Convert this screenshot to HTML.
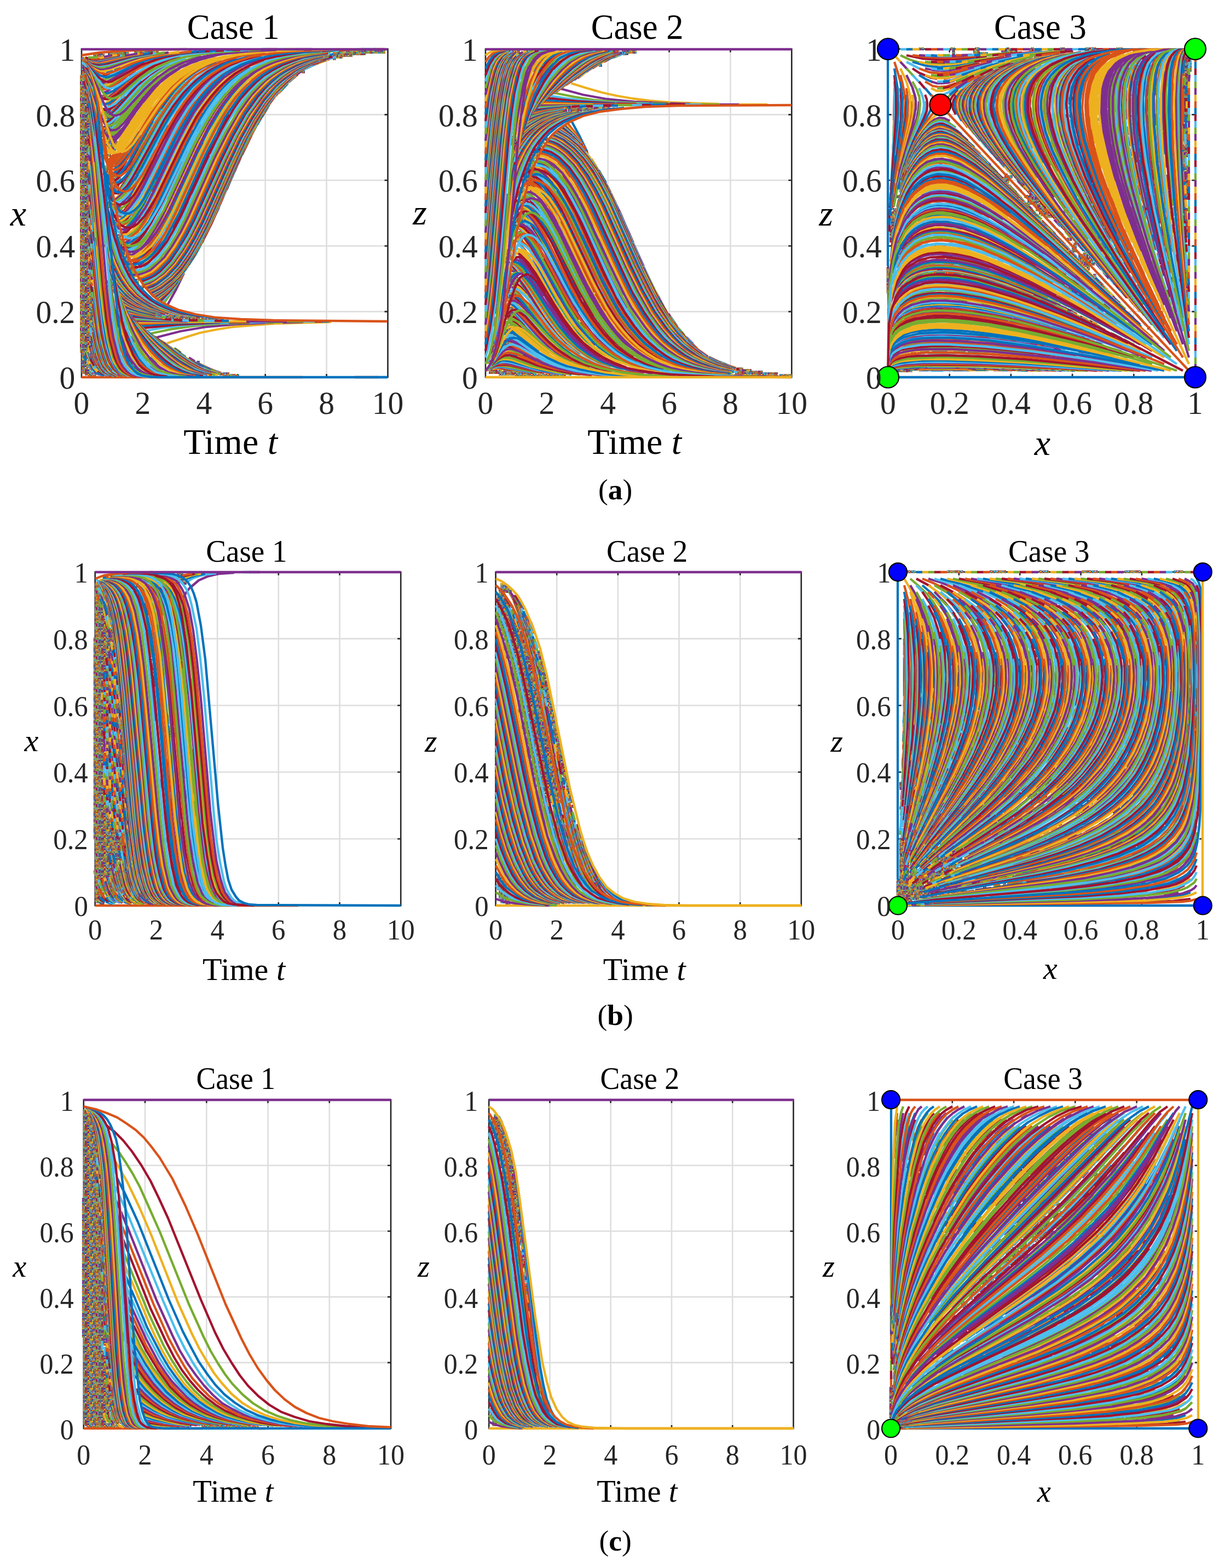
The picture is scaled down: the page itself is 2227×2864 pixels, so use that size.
<!DOCTYPE html><html><head><meta charset="utf-8"><style>html,body{margin:0;padding:0;background:#fff;}svg{display:block;}.a{stroke:#0072BD}.b{stroke:#D95319}.c{stroke:#EDB120}.d{stroke:#7E2F8E}.e{stroke:#77AC30}.f{stroke:#4DBEEE}.g{stroke:#A2142F}</style></head><body><svg width="2227" height="2864" viewBox="0 0 2227 2864" font-family='"Liberation Serif", "Times New Roman", serif' fill="#000"><defs><pattern id="mot" width="30" height="30" patternUnits="userSpaceOnUse" shape-rendering="crispEdges"><path fill="#76479e" d="M0 0h2.5v2.5h-2.5z"/><path fill="#885947" d="M2.5 0h2.5v2.5h-2.5z"/><path fill="#613c7e" d="M5 0h2.5v2.5h-2.5z"/><path fill="#325591" d="M7.5 0h2.5v2.5h-2.5z"/><path fill="#c6ab29" d="M10 0h2.5v2.5h-2.5z"/><path fill="#747974" d="M12.5 0h2.5v2.5h-2.5z"/><path fill="#4d679a" d="M15 0h2.5v2.5h-2.5z"/><path fill="#604e8a" d="M17.5 0h2.5v2.5h-2.5z"/><path fill="#ae773b" d="M20 0h2.5v2.5h-2.5z"/><path fill="#828896" d="M22.5 0h2.5v2.5h-2.5z"/><path fill="#961d4e" d="M25 0h2.5v2.5h-2.5z"/><path fill="#5aa0aa" d="M27.5 0h2.5v2.5h-2.5z"/><path fill="#82348a" d="M0 2.5h2.5v2.5h-2.5z"/><path fill="#66855c" d="M2.5 2.5h2.5v2.5h-2.5z"/><path fill="#993c51" d="M5 2.5h2.5v2.5h-2.5z"/><path fill="#4475ab" d="M7.5 2.5h2.5v2.5h-2.5z"/><path fill="#72ae46" d="M10 2.5h2.5v2.5h-2.5z"/><path fill="#bcb55f" d="M12.5 2.5h2.5v2.5h-2.5z"/><path fill="#c25829" d="M15 2.5h2.5v2.5h-2.5z"/><path fill="#a87c3e" d="M17.5 2.5h2.5v2.5h-2.5z"/><path fill="#bfb139" d="M20 2.5h2.5v2.5h-2.5z"/><path fill="#53ac9b" d="M22.5 2.5h2.5v2.5h-2.5z"/><path fill="#6a6552" d="M25 2.5h2.5v2.5h-2.5z"/><path fill="#716aab" d="M27.5 2.5h2.5v2.5h-2.5z"/><path fill="#439cbd" d="M0 5h2.5v2.5h-2.5z"/><path fill="#8f6e6e" d="M2.5 5h2.5v2.5h-2.5z"/><path fill="#749d4e" d="M5 5h2.5v2.5h-2.5z"/><path fill="#698f52" d="M7.5 5h2.5v2.5h-2.5z"/><path fill="#da7520" d="M10 5h2.5v2.5h-2.5z"/><path fill="#6faf53" d="M12.5 5h2.5v2.5h-2.5z"/><path fill="#b7563d" d="M15 5h2.5v2.5h-2.5z"/><path fill="#5f3b6a" d="M17.5 5h2.5v2.5h-2.5z"/><path fill="#3198b6" d="M20 5h2.5v2.5h-2.5z"/><path fill="#a98768" d="M22.5 5h2.5v2.5h-2.5z"/><path fill="#91a344" d="M25 5h2.5v2.5h-2.5z"/><path fill="#cc973c" d="M27.5 5h2.5v2.5h-2.5z"/><path fill="#91215d" d="M0 7.5h2.5v2.5h-2.5z"/><path fill="#117aa9" d="M2.5 7.5h2.5v2.5h-2.5z"/><path fill="#842549" d="M5 7.5h2.5v2.5h-2.5z"/><path fill="#92968e" d="M7.5 7.5h2.5v2.5h-2.5z"/><path fill="#816551" d="M10 7.5h2.5v2.5h-2.5z"/><path fill="#7a8f41" d="M12.5 7.5h2.5v2.5h-2.5z"/><path fill="#3a8e79" d="M15 7.5h2.5v2.5h-2.5z"/><path fill="#136faf" d="M17.5 7.5h2.5v2.5h-2.5z"/><path fill="#c98020" d="M20 7.5h2.5v2.5h-2.5z"/><path fill="#c28d4b" d="M22.5 7.5h2.5v2.5h-2.5z"/><path fill="#938b89" d="M25 7.5h2.5v2.5h-2.5z"/><path fill="#b85323" d="M27.5 7.5h2.5v2.5h-2.5z"/><path fill="#7c8d3e" d="M0 10h2.5v2.5h-2.5z"/><path fill="#7d5798" d="M2.5 10h2.5v2.5h-2.5z"/><path fill="#aab677" d="M5 10h2.5v2.5h-2.5z"/><path fill="#af582b" d="M7.5 10h2.5v2.5h-2.5z"/><path fill="#846652" d="M10 10h2.5v2.5h-2.5z"/><path fill="#7f9566" d="M12.5 10h2.5v2.5h-2.5z"/><path fill="#7c3e8e" d="M15 10h2.5v2.5h-2.5z"/><path fill="#beb55d" d="M17.5 10h2.5v2.5h-2.5z"/><path fill="#a07d4b" d="M20 10h2.5v2.5h-2.5z"/><path fill="#476599" d="M22.5 10h2.5v2.5h-2.5z"/><path fill="#ac972a" d="M25 10h2.5v2.5h-2.5z"/><path fill="#b7402b" d="M27.5 10h2.5v2.5h-2.5z"/><path fill="#d86b1f" d="M0 12.5h2.5v2.5h-2.5z"/><path fill="#8ab36a" d="M2.5 12.5h2.5v2.5h-2.5z"/><path fill="#89504c" d="M5 12.5h2.5v2.5h-2.5z"/><path fill="#956e6a" d="M7.5 12.5h2.5v2.5h-2.5z"/><path fill="#c47841" d="M10 12.5h2.5v2.5h-2.5z"/><path fill="#ac4928" d="M12.5 12.5h2.5v2.5h-2.5z"/><path fill="#974b2e" d="M15 12.5h2.5v2.5h-2.5z"/><path fill="#67b379" d="M17.5 12.5h2.5v2.5h-2.5z"/><path fill="#c83f20" d="M20 12.5h2.5v2.5h-2.5z"/><path fill="#3b9284" d="M22.5 12.5h2.5v2.5h-2.5z"/><path fill="#af4e2b" d="M25 12.5h2.5v2.5h-2.5z"/><path fill="#81567a" d="M27.5 12.5h2.5v2.5h-2.5z"/><path fill="#6b66b3" d="M0 15h2.5v2.5h-2.5z"/><path fill="#a29851" d="M2.5 15h2.5v2.5h-2.5z"/><path fill="#7e2f8e" d="M5 15h2.5v2.5h-2.5z"/><path fill="#92245c" d="M7.5 15h2.5v2.5h-2.5z"/><path fill="#295a99" d="M10 15h2.5v2.5h-2.5z"/><path fill="#9b9c29" d="M12.5 15h2.5v2.5h-2.5z"/><path fill="#e69b20" d="M15 15h2.5v2.5h-2.5z"/><path fill="#e1ae28" d="M17.5 15h2.5v2.5h-2.5z"/><path fill="#3c6b8f" d="M20 15h2.5v2.5h-2.5z"/><path fill="#b45744" d="M22.5 15h2.5v2.5h-2.5z"/><path fill="#cf9e25" d="M25 15h2.5v2.5h-2.5z"/><path fill="#809894" d="M27.5 15h2.5v2.5h-2.5z"/><path fill="#d56520" d="M0 17.5h2.5v2.5h-2.5z"/><path fill="#5d9a5a" d="M2.5 17.5h2.5v2.5h-2.5z"/><path fill="#8f364e" d="M5 17.5h2.5v2.5h-2.5z"/><path fill="#d44d1b" d="M7.5 17.5h2.5v2.5h-2.5z"/><path fill="#968885" d="M10 17.5h2.5v2.5h-2.5z"/><path fill="#839897" d="M12.5 17.5h2.5v2.5h-2.5z"/><path fill="#89b04f" d="M15 17.5h2.5v2.5h-2.5z"/><path fill="#886b54" d="M17.5 17.5h2.5v2.5h-2.5z"/><path fill="#735563" d="M20 17.5h2.5v2.5h-2.5z"/><path fill="#639664" d="M22.5 17.5h2.5v2.5h-2.5z"/><path fill="#a36a60" d="M25 17.5h2.5v2.5h-2.5z"/><path fill="#949259" d="M27.5 17.5h2.5v2.5h-2.5z"/><path fill="#9d844f" d="M0 20h2.5v2.5h-2.5z"/><path fill="#916c4a" d="M2.5 20h2.5v2.5h-2.5z"/><path fill="#be3424" d="M5 20h2.5v2.5h-2.5z"/><path fill="#6c5876" d="M7.5 20h2.5v2.5h-2.5z"/><path fill="#524275" d="M10 20h2.5v2.5h-2.5z"/><path fill="#8f988e" d="M12.5 20h2.5v2.5h-2.5z"/><path fill="#449f96" d="M15 20h2.5v2.5h-2.5z"/><path fill="#9a496e" d="M17.5 20h2.5v2.5h-2.5z"/><path fill="#6184c7" d="M20 20h2.5v2.5h-2.5z"/><path fill="#424c83" d="M22.5 20h2.5v2.5h-2.5z"/><path fill="#a2683d" d="M25 20h2.5v2.5h-2.5z"/><path fill="#a75228" d="M27.5 20h2.5v2.5h-2.5z"/><path fill="#6497a4" d="M0 22.5h2.5v2.5h-2.5z"/><path fill="#b3742a" d="M2.5 22.5h2.5v2.5h-2.5z"/><path fill="#915d6c" d="M5 22.5h2.5v2.5h-2.5z"/><path fill="#c53c21" d="M7.5 22.5h2.5v2.5h-2.5z"/><path fill="#edb120" d="M10 22.5h2.5v2.5h-2.5z"/><path fill="#633967" d="M12.5 22.5h2.5v2.5h-2.5z"/><path fill="#4dafb7" d="M15 22.5h2.5v2.5h-2.5z"/><path fill="#6d75aa" d="M17.5 22.5h2.5v2.5h-2.5z"/><path fill="#6bbcc8" d="M20 22.5h2.5v2.5h-2.5z"/><path fill="#ce461d" d="M22.5 22.5h2.5v2.5h-2.5z"/><path fill="#d07f34" d="M25 22.5h2.5v2.5h-2.5z"/><path fill="#cbac3e" d="M27.5 22.5h2.5v2.5h-2.5z"/><path fill="#bfa72c" d="M0 25h2.5v2.5h-2.5z"/><path fill="#6da66e" d="M2.5 25h2.5v2.5h-2.5z"/><path fill="#9b8649" d="M5 25h2.5v2.5h-2.5z"/><path fill="#40aacd" d="M7.5 25h2.5v2.5h-2.5z"/><path fill="#ca411f" d="M10 25h2.5v2.5h-2.5z"/><path fill="#a7834a" d="M12.5 25h2.5v2.5h-2.5z"/><path fill="#386a93" d="M15 25h2.5v2.5h-2.5z"/><path fill="#e2801c" d="M17.5 25h2.5v2.5h-2.5z"/><path fill="#867730" d="M20 25h2.5v2.5h-2.5z"/><path fill="#886c7c" d="M22.5 25h2.5v2.5h-2.5z"/><path fill="#71ae49" d="M25 25h2.5v2.5h-2.5z"/><path fill="#736266" d="M27.5 25h2.5v2.5h-2.5z"/><path fill="#5e4e6f" d="M0 27.5h2.5v2.5h-2.5z"/><path fill="#246da2" d="M2.5 27.5h2.5v2.5h-2.5z"/><path fill="#6a94bd" d="M5 27.5h2.5v2.5h-2.5z"/><path fill="#b63f2b" d="M7.5 27.5h2.5v2.5h-2.5z"/><path fill="#792c53" d="M10 27.5h2.5v2.5h-2.5z"/><path fill="#bcb458" d="M12.5 27.5h2.5v2.5h-2.5z"/><path fill="#4bafc0" d="M15 27.5h2.5v2.5h-2.5z"/><path fill="#1c63b3" d="M17.5 27.5h2.5v2.5h-2.5z"/><path fill="#77328b" d="M20 27.5h2.5v2.5h-2.5z"/><path fill="#7f4385" d="M22.5 27.5h2.5v2.5h-2.5z"/><path fill="#984571" d="M25 27.5h2.5v2.5h-2.5z"/><path fill="#67a785" d="M27.5 27.5h2.5v2.5h-2.5z"/></pattern><clipPath id="ca0"><rect x="146" y="86.5" width="565.5" height="605.5"/></clipPath><clipPath id="ca1"><rect x="884" y="86.5" width="565.3" height="605.5"/></clipPath><clipPath id="ca2"><rect x="1619.5" y="86.5" width="567" height="605.5"/></clipPath><clipPath id="cb0"><rect x="170.7" y="1041.8" width="564.5" height="615.2"/></clipPath><clipPath id="cb1"><rect x="902.6" y="1041.8" width="564.2" height="615.2"/></clipPath><clipPath id="cb2"><rect x="1637.5" y="1041.8" width="562.8" height="615.2"/></clipPath><clipPath id="cc0"><rect x="149.8" y="2005.7" width="567.2" height="606.3"/></clipPath><clipPath id="cc1"><rect x="890.2" y="2005.7" width="562.3" height="606.3"/></clipPath><clipPath id="cc2"><rect x="1624.6" y="2005.7" width="567.2" height="606.3"/></clipPath></defs><rect width="2227" height="2864" fill="#fff"/>
<path d="M260.9 89.5V689M372.8 89.5V689M484.7 89.5V689M596.6 89.5V689M149 569.1H708.5M149 449.2H708.5M149 329.3H708.5M149 209.4H708.5" stroke="#dedede" stroke-width="2.6" fill="none"/>
<path d="M149 89.5H708.5V689H149ZM260.9 689v-6M260.9 89.5v6M372.8 689v-6M372.8 89.5v6M484.7 689v-6M484.7 89.5v6M596.6 689v-6M596.6 89.5v6M149 569.1h6M708.5 569.1h-6M149 449.2h6M708.5 449.2h-6M149 329.3h6M708.5 329.3h-6M149 209.4h6M708.5 209.4h-6" stroke="#262626" stroke-width="2.6" fill="none"/>
<g clip-path="url(#ca0)">
<path fill="url(#mot)" d="M632 92h72v3h-72zM245 92h45v6h-45zM608 95h96v3h-96zM197 95h39v6h-39zM608 98h60v3h-60zM170 98h21v6h-21zM608 101h36v3h-36zM608 104h18v3h-18zM608 107h6v3h-6zM149 104h6v9h-6zM149 113h9v6h-9zM551 128h6v6h-6zM149 119h6v18h-6zM185 143h6v3h-6zM182 146h9v6h-9zM182 152h15v6h-15zM185 158h12v3h-12zM146 137h9v27h-9zM185 161h6v3h-6zM146 164h12v6h-12zM185 173h9v9h-9zM188 197h12v3h-12zM188 200h15v3h-15zM146 170h15v36h-15zM185 203h18v9h-18zM191 212h9v6h-9zM146 206h18v27h-18zM188 230h18v3h-18zM185 233h21v9h-21zM185 242h18v9h-18zM188 251h21v6h-21zM194 257h21v6h-21zM194 263h18v6h-18zM197 269h15v3h-15zM200 272h12v3h-12zM197 281h6v6h-6zM191 302h6v6h-6zM188 308h9v6h-9zM188 314h27v6h-27zM206 320h9v3h-9zM206 323h15v6h-15zM203 332h6v6h-6zM203 338h15v3h-15zM200 341h18v6h-18zM212 347h6v3h-6zM200 365h6v3h-6zM197 368h9v3h-9zM197 371h24v6h-24zM197 377h27v3h-27zM215 380h9v9h-9zM218 389h6v9h-6zM209 401h6v9h-6zM209 410h9v6h-9zM215 428h6v6h-6zM212 434h9v6h-9zM218 440h9v9h-9zM188 446h6v6h-6zM215 449h12v6h-12zM218 455h9v3h-9zM218 458h12v3h-12zM218 461h21v3h-21zM221 464h18v6h-18zM224 470h15v3h-15zM224 473h12v3h-12zM227 476h9v9h-9zM230 485h21v6h-21zM146 233h15v261h-15zM233 491h18v3h-18zM233 494h12v3h-12zM146 494h18v6h-18zM194 512h9v3h-9zM245 509h9v9h-9zM194 515h12v3h-12zM146 500h21v24h-21zM197 518h9v6h-9zM257 521h6v6h-6zM197 524h12v12h-12zM302 575h33v3h-33zM302 578h63v3h-63zM305 581h93v3h-93zM362 584h36v3h-36zM146 524h24v81h-24zM146 605h21v27h-21zM146 632h15v9h-15zM146 641h12v3h-12zM149 644h9v6h-9zM149 650h12v6h-12zM149 656h9v9h-9zM359 659h6v6h-6zM149 665h12v9h-12zM149 674h15v3h-15zM149 677h18v3h-18zM149 680h24v3h-24zM407 680h12v3h-12zM155 683h21v3h-21zM407 683h30v6h-30zM161 686h15v3h-15z"/>
<g fill="none" stroke-width="4.3" stroke-linejoin="round">
<path class="b" d="M149 689l404 0"/>
<path class="c" d="M305 627l31-10 29-9 30-6 31-5 35-3 39-3 105-3"/>
<path class="d" d="M306 557l15-27 15-31M287 616l43-11 47-8 55-5 68-3M516 589l38-1"/>
<path class="e" d="M300 553l17-24 17-27M276 609l38-8 42-6 48-4 60-2M484 589l34-1"/>
<path class="f" d="M296 551l16-18 14-20M161 668l7 9 9 6"/>
<path class="b" d="M160 665l9 11"/>
<path class="a" d="M153 650l6 11"/>
<path class="f" d="M268 604l34-6 37-4 43-3 51-2M454 589l32-1"/>
<path class="g" d="M293 550l16-17 15-18"/>
<path class="d" d="M172 679l6 4 7 2"/>
<path class="f" d="M159 660l7 12"/>
<path class="a" d="M159 659l7 12"/>
<path class="c" d="M159 658l7 12"/>
<path class="g" d="M262 599l61-6 79-4M418 589l38-1"/>
<path class="a" d="M291 548l20-19 18-21"/>
<path class="f" d="M177 681l7 3 7 2"/>
<path class="g" d="M164 665l5 7 5 6"/>
<path class="a" d="M165 666l7 10M173 677l7 5 9 3M258 595l49-4 61-2M373 589l47-1"/>
<path class="b" d="M289 547l16-13 15-16M326 512l10-13"/>
<path class="a" d="M171 673l8 8 11 5"/>
<path class="c" d="M170 670l8 9"/>
<path class="d" d="M157 642l7 17"/>
<path class="e" d="M157 641l7 16"/>
<path class="b" d="M254 592l53-3 67-1"/>
<path class="c" d="M289 546l21-19 20-22M160 647l6 14 6 11"/>
<path class="e" d="M160 645l6 15"/>
<path class="f" d="M160 644l6 15"/>
<path class="c" d="M250 589l202-2"/>
<path class="d" d="M287 545l13-10 11-10 22-24"/>
<path class="e" d="M162 645l5 16 7 11"/>
<path class="f" d="M162 644l4 13M167 659l8 14M181 679l5 3 8 3"/>
<path class="g" d="M162 643l4 14 6 11"/>
<path class="a" d="M162 642l4 13"/>
<path class="d" d="M248 586l95 1M450 587l76 0"/>
<path class="e" d="M286 544l13-10 12-10 11-11 11-13M334 500l10-15M345 484l10-16M356 467l14-26"/>
<path class="g" d="M179 677l7 5 9 3"/>
<path class="a" d="M163 642l4 14"/>
<path class="b" d="M163 641l4 13"/>
<path class="c" d="M162 636l4 15"/>
<path class="e" d="M245 583l83 3M341 586l33 0M524 587l33 0"/>
<path class="f" d="M285 542l23-16 21-22M330 504l12-16 12-18M355 469l10-18M374 433l11-23M393 393l7-13M414 347l9-22M424 324l8-19M435 299l6-15M464 238l9-16M481 209l9-14M516 162l9-9"/>
<path class="c" d="M162 632l5 20M175 668l8 10"/>
<path class="d" d="M165 645l6 16"/>
<path class="f" d="M243 580l35 3 41 2M327 585l21 1M373 586l22 0M555 587l22 0"/>
<path class="g" d="M283 542l15-10 15-12 14-14 13-17M343 485l10-15M353 470l7-12M369 443l18-36 21-48M414 346l13-31M428 314l13-30M442 283l17-35M479 213l8-14M509 170l8-9"/>
<path class="d" d="M170 657l7 13 8 9M186 680l7 4 9 2"/>
<path class="e" d="M163 631l7 24 8 16M180 673l4 5 6 4"/>
<path class="f" d="M165 640l7 18"/>
<path class="g" d="M242 578l32 3 39 3M317 584l16 1M345 585l16 0M392 586l15 0M575 587l15 0"/>
<path class="a" d="M282 541l20-13 18-16 18-20 16-25M355 467l19-35M379 421l23-49M407 361l27-62M440 286l8-17M449 267l19-37M469 229l23-38M513 166l13-14M528 150l11-10"/>
<path class="f" d="M166 642l8 21 5 8 5 6M186 679l6 4 7 2"/>
<path class="g" d="M164 632l5 17M169 650l5 12 6 10"/>
<path class="a" d="M240 575l25 4 31 3M405 586l13 0M588 587l13 0"/>
<path class="b" d="M281 540l15-9 13-10 13-13 13-14M336 493l8-11M354 466l19-33M374 431l13-27M388 402l51-116 28-55M471 223l7-11M479 211l11-18 12-16M503 176l10-12M533 145l11-9M588 113l14-5"/>
<path class="a" d="M165 633l7 23M173 657l4 9 4 7 5 5 6 4"/>
<path class="b" d="M166 636l7 21 7 13M236 572l27 5 31 4"/>
<path class="c" d="M280 539l12-7 11-8 11-9 11-10 20-26 20-33M366 445l24-49 55-124M446 271l8-17M454 253l19-34M480 207l10-14M490 192l17-22M508 170l10-12M519 157l16-14M575 118l24-9M167 633l4 17 6 14M179 667l7 10 9 6"/>
<path class="d" d="M166 631l5 18 6 14"/>
<path class="b" d="M377 671l14 6 13 4"/>
<path class="c" d="M236 570l29 6 36 5"/>
<path class="d" d="M279 538l13-7 12-8 11-10 11-12 11-13 11-15 21-36M370 436l20-43 56-124 17-35 18-30M482 204l9-14M492 189l10-14M503 174l11-13 12-11 12-11 13-9M563 123l18-8"/>
<path class="e" d="M168 635l5 17 5 11M180 667l5 7 6 6 7 4 9 3"/>
<path class="f" d="M168 633l5 16M173 650l5 12"/>
<path class="c" d="M365 665l13 6"/>
<path class="d" d="M234 568l29 7 34 5"/>
<path class="e" d="M278 537l20-11 19-16 18-20 17-25 15-26 15-30 52-117 23-47 13-23 12-20 12-18 13-16M508 168l19-20M528 147l13-10M560 125l18-9"/>
<path class="g" d="M167 623l6 25M173 649l6 14M180 665l5 8 5 6 7 4 7 3"/>
<path class="d" d="M345 653l11 7M364 665l19 9 19 7"/>
<path class="e" d="M231 565l32 9 40 6"/>
<path class="f" d="M277 536l19-10 17-14 17-18 17-23 15-25 15-30 61-136 15-31 15-26 17-28 18-23 18-19 19-16M555 127l25-12M581 114l15-5M600 108l14-4"/>
<path class="g" d="M365 332l5-12"/>
<path class="b" d="M167 618l7 30M174 649l5 13 6 9 7 8 8 5"/>
<path class="c" d="M174 647l7 17"/>
<path class="e" d="M319 636l11 8M365 666l14 7M381 674l20 7"/>
<path class="f" d="M231 563l28 8 34 7"/>
<path class="g" d="M276 535l19-10 18-14 17-18 16-23 14-24 16-30 61-136 15-31 15-26 17-28 17-23 19-19 19-17M570 118l25-9"/>
<path class="d" d="M167 613l2 12M169 626l7 26 8 17 5 6 5 5 5 3 7 3"/>
<path class="e" d="M171 633l4 13"/>
<path class="f" d="M366 667l14 7M394 679l13 4"/>
<path class="g" d="M230 561l24 8 30 7"/>
<path class="a" d="M275 534l20-11 20-16 18-21 18-26 14-24 15-31 48-108 19-39 18-35 19-29 17-23 18-19 19-16 21-13M582 113l14-5"/>
<path class="f" d="M165 600l3 14M170 626l5 20 6 15M182 662l5 10 6 6 6 5 8 3"/>
<path class="g" d="M175 644l5 14M318 637l12 8M365 667l14 7"/>
<path class="a" d="M228 558l14 6 15 5 37 8"/>
<path class="b" d="M273 533l20-10 20-16 18-20 18-26 14-25 15-30 49-109 19-41 20-36 19-29 19-24 20-20 21-16 23-13M570 117l25-9"/>
<path class="a" d="M169 616l5 22 6 18 6 12 7 9M196 680l7 4 9 3M317 637l22 15M354 661l17 9 15 7"/>
<path class="b" d="M227 556l14 6 15 5 35 9"/>
<path class="c" d="M273 531l10-4 10-6 19-15 18-20 18-26 14-25 15-30 48-108 19-40 19-36 19-29 19-24 20-20 21-16 23-13"/>
<path class="d" d="M316 427l8-16M324 410l20-42M350 355l20-46M370 308l12-24M383 281l11-24"/>
<path class="c" d="M169 610l5 22 4 16 5 12 5 10M189 671l9 9 11 6"/>
<path class="b" d="M348 658l16 10M383 677l25 7"/>
<path class="c" d="M225 553l14 7 16 6 18 5 21 5"/>
<path class="d" d="M272 530l10-4 10-6 19-15 18-19 18-26 13-24 16-31 48-109 20-41 19-36 20-30 20-25 21-20 23-16 26-13M575 114l14-5M590 109l18-5"/>
<path class="e" d="M299 452l10-15M313 429l8-15M170 611l7 30 8 22 4 8 5 5 5 5 7 3"/>
<path class="c" d="M294 622l12 8M311 634l16 11M328 646l21 14 17 10 16 7 16 5"/>
<path class="d" d="M224 550l15 9 17 6 19 6 21 5"/>
<path class="e" d="M271 529l9-4 11-6 19-15 17-19 18-26 14-25 15-30 49-108 19-41 20-37 20-31 21-24 21-21 24-16 25-12M576 113l14-5"/>
<path class="f" d="M282 474l18-26"/>
<path class="g" d="M170 606l6 27 6 21 7 15 9 10M199 680l5 3 7 3"/>
<path class="d" d="M299 626l15 11M324 644l22 15M347 659l25 14M373 674l15 6 17 4"/>
<path class="e" d="M224 548l13 8 16 7 17 6 19 5"/>
<path class="f" d="M269 528l10-4 10-5 19-15 18-20 18-25 14-25 15-30 48-109 21-42 21-39 21-31 22-26 12-10 12-10 13-9 13-7 14-6 16-6"/>
<path class="g" d="M316 417l18-39 42-92 18-38M395 247l22-39"/>
<path class="b" d="M171 606l6 27 6 21 7 14 8 10M200 680l7 4 9 3"/>
<path class="e" d="M302 629l36 25 24 15M363 670l20 8 20 6"/>
<path class="f" d="M222 545l16 10 18 9 22 6 24 6"/>
<path class="g" d="M268 526l10-3 9-5 19-15 18-19 18-26 14-24 15-30 49-110 20-42 21-37 20-31 22-26 12-11 12-9 12-9 13-7 14-6 15-6M584 109l23-6"/>
<path class="a" d="M263 488l10-10M287 462l13-21 14-25"/>
<path class="d" d="M171 601l8 37 9 24 5 9 5 7 7 4 8 4"/>
<path class="f" d="M297 626l35 25 23 15 21 10 21 7"/>
<path class="g" d="M223 544l13 9 14 7 16 6 18 6"/>
<path class="a" d="M266 525l10-4 10-4 18-14 18-19 18-26 14-24 15-30 49-110 20-42 22-39 20-30 23-26 11-11 13-10 13-8 13-7 15-7 15-5M585 108l15-4"/>
<path class="b" d="M271 478l9-11 10-13M342 351l7-13M351 332l14-32M366 298l7-15M374 281l9-19M396 237l8-14"/>
<path class="f" d="M171 593l8 42 5 15 4 12 5 8 6 8 7 4 8 4"/>
<path class="g" d="M283 615l41 32 25 17 23 12 23 7"/>
<path class="a" d="M220 540l16 11 17 9 20 8 23 6"/>
<path class="b" d="M265 524l9-4 10-5 18-13 18-19 18-26 14-24 15-30 49-110 21-43 23-40 21-31 12-14 12-13 13-11 14-9 14-9 15-7 16-6 17-5"/>
<path class="c" d="M261 484l14-15M290 450l13-21 13-25 62-135 17-33 16-28M412 207l18-26 18-22"/>
<path class="a" d="M170 579l5 32 5 24 6 19 7 14M193 669l9 10M203 680l5 3 7 3M271 607l47 36 29 21 25 13 13 4 12 3"/>
<path class="b" d="M219 537l14 11 16 10 19 7 20 6"/>
<path class="c" d="M264 522l9-4 10-4 9-7 9-7 18-19 17-25 14-24 15-29 49-110 20-42 22-38 20-31 11-13 12-13 12-11 12-9 13-9 14-7 15-6 15-6M581 108l19-5"/>
<path class="d" d="M253 486l10-8M271 471l18-24 19-32"/>
<path class="c" d="M171 579l8 47 5 18 5 14 5 11 6 8 8 5 8 4"/>
<path class="b" d="M262 600l11 9M275 611l42 33 29 20 25 13 12 4 13 3"/>
<path class="c" d="M219 534l16 14 18 10 22 9 25 7"/>
<path class="d" d="M262 520l10-3 9-5 18-13 18-19 17-24 14-24 15-29 50-112 20-42 23-41 23-31 12-15 13-12 13-11 14-10 15-8 16-7 17-6 19-5"/>
<path class="e" d="M261 478l11-11 10-14M302 421l18-36 46-100 22-46 14-24 13-20 13-17 13-16"/>
<path class="f" d="M240 460l14-14M301 362l8-17"/>
<path class="e" d="M166 529l2 14M170 563l4 27M175 598l6 31 6 22 7 17 9 10M204 679l7 4 10 3"/>
<path class="f" d="M163 486l1 13"/>
<path class="c" d="M277 613l36 30 27 19 22 12 22 8M385 682l13 3"/>
<path class="d" d="M218 531l13 13 16 10 18 9 21 7M287 570l15 4"/>
<path class="e" d="M261 518l9-3 9-4 18-13 18-19 17-24 14-24 14-29 50-111 22-44 22-40 23-32 13-15 13-12 14-11 14-10 15-8 16-6 18-6 20-5"/>
<path class="f" d="M249 482l9-6 8-8M273 461l17-24 18-33 66-142M375 261l17-34 18-29M411 198l16-23M429 174l21-23"/>
<path class="g" d="M250 445l11-14 10-16"/>
<path class="a" d="M232 434l11-13"/>
<path class="g" d="M163 479l1 13M166 519l2 14M170 555l9 61 5 20 5 17 5 13 7 9 7 6 10 4"/>
<path class="d" d="M269 607l38 32 30 22 25 14 24 8"/>
<path class="e" d="M217 528l13 13 16 11 17 9 21 8M285 569l14 3"/>
<path class="f" d="M259 516l9-3 9-4 9-5 9-8 17-18 18-24 14-24 14-29 49-110 22-44 22-39 23-32 12-14 13-12 13-12 14-9 15-8 16-7 17-6 19-5"/>
<path class="g" d="M241 483l14-8M258 472l15-16 16-23M336 340l5-12M350 308l8-18M364 278l8-17"/>
<path class="a" d="M232 457l10-8M253 437l11-15"/>
<path class="b" d="M252 402l9-15"/>
<path class="c" d="M233 403l7-11"/>
<path class="b" d="M163 467l1 14M166 508l2 14M171 555l7 45 6 34 8 24 3 8 5 7M201 674l8 7 10 5"/>
<path class="c" d="M163 462l1 14M166 503l2 13"/>
<path class="e" d="M249 589l38 34 39 32 14 9 13 8 13 6 13 4M380 682l13 3"/>
<path class="f" d="M215 525l16 15 17 13 21 10 24 8"/>
<path class="g" d="M258 514l8-3 9-4 9-5 9-7 18-19 16-24 14-23 14-28 50-111 21-43 22-39 23-32 12-14 13-13 13-11 14-9 15-8 16-7 17-6 19-5"/>
<path class="a" d="M247 476l9-7 10-9M273 451l15-22 16-28 16-32 45-100 15-30 15-25 17-26 18-22 18-19 20-15"/>
<path class="b" d="M237 449l10-10 11-14M292 364l7-16M300 347l35-77M335 269l9-17M344 252l8-15M361 221l10-15"/>
<path class="c" d="M251 400l17-33"/>
<path class="d" d="M163 455l1 14M166 497l2 14M171 545l5 37 5 32 5 23 6 18 6 13 7 9 8 6 11 3"/>
<path class="e" d="M163 450l1 13M166 492l2 13"/>
<path class="f" d="M256 596l39 36 19 16 16 12 14 9 13 6 14 5 14 4"/>
<path class="g" d="M215 521l16 18 19 14 22 10 27 9"/>
<path class="a" d="M255 511l9-2 9-4 9-5 9-7 17-18 17-23 13-23 15-29 49-111 21-42 23-40 22-32 13-14 13-12 13-11 14-9 15-9 15-6 17-6 19-5M593 102l16-3"/>
<path class="b" d="M238 476l8-3 8-6M255 466l14-14 14-19 14-24 16-32M314 375l5-12"/>
<path class="c" d="M249 431l9-12 10-16 22-42M290 360l8-16"/>
<path class="d" d="M223 426l10-8"/>
<path class="f" d="M230 370l11-18M163 442l1 14M166 485l2 15M171 535l9 66 4 24 5 18 5 15 6 12 7 8 8 5"/>
<path class="g" d="M163 437l1 13M166 479l2 14M251 591l18 19 21 20 20 17 18 13 15 9 14 8 15 5 15 3"/>
<path class="a" d="M213 517l15 18 18 14 22 12 25 8"/>
<path class="b" d="M254 508l9-2 8-3 9-5 8-7 17-17 17-24 13-23 15-28 50-111 21-43 23-41 12-17 12-16 14-14 13-13 15-11 15-9 16-8 18-6 19-6 22-4"/>
<path class="c" d="M243 470l7-5 8-6 14-17M279 433l12-20 12-24 54-116 26-50 15-24 16-22 16-18 17-16"/>
<path class="d" d="M228 444l6-4 6-5M256 416l13-22 16-30"/>
<path class="e" d="M229 416l9-11 10-14"/>
<path class="g" d="M245 337l9-18"/>
<path class="a" d="M163 428l1 15M166 472l2 15M171 524l8 62 7 44 5 17 4 12 5 10 6 7"/>
<path class="b" d="M163 423l1 14M166 466l2 14"/>
<path class="a" d="M242 581l21 24M264 606l35 33 16 14 15 10 13 8 13 6 13 5 14 3"/>
<path class="b" d="M214 515l8 10 9 10 10 9 10 7 12 7 14 6 30 9"/>
<path class="c" d="M237 504l13 1M252 505l8-1 9-4 8-4 9-7 16-16 17-23 13-23 15-29 49-110 22-45 24-41 12-17 12-15 14-14 14-13 15-11 15-9 17-8 19-7 20-5 22-4"/>
<path class="d" d="M235 468l9-4 10-7M255 456l9-9 9-12 19-31 17-35 51-110 17-31 16-27 19-26 20-21 20-18 23-14"/>
<path class="e" d="M234 434l8-7 9-10 18-29"/>
<path class="f" d="M236 400l10-13M251 378l17-32 44-92 26-45M338 208l9-13M348 193l8-10"/>
<path class="g" d="M224 388l7-9 9-13"/>
<path class="c" d="M163 414l1 15M166 458l2 16M171 512l10 85 6 30 6 21 6 17 8 10 9 7 11 4"/>
<path class="d" d="M163 408l1 14M166 452l2 14"/>
<path class="a" d="M274 653l13 11"/>
<path class="b" d="M241 580l17 20 20 22 22 21 20 16 16 10 16 8 16 6 18 3"/>
<path class="c" d="M212 509l7 11 9 11 11 10 10 8 12 7 13 6 14 5 16 4"/>
<path class="d" d="M234 500l7 2 7 0M250 502l8-2 8-3 9-4 8-7 17-16 16-23 14-23 14-28 48-108 22-43 22-39 23-32 13-14 13-13 13-10 15-10 15-8 16-7 17-5 20-5M582 102l16-3"/>
<path class="e" d="M241 461l10-7 10-11 12-15 11-17M307 365l39-85 21-42 23-38 12-17 11-14"/>
<path class="f" d="M227 433l11-9M253 406l11-17 11-21 48-101 24-45 13-22 14-19 14-17 15-14"/>
<path class="g" d="M224 406l8-7 8-11M274 325l31-64 22-40 22-34 22-27"/>
<path class="a" d="M232 370l10-17 12-20M276 288l7-15M288 263l18-35"/>
<path class="c" d="M219 344l12-19"/>
<path class="e" d="M163 399l1 15M166 444l2 16M170 487l10 94 5 31 6 26 6 19 7 13 8 9 10 6"/>
<path class="f" d="M163 393l1 14M166 437l2 16"/>
<path class="b" d="M247 623l17 23"/>
<path class="c" d="M247 589l17 20 19 20 19 17 18 15 15 9 15 8 16 5 16 3"/>
<path class="d" d="M211 504l7 12 9 11 9 10 10 8 12 8 12 6 13 6 16 5M300 570l15 4"/>
<path class="e" d="M239 497l8 1 8-1 9-3 9-5 9-7 9-8 18-23 14-23 15-29 52-115 23-45 24-40 12-17 12-15 14-14 13-12 15-10 15-9 17-8 18-6 20-5 21-4"/>
<path class="f" d="M232 458l11-5 12-9M257 442l15-19 16-28 15-31 50-107 18-32 17-28 20-27 21-22 23-17 25-14"/>
<path class="g" d="M223 428l8-4 8-8M242 413l13-18M271 368l8-16M279 351l40-83 22-43 12-20 13-18 12-16 12-13M391 157l9-9"/>
<path class="a" d="M218 403l7-5 6-7M245 371l12-20M258 350l13-27"/>
<path class="c" d="M210 364l10-10"/>
<path class="d" d="M237 305l32-62"/>
<path class="g" d="M163 383l1 15M166 428l2 17M169 460l6 67 6 48 5 36 7 29 6 19 8 14 10 9 13 4"/>
<path class="a" d="M163 377l1 14M166 420l2 16M172 479l1 13"/>
<path class="b" d="M163 372l1 13"/>
<path class="c" d="M254 635l15 19 16 14"/>
<path class="d" d="M203 508l5 14M236 574l15 22 19 22 21 21 20 17 16 12 16 9 17 5 18 4"/>
<path class="e" d="M210 500l8 14 9 12 10 10 11 9 12 8 13 7 15 6 16 5"/>
<path class="f" d="M245 494l8-1 8-2 8-4 8-6 15-15 16-22 13-22 14-27 51-111 22-45 12-22 13-19 12-17 13-16 14-14 15-12 16-11 16-9 18-7 20-6 22-5 25-4"/>
<path class="g" d="M222 452l7 0 7-2M237 450l9-6 10-9 10-12 10-16 21-39 34-74M332 291l8-16M358 240l7-13M371 215l8-12"/>
<path class="a" d="M231 416l7-7 8-9 16-26 15-29 44-91 14-26 14-23 14-21 15-18 16-16 16-13"/>
<path class="b" d="M225 389l12-14 12-19 14-26 23-48M301 253l9-19M314 228l8-13"/>
<path class="c" d="M222 365l12-16M237 344l9-15"/>
<path class="d" d="M220 345l12-19 17-31"/>
<path class="b" d="M198 293l9-10M163 366l1 15M166 411l2 17M170 456l6 68 6 49 6 37 6 29 6 20 9 14 4 5 6 4 13 5"/>
<path class="c" d="M163 359l1 15M166 402l2 17M172 463l1 13"/>
<path class="d" d="M163 354l1 14M238 614l7 12M267 655l15 13 14 9"/>
<path class="e" d="M202 501l6 19M242 585l16 20 17 21 18 18 17 15 15 10 15 8 16 6 17 3"/>
<path class="f" d="M209 493l8 15 8 12 9 11 10 10 11 8 12 7 13 6 16 6M297 568l22 6"/>
<path class="g" d="M243 489l7-1 8-1 7-4 8-5 16-16 16-21 12-21 14-27 50-110 23-45 12-21 12-20 12-17 13-15 14-14 15-13 16-10 17-9 18-7 20-7 22-4 24-4"/>
<path class="a" d="M228 445l7-1 7-4 7-6 7-8M259 422l13-17 12-23 60-125 16-30 16-26 19-26 19-21 21-18 22-13"/>
<path class="b" d="M223 412l7-4 6-6M242 395l10-13M265 358l54-109 15-28 15-24 18-23 18-20 19-16 20-13"/>
<path class="c" d="M240 361l11-20 15-29"/>
<path class="d" d="M209 366l8-6 9-10"/>
<path class="e" d="M243 296l31-58 21-35 22-30 22-23"/>
<path class="b" d="M198 294l11-12"/>
<path class="c" d="M218 256l12-20"/>
<path class="d" d="M163 348l1 15M166 393l2 18M169 426l12 126 5 42 6 31 6 24 7 16 8 12 11 7"/>
<path class="e" d="M162 341l2 15M166 385l2 17M171 444l2 15"/>
<path class="f" d="M163 336l1 13"/>
<path class="e" d="M224 588l5 12M242 624l13 20 15 16"/>
<path class="f" d="M200 494l7 21M232 569l8 14M241 584l15 22 18 22 18 18 17 15 16 11 16 7 17 5 19 3"/>
<path class="g" d="M209 489l8 16 9 14 10 12 11 11 13 9 14 8 16 6 18 6"/>
<path class="a" d="M223 476l8 5 8 2M240 483l7 0 8-2 7-3 8-5 15-14 16-21 12-22 14-26 49-108 23-44 12-23 13-19 12-17 13-15 14-14 15-12 16-11 16-9 18-7 20-6 22-4 24-4"/>
<path class="b" d="M216 436l6 2 5 0 6-2 6-3 12-10 13-17 11-18 12-22 42-90 20-39 20-34 21-28 20-23 22-17 24-15 27-10"/>
<path class="c" d="M217 405l5-2 5-3 12-11M240 388l9-12 9-15 22-44M280 316l9-17"/>
<path class="d" d="M219 374l6-5 7-8 14-22"/>
<path class="e" d="M220 347l9-12 10-16 41-77 20-35 21-30 22-24"/>
<path class="f" d="M211 333l11-13M228 312l8-14"/>
<path class="g" d="M216 309l18-29"/>
<path class="b" d="M199 295l6-6 7-8"/>
<path class="c" d="M212 268l37-60"/>
<path class="f" d="M163 328l1 15M166 373l2 18M168 392l2 26M170 419l7 80 6 58 6 45 6 31 8 24 8 15 5 5 5 5 6 2 8 3"/>
<path class="g" d="M162 322l2 15M166 365l2 17M171 423l2 17"/>
<path class="a" d="M163 317l1 13"/>
<path class="f" d="M224 592l11 24M247 636l10 14 11 13 11 9 13 7"/>
<path class="g" d="M201 491l6 21M233 573l15 24 17 23 18 21 18 17 16 12 16 8 17 6 21 3"/>
<path class="a" d="M207 480l9 20 11 17 12 14 13 13 15 10 17 8 21 7 23 5"/>
<path class="b" d="M237 476l7 1 7-1 7-3 7-4 15-14 16-20 12-20 13-26 50-109 23-45 13-22 12-19 13-18 14-15 14-14 15-12 16-10 18-9 18-6 21-6 23-5 26-3"/>
<path class="c" d="M223 429l9-1 9-6 9-9 10-13M270 384l17-32 48-100 15-28 14-23 18-25 19-21 20-17 22-14"/>
<path class="d" d="M208 393l6 1 7-1M227 390l12-13 14-21 13-25 46-92 17-28 16-24 19-23 19-19 22-16 22-12"/>
<path class="e" d="M210 367l4-1 5-4 12-11M233 348l9-15M249 320l42-79 24-42M316 198l9-12"/>
<path class="f" d="M256 275l28-52 24-36 12-15 12-13 13-13 13-10"/>
<path class="g" d="M212 320l9-11 10-15"/>
<path class="a" d="M210 303l9-11 10-16"/>
<path class="b" d="M199 297l7-6 9-11"/>
<path class="c" d="M212 269l48-75 17-21 15-17"/>
<path class="a" d="M163 308l1 15M166 353l2 18M168 372l15 165 6 50 6 38 8 27 8 18 5 6 6 5 6 3 8 2"/>
<path class="b" d="M162 302l2 14M166 344l5 55M171 400l2 17M177 459l1 13"/>
<path class="c" d="M163 297l1 13M167 339l1 13"/>
<path class="f" d="M231 641l7 12 7 10 9 8 8 6"/>
<path class="g" d="M227 601l14 30 15 23M273 670l11 8 13 5"/>
<path class="a" d="M199 480l8 30M223 552l14 29 16 27 19 25 18 20 17 14 18 10 18 6 22 4"/>
<path class="b" d="M206 472l9 21 10 18 11 16 13 13 15 10 16 9 19 8 22 6"/>
<path class="c" d="M235 468l6 1 7 0 7-3 7-4 15-13 14-19 12-21 13-24 49-106 23-45 13-22 12-19 13-17 13-15 14-14 15-12 16-10 17-8 19-7 21-6 23-5 25-3"/>
<path class="d" d="M211 414l5 3 5 2 5 0 6-2M232 417l8-6 8-7 8-11 9-13 16-30 37-78 18-35 19-33 20-27 11-13 12-12 12-11 13-9 13-8 14-7 15-6 16-5"/>
<path class="e" d="M199 375l6 5 6 3M213 383l6-1 8-5 7-7 8-10M256 337l22-44"/>
<path class="f" d="M221 348l9-10 10-16 51-94 15-25 15-21 17-20 18-17 20-15 20-11"/>
<path class="g" d="M208 331l6-4 5-5M222 319l13-19 17-31M257 259l22-38M294 198l22-30"/>
<path class="a" d="M209 309l7-7 8-11M238 268l16-28"/>
<path class="b" d="M199 298l9-6 11-13"/>
<path class="c" d="M213 269l10-15 32-49 19-27 12-14 12-12 13-11 13-10"/>
<path class="e" d="M211 245l8-12"/>
<path class="c" d="M163 287l1 14M166 329l17 195 7 57 7 41 7 28 4 11 5 8 5 7 6 5 7 3 8 3"/>
<path class="d" d="M162 281l2 13M166 321l8 85M176 434l2 15"/>
<path class="e" d="M166 313l2 15"/>
<path class="f" d="M162 270l2 13M222 649l9 16 10 11"/>
<path class="g" d="M229 644l7 11 7 10"/>
<path class="a" d="M214 569l7 22M231 615l11 23 12 18 14 14 14 9"/>
<path class="b" d="M197 470l9 33M225 558l13 28 15 26 17 24 17 18 16 14 16 9 18 7 21 3"/>
<path class="c" d="M204 461l10 25 11 22 12 17 14 14 17 12 18 10 21 8 26 6"/>
<path class="d" d="M210 438l8 11M219 450l6 5 5 3M231 458l6 2 7 0 6-2 7-3 14-12 14-18 12-19 13-24 49-106 23-46 13-22 13-19 13-17 14-15 14-13 16-12 17-10 18-8 19-6 22-6 24-4 27-3"/>
<path class="e" d="M218 406l6 1 6-2 7-4 7-6 14-20 17-30M275 344l9-17"/>
<path class="f" d="M209 369l8 0 8-5 8-8 10-14M244 340l14-24 43-83 15-25 14-20 17-21 17-18 19-15 20-12"/>
<path class="g" d="M213 339l9-7 10-13"/>
<path class="a" d="M203 318l8-4 8-8M220 306l14-21 22-39"/>
<path class="b" d="M198 299l6-1 5-4 13-15"/>
<path class="c" d="M213 271l12-17 35-55 24-30 14-16 15-12 16-11 16-9"/>
<path class="e" d="M208 247l10-14M239 203l12-16M268 166l13-13"/>
<path class="g" d="M205 227l11-13"/>
<path class="e" d="M163 264l1 13M166 304l19 215 7 59 6 41 8 31 5 11 4 9 5 6 6 5 7 3 8 3"/>
<path class="f" d="M166 296l12 126M180 450l2 13"/>
<path class="g" d="M162 253l2 13M166 288l2 15M214 636l9 23"/>
<path class="a" d="M230 651l6 10 6 8 8 7 8 5"/>
<path class="b" d="M215 575l11 36 13 28M241 643l11 16 12 12 13 9 16 5"/>
<path class="c" d="M197 464l9 36M217 537l13 34 14 30 15 26 17 22 16 16 18 11 18 7 22 4"/>
<path class="d" d="M203 449l10 28 11 24 13 20 15 17 17 13 20 10 23 8 29 7"/>
<path class="e" d="M205 417l7 13 6 9 8 6 8 4 8 0 9-3 9-6 9-10 14-19 16-27 55-118 27-49 14-22 15-20 15-17 15-14 15-11 15-9 16-8 18-7 19-5 22-4 50-6M597 94l13-1M618 93l13-1M648 91l13 0"/>
<path class="f" d="M203 380l6 7 6 4 7 1 7-2M230 390l6-4 6-7 14-19 15-27 35-71 18-34 20-32 21-27 12-13 12-11 13-10 13-8 15-8 15-6 16-6 18-4"/>
<path class="g" d="M200 347l5 4 5 2 6 0 5-3M223 349l9-9 10-15 58-106 17-26 18-23 22-22 22-17 25-13 28-11"/>
<path class="a" d="M191 314l5 6 5 3M215 320l8-7 10-13 50-87 16-24 16-20 18-19 19-15 21-13 22-9"/>
<path class="b" d="M198 301l6 0 7-4 8-8 9-12M228 276l15-23M265 216l13-20"/>
<path class="c" d="M214 272l13-17 38-60 14-18 13-15 16-15 17-13 18-11 20-9"/>
<path class="d" d="M207 261l10-12"/>
<path class="e" d="M202 250l13-14M225 222l21-30 16-20M263 172l14-16M278 155l19-16"/>
<path class="f" d="M202 237l8-8 10-13"/>
<path class="g" d="M199 228l10-10"/>
<path class="a" d="M194 223l10-9"/>
<path class="b" d="M202 207l27-31"/>
<path class="c" d="M213 188l12-14"/>
<path class="g" d="M162 239l2 14M166 277l22 245 6 58 7 41 8 31 5 11 5 9 6 6 6 4 8 4 10 2"/>
<path class="a" d="M162 234l2 13M166 269l16 164"/>
<path class="b" d="M165 252l6 53M171 307l2 14M210 603l7 26 8 19 8 16 9 10"/>
<path class="c" d="M164 237l4 29M204 533l4 20M217 589l10 33 12 26 12 17 7 7 8 6"/>
<path class="d" d="M196 451l10 46M218 542l12 35 14 31 15 27 16 21 16 14 17 10 20 5 25 3"/>
<path class="e" d="M202 436l10 33 12 27 13 22 16 18 19 14 21 12 26 8 30 7"/>
<path class="f" d="M198 385l10 26M209 412l6 10 7 7M223 430l6 3 6 2 5 0 6-2 7-4 6-5 13-16 11-18 12-21 49-103 24-45 13-21 14-20 14-16 15-15 15-12 17-11 19-9 19-8 21-6 25-4 27-4 32-2M605 93l15-1M635 91l15 0"/>
<path class="g" d="M198 354l4 7 5 7M209 369l4 3 4 2 4 0 4-1 10-6 10-11 17-28 39-77 20-35 22-33 23-26 11-11 12-9 12-8 14-8 28-11 34-9"/>
<path class="a" d="M191 314l5 9 6 7M210 334l6-1 6-4 6-6 8-10 13-20 41-75 15-22 14-20M325 170l9-11M335 158l11-10M392 118l12-5"/>
<path class="b" d="M199 302l4 2 4 0 5-2 4-3 11-12 13-20M242 263l33-55 13-19 13-16 13-15 14-13 15-11 15-9"/>
<path class="c" d="M215 273l13-17 42-64 14-19 15-16 18-16 19-13 20-10 23-9"/>
<path class="d" d="M206 260l12-12 18-26"/>
<path class="e" d="M200 247l10-9M212 236l39-51 19-23 24-22 12-8 14-8"/>
<path class="f" d="M207 227l15-17M229 200l26-32 12-13 13-11"/>
<path class="g" d="M194 225l6-4 9-8"/>
<path class="a" d="M204 208l36-41 19-19"/>
<path class="b" d="M221 180l9-11"/>
<path class="c" d="M206 188l12-13"/>
<path class="b" d="M165 237l25 283 7 54 6 43 9 33 5 13 5 8 6 7 7 5 8 3 10 2"/>
<path class="c" d="M165 229l7 69 15 148M195 521l11 71 5 27 6 21M222 653l5 11 6 8 7 6 8 5"/>
<path class="d" d="M165 224l9 72M202 523l7 40 8 35M221 613l11 31 6 12 7 9 6 8 8 6 9 4 10 3"/>
<path class="e" d="M162 200l3 17M165 218l5 34M193 419l11 66M213 525l12 42 12 34 14 29 14 23 15 15 9 7 8 4 19 6 25 3"/>
<path class="f" d="M163 198l2 14M165 213l3 16M199 411l11 41 12 32 13 26 8 11 8 10 9 9 10 7 11 7 12 6 27 10 34 7"/>
<path class="g" d="M161 189l4 20M203 381l6 14 7 10M217 407l5 5 6 3 5 1 6 0 6-3 6-4 13-14 10-16 12-20 48-99 24-45 14-21 14-18 14-16 15-14 15-12 17-10 18-9 19-7 21-5 23-4 27-4 31-2M588 93l19-1M619 92l18-1M684 90l19 0"/>
<path class="a" d="M161 186l3 13M191 315l7 17 7 11M205 344l5 5 4 2 5 0 5-1M226 349l9-7 11-15 13-21 32-61 18-31 20-30 20-24 12-11 12-10 13-9 14-8 14-7 15-5 35-9"/>
<path class="b" d="M159 175l3 13M198 303l6 5 4 2 4 0 7-4 8-8 14-19 33-56 17-26 18-25 19-20 17-14 18-12 20-10 22-8"/>
<path class="c" d="M194 275l6 4 6 1M216 274l7-7 8-11 30-47 16-22 15-19 15-15 19-16 21-13 23-11 26-8"/>
<path class="d" d="M204 257l8-5 9-10 39-55M261 187l22-27M311 136l17-11"/>
<path class="e" d="M205 238l12-12 38-49 23-25 14-11 14-10 15-9 16-7"/>
<path class="f" d="M153 147l6 20M194 227l4-1 5-3 12-11M217 209l36-43M263 156l10-9"/>
<path class="g" d="M153 148l5 15M205 209l10-11 29-33 18-17 23-17 25-14"/>
<path class="a" d="M198 203l12-11"/>
<path class="b" d="M196 195l8-7 12-11"/>
<path class="c" d="M191 190l12-9"/>
<path class="d" d="M198 178l31-27M164 196l10 87 21 244 6 52 6 38 9 34 4 11 6 9 6 7 7 5 8 3 11 2"/>
<path class="e" d="M165 199l9 73 18 173M198 498l8 56 7 44 9 33 9 25M235 662l8 11 10 8 12 4 16 3"/>
<path class="f" d="M163 179l7 49 10 76M187 357l16 116M210 513l10 45 11 40 12 30 13 24 13 16 8 6 7 5 9 3 9 3 24 3M689 689l19 0"/>
<path class="g" d="M158 154l7 36 10 59M196 378l12 52 13 41 7 17 8 16 8 13 9 11 10 10 11 9 13 8 13 6 15 6 17 5 40 7"/>
<path class="a" d="M160 163l13 63M186 296l3 12M191 316l8 30 9 22M210 372l4 7 5 6 6 4 5 1 6 0 5-3 6-4 7-7 9-13 11-19 48-95 26-44 14-21 15-18 15-15 16-14 16-10 17-9 19-7 20-6 22-5 25-3 63-5M595 92l26-1M661 90l25 0"/>
<path class="b" d="M160 161l9 38M189 282l8 20M199 306l7 10 4 3 4 2 4 0 4-1 10-8 7-9 8-12 39-68 22-33 12-16 13-14 12-12 13-11 13-8 12-7 29-12 33-9 39-5"/>
<path class="c" d="M157 150l11 39M193 267l5 6 4 4 5 2 5 0M218 275l7-6 9-12 33-51 16-23 16-18 16-16 21-17 23-13 26-10 29-7"/>
<path class="d" d="M155 142l11 36M189 241l6 6 6 3 7 0 7-5 12-14 31-41 16-21 19-19 20-16 18-11 18-8 20-7 23-6"/>
<path class="e" d="M153 135l12 36M194 229l4 1 5-1 9-5 10-11 18-23M261 166l14-14M279 148l10-8"/>
<path class="f" d="M157 146l7 19M206 210l12-11 36-40 22-19 15-10 15-9 16-7 18-6"/>
<path class="g" d="M157 145l5 12M186 199l7 2 8-2 9-7 13-12"/>
<path class="a" d="M191 191l9-3 11-8M214 177l22-21 14-12 15-11 16-10"/>
<path class="b" d="M154 136l7 15M200 179l8-6 26-23 15-12 18-12 19-9"/>
<path class="c" d="M195 174l11-7"/>
<path class="d" d="M189 169l6-2 8-5M214 154l19-16M234 138l13-9"/>
<path class="e" d="M195 161l40-28"/>
<path class="f" d="M162 156l4 19M166 176l6 41 6 52 23 267 6 50 7 39 4 18 5 15 5 10 7 8 6 5 9 4 10 2 15 2"/>
<path class="g" d="M153 122l4 12M158 135l8 34 8 53 28 237M205 484l9 56 9 46 9 35 11 27 11 18 6 6 8 6 7 4 9 3 22 3M648 689l43 0"/>
<path class="a" d="M162 151l11 52 16 101M191 318l14 76 7 32 7 26 8 22 9 19 9 17 11 15 12 12 12 11 16 9 16 7 19 6 23 5 26 4 29 3"/>
<path class="b" d="M162 148l8 33 13 62M185 252l12 49M199 308l9 24 5 8 5 6 5 3 6 1 6-2 6-4 9-10 11-16 48-89 14-23 14-20 16-20 16-16 17-14 19-12 16-8 17-6 19-6 22-4 49-6 69-3M619 91l44-1"/>
<path class="c" d="M160 140l7 24 12 45M189 244l7 17 7 11 4 4 4 2 4 0 4-1M220 277l8-7 10-11 36-56 19-25 17-20 18-16 24-16 26-13 30-9 35-6"/>
<path class="d" d="M156 128l5 12M161 141l16 51M184 211l5 11 5 8M195 231l5 5 6 2 6-1 6-4 11-11 32-42 19-21 23-20 24-15 25-12 28-8 31-6 39-4"/>
<path class="e" d="M157 130l17 45M187 202l5 6 5 3 5 2 5-2M208 211l6-4 8-7 41-45 13-11 13-10 17-11 19-8 20-7 22-6"/>
<path class="f" d="M156 127l17 39M183 184l4 6 5 3M194 194l4 1 4-1 9-5 45-43 16-11 16-10 16-8 18-7 19-6 22-4"/>
<path class="g" d="M155 123l16 35M181 174l5 4 5 3 5 0 5-1M202 180l12-8 35-30 21-15 13-7 15-6 15-6 17-4"/>
<path class="a" d="M159 130l11 22M191 171l7-1 9-4 43-33M291 112l13-4"/>
<path class="b" d="M160 131l9 16M181 161l7 2 8-1M197 162l10-5 29-22 19-11 21-10 24-8"/>
<path class="c" d="M156 124l12 19M189 157l11-4 16-10M227 136l15-9"/>
<path class="d" d="M157 125l11 15M181 150l5 1 7-1M194 150l10-5 35-21 25-11"/>
<path class="e" d="M186 147l9-3 13-6"/>
<path class="f" d="M155 122l11 12M193 141l36-19 17-7"/>
<path class="g" d="M156 122l9 10M187 139l13-5"/>
<path class="a" d="M194 133l12-5M208 127l11-6"/>
<path class="f" d="M150 114l11 9"/>
<path class="a" d="M161 121l6 17 5 22 5 29 4 35 8 77 18 203 10 87 5 32 6 24 7 17 9 12 7 6 9 4 12 2 16 1 420 0"/>
<path class="b" d="M156 110l5 10 5 13 10 37 8 46 24 147 9 44 9 35 10 32 13 26 14 22 16 18 10 8 12 7 11 5 14 6 31 8 38 6 45 3 59 2 209 2"/>
<path class="c" d="M164 124l9 26 20 74 9 27 5 12 5 8 6 5 6 1 4-1 5-3 11-11 44-66 24-30 12-12 12-11 12-9 14-9 16-8 18-7 19-5 21-5 24-3 26-3 69-3M569 91l52-1"/>
<path class="d" d="M160 115l9 18 16 45 8 18 5 7 5 5 4 3 5 0 7-2 9-7 37-40 22-20 21-15 25-12 30-10 37-7 46-4 59-3M540 90l31 0"/>
<path class="e" d="M157 110l8 13 16 33 7 13 9 9 4 2 5 0 6-2 8-4 33-29 19-14 19-10 20-9 26-8 30-5 35-4 43-3M454 92l22-1M519 90l23 0"/>
<path class="f" d="M160 115l18 29 7 9 8 7 9 2 6-2 8-4 30-21 17-10 15-8 17-6 22-7 26-5 28-3 34-3M407 93l18-1M437 92l19-1M503 90l18 0"/>
<path class="g" d="M155 107l26 35 8 6 9 2 6-1 7-4 30-17 16-9 30-11 21-5 23-5 27-3 30-2M393 93l16-1M424 91l15 0M490 90l15 0"/>
<path class="a" d="M162 115l12 15 7 7 7 3 8 1 13-4 41-21 27-9 37-8 46-5M362 94l13-1M382 93l13-1M413 91l13 0M479 90l13 0"/>
<path class="b" d="M161 114l11 11 7 6 7 3 8 1 13-4 39-17 25-8 35-7 44-5"/>
<path class="c" d="M154 106l21 19 8 4 8 1 11-3 36-14 25-8 29-6 36-4"/>
<path class="d" d="M160 111l9 8 7 4 7 3 7 0 11-2 32-12 21-7 25-5 29-4"/>
<path class="e" d="M163 112l7 6 6 3 7 2 7 0 10-3 31-10 20-6 23-4 27-4"/>
<path class="f" d="M157 107l9 7 7 4 7 2 7 0 11-2 47-14 40-7"/>
<path class="g" d="M155 106l10 6 6 4 7 2 7 0 12-2 45-13 37-6"/>
<path class="a" d="M164 111l11 4 12 1 50-13 37-6"/>
<path class="b" d="M157 107l13 6 6 1 7 0 10-1 32-8 22-5M248 100l13-2"/>
<path class="c" d="M155 105l14 7 13 1 11-2 38-9 24-4"/>
<path class="d" d="M158 107l12 4 12 1 45-10 24-4"/>
<path class="e" d="M161 108l10 2 10 0 47-9"/>
<path class="f" d="M158 106l10 3 11 1 44-9"/>
<path class="g" d="M156 105l10 3 12 1 41-8"/>
<path class="a" d="M176 108l40-7"/>
<path class="b" d="M166 107l15 0 37-7"/>
<path class="c" d="M182 106l32-6"/>
<path class="d" d="M190 104l15-3"/>
<path class="e" d="M161 105l16 0"/>
<path class="b" d="M149 101l33-5 40-3 50-2 69-1"/>
<path class="d" d="M149 90l559 0"/>
</g></g>
<text x="426.1" y="70.7" font-size="66" text-anchor="middle" textLength="168.9" lengthAdjust="spacingAndGlyphs">Case 1</text>
<text x="149" y="755.5" font-size="60" text-anchor="middle" fill="#262626" textLength="28.8" lengthAdjust="spacingAndGlyphs">0</text>
<text x="260.9" y="755.5" font-size="60" text-anchor="middle" fill="#262626" textLength="28.8" lengthAdjust="spacingAndGlyphs">2</text>
<text x="372.8" y="755.5" font-size="60" text-anchor="middle" fill="#262626" textLength="28.8" lengthAdjust="spacingAndGlyphs">4</text>
<text x="484.7" y="755.5" font-size="60" text-anchor="middle" fill="#262626" textLength="28.8" lengthAdjust="spacingAndGlyphs">6</text>
<text x="596.6" y="755.5" font-size="60" text-anchor="middle" fill="#262626" textLength="28.8" lengthAdjust="spacingAndGlyphs">8</text>
<text x="708.5" y="755.5" font-size="60" text-anchor="middle" fill="#262626" textLength="57.6" lengthAdjust="spacingAndGlyphs">10</text>
<text x="137.4" y="710.1" font-size="60" text-anchor="end" fill="#262626" textLength="28.8" lengthAdjust="spacingAndGlyphs">0</text>
<text x="137.4" y="590.2" font-size="60" text-anchor="end" fill="#262626" textLength="72.0" lengthAdjust="spacingAndGlyphs">0.2</text>
<text x="137.4" y="470.3" font-size="60" text-anchor="end" fill="#262626" textLength="72.0" lengthAdjust="spacingAndGlyphs">0.4</text>
<text x="137.4" y="350.4" font-size="60" text-anchor="end" fill="#262626" textLength="72.0" lengthAdjust="spacingAndGlyphs">0.6</text>
<text x="137.4" y="230.5" font-size="60" text-anchor="end" fill="#262626" textLength="72.0" lengthAdjust="spacingAndGlyphs">0.8</text>
<text x="137.4" y="110.6" font-size="60" text-anchor="end" fill="#262626" textLength="28.8" lengthAdjust="spacingAndGlyphs">1</text>
<text x="421.2" y="828.5" font-size="66" text-anchor="middle">Time <tspan font-style="italic">t</tspan></text>
<text x="33.5" y="412.2" font-size="66" font-style="italic" text-anchor="middle">x</text>
<path d="M998.9 89.5V689M1110.7 89.5V689M1222.6 89.5V689M1334.4 89.5V689M887 569.1H1446.3M887 449.2H1446.3M887 329.3H1446.3M887 209.4H1446.3" stroke="#dedede" stroke-width="2.6" fill="none"/>
<path d="M887 89.5H1446.3V689H887ZM998.9 689v-6M998.9 89.5v6M1110.7 689v-6M1110.7 89.5v6M1222.6 689v-6M1222.6 89.5v6M1334.4 689v-6M1334.4 89.5v6M887 569.1h6M1446.3 569.1h-6M887 449.2h6M1446.3 449.2h-6M887 329.3h6M1446.3 329.3h-6M887 209.4h6M1446.3 209.4h-6" stroke="#262626" stroke-width="2.6" fill="none"/>
<g clip-path="url(#ca1)">
<path fill="url(#mot)" d="M1136 92h27v6h-27zM944 92h6v6h-6zM1136 98h12v3h-12zM1094 116h6v6h-6zM1073 194h42v3h-42zM1037 197h78v3h-78zM1037 200h45v3h-45zM1037 203h21v3h-21zM935 248h9v3h-9zM995 251h6v6h-6zM986 257h9v3h-9zM932 251h12v12h-12zM983 260h12v3h-12zM932 263h9v3h-9zM983 263h9v6h-9zM983 269h6v3h-6zM977 278h6v3h-6zM971 281h12v6h-12zM968 287h15v3h-15zM965 290h12v6h-12zM968 296h6v9h-6zM959 305h21v12h-21zM962 317h15v9h-15zM953 326h24v9h-24zM965 335h6v6h-6zM947 341h6v3h-6zM947 344h12v3h-12zM968 347h6v9h-6zM950 347h9v9h-9zM950 356h15v6h-15zM947 362h18v3h-18zM947 365h6v9h-6zM953 380h6v6h-6zM947 386h12v9h-12zM935 395h27v9h-27zM935 404h24v3h-24zM953 407h6v3h-6zM935 407h9v6h-9zM947 422h6v6h-6zM947 428h9v6h-9zM941 434h15v6h-15zM941 440h6v3h-6zM923 455h6v6h-6zM923 461h12v15h-12zM923 476h9v6h-9zM926 482h6v3h-6zM935 491h6v6h-6zM935 506h12v3h-12zM932 509h15v18h-15zM923 530h12v6h-12zM923 536h21v3h-21zM920 539h24v9h-24zM920 548h9v3h-9zM929 560h9v9h-9zM923 569h15v3h-15zM920 572h18v3h-18zM920 575h21v3h-21zM923 578h18v3h-18zM923 581h15v3h-15zM926 593h9v3h-9zM923 596h12v6h-12zM923 602h15v3h-15zM923 605h18v3h-18zM926 608h15v9h-15zM923 617h12v12h-12zM920 629h9v9h-9zM890 653h6v12h-6zM1346 671h12v3h-12zM1346 674h27v3h-27zM911 674h6v3h-6zM893 677h33v3h-33zM1346 677h48v3h-48zM893 680h87v3h-87zM1343 680h78v6h-78zM911 683h123v3h-123zM1424 683h24v6h-24zM941 686h93v3h-93z"/>
<g fill="none" stroke-width="4.3" stroke-linejoin="round">
<path class="a" d="M1044 221l14 26 15 31"/>
<path class="b" d="M1037 225l17 22 16 26"/>
<path class="c" d="M1043 152l29 9 28 8 27 6 29 5 31 4 36 3 90 3M1348 191l54 0M1034 227l16 19 15 21"/>
<path class="d" d="M1024 162l41 11 44 8 50 5 62 3M1223 189l38 1M1313 191l37 0M1031 229l18 18 15 19"/>
<path class="e" d="M1014 170l36 7 38 6 45 4 53 2M1191 189l34 1M1280 191l35 0M1029 230l15 14 13 14"/>
<path class="f" d="M1005 175l31 5 34 4 39 3 45 2M1160 189l33 1M1249 191l33 0M1027 231l18 15 16 17"/>
<path class="g" d="M999 179l56 6 69 4M1126 189l37 1M1215 191l37 0M1027 233l18 15M1046 249l14 15 14 17"/>
<path class="a" d="M995 183l58 5 75 2M1170 191l47 0M1024 233l17 13 16 15M1094 311l13 23"/>
<path class="b" d="M991 187l73 3 107 1M1024 235l17 13 16 14M1058 263l15 18M1080 290l9 14"/>
<path class="c" d="M988 190l95 1M1023 236l14 10 15 12 13 14 14 17M1080 291l8 12M1089 305l10 16M1110 340l15 32M1131 384l6 14M1148 423l9 20M1198 533l7 12"/>
<path class="d" d="M984 193l140-1M1021 237l13 8 12 9 12 12 11 12M1089 305l10 17M1103 329l12 22M1116 354l17 35 24 55M1157 445l19 42M1176 488l17 36M1198 534l14 25M1221 573l16 23M1254 616l12 12"/>
<path class="e" d="M983 196l67-3M1051 193l33-1M1122 192l34 0M1020 238l16 10 15 12 14 15 14 17M1080 293l12 18M1094 314l14 26M1109 341l7 14M1117 357l8 17M1131 387l8 18M1140 407l5 12M1150 430l19 44M1179 495l23 47M1207 551l10 17M1224 578l14 20M1239 599l11 13"/>
<path class="f" d="M979 199l68-5M1049 194l21-1M1083 193l22 0M1155 192l21 0M1019 238l18 11 17 14 16 18 15 21M1090 309l17 30M1109 342l12 25M1122 368l7 16M1130 386l42 95 21 45M1198 536l14 25M1226 583l16 21M1249 612l19 19M1315 661l13 5"/>
<path class="g" d="M979 201l29-3 35-3M1044 195l15-1M1067 194l16 0M1102 193l15 0M1173 192l16 0M1017 239l20 12 19 16 18 21 18 26M1093 315l13 23 13 26 35 79M1155 445l9 21M1165 467l8 19M1174 488l25 51 24 40M1230 589l8 11M1244 607l14 16 15 13"/>
<path class="a" d="M976 204l29-5 35-3M1058 195l13-1M1116 193l13 0M1016 240l21 12 19 17 18 20 18 27 14 24 15 30 52 118 24 49M1199 540l17 30M1217 571l17 25M1235 597l13 16M1249 614l9 9M1259 624l10 9M1295 652l25 12M1321 664l13 5"/>
<path class="b" d="M975 206l28-5 33-4M1015 241l21 12 19 16 19 21 18 27 13 23 14 28 55 124 27 54M1206 555l17 26 17 23M1240 605l17 18M1261 627l16 13 16 11M1296 653l23 11 25 8"/>
<path class="c" d="M973 209l28-6 32-5"/>
<path class="b" d="M1058 352l6 12"/>
<path class="c" d="M1014 242l20 11 19 15 17 20 18 24 14 25 15 30 56 124 25 51 15 25 13 21 15 19 15 16M1257 624l10 9M1268 634l14 11M1283 645l11 7M1295 653l18 9 19 7"/>
<path class="d" d="M971 211l27-7 32-5"/>
<path class="e" d="M1120 105l14-5"/>
<path class="d" d="M1014 243l17 10 18 13 16 17 16 21 16 25 15 30 17 35 48 109 17 34 16 27 19 30 20 24 22 19 22 15M1294 653l23 11M1320 665l18 6"/>
<path class="e" d="M970 213l29-8 37-6"/>
<path class="f" d="M1127 102l15-5"/>
<path class="d" d="M1031 311l9 14"/>
<path class="e" d="M1013 244l19 11 18 14 18 19 17 24 15 25 15 29 56 127 26 52 16 26 15 22 15 19 16 16M1260 629l14 12 15 10M1298 656l15 7 16 6M1331 669l13 4"/>
<path class="f" d="M969 216l28-9 36-7"/>
<path class="g" d="M1103 113l11-6"/>
<path class="e" d="M1019 298l10 13M1059 361l24 53M1093 436l14 32M1117 489l11 24M1146 548l7 13"/>
<path class="f" d="M1011 245l18 9 17 13 17 17 16 21 15 24 16 31 16 34 49 110 17 33 15 28 19 28 21 24 20 19 23 16M1291 653l22 10M1314 664l25 8"/>
<path class="g" d="M966 219l15-6 16-5 39-7"/>
<path class="a" d="M1109 109l17-7"/>
<path class="g" d="M896 675l13 0"/>
<path class="f" d="M1037 325l19 34"/>
<path class="g" d="M1011 247l19 9 18 15 17 18 18 24 14 25 15 29 56 125 26 52 15 25 14 22 15 18 15 16M1254 626l14 12 14 10M1295 656l14 6M1310 663l24 8M1335 671l15 4"/>
<path class="a" d="M966 221l13-6 14-5 35-8"/>
<path class="b" d="M1055 143l11-8M1082 125l11-7"/>
<path class="g" d="M1020 305l15 21"/>
<path class="a" d="M1010 248l17 8 17 13 16 16 15 20 16 25 16 29 17 36 49 110 17 35 16 28 20 28 21 24 21 20 24 15M1293 655l24 11 27 8"/>
<path class="b" d="M964 223l14-6 16-6 17-5 20-3"/>
<path class="c" d="M1060 139l20-14M1097 115l13-7M1113 106l18-7"/>
<path class="d" d="M920 676l17 2"/>
<path class="a" d="M1012 298l11 14M1050 354l20 42 46 103 20 40"/>
<path class="b" d="M1008 249l9 4 10 5 19 15 19 20 18 26 14 25 15 30 48 108 20 40 19 36 19 29 18 24 20 19 20 16 23 13M1300 660l18 7 20 6"/>
<path class="c" d="M963 226l15-8 16-6 18-5 22-4"/>
<path class="d" d="M1049 146l12-9M1071 131l15-10M1086 121l18-11M1105 110l19-9M1127 100l13-4"/>
<path class="b" d="M1001 291l11 10M1027 320l11 17 11 20M1050 359l6 11"/>
<path class="c" d="M1006 250l10 4 10 5 19 15 18 20 18 25 15 25 15 30 48 110 20 41 20 37 20 29 20 25 21 20 23 16 25 12M1311 665l16 6 18 4"/>
<path class="d" d="M961 229l15-9 18-7 19-6 23-4"/>
<path class="e" d="M1057 140l16-12M1074 128l26-16 20-10"/>
<path class="c" d="M1013 305l14 19M1078 422l11 25M1094 458l8 18M1130 534l6 12"/>
<path class="d" d="M1005 252l10 3 10 6 9 6 10 8 18 19 17 26 14 24 15 30 51 112 21 43 22 40 22 32 13 14 12 13 14 11 14 10 14 8 16 7 17 6 19 5"/>
<path class="e" d="M960 231l15-9 15-7 18-6 21-5"/>
<path class="f" d="M1043 149l32-22 19-13M1111 105l13-5 14-4"/>
<path class="c" d="M899 674l8-1 10 1M918 674l29 5"/>
<path class="a" d="M935 485l8 11"/>
<path class="d" d="M1000 296l13 13M1029 331l13 21 13 24 59 130 16 32 15 26M1145 565l22 32 11 14 12 12"/>
<path class="e" d="M1004 253l10 4 9 5 19 14 18 19 18 25 14 24 15 30 50 112 21 44 22 40 23 31 12 15 13 12 13 11 14 10 15 8 15 7 17 6 19 5"/>
<path class="f" d="M960 234l13-9 14-7 16-6 19-6"/>
<path class="g" d="M1017 167l12-9M1034 155l38-27 23-15 20-10 21-7"/>
<path class="e" d="M915 673l34 6"/>
<path class="b" d="M950 515l9 14"/>
<path class="a" d="M961 391l7 11"/>
<path class="b" d="M971 376l8 12"/>
<path class="c" d="M970 344l9 10"/>
<path class="d" d="M978 319l9 8 8 10M1012 364l14 24"/>
<path class="e" d="M992 293l12 9M1013 312l12 16 12 20"/>
<path class="f" d="M1003 255l9 3 10 5 18 14 18 19 17 24 14 24 16 30 50 113 21 43 22 39 22 32 13 14 13 13 13 11 14 10 14 8 16 7 17 6 19 5"/>
<path class="g" d="M959 236l15-10 16-9 20-7 23-5"/>
<path class="a" d="M1026 160l15-11M1042 149l39-28 27-16M1120 100l14-4"/>
<path class="g" d="M911 672l25 4"/>
<path class="d" d="M936 485l9 12"/>
<path class="b" d="M969 410l7 11"/>
<path class="e" d="M988 333l10 13 9 14"/>
<path class="f" d="M983 290l11 7M999 302l10 9 10 12M1041 360l21 40 46 103 23 45 14 24 15 22 16 19 15 15"/>
<path class="g" d="M1001 257l10 3 9 4 10 7 9 7 17 19 18 24 14 25 15 29 50 112 21 44 22 39 23 32 12 14 13 13 13 10 14 10 14 8 16 7 17 6 19 5"/>
<path class="a" d="M958 239l15-11 18-10 21-8 24-5"/>
<path class="b" d="M1011 171l61-45 17-11 16-9M1106 105l13-5 13-4M887 677l15-5M904 672l15 0 38 7"/>
<path class="e" d="M948 511l21 33"/>
<path class="b" d="M947 415l8 10"/>
<path class="c" d="M984 442l7 15"/>
<path class="e" d="M987 377l12 20 12 24M1017 433l7 15"/>
<path class="f" d="M994 345l9 14"/>
<path class="g" d="M988 296l15 13M1010 317l18 25 18 33 17 33 39 87 20 42M1127 546l13 22M1141 570l18 26M1160 597l13 16"/>
<path class="a" d="M999 258l9 3 10 5 9 6 9 7 18 19 18 24 14 24 15 30 49 111 21 43 22 39 22 32 13 14 12 12 13 11 13 10 15 8 15 7 16 6 18 5"/>
<path class="b" d="M957 242l15-12 17-10 20-8 24-6"/>
<path class="c" d="M1018 165l42-32 26-17 22-12 22-8"/>
<path class="d" d="M906 671l16 0 45 9"/>
<path class="c" d="M939 572l10 11"/>
<path class="g" d="M935 483l12 13"/>
<path class="c" d="M956 433l13 21"/>
<path class="e" d="M954 376l10 9"/>
<path class="f" d="M961 352l10 10"/>
<path class="g" d="M975 330l11 11 11 14M1025 405l8 17M1034 424l33 72 19 38M1087 537l10 17M1098 555l7 13"/>
<path class="a" d="M980 296l12 7M996 306l16 17 17 25M1084 462l8 18"/>
<path class="b" d="M998 260l9 3 9 4 9 6 9 7 18 18 17 25 14 24 15 29 50 112 21 43 23 40 22 31 12 14 13 13 13 11 14 9 15 8 15 7 17 6 19 5M1333 675l14 3"/>
<path class="c" d="M956 245l15-14 18-10 21-9 25-6"/>
<path class="d" d="M1021 162l40-31 26-17 23-12 22-7"/>
<path class="f" d="M891 675l12-4 13-1 54 10"/>
<path class="a" d="M949 510l36 57M985 567l13 19"/>
<path class="d" d="M973 470l44 82"/>
<path class="f" d="M962 390l7 10 8 12"/>
<path class="g" d="M967 363l9 11 11 15"/>
<path class="a" d="M988 348l9 13 11 17 24 49M1033 429l14 30"/>
<path class="b" d="M986 303l11 8 11 12M1013 330l15 22 15 28 59 127 14 29 14 25 17 26 17 21 17 19 19 15"/>
<path class="c" d="M996 262l10 3 9 4 8 6 9 7 18 18 17 24 14 24 15 28 50 113 21 42 22 40 22 31 13 14 13 13 12 11 14 9 15 8 16 7 16 6 19 5M1330 675l14 3"/>
<path class="d" d="M955 248l16-15 18-11 22-9 26-7"/>
<path class="e" d="M1008 172l41-33 28-20 23-14 22-8"/>
<path class="a" d="M895 673l11-4 12 0 57 11"/>
<path class="f" d="M951 592l13 14"/>
<path class="c" d="M936 482l6 6 8 10"/>
<path class="f" d="M946 413l6 5 7 8"/>
<path class="g" d="M972 412l20 35M1022 507l23 44M1045 552l11 17"/>
<path class="a" d="M974 378l10 14M990 402l15 28 37 77 19 37M1065 552l14 22"/>
<path class="b" d="M965 334l6 3 7 6M991 359l14 21 15 29"/>
<path class="c" d="M975 302l9 4 9 6M995 314l16 17 15 24 17 31 20 43"/>
<path class="d" d="M995 265l8 2 9 4 9 5 9 7 18 18 17 24 14 24 14 29 50 111 22 44 23 41 12 17 12 15 13 15 14 12 14 11 15 10 16 8 17 6 19 6 21 4"/>
<path class="e" d="M954 251l16-16 19-12 23-10 27-7"/>
<path class="f" d="M1005 174l44-36 31-22 13-8 13-6 13-5 13-3"/>
<path class="c" d="M896 672l12-4 11 0 66 13"/>
<path class="a" d="M940 571l20 23"/>
<path class="b" d="M945 553l11 14"/>
<path class="d" d="M949 509l39 61 15 21 19 24 20 19"/>
<path class="g" d="M957 433l13 18 17 31"/>
<path class="b" d="M961 372l8 7 8 10M1014 456l29 61 21 40 22 33 22 27"/>
<path class="c" d="M972 344l7 7 9 9 17 28"/>
<path class="d" d="M983 310l13 10 14 16M1018 348l12 20 12 24 51 110 25 49 15 24 14 20 15 18 15 16"/>
<path class="e" d="M992 267l9 2 9 4 9 5 8 6 18 18 17 24 14 24 15 28 49 111 21 43 22 39 23 32 12 14 12 12 13 10 14 10 15 8 15 7 17 6 19 5M1324 675l14 3"/>
<path class="f" d="M953 254l17-17 19-13 24-11 28-7"/>
<path class="g" d="M990 188l11-11M1003 175l42-36 32-23 14-8 12-6 13-5 14-3"/>
<path class="e" d="M897 671l12-4 12 0 44 10 25 4"/>
<path class="b" d="M941 587l11 12"/>
<path class="c" d="M932 555l11 10"/>
<path class="f" d="M935 481l8 6 10 12"/>
<path class="g" d="M955 472l10 14 12 22"/>
<path class="a" d="M982 484l31 59 22 35 22 30 12 13 12 11"/>
<path class="b" d="M960 413l12 17M976 435l11 21"/>
<path class="c" d="M954 375l7 5 8 8M986 412l13 24"/>
<path class="d" d="M990 371l11 17 11 21 50 104 24 46 14 22 14 19 15 17 15 15"/>
<path class="e" d="M973 310l8 4 9 6M995 325l9 9 8 12 19 30 17 34 49 107 17 32 15 26 19 26 19 21 20 18 22 14"/>
<path class="f" d="M992 270l9 2 8 4 9 5 8 6 17 18 17 23 13 23 15 29 49 109 21 44 23 40 12 17 12 15 13 14 13 13 14 11 14 9 16 8 16 7 18 5 20 5M1330 677l17 3"/>
<path class="g" d="M952 258l8-10 9-9 10-7 10-7 24-11 30-8"/>
<path class="a" d="M999 178l37-33 32-25 25-15 12-5 13-4"/>
<path class="g" d="M895 672l13-5 13-1 10 1 38 9 25 5"/>
<path class="a" d="M928 644l17 7"/>
<path class="c" d="M936 600l29 26"/>
<path class="d" d="M956 595l10 12"/>
<path class="e" d="M937 550l9 9"/>
<path class="f" d="M947 533l9 12"/>
<path class="g" d="M950 508l11 16 32 50 19 26 11 14 12 12 13 11 12 9"/>
<path class="a" d="M948 476l8 10 10 15"/>
<path class="b" d="M949 445l12 14M971 476l10 17"/>
<path class="c" d="M947 413l8 5 9 10"/>
<path class="d" d="M963 390l12 14 14 22 48 97M1038 525l10 19"/>
<path class="e" d="M960 350l8 5 9 7M980 366l14 19M1006 405l52 109 23 43 14 22 13 18 14 17 14 14"/>
<path class="f" d="M979 318l10 7 9 9 10 13 10 15M1033 388l53 114 21 42 13 22 13 20 12 17 14 15"/>
<path class="g" d="M973 275l7-2 8 0M990 273l8 2 9 3 8 5 8 6 17 17 17 24 13 23 15 28 49 108 20 43 23 39 22 32 12 14 13 12 13 10 14 10 14 8 16 7 17 6 18 5M1317 675l20 4"/>
<path class="a" d="M951 261l17-18 8-8 11-7 22-12 27-8"/>
<path class="b" d="M984 193l19-19 23-21 23-20 19-14 16-10 15-7 15-6 16-3M894 672l14-7 7-1 7 0 10 2 42 10 33 6"/>
<path class="c" d="M923 639l13 5M946 649l18 9"/>
<path class="d" d="M934 618l40 28"/>
<path class="e" d="M928 589l7 3 7 6"/>
<path class="f" d="M941 570l40 45 23 22"/>
<path class="g" d="M940 542l9 9 11 14"/>
<path class="b" d="M936 480l4 2 5 4 12 14"/>
<path class="c" d="M950 459l10 11 10 16"/>
<path class="d" d="M958 432l9 11 10 17 41 78 22 36 11 17 12 15 12 13 12 12"/>
<path class="e" d="M977 417l11 18 14 27M1038 534l13 23"/>
<path class="f" d="M969 363l7 6 8 10 17 26 15 29 42 88 25 46 13 20 14 17 13 15 14 13"/>
<path class="g" d="M969 320l11 5 11 8M994 336l15 20 17 27 15 32 50 107 17 32 17 27 20 27 21 21 22 17 25 14"/>
<path class="a" d="M970 279l8-2 8 0M987 277l8 1 8 3 9 4 8 6 16 16 17 23 14 23 14 28 50 111 22 45 24 41 13 17 12 15 13 14 15 13 15 11 16 9 18 8 18 6 20 5 23 4"/>
<path class="b" d="M950 266l9-12 9-10 9-8 11-8 11-7 13-5 30-9"/>
<path class="c" d="M989 188l17-19 20-19 20-17 18-13 14-10 14-7 14-5 15-4"/>
<path class="d" d="M898 670l13-7 6-1 7 1 55 13 42 7"/>
<path class="e" d="M932 638l29 15"/>
<path class="f" d="M926 609l7 3 9 5M949 622l31 24"/>
<path class="g" d="M934 583l8 7 14 13"/>
<path class="a" d="M931 553l7 5 10 9"/>
<path class="b" d="M940 528l6 6 7 9M965 559l19 27 15 19 15 16 15 14"/>
<path class="c" d="M951 507l12 16 35 56 22 29 14 15 14 12 15 11 16 10"/>
<path class="d" d="M946 468l9 9 10 15M977 511l16 30"/>
<path class="e" d="M992 499l31 58 13 21 13 18 14 16 14 15 14 12 16 11"/>
<path class="f" d="M958 405l6 5 6 8 15 23"/>
<path class="g" d="M942 368l7-3 6 0M960 366l7 4 7 6M979 382l9 12M998 411l14 27 43 89 15 27 14 24 18 23 17 20 19 16 20 14"/>
<path class="a" d="M978 330l9 6 9 9 8 12 10 15 20 36 29 63M1063 472l21 44M1091 529l17 32"/>
<path class="b" d="M984 280l8 1 9 3 7 4 9 5 16 16 17 23 13 23 14 27 50 111 22 44 24 41 13 17 12 16 13 14 15 12 15 11 16 9 17 8 18 6 21 5 22 4"/>
<path class="c" d="M950 269l14-19 16-15 20-13 23-9M1024 212l12-3M1037 208l16-3"/>
<path class="d" d="M980 197l11-13M991 184l18-19 20-19 19-16 17-13 14-9 15-7 14-5 16-3"/>
<path class="f" d="M897 670l14-8 7-1 6 0 11 2 48 13 44 7"/>
<path class="g" d="M924 632l9 2 13 7M956 647l24 12"/>
<path class="a" d="M931 604l7 3 8 7"/>
<path class="b" d="M965 604l9 10"/>
<path class="c" d="M946 553l14 16M967 578l17 22 15 17 16 15 15 12"/>
<path class="d" d="M943 516l12 13"/>
<path class="e" d="M934 479l6 1 6 4 7 6 8 11"/>
<path class="f" d="M946 447l6 4 6 7M960 460l15 23 27 49M1003 534l20 34M1071 627l10 9"/>
<path class="g" d="M947 411l5 2 5 3 13 13M971 432l9 13M982 448l12 22M994 471l37 71 13 23 13 19M1060 589l9 11"/>
<path class="a" d="M954 374l5 1 6 3 12 11M978 391l9 13 9 15 23 46M1024 474l5 11M1057 540l7 14"/>
<path class="b" d="M965 333l6 1 8 4 7 6 8 7M997 356l12 17 13 22 61 129 17 31 16 26 19 26 21 21 22 18 24 13"/>
<path class="c" d="M982 285l8 0 8 3 8 4 8 5 16 16 16 22 13 21 14 27 51 111 21 44 13 22 12 20 12 17 13 15 14 15 15 12 15 11 17 9 17 7 19 6 22 5 24 4"/>
<path class="d" d="M949 274l8-13 9-12 10-10 12-8 12-8 14-6 15-6 17-5"/>
<path class="e" d="M986 190l17-20 19-20 20-17 17-14 15-10 15-7 15-5 16-4"/>
<path class="f" d="M1001 140l13-15"/>
<path class="a" d="M899 668l8-5 6-3 6-2 7 1 10 2 32 9 21 6 26 4 29 4"/>
<path class="b" d="M892 658l8-12M932 629l10 5 34 20 24 11"/>
<path class="c" d="M938 599l8 7 25 22 16 12 16 11 18 10"/>
<path class="d" d="M943 570l10 10 29 33 17 17 22 17 24 13"/>
<path class="e" d="M938 531l5 4 5 5M952 544l37 50 19 23 24 21 12 9 14 8"/>
<path class="f" d="M952 506l12 17 39 60 13 18 13 14 16 16 17 13 18 11 20 9"/>
<path class="g" d="M944 461l6 4 7 7M959 474l14 20 23 41"/>
<path class="a" d="M959 431l9 10 10 15 51 95 15 25 15 20 17 21 18 17 19 14 20 11"/>
<path class="b" d="M965 389l12 12 14 22 13 24 46 92 17 28 16 25 18 22 20 19 20 15 23 12"/>
<path class="c" d="M953 343l5-2 5 0 10 2M975 344l8 6 9 9 9 12 10 15 18 34 36 78 17 35 19 33 19 29 22 25 12 11 12 10 12 8 13 8 29 11"/>
<path class="d" d="M981 290l7 0 8 2 7 4 8 5 16 15 15 21 13 22 14 27 50 108 22 45 12 22 13 19 12 17 13 16 14 14 14 12 16 11 16 9 18 7 19 6 21 5 24 4"/>
<path class="e" d="M948 280l8-15 10-13 10-11 12-9 14-9 14-7 17-6 19-4"/>
<path class="f" d="M975 203l15-20M990 183l17-19 18-18 17-16 16-13 14-9 14-6 15-6 15-3"/>
<path class="g" d="M1011 126l11-10 11-8"/>
<path class="c" d="M896 670l9-8 7-4 7-2 8 0 10 2 32 11 20 5 24 5 28 4"/>
<path class="d" d="M918 624l7-2 8 1 9 4 13 9M981 653l23 11"/>
<path class="e" d="M928 587l7 2 8 5 38 35 23 17"/>
<path class="f" d="M932 552l4 1 5 2 13 13M955 569l28 34 17 18M1001 622l15 14"/>
<path class="g" d="M944 519l7 6 10 12"/>
<path class="a" d="M935 478l7 0 7 4 8 7 9 13M967 503l17 28"/>
<path class="b" d="M950 439l5 3 6 6 12 15"/>
<path class="c" d="M950 396l7 1 7 4 8 7 8 11M991 436l30 60"/>
<path class="d" d="M960 350l9 1 9 5 10 9 10 13M1002 384l20 37 53 110 15 27 15 24 20 26 20 21 21 16 23 14"/>
<path class="e" d="M961 303l8-5 8-2M978 296l7-1 7 2 7 3 8 5 15 14 16 21 13 21 13 26 51 110 22 45 13 22 12 19 12 17 13 15 15 15 15 12 16 10 17 9 18 7 21 6 22 5 25 3"/>
<path class="f" d="M946 286l9-16 10-15 11-11 12-11 14-9 15-7 17-6 20-5"/>
<path class="g" d="M939 274l7-16M972 207l15-21 19-23 20-21 20-18 16-12 16-9 17-6 17-4"/>
<path class="a" d="M988 151l11-15"/>
<path class="e" d="M890 675l22-18 7-4 8 0 11 2 35 13 24 6 29 6 34 4"/>
<path class="f" d="M891 660l10-19M921 617l6-2 7 1M935 617l10 5 29 21 18 11 21 10 23 8"/>
<path class="g" d="M923 580l4-2 4-1 5 1 5 2 10 9 20 21"/>
<path class="a" d="M943 541l6 5 8 9 40 52 21 21 15 12 15 11 16 8 18 8"/>
<path class="b" d="M953 505l13 18 43 65 14 18 14 15 18 16 18 13 20 11 23 8"/>
<path class="c" d="M928 466l5-7 5-3M942 455l5 0 7 3 6 6 7 9 12 19 29 52 15 25 17 24 16 20 18 18 19 14 20 12 22 10"/>
<path class="d" d="M946 410l8 0 8 4 9 8 9 13M981 436l15 25 42 83 13 22 14 21 16 21 17 17 18 16 19 12"/>
<path class="e" d="M947 366l6-4 6-2 5 0 6 2M971 362l8 6 8 8 8 11 8 13 17 30 36 76 18 35 20 34 20 27 11 13 11 12 13 11 13 9 13 8 15 7 15 6 16 5"/>
<path class="f" d="M975 302l7 0 7 1 7 2 7 5 15 14 16 20 12 21 14 26 49 107 22 45 13 22 13 19 12 17 13 15 14 14 15 12 16 10 17 9 18 7 20 6 23 4 25 4"/>
<path class="g" d="M946 292l9-18 10-15 11-14 12-11 14-9 16-8 18-6 20-5"/>
<path class="a" d="M940 277l5-14M970 210l15-23 18-24 21-22 20-18 17-12 17-9 17-6 20-4"/>
<path class="b" d="M993 141l15-17 15-13"/>
<path class="g" d="M898 667l10-10 8-5 7-3 7 0 12 3 39 15 24 7 34 7 42 4"/>
<path class="a" d="M896 650l7-13M918 612l5-3 5-2 5 0 6 2 10 7 35 27"/>
<path class="b" d="M944 568l11 11 37 40 22 20 15 10 15 8 16 8 17 6"/>
<path class="c" d="M941 521l8 5 8 8 45 62 14 16 13 14M1034 630l20 16M1075 658l18 8 20 6"/>
<path class="d" d="M935 477l4-2 4-1 5 2 5 3 11 11 14 21M979 513l34 57 13 19 12 15 13 15 14 14 16 11 15 10"/>
<path class="e" d="M937 432l5-4 4-2 5-1 6 2M961 430l9 9 10 15 57 104 18 28 18 22 21 22 22 17 25 14 27 10"/>
<path class="f" d="M943 382l5-5 5-4M954 373l7-1 7 1 7 5 7 7 8 9 8 13 20 37M1087 576l8 12"/>
<path class="g" d="M952 325l8-8 8-5 8-3 8 1 9 3 9 5 9 8 10 11 14 22 16 28 54 117 25 49 14 22 14 20 14 17 14 14 14 12 15 11 15 9 17 7 18 6 20 5 23 4 25 3"/>
<path class="a" d="M944 299l10-19 10-18 12-14 13-12 15-11 17-8 19-7 23-5"/>
<path class="b" d="M938 284l7-19M967 214l15-25 17-23 20-23 20-19 17-13 17-9 17-6 20-4"/>
<path class="c" d="M973 169l14-23M1007 122l15-13 16-9"/>
<path class="b" d="M893 671l16-17 7-5 7-4 8-1 13 3 43 19 28 8 40 7 51 5"/>
<path class="c" d="M892 656l7-13M923 601l8-4 8 1M940 599l12 7 36 31 21 15 14 7 15 6 16 6 17 4"/>
<path class="d" d="M931 550l5-1 4 0 10 6 11 11 20 25M1031 642l14 9"/>
<path class="e" d="M932 503l7-4 4-1 4 1M954 504l7 7 8 11 31 48 15 22 15 19 15 15 20 16 21 14 24 10 26 8"/>
<path class="f" d="M929 465l5-10 6-6M947 445l5 0 6 3 7 6 6 8 15 23 28 52M1019 545l9 16M1033 569l8 12M1042 582l9 13M1060 606l19 20"/>
<path class="g" d="M940 400l6-8 7-4 7-2 7 2M968 389l6 4 6 6 14 20 15 26 35 72 18 33 20 32 20 26 12 13 11 11 13 10 13 9 14 7 15 7 32 9"/>
<path class="a" d="M956 329l7-6 7-3 8-2 7 1 8 4 8 5 8 8 9 10 13 21 14 25 53 114 25 48 13 22 14 19 14 17 14 15 15 12 16 11 16 9 18 7 20 7 21 4 24 4 28 3"/>
<path class="b" d="M943 308l9-22 11-18 11-15 12-13 14-11 16-9 19-7 21-6"/>
<path class="c" d="M937 292l5-15M967 214l14-25 17-24 18-22 18-19 16-12 17-10 17-6 20-4"/>
<path class="d" d="M961 193l5-13M977 159l17-25 17-19M900 664l12-15 7-7 7-4 8-1 13 4 43 22 30 10 20 4 22 4 55 5"/>
<path class="e" d="M896 647l9-21M919 596l5-6 5-4M931 585l4-1 4 0 10 5 45 43 14 11 15 9 16 8 16 7 17 5 19 5"/>
<path class="f" d="M927 539l5-7 6-4M939 528l4 0 5 2 9 8 10 11 27 38 15 19 18 19 18 15 20 13 22 11 24 8 28 6"/>
<path class="g" d="M937 475l6-5 7-1 7 3 8 8 14 20 33 55 17 27 18 24 18 20 18 14 19 13 20 10 22 8"/>
<path class="a" d="M935 428l5-10 4-7M946 409l5-3 4-1 4-1 4 1 10 6 10 12 17 28 40 78 20 35 22 33 12 14 12 13 12 11 12 9 13 8 14 8 15 6 16 5 35 8"/>
<path class="b" d="M943 361l8-14M952 345l6-7 6-5M964 333l6-3 6-1 7 1 6 3 7 4 7 6 14 18 12 18 12 23 48 104 24 46 13 22 13 18 14 17 14 15 15 13 15 11 17 10 19 8 19 6 22 5 25 4 28 3M1346 685l13 1M1412 688l13 0"/>
<path class="c" d="M942 317l10-25 11-21 12-18 14-14 17-12 19-10 21-7 26-6"/>
<path class="d" d="M937 298l5-18M964 220l13-27 16-25 17-23 18-19 16-14 17-10 17-6 20-4"/>
<path class="e" d="M963 186l10-23M989 136l9-12 9-9 10-8 9-6"/>
<path class="f" d="M894 670l9-12M903 658l11-16 8-8 8-4 7-1 13 5 28 16 16 9 17 7 16 5 22 6 25 4 28 3 33 2"/>
<path class="g" d="M901 634l6-15M924 577l6-6 5-4 5-1 5 1M946 568l6 4 8 6 28 32 15 15 14 12 14 10 19 11 20 8 22 7 26 6"/>
<path class="a" d="M921 534l6-13M929 515l5-8 6-5 5-3 6 1M956 503l7 7 9 11 33 51 17 24 17 20 16 16 22 16 24 13 27 10 31 7"/>
<path class="b" d="M929 464l6-15 5-11M942 436l5-5 5-3 5-1 5 1M963 429l10 8 11 15 13 20 33 63 18 31 20 29 20 24 12 11 12 10 13 9 14 8 14 7 16 5 35 9"/>
<path class="c" d="M936 394l10-25M947 367l6-10 6-7 7-5 7-1 7 0 8 4 8 6 8 8 12 18 14 24 53 111 25 47 14 22 15 19 15 17 15 14 15 11 16 10 17 8 18 7 20 5 23 4 25 4 29 2M1333 685l15 1M1357 686l16 1M1399 688l15 0"/>
<path class="d" d="M941 330l10-29 12-25 13-20 16-17 17-13 22-10 25-8 30-6"/>
<path class="e" d="M936 308l8-31M956 239l13-33 16-30 18-27 19-22 18-16 18-10 19-7 24-3"/>
<path class="f" d="M952 212l4-12M965 175l14-27 14-21M1010 109l11-7 12-6"/>
<path class="a" d="M897 666l19-32 7-9 8-7 9-1 6 1 7 4 31 22 17 10 17 8 18 7 24 6 27 5 30 4 37 2"/>
<path class="b" d="M897 645l13-40M922 569l5-12 5-9M933 548l5-6 5-2 7 1 6 5 12 11 31 41 18 21 22 19 23 15 24 12 25 8 30 6 35 4"/>
<path class="c" d="M927 498l6-17M936 475l7-12 4-3 4-2 4-1 5 2 9 7 7 8 9 13 40 69 21 34 13 15 13 15 12 12 14 10 12 8 14 8 29 11 33 9 40 5"/>
<path class="d" d="M939 402l7-17 8-12M954 372l6-5 5-3 5-2 6 1 6 2 6 4 13 14 11 15 11 21 49 101 25 44 14 22 14 19 15 16 15 14 16 12 17 10 18 8 20 7 22 5 25 4 28 3 34 2M1341 686l18 1M1382 688l19 0"/>
<path class="e" d="M940 344l10-33 11-26 13-22 15-18 17-15 20-11 24-9 28-7"/>
<path class="f" d="M936 314l6-27M956 238l13-34 14-30 16-26 17-21 16-15 18-11 19-6 23-4"/>
<path class="g" d="M952 210l7-23M969 161l11-21 11-16 12-14 14-9"/>
<path class="a" d="M973 130l6-9 7-9 7-6 8-5"/>
<path class="c" d="M902 658l17-37 8-12 8-8 5-2 4-1 7 2 8 5 32 28 19 14 19 11 20 8 26 8 30 6 35 4 44 3"/>
<path class="d" d="M896 645l7-22 10-37M927 536l7-18 7-11 7-6 4-1 4 1M958 502l8 6 9 11 38 57 18 25 19 21 19 17 12 8 13 8 28 12 32 9 38 6"/>
<path class="e" d="M929 462l8-30 9-21M948 407l4-8 5-5 6-4 5-2 6 1 5 2 6 5 7 6 9 13 11 19 49 97 26 44 14 21 15 18 16 16 17 13 16 10 18 9 19 7 22 6 23 5 27 3 69 4M1358 687l26 1"/>
<path class="f" d="M937 367l11-41 12-31 13-26 7-11 9-10 9-9 9-7 11-7 11-6 27-10 32-7M1089 202l13-2"/>
<path class="g" d="M933 334l8-38M954 244l12-37 13-31 15-27 15-22 16-15 17-11 18-7 23-3M1087 91l14-1"/>
<path class="a" d="M953 202l10-31 11-25M981 133l9-15 12-11 11-7 14-6"/>
<path class="b" d="M967 135l7-12 8-11"/>
<path class="e" d="M896 667l10-20 17-47 8-17 5-7 4-5 5-3 5-1 7 2 9 7 37 40 21 20 21 15 24 12 30 10 36 7 43 5 56 2"/>
<path class="f" d="M900 631l8-31 10-50M923 528l12-50M937 471l9-24 5-9 5-6 5-3 6 0 6 2 6 4 9 10 10 15 50 92 15 23 14 20 16 20 17 16 17 14 20 12 17 7 19 7 21 5 22 4 55 5 79 3"/>
<path class="g" d="M934 400l12-54 7-22 7-19 7-17 8-16 9-13 10-12 10-10 12-8 14-8 14-6 16-6 19-4 44-7"/>
<path class="a" d="M931 357l10-56M952 250l12-42 13-36 15-29 15-21 8-8 7-7 9-5 9-4 20-6 29-2"/>
<path class="b" d="M942 247l5-28M955 189l11-34 12-25 6-10 6-8 8-7 7-5"/>
<path class="c" d="M969 126l6-10 7-9 8-6 9-5"/>
<path class="d" d="M963 123l7-11 9-9"/>
<path class="g" d="M897 663l7-13 6-18 21-78 9-27 5-11 5-9 6-4 6-2 4 1 5 3 11 11 47 71 14 18 15 16 15 14 16 12 17 9 18 9 21 7 24 5 27 4 30 3 80 4 140 1"/>
<path class="a" d="M891 656l5-12M900 629l10-50 16-97M929 460l14-76 7-29 7-26 8-23 8-19 10-18 10-14 11-12 13-11 14-9 17-8 18-6 21-5 25-4 28-3"/>
<path class="b" d="M901 596l3-17M925 420l15-107M947 272l10-50 12-41 13-32 6-13 8-12 7-9 7-7 8-6 8-4 9-3 11-3 28-2"/>
<path class="c" d="M940 254l7-39 7-33M960 162l10-28 6-11 6-9 7-8 7-5 8-4 9-4"/>
<path class="d" d="M948 176l7-25 6-18 8-16 9-11"/>
<path class="e" d="M951 144l10-23"/>
<path class="b" d="M901 655l7-23 8-32 29-181 9-42 9-36 11-35 13-28 14-22 8-10 9-8 11-8 11-7 25-11 31-8 38-5 45-4 59-2 208-1"/>
<path class="c" d="M901 622l7-35 6-48 25-209M943 294l9-59 10-47 10-35 11-27 6-9 6-8 7-6 7-5 9-3 9-3 27-2"/>
<path class="d" d="M904 573l9-72 15-147M937 271l7-50 7-38 7-30 8-23M971 120l8-12 10-9 12-5 15-3"/>
<path class="e" d="M934 247l9-57 9-40M963 120l9-14 5-5 6-4"/>
<path class="c" d="M887 689l559 0"/>
<path class="d" d="M887 677l4-5 5-7 7-19 7-27 6-38 10-85 21-244 7-57 6-39 9-31 4-11 5-8 6-6 6-4 8-3 10-2"/>
<path class="e" d="M887 665l7-16 5-21 5-27 5-35 9-80 20-232 6-53 7-42 8-32 5-11 5-9 5-6 7-5 8-3 10-2"/>
<path class="f" d="M887 653l5-17 5-20 8-61 8-78 19-214 6-55 7-44 8-34 5-13 5-9 6-7 6-5 9-3 10-2"/>
<path class="g" d="M887 641l8-40 8-55 7-73 18-209 6-55 6-41 8-34 4-13 5-9 5-8 6-5 7-4 9-3"/>
<path class="a" d="M887 629l7-40 7-55 23-261 6-57 6-40 7-35 4-15 5-11 5-8 6-6 6-5 7-3"/>
<path class="b" d="M887 617l6-38 6-47 23-261 5-53 6-40 7-36 8-24 4-8 5-7 7-5 7-4"/>
<path class="c" d="M887 605l6-43 6-52 22-256 5-44 6-38 8-36 4-13 5-10 5-9 6-5 8-4 8-3"/>
<path class="d" d="M887 593l5-38 6-53 20-239 10-82 8-38 8-25 5-8 5-7 6-5 7-4"/>
<path class="e" d="M887 581l10-86 20-238 6-49 5-38 8-35 5-13 4-10 6-8 6-6 7-4 9-2"/>
<path class="f" d="M887 569l9-85 19-221 6-50 5-39 7-35 9-23 5-9 5-6 7-5 7-3"/>
<path class="g" d="M887 557l8-77 18-209 5-52 5-37 7-35 8-26 4-9 5-8 6-5 7-4"/>
<path class="a" d="M887 545l7-68 18-209 5-51 6-44 8-34 8-23 5-9 6-6 6-5 8-3"/>
<path class="b" d="M887 533l23-267 6-51 6-43 8-34 8-23 5-8 6-6 6-5 7-3"/>
<path class="c" d="M887 521l22-256 7-55 6-42 7-32 4-14 5-9 5-8 6-6 6-3 7-3"/>
<path class="d" d="M887 509l21-239 5-52 6-40 7-34 7-24 5-9 5-7 6-5 6-4"/>
<path class="e" d="M887 497l19-221 6-53 5-38 6-34 7-24 7-17 5-7 6-5"/>
<path class="f" d="M887 485l18-209 5-53 6-38 6-34 6-24 8-17 5-7 5-5"/>
<path class="g" d="M887 473l16-191 11-93 6-35 6-24 7-17 9-11"/>
<path class="a" d="M887 461l16-184 10-88 5-32 6-25 8-18 8-12"/>
<path class="b" d="M887 449l15-177 6-52 5-41 6-32 7-23 8-16 4-5 5-5"/>
<path class="c" d="M887 437l15-175 6-51 5-38 6-30 7-21 8-15 4-5 6-5"/>
<path class="d" d="M887 425l13-151 10-86 6-32 5-23 6-16 8-13"/>
<path class="e" d="M887 413l4-50M891 362l10-109 9-72 4-25 5-20 6-17 6-11"/>
<path class="f" d="M887 401l4-50M891 350l9-101 9-68M909 180l5-28 7-23 6-16 8-11"/>
<path class="g" d="M887 389l4-50M891 338l11-108 5-40 5-30 5-24 6-17 7-12 9-9"/>
<path class="a" d="M887 377l11-120 9-77 5-27 6-22 6-15 7-12M932 104l4-5 6-3"/>
<path class="b" d="M887 365l3-36M891 315l9-88 8-56 4-22 5-17 5-14 5-10"/>
<path class="c" d="M887 353l10-110 10-71 5-25 5-20 6-14 8-11M932 101l5-4 7-3"/>
<path class="d" d="M887 341l9-96 8-62 4-26 5-19 5-15 5-11M923 111l9-10 11-7"/>
<path class="e" d="M887 329l11-108 5-38 5-28 5-22 6-16 8-12 8-8"/>
<path class="f" d="M887 317l10-100 5-33 5-28 5-21 6-17 6-12 9-8"/>
<path class="g" d="M887 305l8-83 9-57 4-21 5-17 6-14 6-9"/>
<path class="a" d="M887 293l11-97 5-31 5-26 6-18 8-14 8-8 11-6"/>
<path class="b" d="M887 281l10-89 6-33 5-24 6-17 8-12 8-8 11-5"/>
<path class="c" d="M887 269l10-84 5-29 6-23 6-16 7-12 9-8 10-4"/>
<path class="d" d="M887 257l10-76 5-28 5-22 6-15 7-11 8-7 10-5"/>
<path class="e" d="M887 245l8-65 5-25 5-20 5-15 6-12 7-7 8-6"/>
<path class="f" d="M887 233l9-64 5-25 5-17 6-13 6-10 8-7 10-4"/>
<path class="g" d="M887 221l7-51 9-37 5-14 5-9 5-8 7-5"/>
<path class="a" d="M887 209l8-50 4-19 5-15 5-11 5-9 7-6 8-5"/>
<path class="b" d="M887 197l8-45 8-29 5-11 6-8 6-6 8-4"/>
<path class="c" d="M887 185l8-41 4-15 5-12 5-9 6-7 7-5 8-3"/>
<path class="d" d="M887 173l8-36 4-14 5-11 6-8 6-6 7-4 9-2"/>
<path class="e" d="M887 161l8-31 4-12 5-8 5-7 6-5 7-4 8-2"/>
<path class="f" d="M887 149l7-25 9-17 4-5 6-4 6-4 8-2"/>
<path class="g" d="M887 137l7-19 8-13 9-8 13-5"/>
<path class="a" d="M887 125l7-14 8-11 11-6 14-3"/>
<path class="b" d="M887 113l6-9 8-7 9-4 13-2"/>
<path class="c" d="M887 101l7-5 8-3 11-2 15-1"/>
<path class="d" d="M887 90l559 0"/>
</g></g>
<text x="1164.1" y="70.7" font-size="66" text-anchor="middle" textLength="168.9" lengthAdjust="spacingAndGlyphs">Case 2</text>
<text x="887" y="755.5" font-size="60" text-anchor="middle" fill="#262626" textLength="28.8" lengthAdjust="spacingAndGlyphs">0</text>
<text x="998.9" y="755.5" font-size="60" text-anchor="middle" fill="#262626" textLength="28.8" lengthAdjust="spacingAndGlyphs">2</text>
<text x="1110.7" y="755.5" font-size="60" text-anchor="middle" fill="#262626" textLength="28.8" lengthAdjust="spacingAndGlyphs">4</text>
<text x="1222.6" y="755.5" font-size="60" text-anchor="middle" fill="#262626" textLength="28.8" lengthAdjust="spacingAndGlyphs">6</text>
<text x="1334.4" y="755.5" font-size="60" text-anchor="middle" fill="#262626" textLength="28.8" lengthAdjust="spacingAndGlyphs">8</text>
<text x="1446.3" y="755.5" font-size="60" text-anchor="middle" fill="#262626" textLength="57.6" lengthAdjust="spacingAndGlyphs">10</text>
<text x="872.9" y="710.1" font-size="60" text-anchor="end" fill="#262626" textLength="28.8" lengthAdjust="spacingAndGlyphs">0</text>
<text x="872.9" y="590.2" font-size="60" text-anchor="end" fill="#262626" textLength="72.0" lengthAdjust="spacingAndGlyphs">0.2</text>
<text x="872.9" y="470.3" font-size="60" text-anchor="end" fill="#262626" textLength="72.0" lengthAdjust="spacingAndGlyphs">0.4</text>
<text x="872.9" y="350.4" font-size="60" text-anchor="end" fill="#262626" textLength="72.0" lengthAdjust="spacingAndGlyphs">0.6</text>
<text x="872.9" y="230.5" font-size="60" text-anchor="end" fill="#262626" textLength="72.0" lengthAdjust="spacingAndGlyphs">0.8</text>
<text x="872.9" y="110.6" font-size="60" text-anchor="end" fill="#262626" textLength="28.8" lengthAdjust="spacingAndGlyphs">1</text>
<text x="1159.2" y="828.5" font-size="66" text-anchor="middle">Time <tspan font-style="italic">t</tspan></text>
<text x="767" y="410.4" font-size="66" font-style="italic" text-anchor="middle">z</text>
<path d="M1734.7 89.5V689M1846.9 89.5V689M1959.1 89.5V689M2071.3 89.5V689M1622.5 569.1H2183.5M1622.5 449.2H2183.5M1622.5 329.3H2183.5M1622.5 209.4H2183.5" stroke="#dedede" stroke-width="2.6" fill="none"/>
<path d="M1622.5 89.5H2183.5V689H1622.5ZM1734.7 689v-6M1734.7 89.5v6M1846.9 689v-6M1846.9 89.5v6M1959.1 689v-6M1959.1 89.5v6M2071.3 689v-6M2071.3 89.5v6M1622.5 569.1h6M2183.5 569.1h-6M1622.5 449.2h6M2183.5 449.2h-6M1622.5 329.3h6M2183.5 329.3h-6M1622.5 209.4h6M2183.5 209.4h-6" stroke="#262626" stroke-width="2.6" fill="none"/>
<g clip-path="url(#ca2)">
<path fill="url(#mot)" d="M1937 86h9v3h-9zM1781 86h9v3h-9zM1838 86h6v3h-6zM1883 86h6v3h-6zM1736 86h9v6h-9zM1634 86h9v6h-9zM2039 86h12v6h-12zM1982 86h21v6h-21zM1679 86h9v6h-9zM1835 89h12v3h-12zM1880 89h12v3h-12zM1778 89h12v6h-12zM1937 89h12v6h-12zM1982 92h15v3h-15zM1880 92h24v3h-24zM1829 92h30v6h-30zM2165 95h6v3h-6zM1739 92h6v9h-6zM1778 95h27v6h-27zM1889 95h15v9h-15zM2165 98h12v6h-12zM1889 104h6v3h-6zM2162 104h15v27h-15zM2162 131h9v9h-9zM2165 140h6v21h-6zM1952 176h9v6h-9zM1952 182h6v3h-6zM1949 185h9v6h-9zM1946 209h9v6h-9zM2003 215h6v6h-6zM2162 161h9v63h-9zM2165 233h6v33h-6zM2162 266h9v12h-9zM2165 278h6v9h-6zM2165 302h6v3h-6zM1715 296h6v12h-6zM2162 305h9v6h-9zM1835 317h6v3h-6zM1835 320h15v3h-15zM1832 323h18v3h-18zM1832 326h12v3h-12zM1835 329h9v3h-9zM1838 332h6v3h-6zM1871 356h15v3h-15zM1637 356h6v6h-6zM1871 359h18v3h-18zM2165 311h6v54h-6zM1877 362h21v9h-21zM1877 371h24v3h-24zM1892 374h9v3h-9zM1892 377h15v3h-15zM1892 380h21v3h-21zM2165 380h6v6h-6zM1631 380h6v6h-6zM1892 383h24v3h-24zM1943 383h9v6h-9zM1898 386h18v6h-18zM1628 386h9v9h-9zM1901 392h21v3h-21zM1910 395h12v3h-12zM1628 395h6v18h-6zM1625 413h9v6h-9zM2165 401h6v33h-6zM1949 434h9v6h-9zM1625 419h6v24h-6zM1961 443h6v9h-6zM1958 452h9v9h-9zM1979 461h6v3h-6zM1970 464h18v6h-18zM1970 470h21v3h-21zM1970 473h27v3h-27zM1973 476h24v3h-24zM1976 479h24v3h-24zM1979 482h21v3h-21zM1982 485h9v3h-9zM1985 488h6v6h-6zM1997 500h6v6h-6zM2138 506h12v3h-12zM2138 509h18v3h-18zM2141 512h15v3h-15zM1619 488h6v48h-6zM2096 596h6v6h-6zM1664 641h9v9h-9zM1640 674h27v3h-27zM1628 677h39v3h-39zM1628 680h12v3h-12z"/>
<g fill="none" stroke-width="4.3" stroke-linejoin="round">
<path class="a" d="M1622 101l0 385"/>
<path class="d" d="M1634 173l-1 47M1633 230l0 13"/>
<path class="e" d="M1634 161l0 41-2 55M1632 259l-1 14"/>
<path class="f" d="M1634 149l1 29 0 34-7 120M1628 334l-1 13M1627 352l-1 13"/>
<path class="g" d="M1634 137l3 34 0 38-11 171M1626 382l-1 17M1625 407l0 16"/>
<path class="a" d="M1634 125l3 19 3 18 1 41-2 34-12 141M1627 379l-1 15M1626 398l-1 13"/>
<path class="b" d="M1634 113l6 19 5 18"/>
<path class="c" d="M1634 101l12 13"/>
<path class="e" d="M1645 185l-1 25"/>
<path class="f" d="M1645 173l1 21-1 22-8 68"/>
<path class="g" d="M1645 161l2 27-1 30-16 137"/>
<path class="a" d="M1645 149l4 30-1 33-3 30-11 87-6 55"/>
<path class="b" d="M1645 137l4 16 3 16 2 16-1 17-3 33-15 93"/>
<path class="c" d="M1645 125l11 24"/>
<path class="d" d="M1645 113l13 14"/>
<path class="e" d="M1645 101l17 8 17 5"/>
<path class="f" d="M1645 90l11 0"/>
<path class="g" d="M1656 185l-1 29-6 37M1647 263l-2 15"/>
<path class="a" d="M1656 173l1 22-2 25-20 116"/>
<path class="b" d="M1656 161l3 25-1 28-4 25-15 75-7 49M1632 364l-2 16"/>
<path class="c" d="M1656 149l4 14 3 14 1 14-1 15-4 25-14 65-8 39"/>
<path class="d" d="M1656 137l11 23 6 20M1673 182l0 19"/>
<path class="e" d="M1656 125l15 16"/>
<path class="f" d="M1656 113l23 12"/>
<path class="g" d="M1656 101l29 6 30 2 35-1 53-5"/>
<path class="a" d="M1656 90l12 0"/>
<path class="b" d="M1667 185l0 17-3 19-18 77M1645 299l-3 14"/>
<path class="c" d="M1667 173l2 20-2 22-22 88-10 51"/>
<path class="d" d="M1667 161l4 12 2 11 0 12-2 13-4 20-23 82-6 32-6 35"/>
<path class="e" d="M1667 149l8 15 4 12"/>
<path class="f" d="M1667 137l14 15"/>
<path class="g" d="M1667 125l12 8 12 5 10 4 11 2M1724 144l14-3 19-5"/>
<path class="a" d="M1667 113l24 7 25 3 27-2 37-6"/>
<path class="b" d="M1667 101l24 3 25 1 29 0 38-3"/>
<path class="c" d="M1667 90l12 0"/>
<path class="d" d="M1679 185l-1 15-3 16-19 61-8 28"/>
<path class="e" d="M1679 173l2 17-2 19-4 15-17 49-9 31-9 36-7 37"/>
<path class="f" d="M1679 161l5 11 3 10 1 10-1 10-5 15-20 51-11 34M1648 309l-3 14"/>
<path class="g" d="M1679 149l11 13"/>
<path class="a" d="M1679 137l13 8 12 5"/>
<path class="b" d="M1679 125l19 7 20 2 21-2 29-6"/>
<path class="c" d="M1679 113l19 4 20 1 22-1 28-4"/>
<path class="d" d="M1679 101l36 2 46-1"/>
<path class="f" d="M1690 185l0 12-3 13-28 67-7 23-7 25M1644 326l-3 12"/>
<path class="g" d="M1690 173l3 8 1 7 0 7-1 8-5 13-20 43-9 23-10 30-8 32"/>
<path class="a" d="M1690 161l12 14"/>
<path class="b" d="M1690 149l14 8 12 2 13-1 17-6"/>
<path class="c" d="M1690 137l15 5 15 1 16-2 21-5"/>
<path class="d" d="M1690 125l15 3 15 1 17-1 21-4"/>
<path class="e" d="M1690 113l26 2 30-1"/>
<path class="f" d="M1690 101l23 1 26 0"/>
<path class="g" d="M1690 90l11 0"/>
<path class="a" d="M1701 185l1 9-3 9-26 49-15 34-9 29-8 31"/>
<path class="b" d="M1701 173l13 14"/>
<path class="c" d="M1701 161l10 5 10 0 11-3 15-7"/>
<path class="d" d="M1701 149l10 3 10 0 11-1 12-4"/>
<path class="e" d="M1701 137l16 2 17-1"/>
<path class="f" d="M1701 125l16 2 17-1"/>
<path class="g" d="M1701 113l25 1"/>
<path class="a" d="M1701 101l12 1"/>
<path class="b" d="M1701 90l12 0M1712 197l-20 26-17 29-14 31-12 34"/>
<path class="d" d="M1712 173l6 1 6-1"/>
<path class="e" d="M1712 161l12 0"/>
<path class="f" d="M1712 149l12 0"/>
<path class="g" d="M1712 137l12 0"/>
<path class="a" d="M1712 125l12 0"/>
<path class="b" d="M1712 113l12 0"/>
<path class="c" d="M1712 101l12 0"/>
<path class="d" d="M1712 90l12 0"/>
<path class="f" d="M1723 677l-22 0"/>
<path class="c" d="M1723 209l-7-1-7 3-9 8-9 11-11 16-9 17-9 20-8 21M1653 305l-6 21"/>
<path class="e" d="M1723 185l17-15"/>
<path class="f" d="M1723 173l9-4 15-9"/>
<path class="g" d="M1723 161l14-3 20-10"/>
<path class="a" d="M1723 149l15-2 20-7"/>
<path class="b" d="M1723 137l20-2 26-7"/>
<path class="c" d="M1723 125l24-2 31-6"/>
<path class="d" d="M1723 113l19 0"/>
<path class="e" d="M1723 101l12 0"/>
<path class="f" d="M1723 90l12 0"/>
<path class="d" d="M1735 221l-10-5-9-1-8 3-9 7-11 13-12 17-10 20-9 22M1656 298l-6 19"/>
<path class="f" d="M1735 197l-1-6 1-6"/>
<path class="g" d="M1735 185l5-9 11-11"/>
<path class="a" d="M1735 173l17-13 16-11"/>
<path class="b" d="M1735 161l23-12"/>
<path class="c" d="M1735 149l33-12"/>
<path class="d" d="M1735 137l18-3 27-8"/>
<path class="e" d="M1735 125l21-3 30-6"/>
<path class="f" d="M1735 113l15-1M1751 112l17-2M1769 110l14-2"/>
<path class="e" d="M1746 233l-13-9-11-4-10 0-10 5-12 12-12 18-12 21-10 25M1655 302l-9 29"/>
<path class="g" d="M1746 209l-5-10-1-8 2-8 5-9"/>
<path class="c" d="M1746 173l11-11"/>
<path class="d" d="M1746 161l33-20"/>
<path class="e" d="M1746 149l32-14"/>
<path class="f" d="M1746 137l34-10"/>
<path class="g" d="M1746 125l44-9"/>
<path class="a" d="M1746 113l68-8"/>
<path class="b" d="M1746 101l18 0"/>
<path class="c" d="M1746 90l11 0"/>
<path class="f" d="M1757 245l-18-14-13-7-6-1-6 0-5 2-6 3-7 5-7 8-14 20-13 26-11 29M1649 320l-3 13"/>
<path class="a" d="M1757 221l-10-18-3-7 0-7 2-6 3-7 5-7 8-8"/>
<path class="f" d="M1757 161l13-9 13-9"/>
<path class="g" d="M1757 149l23-11"/>
<path class="a" d="M1757 137l34-11"/>
<path class="b" d="M1757 125l45-10"/>
<path class="c" d="M1757 113l58-8"/>
<path class="d" d="M1757 101l19-1"/>
<path class="e" d="M1757 90l12 0"/>
<path class="g" d="M1768 257l-19-17-15-9-12-5-6 0-5 1-6 3-6 4-13 13-13 19-12 24M1661 291l-8 21M1652 315l-5 15"/>
<path class="b" d="M1768 233l-11-15-6-13-3-10 0-10 5-11 9-11 13-11 16-11M1768 149l26-14"/>
<path class="c" d="M1768 137l34-13"/>
<path class="d" d="M1768 125l44-11"/>
<path class="e" d="M1768 113l57-8"/>
<path class="f" d="M1768 101l18-1"/>
<path class="g" d="M1768 90l12 0"/>
<path class="a" d="M1780 269l-24-21-18-12-13-6-7-1-5 0-7 3-7 4-13 13-14 20-12 26"/>
<path class="c" d="M1780 245l-14-17-9-15-5-11-2-11 2-10 6-10 9-11 12-11"/>
<path class="d" d="M1780 149l14-9"/>
<path class="e" d="M1780 137l31-13"/>
<path class="f" d="M1780 125l34-9"/>
<path class="g" d="M1780 113l55-9"/>
<path class="a" d="M1780 101l16-1"/>
<path class="b" d="M1791 281l-21-19M1769 261l-18-15-15-9-12-5-11-1-11 5-11 9-12 15-11 18M1663 288l-12 31"/>
<path class="d" d="M1791 257l-19-24-12-17-6-15-1-12 1-6 2-6 9-13 14-13 19-13"/>
<path class="g" d="M1791 137l23-11"/>
<path class="a" d="M1791 125l34-10"/>
<path class="b" d="M1791 113l52-9"/>
<path class="c" d="M1791 101l36-3"/>
<path class="d" d="M1791 90l11 0"/>
<path class="f" d="M1744 676l-49 0"/>
<path class="c" d="M1802 293l-30-28-22-18-17-10-7-2-6-2-7 1-7 2-6 4-7 5-14 16-13 23M1659 298l-5 14"/>
<path class="e" d="M1802 269l-24-30-14-21-8-17-1-7 0-7 2-7 4-8 6-8 8-8 20-15 26-14"/>
<path class="c" d="M1802 125l34-11"/>
<path class="d" d="M1802 113l46-9"/>
<path class="e" d="M1802 101l45-4"/>
<path class="f" d="M1802 90l12 0"/>
<path class="a" d="M1772 676l-31 0M1696 676l-17 0"/>
<path class="d" d="M1810 302l-34-32M1775 269l-22-18-17-11-14-4-6-1-6 2-7 3-7 4-14 15-13 20-12 26M1653 315l-4 12"/>
<path class="f" d="M1813 281l-11-13M1801 267l-19-25-13-19-8-15-4-12 1-13 5-11 10-13 14-12M1798 140l22-12"/>
<path class="e" d="M1813 125l34-11"/>
<path class="f" d="M1813 113l46-9"/>
<path class="g" d="M1813 101l54-5"/>
<path class="a" d="M1813 90l12 0"/>
<path class="c" d="M1785 676l-16 0"/>
<path class="e" d="M1822 315l-12-12M1805 298l-28-25-20-18-17-11-13-5-12-1-12 3-12 9-12 14M1678 265l-9 15-9 17M1658 302l-5 15M1651 322l-5 16"/>
<path class="g" d="M1824 293l-31-38-20-27-10-20-3-8-1-8 1-9 3-8 5-8 7-9 9-8 12-8 27-15M1824 125l23-9"/>
<path class="a" d="M1824 113l46-10"/>
<path class="b" d="M1824 101l64-6"/>
<path class="c" d="M1824 90l12 0"/>
<path class="e" d="M1806 676l-23 0"/>
<path class="f" d="M1830 324l-41-40-30-25-21-14-9-4-8-2-8 1-9 2-8 5-8 8-9 10-8 12-7 14-7 16"/>
<path class="a" d="M1835 305l-34-41-21-28-13-21-4-9-2-8 0-9 1-8 3-7 5-8 7-8 9-8 23-16M1810 134l14-8"/>
<path class="c" d="M1836 113l45-10"/>
<path class="d" d="M1836 101l49-5"/>
<path class="g" d="M1761 675l-77 0M1832 326l-26-25M1788 285l-25-22-19-13-16-7-7-2-7 0-6 2-8 3-6 5-7 6-14 18-12 24M1656 310l-5 14"/>
<path class="b" d="M1843 313l-37-45-25-32-13-23-4-9-1-9 0-9 3-9 4-9 7-9 10-9 11-9 14-8 15-7"/>
<path class="e" d="M1847 113l41-10"/>
<path class="f" d="M1847 101l57-6"/>
<path class="g" d="M1847 90l11 0"/>
<path class="b" d="M1834 676l-19 0M1784 675l-25 0M1686 675l-17 0M1808 489l-34-10M1765 477l-20-4-16-2M1726 471l-17 0M1693 473l-16 5"/>
<path class="a" d="M1857 352l-14-14M1830 325l-37-35-29-24-21-15-9-4-8-3-8-1-7 1-8 2-7 5-7 6-8 8-14 22M1667 288l-8 16-7 18"/>
<path class="c" d="M1849 319l-17-20M1808 270l-20-27-14-20-7-17-3-14 1-7 2-7 8-14 13-14 18-13M1807 137l23-12M1845 118l13-4"/>
<path class="a" d="M1858 101l65-7"/>
<path class="b" d="M1858 90l12 0"/>
<path class="d" d="M1850 676l-18 0M1803 675l-22 0M1737 674l-37 0"/>
<path class="b" d="M1866 362l-28-28M1827 323l-10-9M1816 313l-15-14M1800 298l-13-12M1786 285l-22-18-18-13-15-7-13-2-12 2-12 7-12 12-12 17M1666 291l-11 23-9 27"/>
<path class="d" d="M1869 341l-10-11M1836 303l-33-40-21-30-12-22-3-9-1-9 1-9 3-9 5-9 7-9 9-9 12-8 13-8 15-7M1837 122l14-6"/>
<path class="c" d="M1869 101l62-7"/>
<path class="d" d="M1869 90l12 0"/>
<path class="f" d="M1860 676l-13 0M1825 675l-24 0M1776 674l-41 0M1702 674l-27 0"/>
<path class="e" d="M1876 519l-20-9M1855 510l-24-10M1805 491l-35-11-32-5"/>
<path class="c" d="M1871 368l-13-13M1854 351l-19-19M1834 331l-42-39-30-25-13-9-10-6-10-4-8-1-9 0-9 3-9 6-8 7-9 11-8 12-8 15-7 16"/>
<path class="e" d="M1873 345l-9-10M1861 330l-17-19M1823 286l-14-18M1807 266l-12-16M1794 249l-14-22-9-18-3-16 0-7 2-7 3-7 4-7 14-15 19-14 24-12M1881 101l59-7"/>
<path class="a" d="M1878 677l-20-1M1841 676l-17-1M1802 675l-27-1M1677 674l-15 1"/>
<path class="b" d="M1825 563l-17-4"/>
<path class="f" d="M1852 516l-33-12-28-9-25-6-24-5-21-1-20 1-18 4-14 6"/>
<path class="a" d="M1759 332l-13-5M1745 327l-11-3-11-2-11 0-9 2"/>
<path class="d" d="M1886 383l-12-12M1873 371l-9-10M1860 357l-16-15M1843 341l-9-9M1833 331l-14-13M1818 317l-34-31-26-21-20-11-9-4-8-1-8 0-8 2-7 4-8 6-8 7-7 10-14 24M1660 304l-5 12M1650 331l-5 15"/>
<path class="f" d="M1869 339l-14-16M1854 322l-10-12M1843 309l-30-37M1812 271l-19-25-13-21-7-17-3-15 0-7 1-7 7-13 11-13 16-13M1806 139l12-7M1819 132l16-8"/>
<path class="g" d="M1892 101l32-4 36-4"/>
<path class="a" d="M1892 90l11 0"/>
<path class="c" d="M1890 677l-13-1M1859 676l-19-1M1824 675l-24-1M1776 674l-100 0"/>
<path class="g" d="M1795 391l-23-11M1771 380l-25-9-22-4-20 1-10 3-8 3"/>
<path class="e" d="M1903 401l-10-10M1892 390l-9-9M1880 378l-38-38M1841 340l-26-25M1814 314l-22-20M1790 293l-25-21-20-13-17-7-8-1-7 0-7 2-7 3-8 5-6 6-14 19-13 24M1653 323l-9 27"/>
<path class="g" d="M1884 356l-12-14M1870 340l-12-14M1857 325l-39-48-26-35-8-13-7-12-4-11-1-10 0-10 2-10 5-10 7-9 10-9 12-9 14-9 16-7M1850 118l24-8"/>
<path class="b" d="M1903 101l34-5"/>
<path class="c" d="M1903 90l11 0"/>
<path class="e" d="M1901 677l-13-1M1876 676l-19-1M1840 675l-18-1M1799 674l-26-1M1742 673l-45 0M1677 673l-15 1"/>
<path class="c" d="M1865 607l-16-3"/>
<path class="e" d="M1872 581l-12-3M1853 576l-57-13-48-7M1746 556l-22-1-21 0M1701 556l-20 2-15 5"/>
<path class="b" d="M1914 545l-52-23-43-16-41-12-34-7-30-2-14 1-13 3-12 4-10 5-8 6-8 7"/>
<path class="f" d="M1792 430l-16-6M1757 418l-18-4-15-2M1703 413l-10 3-10 3M1872 371l-12-12M1844 344l-9-9M1834 334l-45-41-31-24-13-8-11-5-10-3-9 0-10 2-10 5-10 9-10 11-9 14-8 17-7 18-7 22"/>
<path class="a" d="M1868 336l-32-37M1835 297l-26-33-18-26-12-21-5-17-1-9 1-8 2-7 4-8 5-7 6-8 18-14M1821 132l18-9M1848 119l12-5"/>
<path class="e" d="M1914 90l12 0"/>
<path class="g" d="M1912 676l-13 0M1887 676l-13-1M1856 675l-19-1M1826 674l-29-1M1783 673l-43-1M1699 672l-29 1M1664 673l-13 1M1640 675l-10 2-6 3"/>
<path class="a" d="M1806 544l-16-3"/>
<path class="e" d="M1748 318l-16-4-15-2-14 2-12 5"/>
<path class="g" d="M1918 418l-15-15M1887 387l-9-9M1869 369l-52-50-38-33-28-20-11-6-10-4-10-1-10 0-8 3-10 6-8 8-9 11-8 13-8 14M1658 312l-8 19"/>
<path class="b" d="M1915 390l-8-10M1883 353l-13-15M1860 326l-39-48-26-35-8-15-6-12-4-11-2-10 1-10 2-10 6-10 7-10 10-9 13-9 14-9 17-7M1846 120l30-10"/>
<path class="g" d="M1925 90l12 0"/>
<path class="b" d="M1929 677l-20-1M1904 676l-20-1M1873 675l-19-1M1849 674l-25-1M1814 673l-33-1M1769 672l-90 0M1673 672l-15 1"/>
<path class="c" d="M1815 541l-27-7"/>
<path class="e" d="M1937 557l-59-26-53-21-45-14-37-7-17-1-15 0-15 1-13 3-13 5-10 6-9 8-7 9"/>
<path class="g" d="M1764 455l-14-3M1728 449l-21 0"/>
<path class="b" d="M1794 427l-15-6M1765 416l-28-7-23-1-11 1-10 2-9 4-9 4"/>
<path class="a" d="M1928 428l-11-11M1898 399l-11-12M1882 383l-11-11M1866 367l-55-52M1809 314l-32-28-25-17-10-6-10-4-9-2-9 0-8 2-9 4-8 6-8 7-8 10-7 12-13 29M1652 328l-6 19"/>
<path class="c" d="M1883 352l-35-42M1847 309l-33-42-21-30-7-13-5-11-3-11-1-9 1-10 2-9 5-9 7-9 10-9 11-9 13-8 14-7"/>
<path class="f" d="M1847 228l-4-13"/>
<path class="d" d="M1940 677l-13-1M1916 676l-13-1M1892 675l-20-1M1867 674l-19-1M1837 673l-24-1M1804 672l-37-1M1754 671l-66 0M1680 671l-19 1M1647 673l-11 2-8 2"/>
<path class="c" d="M1944 604l-58-17-54-14-43-9-40-5-33-2-29 3-12 2-11 3-9 5-8 5M1892 486l-46-27-37-18-34-14-31-8-25-3-12 0-12 2-10 4-10 4-8 7-8 7"/>
<path class="e" d="M1779 386l-26-9-23-5M1700 373l-9 3-10 5"/>
<path class="f" d="M1810 382l-15-9M1792 371l-17-9-17-7-14-4-14-3-13-1-11 1-11 3-11 5"/>
<path class="g" d="M1782 343l-17-9-16-7-14-4-12-2-12 1-12 2-11 5-9 7"/>
<path class="a" d="M1764 307l-23-10-10-3-10-1-8 0-9 2-8 3-8 5"/>
<path class="b" d="M1946 447l-21-21M1922 423l-20-19M1893 395l-16-16M1875 377l-11-11M1863 365l-53-49-38-32-15-11-13-7-12-5-11-2-11 1-10 3-11 7-9 10-10 13-9 16-8 18-7 21"/>
<path class="d" d="M1937 413l-11-12M1894 363l-14-16M1872 338l-16-19M1856 318l-35-44-23-32-13-24-4-11-2-10 0-10 2-9 4-9 6-10 8-9 10-8 12-8 14-8M1836 126l16-8M1854 118l31-10M1948 90l11 0"/>
<path class="f" d="M1953 677l-14-1M1935 676l-20-1M1910 675l-20-1M1885 674l-20-1M1861 673l-26-1M1831 672l-29-1M1798 671l-46-1M1746 670l-52 0M1691 670l-28 1-20 2M1641 673l-13 3-4 3-1 3"/>
<path class="b" d="M1908 632l-31-5M1863 625l-20-3M1842 622l-30-4M1811 618l-57-6-44-1-35 3-14 3-12 4"/>
<path class="c" d="M1949 627l-13-3M1927 622l-19-4M1906 617l-45-9-45-8-36-4-35-4-31 0-25 1-20 3-17 6"/>
<path class="f" d="M1848 555l-19-6M1827 549l-35-9M1791 540l-40-7M1750 533l-24-2M1709 531l-22 3-19 5"/>
<path class="a" d="M1959 569l-17-8M1942 561l-61-27-53-21-46-14-21-5-20-3-17-1-17 0-14 2-14 4-12 5-10 7-9 9-7 9"/>
<path class="c" d="M1806 467l-27-10-26-6-22-4-22 0M1708 447l-11 1-10 3-9 4-8 4"/>
<path class="f" d="M1843 427l-34-19-29-15-27-10-23-5-11 0-11 0-9 2-9 3-8 3-8 6-7 6-7 7"/>
<path class="g" d="M1832 401l-31-19-27-14-23-10-21-4-19-1-17 4-9 4-7 4-14 13"/>
<path class="b" d="M1760 309l-20-9-10-2-9-1-8 0-8 1-8 3-8 4"/>
<path class="c" d="M1953 455l-11-11M1924 426l-19-19M1904 407l-34-34M1869 372l-9-9M1857 361l-47-44-35-29-14-10-12-7-12-6-10-3-10-1-9 2-10 3-9 6-9 9-8 11-8 12-7 16M1656 321l-11 32"/>
<path class="e" d="M1956 434l-10-12M1909 380l-9-10M1869 333l-19-23M1850 309l-35-44-12-19-9-15-7-14-4-12-2-11 1-10 3-11 6-11 9-11 12-10 14-9 16-9 19-8 21-6"/>
<path class="f" d="M1959 90l12 0"/>
<path class="a" d="M1964 677l-13-1M1946 676l-13-1M1928 675l-20-1M1903 674l-20-1M1879 673l-20-1M1853 672l-25-1M1824 671l-29-1M1791 670l-95-1M1695 669l-49 3-13 2-8 3"/>
<path class="g" d="M1843 565l-22-6M1810 557l-17-4M1767 549l-14-2"/>
<path class="e" d="M1800 453l-21-8-19-6-18-3-18-2M1723 434l-18 0-16 4"/>
<path class="c" d="M1799 336l-24-15-19-10-17-7-16-3M1713 301l-9 1-9 3-7 5-8 5"/>
<path class="d" d="M1967 470l-9-9M1957 460l-18-18M1933 436l-11-11M1912 415l-9-9M1893 396l-14-13M1878 382l-57-54-42-35-16-12-15-8-12-6-12-3-11 0-12 3-10 7-10 9-10 13-10 16-8 19-7 20"/>
<path class="f" d="M1940 415l-8-10M1892 359l-51-63-33-44-11-18-7-15-5-13-2-12 2-13 4-12 8-12 11-11 14-11 18-10 20-9 23-7"/>
<path class="g" d="M1819 224l-4-16-2-14 1-14 4-13"/>
<path class="d" d="M1896 254l-6-17M1889 232l-5-19-2-17M1883 176l5-17"/>
<path class="a" d="M1970 90l12 0"/>
<path class="c" d="M1975 677l-14-1M1957 676l-14-1M1939 675l-14-1M1921 674l-21-1M1896 673l-124-4-89-1-27 2-19 2-10 3-3 3-1 3"/>
<path class="e" d="M1914 643l-95-12-73-5-31-1-24 1-23 2-17 4"/>
<path class="f" d="M1908 626l-33-6M1856 617l-17-3M1831 613l-13-2M1816 611l-45-5M1758 605l-14-1M1743 604l-24-1-24 1"/>
<path class="a" d="M1982 617l-73-22-60-16-54-12-45-6-38-1-16 1-16 2-13 3-11 5-9 6-8 7"/>
<path class="c" d="M1813 530l-14-4"/>
<path class="d" d="M1967 574l-16-8M1947 564l-25-12M1901 543l-55-22-45-15-42-10-33-4-16 0-15 1-13 3-11 4-10 6-9 8-8 8-6 11"/>
<path class="f" d="M1866 492l-11-6M1841 479l-11-5M1829 474l-26-11-26-9-22-6-20-3M1696 446l-10 3-10 4M1675 453l-11 7"/>
<path class="g" d="M1944 521l-60-38-51-28-25-12-21-9-20-7-18-4-17-3-16-1-14 1-13 3-12 5-10 7-10 10-9 11"/>
<path class="a" d="M1800 416l-20-9-19-7-17-4-16-3-15 0-13 2-12 3-11 6"/>
<path class="b" d="M1866 433l-18-11M1829 409l-18-11M1808 397l-24-13-23-10-19-5-19-3-17 1-15 4-14 7-13 12"/>
<path class="c" d="M1842 395l-33-22-29-17-25-11-21-7-10-1-10 0-17 3-8 4-8 4-7 6-7 8"/>
<path class="d" d="M1829 363l-30-23-25-16-22-11-18-6-18-2-8 1-8 2-7 3-8 4-13 12"/>
<path class="e" d="M1954 458l-28-28M1925 429l-16-16M1907 411l-21-20M1885 390l-61-57-44-37-16-12-15-8-14-6-12-3-12 0-12 4-11 7-10 11-10 14-10 17-8 20-7 23M1642 364l-3 14"/>
<path class="g" d="M1948 422l-9-9M1927 399l-11-13M1911 380l-12-14M1886 350l-49-60-30-42-9-17-7-14-4-14-1-12 2-13 5-12 8-12 12-11 15-10 17-10 20-8 23-7"/>
<path class="a" d="M1822 221l-5-18M1816 188l2-13 5-12"/>
<path class="b" d="M1874 286l-16-31M1857 255l-7-16-5-15-4-14-1-12 0-12 1-11 3-10 5-11"/>
<path class="e" d="M1987 677l-68-4M1915 673l-118-5-85-1-56 2-17 2-11 3"/>
<path class="f" d="M1791 647l-14-1M1773 646l-18-1M1747 645l-52 0M1690 645l-14 1"/>
<path class="b" d="M1855 594l-27-6M1815 586l-15-3M1734 576l-32 0"/>
<path class="e" d="M1949 573l-12-5M1918 560l-47-19-46-16-41-12-34-6-31-3-25 2-11 3-10 3-9 4-9 6"/>
<path class="f" d="M1970 474l-49-48M1916 421l-75-71-50-43-19-14-17-11-14-7-14-4-13-1-13 3-11 7-12 10-10 15-10 18-9 21-7 24"/>
<path class="a" d="M1980 458l-10-11M1943 416l-10-11M1900 365l-10-12M1889 352l-15-18M1873 333l-41-53-15-21-12-18-8-16-5-13-3-14 0-11 2-13 6-12 9-11 12-11 15-9 18-10 19-7 23-7"/>
<path class="b" d="M1844 262l-12-24-8-20-4-20 1-17M1822 176l3-9 4-8"/>
<path class="c" d="M1872 275l-7-12"/>
<path class="d" d="M1886 271l-8-19-7-19-5-17-2-15-1-15 2-13 4-13 7-11"/>
<path class="g" d="M2004 677l-30-2M1971 675l-14-1M1953 674l-14-1M1935 673l-132-6-94-1-34 0-25 2-16 3-9 4"/>
<path class="a" d="M1828 647l-60-4M1764 643l-22-1M1731 642l-28 0M1697 642l-16 1"/>
<path class="b" d="M1893 634l-14-2M1865 630l-14-2M1849 628l-14-2M1833 626l-59-6-49-2-41 1-15 2-13 3"/>
<path class="c" d="M1983 636l-14-3M1968 632l-26-6M1941 626l-27-6M1913 620l-54-11-50-8-43-5-39-2-31 0-25 4-20 6-7 4-7 5"/>
<path class="d" d="M1892 597l-13-3M1878 594l-34-8M1843 586l-36-8-29-4-29-4-26-1-23 1-19 2-16 4-13 6"/>
<path class="e" d="M1958 601l-12-5M1939 594l-14-5M1924 589l-55-17-50-14-44-9-36-4-32-1-26 4-11 3-10 4-9 5-7 7"/>
<path class="f" d="M1951 583l-19-8M1931 574l-12-4M1905 564l-13-4M1872 552l-37-12-33-9-28-6-29-4-24-2-20 1-18 3-16 5"/>
<path class="g" d="M2004 593l-14-7M1986 584l-13-6M1967 575l-22-11M1943 564l-59-27-54-21-47-14-38-7-18-2-15 0-16 2-13 3-12 4-11 6-9 8-7 8"/>
<path class="a" d="M1804 484l-25-8M1741 468l-18-1"/>
<path class="b" d="M1897 505l-20-11M1875 493l-51-25M1822 467l-28-12-27-8-24-6-22-2-19 1-17 4-15 8-13 11"/>
<path class="d" d="M1931 490l-59-41-47-30-21-11-21-10-18-7-17-6-16-3-15-1-13 1-12 3-11 6-11 7-9 9-9 12"/>
<path class="f" d="M1859 393l-39-30-34-23-27-15-12-5-12-3-11-2-10 0-10 1-9 3-8 4-9 7-8 8-7 9"/>
<path class="g" d="M1965 471l-12-12M1951 457l-12-12M1938 444l-80-77-56-49-21-17-19-12-16-9-14-5-14-2-13 2-12 6-12 9-11 14-10 17-9 21-8 24"/>
<path class="b" d="M1974 451l-32-37M1938 409l-15-18M1922 390l-9-10M1909 375l-32-39M1876 335l-42-54-15-21-11-19-9-16-5-14-2-13-1-12 3-12 6-12 9-12 13-11 15-10 18-9 20-8 23-6"/>
<path class="c" d="M1879 311l-8-11M1871 299l-18-28-13-24-10-22-5-19-1-17 3-17 6-14 10-14"/>
<path class="e" d="M1905 298l-14-28-11-26-7-22-4-20 0-19 3-17 7-15 11-14"/>
<path class="f" d="M1909 277l-8-20M1900 255l-8-23-4-19"/>
<path class="g" d="M2004 90l11 0"/>
<path class="b" d="M2015 677l-12-1M2001 676l-15-1M1984 675l-152-8-112-3-40 1-27 2-18 3-6 2-3 2"/>
<path class="c" d="M1954 657l-33-4M1920 653l-109-10-43-3-40-1-33 0-26 2-20 4-13 5"/>
<path class="d" d="M1990 648l-20-4M1946 640l-45-8M1895 631l-50-7-46-6-39-3-36-2-29 1-25 3-19 5-13 6"/>
<path class="e" d="M1918 617l-13-3M1889 611l-25-6M1851 603l-23-4M1664 594l-10 4-9 4"/>
<path class="f" d="M2015 629l-13-4M1991 621l-14-4M1976 616l-25-7M1950 608l-51-15M1898 593l-55-14-45-9-39-6-35-2-29 1-14 2-12 2-10 5-9 4-7 6-6 6"/>
<path class="g" d="M1992 608l-23-9M1967 598l-65-23-57-18-50-13-42-7-37-2-16 1-15 2-13 3-12 5-9 6-8 8"/>
<path class="a" d="M2002 599l-27-13M1974 586l-72-31-58-21-51-15-23-6-22-3-18-2-19 0-16 1-15 4-13 4-11 7-9 9-7 9"/>
<path class="b" d="M1950 559l-11-6M1932 550l-16-8M1911 540l-35-16M1872 522l-15-6M1836 508l-21-8M1813 499l-12-4M1800 495l-13-4M1783 490l-31-7M1743 482l-20-2M1710 480l-19 3-16 5-14 8-12 11"/>
<path class="c" d="M1954 545l-15-9M1929 530l-59-31-47-21-41-15-19-6-17-3-15-2-16-1-14 1-13 3-12 5-10 5-9 8-8 10"/>
<path class="d" d="M1991 553l-20-14M1967 536l-16-10M1950 526l-66-41-55-30-24-11-22-9-19-6-20-5-17-2-17 0-14 2-13 4-12 6-10 8-9 11-8 13"/>
<path class="e" d="M1869 453l-39-24-37-19-30-12-26-6-23-2-11 1-10 3-10 4-9 5-8 7-8 8"/>
<path class="f" d="M1933 478l-11-9M1918 466l-11-8M1901 453l-50-36-43-28-36-19-16-6-15-4-14-3-13 0-12 1-11 4-11 6-9 7-9 10-8 11"/>
<path class="g" d="M1847 388l-34-26M1813 362l-26-17-22-12-21-8-18-5-17 1-15 4-14 8-13 13"/>
<path class="a" d="M2015 521l-14-14M1971 477l-12-11M1947 454l-27-26M1919 427l-72-68-51-43-20-15-17-11-16-8-14-4-13-1-13 2-12 6-12 10-10 14-11 17-8 20-8 23M1642 370l-5 22"/>
<path class="c" d="M1961 434l-14-16M1945 416l-9-11M1934 403l-48-58M1885 344l-45-58-16-22-12-20-9-17-5-14-3-14-1-13 3-13 7-13 10-12 13-11 16-10 19-9 22-8 24-6"/>
<path class="e" d="M1906 320l-21-36-15-29-10-26-5-24-1-21 1-9 3-9 4-9 5-8 6-8 7-7"/>
<path class="g" d="M1932 313l-15-32-13-30-8-26-3-24 0-21 4-18 8-17 12-14"/>
<path class="b" d="M1927 237l-5-20M1920 185l2-15 4-14M2015 90l12 0"/>
<path class="d" d="M2026 677l-11-1M2013 676l-162-10-66-2-57-2-42 1-30 2-20 3-6 2-4 3"/>
<path class="e" d="M1918 651l-23-3M1888 647l-85-8-69-3-29 0-23 1-18 2-15 3"/>
<path class="f" d="M2026 653l-17-4M1970 641l-35-6M1883 625l-27-4M1849 620l-19-3M1829 617l-23-3M1786 612l-50-3-38 0-31 3-12 4-10 4M1644 620l-7 5-5 5"/>
<path class="g" d="M1966 624l-64-16-57-12-52-9-43-5-37-1-30 2-13 3-11 3-9 4-7 5"/>
<path class="a" d="M2000 620l-16-6M1949 603l-27-9M1919 593l-47-14M1868 578l-39-10-33-7M1794 561l-21-4M1772 557l-40-4M1731 553l-18 0-16 1-16 2-13 4M1665 561l-13 6"/>
<path class="b" d="M1984 599l-68-27-61-21-54-15-46-9-20-2-18-1-16 1-15 2-14 4-11 5-10 7-9 8"/>
<path class="c" d="M2010 597l-15-8M1991 587l-15-7M1973 579l-17-9M1950 567l-21-9M1888 540l-50-20-45-14-38-8-16-2-17-1M1712 495l-14 1-12 2-12 4-10 5-9 6-7 8-7 8-5 11"/>
<path class="d" d="M1930 539l-56-28-50-21-42-15-35-8-16-2-17-1-14 1-13 3-12 5-10 5-8 7-9 9"/>
<path class="e" d="M1924 516l-58-33-48-23-21-9-22-8-17-5-17-3-16-2-16 0-13 2-12 4-12 6-9 7-9 9-8 10"/>
<path class="f" d="M1906 484l-52-33-42-23-37-16-17-6-16-4-13-2-14 0-13 1-12 3-11 5-10 7-9 8-7 10"/>
<path class="g" d="M1908 463l-54-38-42-27-36-19-17-6-15-5-13-2-13-1-12 1-12 3-10 4-11 7-9 9-7 10"/>
<path class="a" d="M1935 464l-17-14M1915 447l-10-8M1902 436l-54-43-42-31-34-20-16-7-14-5-13-3-12-1-12 1-11 4-10 5-10 8-8 10-9 12"/>
<path class="b" d="M2023 530l-16-16M1982 489l-18-17M1961 469l-25-24M1935 444l-80-75-32-28-25-21-22-16-19-12-16-7-15-4-15 0-14 4-12 8-13 14-11 18-10 21-9 25-6 28"/>
<path class="d" d="M2026 509l-10-12M2012 492l-11-13M1996 474l-8-10M1983 459l-58-68M1925 390l-60-74-21-27-16-24-13-21-9-17-6-16-2-14 0-14 4-14 8-12 11-13 15-11 18-10 21-9 23-7"/>
<path class="e" d="M1894 325l-24-37-18-32-12-27-6-23-1-11 0-10 2-10 3-9 4-9 5-8 7-8 9-7"/>
<path class="g" d="M1918 303l-13-25-10-25-7-21-5-19-2-17 1-16 3-15 6-14M1892 150l6-10 9-9"/>
<path class="c" d="M1999 389l-18-35M1980 353l-19-42-15-37-11-34-6-28-1-26 1-11 2-12 4-10 5-10 6-9 6-7"/>
<path class="b" d="M2006 311l-9-31-7-25"/>
<path class="d" d="M2026 90l12 0"/>
<path class="f" d="M2038 677l-13-1M2024 676l-171-11-66-3-57-1-43 0-32 2-19 4-7 2-3 3"/>
<path class="g" d="M2015 662l-79-12-76-9-64-6-52-3-43 0-34 3-13 2-10 3-8 4-6 5"/>
<path class="a" d="M2021 649l-82-17-72-14-61-9-51-5-43-2-35 3-15 3-11 4-9 5-8 6"/>
<path class="b" d="M2023 636l-80-23-74-19-62-12-56-8-22-1-20 0-19 1-15 3-13 4-11 5-10 7-7 8"/>
<path class="c" d="M1980 607l-69-24-63-19-52-12-46-8-21-2-18 0-16 1-15 3-13 4-11 6-9 6-8 9"/>
<path class="d" d="M2037 617l-87-39-76-31-35-12-28-8-29-8-26-5-22-2-20-1-18 2-17 3-14 6-12 8-10 10-8 13"/>
<path class="e" d="M2038 605l-82-43M1955 561l-31-16M1923 545l-62-28-28-11-29-10-23-7-23-6-18-3-19-1-16 1-15 2-15 5-11 6-11 8-8 11-7 12-6 14"/>
<path class="f" d="M1957 544l-39-23M1904 513l-15-8M1863 492l-16-8M1834 478l-12-5M1820 472l-20-8M1798 463l-21-7-18-5-18-3-17-2-14 0-15 2-12 4-12 5M1671 458l-12 8-10 11"/>
<path class="g" d="M2007 559l-20-13M1987 545l-71-48-62-37-26-14-26-13-20-8-21-7-18-5-18-2-16 0-15 3-13 5-12 8-11 10-9 12"/>
<path class="a" d="M1967 513l-31-24M1935 489l-65-47-52-33-21-11-22-10-18-7-17-5-16-2-15 0-14 3-12 5-11 8-11 10-9 13-7 15"/>
<path class="b" d="M1913 449l-56-45-47-34-19-12-19-10-16-7-15-5-14-3-13 0-13 2-11 4-10 7-10 8-9 12-8 13"/>
<path class="c" d="M2036 543l-23-22M1998 506l-23-22M1974 483l-20-19M1952 462l-89-83-32-28-27-23-24-17-20-13-18-8-15-5-16 0-8 2-7 3-13 9-13 14-12 19-10 23-8 27-6 30"/>
<path class="e" d="M2020 501l-11-14M2004 482l-8-10M1991 467l-17-21M1970 443l-12-15M1953 422l-50-60M1903 361l-49-63-18-24-13-22-11-19-6-16-4-14-1-14 3-14 5-13 10-13 12-11 16-10 19-10 22-8 24-6"/>
<path class="f" d="M1885 305l-17-29-14-25-9-22-5-20-2-18 2-17 6-15 9-13M1855 145l10-9"/>
<path class="b" d="M1927 277l-7-19M1916 246l-8-31-1-14 0-14 1-13 3-12 4-11 6-10"/>
<path class="c" d="M2013 307l-11-37M2000 262l-6-34-3-31 1-26 5-22"/>
<path class="a" d="M2049 677l-102-8-91-6-76-3-62-2-45 1-29 4-10 2-6 3-3 4-2 6"/>
<path class="b" d="M1966 652l-68-10-62-7-50-5-46-3-39 0-29 3-21 4-9 3-6 4"/>
<path class="c" d="M2022 646l-23-5M1997 640l-18-4M1976 635l-25-5M1949 629l-26-6M1921 623l-60-12-50-8-48-5-38-3-33 1-24 4-11 3-9 4-7 5-6 5"/>
<path class="d" d="M2012 629l-22-7M1989 621l-73-22-65-17M1850 582l-33-7-34-6-29-4-26-2-24 0-19 2-17 4-14 7M1653 576l-11 8-8 10"/>
<path class="e" d="M2021 617l-43-17M1975 599l-73-28-61-19-53-14-43-7-20-1-19 0-16 2-14 3-12 5-11 7-9 8-7 9"/>
<path class="f" d="M1961 573l-13-5M1943 565l-48-21-44-17-39-14-38-10-32-6-26-1-25 2-20 7M1670 505l-8 5-8 5M1653 517l-9 9M1640 533l-6 13"/>
<path class="g" d="M2002 577l-78-44-67-33-29-12-27-11-24-7-22-5-21-4-19 0-16 1-15 4-14 6-11 8-9 10-9 13"/>
<path class="a" d="M2015 570l-11-8M2000 560l-14-10M1979 546l-14-10M1962 535l-13-9M1948 525l-44-27M1903 497l-53-30-47-22-22-9-19-6-18-4-15-2-16 0-13 1-14 4-11 5-11 8-9 9-8 12-7 13"/>
<path class="b" d="M1983 530l-23-17M1947 503l-21-15M1925 487l-61-41-49-30-22-11-20-9-18-6-17-4-15-2-15 1-14 2-11 5-11 7-11 10-8 12-8 14"/>
<path class="c" d="M1948 482l-10-8M1930 467l-64-50-50-36-21-13-19-11-18-8-15-5-15-3-15 0-13 2-12 5-11 7-10 10-9 12-8 14"/>
<path class="d" d="M2046 554l-14-13M2017 526l-90-85M1927 440l-78-71-30-25-24-19-23-15-18-11-17-6-15-3-15 1-14 5-13 10-12 14-11 19-10 22-7 25-7 29"/>
<path class="f" d="M2049 533l-10-11M2037 520l-11-13M2023 502l-13-14M2010 487l-32-37M1977 449l-80-97-28-37-22-30-17-26-12-21-8-19-4-17 0-17 3-15 9-15 13-14 17-12 21-11 25-9 29-7"/>
<path class="g" d="M1926 360l-32-47-24-41-15-32-5-14-4-15-2-12 0-13 2-11 3-11 5-10 7-10 9-9 10-8"/>
<path class="a" d="M1979 411l-8-12M1968 394l-8-12M1958 380l-33-53-25-44-16-36-5-16-4-16-2-15 0-13 1-13 3-11 5-11 7-10 8-9 11-9"/>
<path class="b" d="M2000 423l-39-63-30-54-20-45-7-19-5-20-3-17-1-16 2-15 3-13 6-12 7-11 9-10 12-9"/>
<path class="d" d="M2029 439l-36-66-27-56-11-26-9-23-7-22-4-19-3-19-1-17 0-15 3-14 5-13 7-11 9-11 10-9"/>
<path class="e" d="M1964 283l-8-24M1945 199l0-17M1945 180l2-13 3-12"/>
<path class="f" d="M1974 280l-5-16M1964 244l-4-18M1960 224l-2-13M1958 172l4-16"/>
<path class="c" d="M2049 401l-9-23M2039 376l-19-53-13-43-9-37-4-35-1-28 2-13 2-12 3-11 5-10 6-9 7-8M2060 677l-98-8-90-7-79-4-62-2-45 0-34 3-10 2-9 3-6 3-3 5"/>
<path class="d" d="M2060 665l-94-17-80-12-71-8-63-5-47-1-20 1-17 2-14 3-11 4-8 5-6 7"/>
<path class="e" d="M2060 653l-14-4M2045 649l-92-24-81-18-69-13-57-6-25-1-22 1-19 2-15 3-12 5-11 6-8 8-6 9"/>
<path class="f" d="M2060 641l-97-35-82-25-39-10-31-8-32-6-28-4-25-1-23 0-18 2-16 5-14 6-11 8-9 11-6 12"/>
<path class="g" d="M2060 629l-93-42-82-33-36-12-33-10-30-8-27-5-26-3-22-1-20 2-16 5-14 6-12 9-9 11-8 14"/>
<path class="a" d="M2060 617l-103-56-46-23-39-17-36-15-32-12-29-8-25-6-24-2-22 0-20 4-16 7-14 10-10 13-9 16-6 19"/>
<path class="b" d="M2040 592l-91-58-74-42-33-17-30-13-26-11-23-7-23-4-20-2-18 1-17 4-15 8-12 10-10 12-9 16"/>
<path class="c" d="M2019 562l-89-64-69-45-28-17-27-15-25-11-23-8-21-5-17-1-17 1-16 4-14 8-12 10-10 14-8 17"/>
<path class="d" d="M1997 528l-85-70-67-51-27-18-26-15-22-11-19-8-18-4-17-1-16 2-14 5-12 9-12 12-10 17-9 18"/>
<path class="e" d="M2056 565l-18-17M2027 537l-15-14M2010 521l-110-104-43-37-33-29-29-22-25-16-20-10-18-6-9-2-9 0-9 2-8 2-7 4-8 6-7 7-7 8-12 21-11 26-8 30-6 35"/>
<path class="g" d="M2059 544l-10-12M2047 530l-12-14M2035 515l-103-123-36-46-28-36-22-32-16-26-11-22-7-20-2-10 0-9 1-9 2-9 3-8 5-8 13-15 19-14 22-11 28-10 32-7"/>
<path class="a" d="M1945 381l-37-55-27-45-18-36-6-16-4-15-2-15-1-13 2-12 4-12 6-11 8-10 10-9 11-8"/>
<path class="b" d="M1970 391l-11-18M1958 372l-31-50-22-42-15-37-8-30-2-13 0-14 2-12 3-12 5-11 6-10 9-9 10-8"/>
<path class="c" d="M1975 374l-6-11M1967 360l-14-25M1947 324l-17-36-13-31-8-28-5-24 0-22 4-20 7-17 6-9 7-7"/>
<path class="f" d="M1988 325l-6-15M1971 280l-6-19M1965 261l-5-23-4-20M1955 207l-1-13M1955 176l2-15 4-12"/>
<path class="c" d="M2060 424l-13-30M2047 393l-20-53-16-50-10-42-5-36-1-31 2-13 2-14 4-12 5-10 7-9 7-8"/>
<path class="e" d="M2071 677l-110-11-96-7-82-5-62-2-46 2-17 1-14 3-9 3-7 3-3 5-2 7"/>
<path class="f" d="M2067 664l-16-3M2038 658l-60-11M1977 647l-22-4M1954 643l-16-3M1925 638l-62-10-52-7-50-4-39-2-33 1-26 4-18 6-7 4-6 5"/>
<path class="g" d="M2071 653l-96-28-85-22-71-15-31-5-31-4-27-2-22 0-21 2-16 3-15 5-11 7-9 8-7 10"/>
<path class="a" d="M2050 632l-91-35-75-26-64-18-28-7-29-5-25-2-22-1-18 1-17 3-15 4-12 7-10 9-9 11"/>
<path class="b" d="M2011 599l-15-8M1989 588l-21-10M1966 577l-21-10M1943 566l-40-18-39-16M1863 532l-44-15M1818 516l-45-12-21-4-20-2M1731 498l-25 0M1696 499l-18 4-16 8M1650 521l-8 10-7 13"/>
<path class="c" d="M2019 585l-18-11M1991 568l-75-42-64-33-29-12-26-10-23-8-21-5-21-3-18 0-17 1-14 4-14 7-10 8-10 11-8 13"/>
<path class="d" d="M2071 605l-106-75-44-30-42-27-34-20-33-17-29-12-25-9-24-5-21-1-19 3-16 7-14 10-13 15-10 18-7 23"/>
<path class="e" d="M1991 526l-19-15M1964 504l-18-14M1945 489l-20-16M1923 472l-63-47-50-32-21-12-19-9-17-6-17-4-16-2-14 1-13 3-12 6-11 9-11 12-8 14-8 16"/>
<path class="f" d="M2071 581l-10-10M2045 556l-124-116-44-39-38-33-31-24-27-18-23-13-19-8-10-2-9-1-9 0-8 2-9 3-8 5-7 6-8 8-13 19-11 25-9 29-7 34"/>
<path class="a" d="M2056 539l-12-14M2040 520l-44-53M1995 466l-84-104-29-38-24-33-18-28-12-23-8-20-4-18-1-9 1-10 4-16 9-16 15-14 18-12 23-11 28-9 31-6"/>
<path class="b" d="M1989 436l-26-35M1961 397l-22-31M1939 365l-34-51-23-42-15-34-5-16-3-15-1-14 0-13 3-12 4-11 7-11 8-9 11-9 12-8"/>
<path class="c" d="M2027 469l-9-14M2008 441l-47-73-35-61-12-24-10-24-7-20-5-19-3-18 0-16 2-15 4-15 7-12 10-12 12-10 15-9"/>
<path class="d" d="M1998 404l-22-39M1975 363l-24-46-19-42-12-37-6-30-1-14 0-12 2-13 3-11 6-11 6-10 7-9 10-7"/>
<path class="e" d="M2048 470l-10-17M2033 443l-38-70-29-59-11-26-9-27-6-20-5-21-2-19 0-18 2-15 4-14 6-12 9-12 10-10 12-8"/>
<path class="f" d="M2008 376l-26-56-18-51M1964 268l-7-24-4-21-3-20 0-18 1-15 4-15 6-13 8-12"/>
<path class="c" d="M2068 442l-28-71-20-58-14-53-5-23-3-20-1-21 0-18 2-15 4-15 5-12 7-11 8-9 10-8"/>
<path class="g" d="M2083 677l-117-12-95-9-82-5-64-2-47 1-18 1-14 3-10 3-7 4-4 6-2 7"/>
<path class="a" d="M2083 665l-106-23-89-17-74-11-65-6-28-1-22 1-20 1-17 4-13 4-11 6-7 8-5 9"/>
<path class="b" d="M1999 625l-32-10M1964 614l-76-21-64-15-54-10-25-2-23-1M1709 565l-19 1-17 3-14 5-11 6M1647 581l-8 8-7 9"/>
<path class="c" d="M2083 641l-106-47-44-18-44-16-37-13-34-10-30-8-31-5-25-3-25 0-19 2-17 5-14 8-12 10-9 13-7 16"/>
<path class="d" d="M2083 629l-111-61-45-24-44-21-40-18-33-12-30-9-28-6-26-3-22 0-20 4-16 7-15 12-11 14-8 18-6 21"/>
<path class="e" d="M2056 599l-18-13M2037 585l-18-12M2005 564l-19-13M1957 532l-62-38M1893 493l-17-10M1874 482l-49-26-40-17-18-5-18-5-16-3-16-1-15 1-12 3-11 5-10 6-10 8-8 10-7 12-6 14"/>
<path class="f" d="M2072 597l-10-9M2057 584l-109-86-44-33-37-26-32-21-31-18-26-13-22-9-23-5-19-1-18 3-15 7-14 11-13 15-10 20-8 23"/>
<path class="g" d="M2083 593l-138-127-51-46-42-36-35-27-29-21-24-14-22-9-11-3-10-1-9 1-10 1-9 4-8 5-8 6-8 8-7 10-6 11-11 27-9 32-7 37"/>
<path class="b" d="M2083 569l-11-13M2071 556l-8-10M2062 545l-108-133-40-50-31-42-22-33-18-28-12-24-7-22-2-10-1-10 1-10 1-9 4-9 4-8 6-8 7-8 19-14 23-12 28-9 33-7"/>
<path class="c" d="M2038 498l-68-95-48-73-18-29-13-26-11-24-8-21-5-20-1-18 1-17 5-15 8-14 11-13 15-11 17-9"/>
<path class="d" d="M2024 458l-11-16M2013 441l-13-20M1999 420l-9-15M1989 404l-37-63-26-51-10-23-8-21-5-18-4-19-1-16 1-15 3-14 5-13 7-12 10-10 11-9 14-8"/>
<path class="e" d="M2062 500l-8-12M2051 482l-7-11M2040 464l-29-48M2011 415l-31-56-25-51M1955 307l-16-39-10-33-5-31-1-12 1-13 2-12 3-12 5-10 6-9 7-8 8-7 10-7 11-6"/>
<path class="f" d="M2028 424l-31-62-24-53-17-48-5-19-4-19-3-18 0-16 1-15 3-14 4-12 6-11 8-10 9-9"/>
<path class="g" d="M2040 426l-30-63-22-52-15-48-9-39-2-16-1-17 1-16 2-14 4-13 6-11 7-10 8-8"/>
<path class="c" d="M2080 466l-34-83M2045 382l-20-58-14-48-9-43-2-20-1-18 0-16 2-15 3-14 5-12 6-11 7-9 9-8 10-6"/>
<path class="b" d="M2093 677l-114-14-94-10-78-6-68-3-50 0-34 4-13 3-8 4-6 5-4 6"/>
<path class="c" d="M2035 650l-17-4M2006 643l-19-4M1985 638l-24-5M1959 632l-26-5M1931 626l-53-10M1876 615l-76-12-59-5M1740 598l-42 0-17 1-16 3-11 4-11 5-8 7-6 8"/>
<path class="d" d="M2094 653l-109-41-91-30-40-11-36-9-33-6-32-5-27-2-23 0-20 3-18 5-15 8-10 10-8 12-5 15"/>
<path class="e" d="M2072 630l-19-10M2049 618l-20-10M2019 603l-17-9M1998 593l-15-8M1973 580l-13-5M1951 570l-29-13M1904 549l-25-10M1877 538l-25-9M1843 526l-22-8M1819 518l-38-11-31-6M1728 499l-19 0M1705 499l-16 2-15 5M1673 506l-11 6-9 7"/>
<path class="f" d="M2094 629l-116-73-47-29-42-23-38-19-35-16-30-11-27-8-25-4-22-1-21 3-16 7-15 10-12 14-10 18-7 22"/>
<path class="g" d="M2027 565l-11-9M1970 521l-28-20M1933 494l-37-26M1894 467l-54-34-45-25-18-8-18-7-16-4-16-2-15-1-14 3-12 4-11 6-10 8-9 11-8 12-7 15M1641 447l-5 13"/>
<path class="a" d="M2085 597l-134-123-50-43-43-36-34-27-31-20-26-16-22-9-11-3-11-1-10-1-9 2-9 3-9 4-7 6-8 7-7 9-7 10-11 25-9 29-7 35M1630 449l-2 22"/>
<path class="c" d="M2090 576l-118-145-43-54-33-45-25-37-19-31-13-26-7-22-3-12-1-10 1-10 1-10 4-9 5-10 5-8 8-8 9-7 11-7 25-12 30-10 35-6"/>
<path class="d" d="M2056 518l-36-50M2014 459l-36-52M1976 404l-8-12M1966 389l-39-61-27-50-9-22-7-19-5-18-3-17 0-16 1-14 5-14 6-12 9-11 12-10 14-9 16-7"/>
<path class="e" d="M2065 514l-8-13M2056 500l-56-90-41-72-15-29-13-29-10-26-7-24-4-21-1-19 2-17 4-17 8-14 10-13 13-10 16-9"/>
<path class="f" d="M2076 516l-7-12M2063 493l-9-14M2042 457l-19-33M2023 423l-36-68-26-57-9-25-7-22-6-22-3-20-1-17 1-17 3-16 6-13 8-13 9-10 12-9 13-7"/>
<path class="g" d="M2044 440l-22-44-20-43M2001 351l-6-14M1994 335l-7-18M1986 315l-14-37M1969 266l-8-31M1961 234l-5-32 0-14 1-14 2-13 4-11 5-10 6-10M1974 130l12-12"/>
<path class="a" d="M2041 413l-26-59-19-53-14-44-4-21-3-19-2-16 0-17 2-15 3-13 4-13 6-10 7-10 10-9"/>
<path class="b" d="M2082 485l-6-13M2062 441l-9-22M2038 383l-8-21M2027 356l-4-12M2000 273l-4-16M1996 255l-4-19M1990 227l-1-14M1989 171l3-17 6-15"/>
<path class="c" d="M2094 497l-11-24M2077 458l-28-70-23-64-16-56-5-24-3-21-2-22 0-19 2-16 3-15 5-14 7-11 8-10 10-8"/>
<path class="d" d="M2037 331l-11-38-8-34-5-30-2-26 0-24 3-22 6-18 8-15"/>
<path class="g" d="M2036 205l0-27"/>
<path class="d" d="M2058 201l0-20M2104 677l-110-16-98-11-84-8-68-4-51 0-20 1-17 3-13 3-9 5-6 5-4 8"/>
<path class="e" d="M2105 665l-115-33-97-23-42-9-39-7-35-5-30-3-28-1-24 1-20 2-16 5-13 6-10 8-6 11-5 13"/>
<path class="f" d="M2105 653l-114-49-49-19-45-17-42-14-35-10-35-8-30-5-26-3-24 0-22 3-17 6-14 9-11 11-9 14-5 18"/>
<path class="g" d="M2105 641l-65-39-56-31-50-27-44-22-40-18-37-15-32-10-31-7-27-3-23 1-20 5-16 9-8 6-6 6-11 17-8 21-5 25"/>
<path class="a" d="M2105 629l-123-90-48-34-46-30-38-23-36-19-31-14-27-9-26-5-22 0-9 1-10 3-9 4-8 5-7 6-7 7-12 18-9 22-7 28"/>
<path class="b" d="M2105 617l-145-129-52-45-44-36-37-28-33-21-28-16-23-9-11-2-11-2-11 1-10 2-9 3-9 6-8 7-8 8-7 10-7 11-5 14-6 15-8 33-6 39"/>
<path class="d" d="M2105 593l-122-153-44-56-32-45-26-39-19-31-13-28-9-24-2-11-1-12 0-10 2-11 3-10 5-9 6-8 9-9 9-7 11-7 26-12 31-9 36-7"/>
<path class="e" d="M2088 557l-81-116-31-47-27-43-19-35-17-32-12-28-9-26-4-24-1-21 3-20 7-16 11-15 16-13 19-10 24-9"/>
<path class="f" d="M2105 569l-71-113-28-48-24-44-19-37-16-35-12-31-8-27-4-25-1-23 3-21 6-17 10-15 13-13 17-10 22-9"/>
<path class="g" d="M2105 557l-7-12M2096 541l-55-98-24-46-18-38-16-35-12-32-10-28-7-27-4-24-2-23 2-19 4-18 8-15 9-12 13-11 16-9"/>
<path class="a" d="M2069 475l-7-13M2061 459l-36-75-26-64-9-26-8-27-6-22-4-22-2-19 0-20 2-16 3-16 6-14 8-11 10-10 11-8"/>
<path class="b" d="M2090 501l-38-82-28-71M2023 346l-14-39-10-36M1997 263l-6-29-3-24-1-24 2-19 4-18 7-15 10-13 12-11"/>
<path class="c" d="M2105 521l-8-19M2085 475l-11-25M2071 442l-26-65M2045 375l-18-51-14-49-8-41-3-34M2002 183l3-24 3-11 3-10 5-10 6-7 7-7 7-6"/>
<path class="d" d="M2085 459l-27-71-20-62-14-54-5-25-3-23-2-20 0-20 1-17 3-15 4-13 7-12 7-10 9-8"/>
<path class="e" d="M2038 290l-6-28M2032 261l-5-31-3-30M2024 198l1-24 3-21M2028 152l6-18"/>
<path class="c" d="M2103 429l-6-22M2087 368l-6-25M2081 342l-9-43-6-40-4-34-2-29 1-27 3-22 6-18 8-15"/>
<path class="f" d="M2116 677l-121-20-108-15-87-9-68-4-28 0-22 1-20 3-15 3-10 5-8 6-4 8-2 11"/>
<path class="g" d="M2095 658l-12-5M2080 652l-14-4M2049 642l-26-8M2020 633l-42-14M1977 619l-74-21-60-15-54-11-48-5M1739 567l-21-1-18 1M1699 567l-16 2M1682 569l-13 3-12 5-10 5-8 8"/>
<path class="a" d="M1986 588l-13-7M1964 577l-15-7M1926 560l-25-11M1888 544l-14-6M1856 531l-16-5M1839 525l-41-13M1797 512l-36-8M1755 503l-13-2M1726 500l-16 0M1686 503l-12 4"/>
<path class="b" d="M2007 566l-13-9M1954 532l-11-8M1935 519l-33-20M1900 498l-15-8M1884 489l-28-15M1856 473l-39-19-34-14-31-9-26-4-12 0-11 1-10 2-10 4-9 4-9 6-8 8-6 7M1650 460l-6 11-6 14"/>
<path class="c" d="M2116 629l-145-126-54-45-48-37-39-29-33-21-29-15-24-9-11-2-12-1-11 0-11 2-10 4-9 5-8 7-8 9-7 10-7 12-11 28-8 34-5 40"/>
<path class="e" d="M2116 605l-121-155-44-59-33-47-26-39-20-34-14-29-8-25-2-12-1-13 1-11 2-10 3-10 6-10 6-8 8-8 10-8 11-7 12-6 15-5 31-9 37-6"/>
<path class="f" d="M2106 578l-8-12M2084 546l-10-14M2073 530l-7-11M2041 482l-10-14M2028 463l-7-11M2020 450l-10-15M2007 431l-43-72-17-30-15-31-12-26-9-24-6-21-4-20-1-19 2-16 5-16 7-13 9-12 13-10 15-9 18-8"/>
<path class="g" d="M2102 558l-7-12M2066 498l-12-20M2054 477l-15-26M2030 435l-11-20M2018 413l-6-11M2012 401l-14-26M1996 371l-7-15M1988 354l-24-52-15-42-5-19-4-19-3-17 0-17 1-15 3-13 4-11 6-11 8-10 9-9 11-7 14-7"/>
<path class="a" d="M2075 492l-42-84-31-70-12-31-10-28-7-25-5-23-3-22-1-19 1-17 4-16 5-15 8-12 10-11 12-9"/>
<path class="b" d="M2116 557l-50-105-21-49-17-42-15-39-11-35-8-31-5-28-3-26 0-24 3-20 6-17 8-15 12-12 14-9 18-7"/>
<path class="c" d="M2099 507l-10-25M2081 464l-26-65M2051 389l-18-51-13-42-9-38-6-36M2004 210l-1-15M2003 188l2-27 3-12 5-11 5-10 5-7 7-7 9-7M2040 106l14-7"/>
<path class="d" d="M2116 533l-37-94-28-80-19-68-7-31-5-28-2-24-1-23 2-19 3-18 6-15 8-13 10-10 12-8"/>
<path class="e" d="M2076 409l-5-16M2071 392l-5-14M2063 367l-14-48-9-39-7-38-3-32-1-29 3-25 6-21 9-16"/>
<path class="f" d="M2085 417l-17-60-14-53-9-46-5-39-1-35 1-16 2-14 3-12 4-11 6-10 6-8"/>
<path class="g" d="M2085 395l-7-25M2076 364l-11-46-7-37-6-36-3-31-1-29 2-26 4-19 8-17"/>
<path class="b" d="M2111 456l-7-28M2104 427l-17-64-12-62-8-48-4-44 0-37 4-28 4-12 4-11 6-8 7-8"/>
<path class="a" d="M2127 677l-127-25-107-18-85-12-37-3-35-2-29 0-24 1-20 3-15 5-11 6-7 7-5 9-2 13"/>
<path class="b" d="M2127 665l-124-50-54-20-50-17-44-14-40-10-35-7-31-5-29-2-23 1-20 4-18 7-14 10-10 12-6 16-4 20"/>
<path class="c" d="M2127 653l-71-44-62-38-57-32-47-25-44-21-38-16-33-11-29-6-28-3-22 2-11 3-9 4-9 5-8 6-7 7-6 8-10 20-7 25-4 30"/>
<path class="d" d="M2127 641l-81-69-69-56-57-45-47-35-40-27-36-21-31-15-26-8-13-2-12-1-12 1-10 3-10 5-9 6-8 8-8 10-7 11-6 13-6 15-4 16-7 36-4 45M1624 534l0 13"/>
<path class="f" d="M2127 617l-120-159-42-57-34-51-27-42-20-36-13-30-8-27-2-13-1-12 1-11 3-12 4-10 6-10 7-9 9-8 10-7 12-7 13-6 15-5 34-8 41-5"/>
<path class="g" d="M2127 605l-87-135-31-52-28-49-21-40-17-38-13-33-8-28-5-27 1-23 4-21 4-9 5-10 6-8 7-7 9-7 10-6 22-9 26-7"/>
<path class="a" d="M2127 593l-68-123-27-51-21-45-19-41-14-37-11-32-7-31-4-26-1-24 3-22 7-18 11-16 13-12 18-10 21-7"/>
<path class="b" d="M2127 581l-6-13M2120 566l-55-112-21-49-19-46-15-38-12-39-8-30-5-29-2-28 1-22 4-21 7-17 10-14 13-11 17-9 20-6"/>
<path class="c" d="M2127 569l-6-13M2119 550l-26-58M2087 476l-35-87M2049 382l-5-15M2043 366l-4-13M2039 352l-6-17M2033 334l-14-47-10-45M2005 209l-1-18 1-15M2005 174l3-18 4-13 6-13 7-11M2027 118l10-9 12-7"/>
<path class="d" d="M2127 557l-41-105-30-87-12-38-9-35-7-32-4-28-3-27 0-23 2-21 4-17 6-14 9-13 12-10 13-8"/>
<path class="e" d="M2108 492l-5-15M2100 470l-25-77-19-65-13-58-4-26-3-24-1-21 0-20 2-18 3-14 4-13 6-12 8-9 9-8"/>
<path class="f" d="M2097 439l-20-68-15-60-10-52-5-47-1-20 1-18 1-15 3-14 5-14 5-10 6-9 8-7"/>
<path class="g" d="M2092 400l-6-24M2081 356l-4-17M2076 336l-10-48M2066 285l-3-14M2063 267l-3-18M2060 247l-2-16M2057 218l-1-18M2056 184l1-22 4-17 4-15 7-13M2075 113l9-9"/>
<path class="a" d="M2113 457l-19-73-15-69-10-55-4-49-1-21 1-19 1-15 3-15 5-13 5-11 7-8 7-7"/>
<path class="b" d="M2085 314l-4-23M2080 289l-6-46-2-36 0-32 3-27M2075 147l5-18"/>
<path class="f" d="M2113 376l-4-21M2109 354l-11-82-4-35-2-34 1-27 1-22 4-20 5-15"/>
<path class="c" d="M2139 677l-130-32-108-24-48-9-41-6-40-5-34-2-30-1-24 2-19 4-16 5-11 8-8 9-5 12-2 16"/>
<path class="d" d="M2063 626l-31-16M2019 604l-15-8M2000 595l-24-12M1972 581l-18-8M1947 570l-61-26M1884 543l-16-7M1867 536l-20-7M1846 528l-24-8M1821 520l-42-12-38-6M1726 501l-15 0M1682 505l-15 6M1659 516l-9 7-6 7"/>
<path class="e" d="M2139 653l-81-63-69-53-59-44-51-35-44-27-38-20-33-14-27-7-13-2-13 0-11 2-12 4-10 5-9 6-8 9-8 9-6 12-6 13-5 14-4 16-6 38-3 47M1623 575l0 14"/>
<path class="f" d="M2047 544l-9-11"/>
<path class="g" d="M2139 629l-65-87-52-74-42-60-33-50-25-43-20-39-14-33-8-28-2-13 0-14 1-12 3-11 4-11 6-10 8-9 9-8 11-8 12-6 13-6 16-5 34-7 43-4"/>
<path class="a" d="M2110 570l-8-12M2091 538l-12-19M2059 484l-12-20M2044 459l-8-15M2036 443l-20-36M2015 406l-6-11M2008 392l-30-61M1978 330l-17-39-12-35-7-30-3-27M1939 198l0-18 3-17 5-14 7-13 10-12 11-9 14-8 17-6"/>
<path class="b" d="M2139 605l-37-70-29-60-25-53-21-46-17-44-13-39-10-34-7-33-3-29 2-25 4-21 8-17 6-9 6-6 16-12 19-8 24-6"/>
<path class="c" d="M2094 492l-11-26M2059 405l-8-21M2048 376l-17-49-12-43M2018 279l-4-17M2011 247l-3-18M2006 207l0-30M2009 155l5-15 5-11"/>
<path class="d" d="M2139 581l-44-113-32-94-12-39-10-36-7-33-5-32-3-28 0-26 2-21 5-18 7-15 10-13 12-9 14-7"/>
<path class="e" d="M2120 516l-29-89-22-73-16-67-9-55-2-26 0-22 1-18 3-18 5-15 6-11 8-11 9-8"/>
<path class="f" d="M2139 557l-33-104-24-87-16-75-5-30-4-31-2-27 0-25 2-20 4-18 6-15 7-12 10-9 11-7"/>
<path class="g" d="M2138 542l-4-13M2127 504l-6-20M2121 483l-6-21M2105 423l-7-27M2095 383l-5-21M2090 361l-12-54-7-46-4-42-1-34 2-29 5-24 5-9 4-8 5-7 7-6"/>
<path class="a" d="M2128 493l-5-20M2122 472l-19-80-13-66-10-58-5-52 0-42 1-16 3-16 4-13 5-11 6-9 7-7"/>
<path class="b" d="M2107 384l-5-27M2099 339l-8-43-5-42-3-36-1-29 1-26 4-24 6-18 7-13"/>
<path class="c" d="M2115 397l-4-19M2103 331l-2-12M2099 306l-2-13M2090 221l-1-15M2091 152l3-15"/>
<path class="d" d="M2129 449l-7-35M2120 408l-11-66-8-53-4-47-3-41 1-35 4-27 6-20 4-8 5-7"/>
<path class="f" d="M2104 216l0-14M2104 181l0-12"/>
<path class="a" d="M2112 229l-1-21M2111 174l1-14M2112 158l2-15"/>
<path class="e" d="M2150 677l-133-45-60-18-53-15-46-12-42-9-38-6-36-4-29-1-26 2-20 5-17 7-11 10-9 13-5 16-2 21"/>
<path class="f" d="M2150 665l-82-57-71-48-63-40-52-31-46-25-40-17-36-12-29-6-15 0-13 0-11 3-11 4-10 5-9 8-9 9-7 10-6 13-5 12-4 15-3 16-4 38-1 53"/>
<path class="a" d="M2150 641l-59-86-50-74-41-63-33-55-25-47-19-40-13-35-6-29-2-14 0-13 2-13 3-12 5-11 7-10 8-9 9-8 11-7 12-6 14-5 16-5 35-6 45-3M2079 90l14 0"/>
<path class="b" d="M2150 629l-42-76-35-66-28-57-24-50-19-47-15-42-11-36-6-31-3-30 1-25 6-21 5-10 5-8 6-7 8-7 9-6 9-5 22-8 28-5"/>
<path class="c" d="M2084 468l-26-67M2053 388l-6-17M2046 368l-8-21M2035 336l-12-42M2022 294l-6-27M2015 262l-4-20M2007 207l-1-16M2014 141l9-16M2023 125l11-12"/>
<path class="d" d="M2150 605l-46-122-33-100-14-45-9-37-8-38-5-32-2-28 0-26 3-22 6-19 7-15 11-12 13-9 17-6"/>
<path class="e" d="M2150 593l-40-121-28-98-10-42-8-38-6-35-4-34-2-28 1-24 2-21 6-19 7-15 9-10 12-9 14-5"/>
<path class="f" d="M2119 473l-9-33M2107 428l-11-44M2095 378l-4-16M2091 361l-13-65M2075 277l-2-13M2073 263l-4-36M2069 226l-1-13M2068 211l0-37M2068 173l4-29 3-12 5-11M2080 120l7-11"/>
<path class="g" d="M2150 569l-28-109-20-91-14-74-4-33-4-32-1-29 0-23 2-22 3-16 5-16 6-12 8-9 9-6"/>
<path class="a" d="M2150 557l-3-12M2144 534l-22-97-16-81-10-69-7-61-1-46 2-20 2-18 4-15 5-12 7-10 8-7"/>
<path class="b" d="M2150 545l-4-19M2140 498l-5-22M2132 460l-6-30M2124 418l-14-79M2110 337l-4-27M2106 309l-2-14M2104 294l-5-41-2-33-1-31 1-27 3-22 5-19 7-13 9-9"/>
<path class="c" d="M2135 456l-13-76-10-63-6-56-3-50 0-41 4-32 3-13 3-10 5-8 6-7"/>
<path class="d" d="M2129 401l-5-32M2122 353l-3-22M2119 330l-2-15M2117 314l-2-15M2115 298l-6-67-1-53 2-23 2-18 3-14 5-12"/>
<path class="e" d="M2139 442l-7-46M2131 388l-8-55-6-55-3-46-1-41 1-31 3-26 5-19 4-7 4-7"/>
<path class="f" d="M2119 250l-1-14M2118 233l-1-18M2117 209l0-31"/>
<path class="a" d="M2128 282l-3-42M2125 239l-1-63 1-26 3-20"/>
<path class="g" d="M2161 677l-87-45-74-37-66-30-55-24-51-18-44-13-37-7-32-2-15 1-12 2-12 4-10 5-10 6-8 7-6 8-6 10-7 21-5 27-1 33-1 64"/>
<path class="a" d="M2123 625l-9-11M2094 594l-17-19M2021 516l-13-14M1971 462l-10-10M1942 430l-12-12M1927 415l-10-11M1866 350l-10-11"/>
<path class="b" d="M2161 653l-53-87-45-76-38-68-29-55-23-50-16-42-12-38-5-32 0-15 1-14 2-12 4-12 5-11 7-10 8-9 10-7 11-7 12-5 14-4 15-4 37-4 50-1"/>
<path class="c" d="M2099 502l-9-22M2089 478l-6-15M2082 462l-24-63M2053 386l-6-17M2046 366l-14-43M2031 320l-6-20M2024 295l-6-23M2014 253l-3-15M2009 165l3-15 5-13"/>
<path class="d" d="M2161 629l-47-133-19-58-14-48-13-47-10-43-7-39-5-33-2-31 1-26 3-22 7-19 8-14 12-12 15-7 18-5"/>
<path class="e" d="M2157 603l-4-13M2148 573l-4-14M2107 424l-6-23M2096 379l-4-17M2090 352l-10-51M2079 294l-3-17M2072 245l-2-21M2070 223l-1-13M2069 205l0-26M2073 144l3-13 5-10"/>
<path class="f" d="M2161 605l-29-118-23-103-15-87-5-37-3-33-1-29 1-26 2-22 4-19 5-14 8-11 9-8 11-5"/>
<path class="g" d="M2136 475l-5-23M2126 423l-14-80M2109 328l-2-19M2107 307l-2-14M2105 291l-6-62M2099 228l-1-18M2098 203l0-22M2098 175l1-14M2099 160l3-21M2102 138l6-20M2114 106l6-6 8-5"/>
<path class="a" d="M2161 581l-20-107-16-95-11-80-6-70-1-30 0-25 2-22 2-17 4-15 6-12 7-8 8-6"/>
<path class="b" d="M2143 460l-5-31M2134 401l-3-21M2130 372l-3-22M2127 349l-9-79-3-64M2115 202l0-21M2115 179l1-28 3-21 6-18 7-11"/>
<path class="c" d="M2153 506l-13-86-9-79-7-67-3-59 0-43 3-36 3-13 3-11 4-8 6-7"/>
<path class="d" d="M2152 478l-2-13M2145 425l-2-15M2142 401l-2-16M2140 383l-4-35M2136 347l-3-28M2132 306l-6-83 0-34 0-29 3-23 3-18 5-13 7-9"/>
<path class="e" d="M2146 413l-2-15M2144 395l-2-16M2142 376l-9-106-3-77 0-30 3-26 3-20 5-13"/>
<path class="f" d="M2155 467l-2-16M2153 450l-2-17M2151 432l-2-18M2149 413l-2-17M2147 395l-2-18M2144 364l-8-102-2-41 0-37 1-31 2-23 4-18 5-12"/>
<path class="a" d="M2150 385l-8-106-3-82 1-32 1-25 3-20 4-15"/>
<path class="c" d="M2145 239l-1-19M2144 166l1-14"/>
<path class="a" d="M2172 689l-550 0"/>
<path class="b" d="M2172 677l-454-485"/>
<path class="c" d="M2172 665l-39-85-33-77-27-65-23-60-17-52-12-45-9-40-4-35 1-31 1-14 3-12 4-11 5-10 7-8 6-7 8-6 10-5 9-4 12-3 26-4 39-1"/>
<path class="d" d="M2172 653l-43-147-17-65-14-56-12-54-8-45-6-43-2-36 0-29 2-27 6-21 8-16 10-11 7-5 6-3 17-4 24-1"/>
<path class="e" d="M2172 641l-31-144-22-115-8-52-6-48-4-41-2-35 0-31 2-24 4-21 6-16 7-11 10-8 12-4 17-1"/>
<path class="f" d="M2172 629l-23-137-17-113-11-97-3-39-2-36 0-30 1-25 4-22 4-16 6-11 7-7 10-5 13-1"/>
<path class="g" d="M2172 617l-18-129-15-116-8-93-4-76 0-30 2-25 2-19 4-16 5-11 6-7 8-4 11-1"/>
<path class="a" d="M2172 605l-16-130-11-112-7-93-3-71 2-51 2-20 3-15 4-10 5-8 7-4 9-1"/>
<path class="b" d="M2172 593l-13-128-10-107-6-88-2-72 1-51 2-20 3-14 4-10 4-8 6-4 8-1"/>
<path class="c" d="M2172 581l-1-15M2171 564l-11-119-8-102-5-86-1-65 1-47 2-18 2-14 3-11 4-6 5-4 7-2"/>
<path class="d" d="M2172 569l-1-15M2171 550l-2-21M2169 527l-9-108-6-96-4-77-1-62 2-44 4-29 3-10 3-6 4-3 6-2"/>
<path class="e" d="M2172 557l-1-15M2170 523l-2-25M2168 497l-8-103-5-88-2-70-1-59 2-42 4-26 2-8 3-6 4-4 5-1"/>
<path class="f" d="M2172 545l-1-16M2169 493l-2-28M2167 463l-2-29M2165 432l-9-158-1-63 0-48 2-34 3-23 3-7 2-5 4-3 4-1"/>
<path class="g" d="M2172 533l-1-16M2168 460l-1-14M2167 443l-2-30M2165 408l-1-15M2164 390l-6-119-1-92 1-33 2-24 2-17 4-10"/>
<path class="a" d="M2172 521l-1-16M2166 403l-1-18M2165 383l-1-18M2164 362l-3-72M2161 288l-2-64 0-50 1-37 3-27"/>
<path class="b" d="M2172 509l-1-16M2167 401l-1-17M2166 379l-1-15M2165 357l-1-19M2164 332l-1-19M2163 305l-1-28M2162 274l-1-38M2161 230l0-71M2161 154l1-20"/>
<path class="c" d="M2172 497l0-12M2167 379l-1-14M2166 354l-1-16M2165 328l-1-16M2164 299l-1-22M2163 264l-1-34M2162 159l1-20"/>
<path class="d" d="M2172 485l0-12M2166 328l-1-15M2165 297l-1-19M2164 258l-1-32M2163 162l1-20"/>
<path class="e" d="M2172 473l0-12M2166 298l-1-15M2165 258l-1-23M2164 156l1-15"/>
<path class="f" d="M2172 461l0-12M2167 304l-1-15M2166 264l-1-19"/>
<path class="g" d="M2172 449l0-12M2166 204l0-25"/>
<path class="a" d="M2172 437l0-12M2167 233l-1-20M2166 171l1-14"/>
<path class="b" d="M2172 425l0-12"/>
<path class="c" d="M2172 413l0-12M2168 198l0-13"/>
<path class="d" d="M2172 401l0-12"/>
<path class="e" d="M2172 389l0-12"/>
<path class="f" d="M2172 377l0-12"/>
<path class="g" d="M2172 365l0-12"/>
<path class="a" d="M2172 353l0-12"/>
<path class="b" d="M2172 341l0-12"/>
<path class="c" d="M2172 329l0-12"/>
<path class="d" d="M2172 317l0-12"/>
<path class="e" d="M2172 305l0-12"/>
<path class="f" d="M2172 293l0-12"/>
<path class="g" d="M2172 281l0-12"/>
<path class="a" d="M2172 269l0-12"/>
<path class="b" d="M2172 257l0-12"/>
<path class="c" d="M2172 245l0-12"/>
<path class="d" d="M2172 233l0-12"/>
<path class="e" d="M2172 221l0-12"/>
<path class="f" d="M2172 209l0-12"/>
<path class="g" d="M2172 197l0-13"/>
<path class="a" d="M2172 185l0-13"/>
<path class="b" d="M2172 173l0-13"/>
<path class="c" d="M2172 161l0-13"/>
<path class="d" d="M2172 149l1-13"/>
<path class="e" d="M2172 137l1-13"/>
<path class="f" d="M2172 125l2-20M2174 103l1-8 2-4"/>
<path class="g" d="M2172 113l3-17 1-4 2-2"/>
<path class="a" d="M2172 101l2-8 3-3"/>
<path class="b" d="M2172 90l11 0"/>
<path class="d" d="M2184 677l0-12"/>
<path class="e" d="M2184 665l0-12"/>
<path class="f" d="M2184 653l0-12"/>
<path class="g" d="M2184 641l0-12"/>
<path class="a" d="M2184 629l0-12"/>
<path class="b" d="M2184 617l0-12"/>
<path class="c" d="M2184 605l0-12"/>
<path class="d" d="M2184 593l0-12"/>
<path class="e" d="M2184 581l0-12"/>
<path class="f" d="M2184 569l0-12"/>
<path class="g" d="M2184 557l0-12"/>
<path class="a" d="M2184 545l0-12"/>
<path class="b" d="M2184 533l0-12"/>
<path class="c" d="M2184 521l0-12"/>
<path class="d" d="M2184 509l0-12"/>
<path class="e" d="M2184 497l0-12"/>
<path class="f" d="M2184 485l0-12"/>
<path class="g" d="M2184 473l0-12"/>
<path class="a" d="M2184 461l0-12"/>
<path class="b" d="M2184 449l0-12"/>
<path class="c" d="M2184 437l0-12"/>
<path class="d" d="M2184 425l0-12"/>
<path class="e" d="M2184 413l0-12"/>
<path class="f" d="M2184 401l0-12"/>
<path class="g" d="M2184 389l0-12"/>
<path class="a" d="M2184 377l0-12"/>
<path class="b" d="M2184 365l0-12"/>
<path class="c" d="M2184 353l0-12"/>
<path class="d" d="M2184 341l0-12"/>
<path class="e" d="M2184 329l0-12"/>
<path class="f" d="M2184 317l0-12"/>
<path class="g" d="M2184 305l0-12"/>
<path class="a" d="M2184 293l0-12"/>
<path class="b" d="M2184 281l0-12"/>
<path class="c" d="M2184 269l0-12"/>
<path class="d" d="M2184 257l0-12"/>
<path class="e" d="M2184 245l0-12"/>
<path class="f" d="M2184 233l0-12"/>
<path class="g" d="M2184 221l0-12"/>
<path class="a" d="M2184 209l0-12"/>
<path class="b" d="M2184 197l0-12"/>
<path class="c" d="M2184 185l0-12"/>
<path class="d" d="M2184 173l0-12"/>
<path class="e" d="M2184 161l0-12"/>
<path class="f" d="M2184 149l0-12"/>
<path class="g" d="M2184 137l0-12"/>
<path class="a" d="M2184 125l0-12"/>
<path class="b" d="M2184 113l0-12"/>
<path class="c" d="M2184 101l0-11"/>
</g></g>
<circle cx="1622.5" cy="89.5" r="19.5" fill="#0000FF" stroke="#000" stroke-width="2.2"/><circle cx="2183.5" cy="689" r="19.5" fill="#0000FF" stroke="#000" stroke-width="2.2"/><circle cx="2183.5" cy="89.5" r="19.5" fill="#00FF00" stroke="#000" stroke-width="2.2"/><circle cx="1622.5" cy="689" r="19.5" fill="#00FF00" stroke="#000" stroke-width="2.2"/><circle cx="1717.9" cy="191.4" r="19.5" fill="#FF0000" stroke="#000" stroke-width="2.2"/>
<text x="1900.4" y="70.7" font-size="66" text-anchor="middle" textLength="168.9" lengthAdjust="spacingAndGlyphs">Case 3</text>
<text x="1622.5" y="755.5" font-size="60" text-anchor="middle" fill="#262626" textLength="28.8" lengthAdjust="spacingAndGlyphs">0</text>
<text x="1734.7" y="755.5" font-size="60" text-anchor="middle" fill="#262626" textLength="72.0" lengthAdjust="spacingAndGlyphs">0.2</text>
<text x="1846.9" y="755.5" font-size="60" text-anchor="middle" fill="#262626" textLength="72.0" lengthAdjust="spacingAndGlyphs">0.4</text>
<text x="1959.1" y="755.5" font-size="60" text-anchor="middle" fill="#262626" textLength="72.0" lengthAdjust="spacingAndGlyphs">0.6</text>
<text x="2071.3" y="755.5" font-size="60" text-anchor="middle" fill="#262626" textLength="72.0" lengthAdjust="spacingAndGlyphs">0.8</text>
<text x="2183.5" y="755.5" font-size="60" text-anchor="middle" fill="#262626" textLength="28.8" lengthAdjust="spacingAndGlyphs">1</text>
<text x="1610.9" y="710.1" font-size="60" text-anchor="end" fill="#262626" textLength="28.8" lengthAdjust="spacingAndGlyphs">0</text>
<text x="1610.9" y="590.2" font-size="60" text-anchor="end" fill="#262626" textLength="72.0" lengthAdjust="spacingAndGlyphs">0.2</text>
<text x="1610.9" y="470.3" font-size="60" text-anchor="end" fill="#262626" textLength="72.0" lengthAdjust="spacingAndGlyphs">0.4</text>
<text x="1610.9" y="350.4" font-size="60" text-anchor="end" fill="#262626" textLength="72.0" lengthAdjust="spacingAndGlyphs">0.6</text>
<text x="1610.9" y="230.5" font-size="60" text-anchor="end" fill="#262626" textLength="72.0" lengthAdjust="spacingAndGlyphs">0.8</text>
<text x="1610.9" y="110.6" font-size="60" text-anchor="end" fill="#262626" textLength="28.8" lengthAdjust="spacingAndGlyphs">1</text>
<text x="1904.5" y="831" font-size="66" text-anchor="middle" font-style="italic">x</text>
<text x="1509" y="411.7" font-size="66" font-style="italic" text-anchor="middle">z</text>
<text x="1124.2" y="912.3" font-size="53.5" text-anchor="middle">(<tspan font-weight="bold">a</tspan>)</text>
<path d="M285.4 1044.8V1654M397.1 1044.8V1654M508.8 1044.8V1654M620.5 1044.8V1654M173.7 1532.2H732.2M173.7 1410.3H732.2M173.7 1288.5H732.2M173.7 1166.6H732.2" stroke="#dedede" stroke-width="2.6" fill="none"/>
<path d="M173.7 1044.8H732.2V1654H173.7ZM285.4 1654v-6M285.4 1044.8v6M397.1 1654v-6M397.1 1044.8v6M508.8 1654v-6M508.8 1044.8v6M620.5 1654v-6M620.5 1044.8v6M173.7 1532.2h6M732.2 1532.2h-6M173.7 1410.3h6M732.2 1410.3h-6M173.7 1288.5h6M732.2 1288.5h-6M173.7 1166.6h6M732.2 1166.6h-6" stroke="#262626" stroke-width="2.6" fill="none"/>
<g clip-path="url(#cb0)">
<path fill="url(#mot)" d="M323 1047h12v12h-12zM323 1059h15v3h-15zM326 1062h15v3h-15zM176 1062h6v3h-6zM332 1065h9v3h-9zM173 1065h9v6h-9zM248 1065h6v9h-6zM173 1071h12v6h-12zM173 1077h9v15h-9zM173 1092h6v9h-6zM173 1101h9v6h-9zM191 1104h6v3h-6zM173 1107h24v6h-24zM173 1113h18v12h-18zM173 1125h21v21h-21zM173 1146h30v3h-30zM173 1149h33v15h-33zM170 1164h36v3h-36zM170 1167h39v6h-39zM170 1173h33v24h-33zM272 1203h6v3h-6zM170 1197h30v12h-30zM269 1206h9v3h-9zM269 1209h6v9h-6zM272 1221h9v9h-9zM170 1209h24v24h-24zM272 1230h12v3h-12zM170 1233h21v9h-21zM275 1233h9v21h-9zM170 1242h18v24h-18zM170 1266h15v12h-15zM170 1278h18v51h-18zM299 1326h12v3h-12zM170 1329h21v6h-21zM299 1329h21v9h-21zM170 1335h24v6h-24zM302 1338h18v3h-18zM302 1341h21v6h-21zM170 1341h21v15h-21zM170 1356h18v12h-18zM170 1368h21v6h-21zM170 1374h24v9h-24zM170 1383h21v12h-21zM170 1395h24v9h-24zM170 1404h21v3h-21zM170 1407h18v39h-18zM170 1446h21v9h-21zM329 1443h12v15h-12zM170 1455h24v27h-24zM170 1482h27v3h-27zM170 1485h30v15h-30zM170 1500h33v12h-33zM170 1512h36v3h-36zM170 1515h42v9h-42zM170 1524h51v6h-51zM170 1530h54v3h-54zM299 1530h6v9h-6zM173 1533h51v12h-51zM173 1545h48v9h-48zM173 1554h45v12h-45zM173 1566h48v6h-48zM173 1572h42v12h-42zM173 1584h33v6h-33zM170 1590h36v3h-36zM170 1593h33v3h-33zM173 1596h30v3h-30zM173 1599h27v3h-27zM173 1602h21v3h-21zM173 1605h12v6h-12zM173 1611h9v18h-9zM173 1629h18v18h-18zM176 1647h15v3h-15zM182 1650h9v3h-9z"/>
<g fill="none" stroke-width="4.3" stroke-linejoin="round">
<path class="b" d="M174 1654l371 0"/>
<path class="d" d="M335 1091l6-10 7-9M349 1072l14-12 16-7 21-5 28-2M455 1045l20 0"/>
<path class="g" d="M179 1638l5 5 5 4"/>
<path class="a" d="M181 1639l11 8"/>
<path class="f" d="M343 1062l10-6 12-4 13-3 17-2M444 1045l13 0"/>
<path class="a" d="M193 1647l12 4M339 1058l16-6 20-4"/>
<path class="e" d="M181 1626l7 12"/>
<path class="f" d="M197 1646l6 3 7 2"/>
<path class="g" d="M181 1624l8 15 5 5 5 3"/>
<path class="b" d="M180 1623l6 10 6 8"/>
<path class="c" d="M336 1056l14-5 17-3"/>
<path class="e" d="M335 1054l12-4 14-2"/>
<path class="g" d="M182 1616l5 12"/>
<path class="a" d="M194 1639l6 6 7 4"/>
<path class="c" d="M180 1609l7 17"/>
<path class="e" d="M182 1613l6 15"/>
<path class="f" d="M180 1607l5 14"/>
<path class="g" d="M332 1053l24-5"/>
<path class="e" d="M183 1611l6 16"/>
<path class="b" d="M333 1051l18-3"/>
<path class="c" d="M190 1627l6 11"/>
<path class="e" d="M188 1621l8 16M198 1640l6 5 6 4M188 1619l5 10 4 8"/>
<path class="f" d="M196 1635l6 7 6 5"/>
<path class="a" d="M188 1616l5 11 4 8"/>
<path class="g" d="M185 1604l4 13"/>
<path class="b" d="M188 1612l5 14 5 9M187 1605l4 13M193 1624l8 15"/>
<path class="c" d="M194 1626l7 12"/>
<path class="d" d="M191 1615l5 13M203 1639l4 5 6 4"/>
<path class="e" d="M193 1620l5 10 5 9"/>
<path class="f" d="M192 1615l7 17M191 1611l7 18M204 1639l5 5 5 4"/>
<path class="g" d="M192 1612l5 13 4 10"/>
<path class="a" d="M192 1611l5 15M193 1614l6 16M202 1635l9 10"/>
<path class="b" d="M193 1613l6 15"/>
<path class="c" d="M191 1603l7 22"/>
<path class="d" d="M193 1609l5 15 5 10M207 1640l6 5 6 4"/>
<path class="f" d="M208 1639l6 6 8 4"/>
<path class="g" d="M196 1613l6 16 7 11"/>
<path class="a" d="M196 1611l5 14 5 10"/>
<path class="b" d="M197 1613l5 14M203 1628l7 12"/>
<path class="c" d="M196 1607l6 18"/>
<path class="d" d="M195 1599l4 17"/>
<path class="e" d="M197 1608l6 17M203 1626l8 13"/>
<path class="g" d="M201 1617l5 12M212 1640l6 5 6 4"/>
<path class="a" d="M197 1602l4 14M202 1619l5 11 5 9"/>
<path class="b" d="M201 1614l5 13 4 8M212 1639l5 5 6 4"/>
<path class="c" d="M200 1607l5 18"/>
<path class="d" d="M201 1611l5 15"/>
<path class="e" d="M201 1610l5 13 4 10M212 1636l5 7 6 4"/>
<path class="f" d="M199 1602l7 21"/>
<path class="g" d="M200 1600l5 21"/>
<path class="b" d="M201 1603l4 14 4 11 5 8 5 7"/>
<path class="c" d="M201 1601l4 15"/>
<path class="d" d="M204 1611l6 16M215 1637l7 7 8 5"/>
<path class="e" d="M206 1616l5 12"/>
<path class="f" d="M204 1608l6 17M216 1636l4 6 5 4 6 3 7 2"/>
<path class="a" d="M204 1602l7 23M215 1634l5 7 5 4M227 1647l12 4"/>
<path class="b" d="M204 1599l6 22"/>
<path class="c" d="M207 1612l7 18"/>
<path class="e" d="M203 1592l4 16M207 1609l7 19"/>
<path class="f" d="M211 1619l8 17"/>
<path class="g" d="M199 1564l3 15M207 1605l7 22"/>
<path class="a" d="M200 1562l2 14M207 1603l7 22"/>
<path class="b" d="M207 1601l7 24M228 1644l5 4 7 3"/>
<path class="c" d="M207 1599l6 20 6 14M221 1637l5 5 6 5"/>
<path class="d" d="M205 1584l4 20 5 16 5 13 7 9"/>
<path class="e" d="M190 1452l1 13M221 1634l6 8 7 5"/>
<path class="f" d="M213 1615l5 13 5 9"/>
<path class="g" d="M190 1440l1 12M210 1602l5 16"/>
<path class="f" d="M303 1109l6 16"/>
<path class="a" d="M190 1430l1 13M213 1612l6 16M220 1629l4 8 5 6"/>
<path class="b" d="M190 1426l1 13M211 1602l5 16 4 10"/>
<path class="c" d="M190 1421l1 13"/>
<path class="a" d="M294 1087l5 8 6 11"/>
<path class="c" d="M190 1416l1 14M207 1581l3 13M211 1600l6 19 6 15 8 10 10 6"/>
<path class="d" d="M195 1470l1 13M207 1577l3 14M212 1602l4 14 5 12"/>
<path class="e" d="M190 1407l1 14"/>
<path class="c" d="M287 1076l10 10M349 1407l10 102 9 65 5 22 5 19 5 14 6 10"/>
<path class="e" d="M195 1463l1 13M211 1595l4 15 4 13M229 1640l4 5 6 3"/>
<path class="f" d="M190 1398l1 14M195 1458l1 13M210 1586l7 29M217 1616l6 15 8 11"/>
<path class="e" d="M297 1081l5 8 5 9M325 1164l6 39 6 53 18 194M356 1463l3 28"/>
<path class="g" d="M195 1449l1 13M212 1594l6 21 6 16M226 1634l6 9 9 5"/>
<path class="a" d="M190 1382l1 14M195 1442l1 14M207 1562l3 15M212 1591l4 16M217 1612l7 18"/>
<path class="b" d="M190 1377l1 14M195 1437l1 14"/>
<path class="g" d="M291 1072l9 9M308 1093l7 19 6 22 6 32 6 39M333 1207l2 13"/>
<path class="b" d="M195 1432l1 14M199 1488l2 13M213 1593l6 22 6 15"/>
<path class="c" d="M195 1427l1 14M199 1483l2 13M216 1603l7 21 4 8 4 7"/>
<path class="d" d="M190 1359l1 14M195 1421l1 14"/>
<path class="b" d="M283 1065l12 7M300 1077l7 9 5 11 5 13 5 18M352 1368l11 124 10 75 5 26 5 20 5 15 7 11"/>
<path class="d" d="M190 1350l1 14M195 1415l1 14M199 1473l2 14M217 1604l6 18 6 13M234 1642l6 4 6 4"/>
<path class="e" d="M195 1409l1 15M200 1468l1 13M213 1583l5 22M218 1606l6 19M238 1644l6 4 6 3"/>
<path class="f" d="M195 1404l1 14M200 1463l1 14"/>
<path class="g" d="M190 1336l1 14"/>
<path class="c" d="M278 1101l5 12"/>
<path class="d" d="M296 1069l10 10 7 13M322 1116l9 41 8 59 8 76 17 186 5 50 5 36 6 33 7 23 8 16 5 6 5 4"/>
<path class="f" d="M195 1397l1 15M200 1458l1 14M215 1588l7 27 7 18"/>
<path class="g" d="M195 1390l1 15M200 1452l1 14M205 1504l1 13M216 1590l8 30M226 1624l7 14"/>
<path class="a" d="M190 1321l1 14M195 1385l1 15M200 1445l1 14M205 1499l1 13"/>
<path class="b" d="M190 1316l1 14"/>
<path class="c" d="M186 1265l1 13"/>
<path class="d" d="M255 1099l8 14"/>
<path class="e" d="M267 1081l8 8 7 12M292 1128l7 31 7 41 6 54 7 71"/>
<path class="f" d="M291 1063l7 4 5 5M309 1078l8 16 7 22 7 30 6 38 10 84 20 221 6 49 5 37 6 27 6 21 8 14 4 5 5 4"/>
<path class="a" d="M190 1309l1 14M195 1375l1 15M200 1439l1 14M204 1493l2 13M217 1590l5 19 5 15 5 11 6 8"/>
<path class="b" d="M190 1304l1 15M195 1370l1 15M200 1432l1 14M205 1488l1 13M217 1587l4 17M222 1609l6 16 6 12 7 8 9 5"/>
<path class="c" d="M195 1364l1 15M200 1425l1 15M205 1482l1 13M221 1602l4 13M225 1616l5 12"/>
<path class="d" d="M190 1296l1 13M195 1358l1 14"/>
<path class="e" d="M190 1291l1 13"/>
<path class="g" d="M279 1089l6 10 4 11 9 31"/>
<path class="a" d="M300 1066l9 8 7 11 6 14 6 19 5 22 5 30 9 75M347 1246l2 16"/>
<path class="c" d="M195 1351l1 15M200 1415l1 16M204 1474l2 14M216 1574l5 25M221 1600l6 21 7 14M235 1636l4 6 5 4 6 3 7 2"/>
<path class="d" d="M190 1282l1 14M195 1345l1 15M200 1409l1 15M204 1468l2 14M218 1583l4 18M222 1602l4 14 5 12"/>
<path class="e" d="M190 1277l1 14M195 1339l1 15M200 1403l1 15M204 1462l2 15M208 1503l2 13M217 1573l3 15M221 1594l6 23 7 15"/>
<path class="f" d="M190 1273l1 13M195 1333l1 15M200 1396l1 15"/>
<path class="g" d="M190 1268l1 13"/>
<path class="b" d="M288 1097l5 12 4 15"/>
<path class="c" d="M293 1059l12 7 10 11 8 15 7 22M349 1239l21 230 9 83 6 37 7 24 7 18 8 12"/>
<path class="e" d="M190 1260l1 14M195 1324l1 15M200 1389l1 16M205 1452l1 15M208 1495l2 13M218 1575l3 15M222 1596l5 19 5 13 6 11 7 6M247 1647l12 4"/>
<path class="f" d="M190 1256l1 13M195 1318l1 15M200 1384l1 15M205 1446l1 15M208 1488l2 13M221 1587l5 20 4 14 5 11 6 9"/>
<path class="g" d="M190 1251l1 13M195 1312l1 15M200 1376l1 17M205 1439l1 15M208 1481l2 14M220 1578l8 36 5 14 6 9"/>
<path class="a" d="M190 1247l1 13M195 1306l1 15M200 1369l1 16M205 1432l1 15M208 1476l2 13"/>
<path class="b" d="M190 1242l1 13M195 1300l1 15M257 1105l7 16"/>
<path class="c" d="M307 1305l1 17M311 1348l10 114 8 71 8 50 4 20 5 14"/>
<path class="d" d="M267 1067l8 5 8 8 6 10 5 12M335 1406l1 16M348 1533l4 29M354 1576l3 14M357 1591l5 19"/>
<path class="e" d="M287 1055l15 5 11 9M321 1081l7 17 7 21 5 28 6 37 9 82 19 221 6 50 5 34 6 31 7 21 8 16 5 4 5 4"/>
<path class="g" d="M190 1232l1 13M195 1293l1 15M200 1359l1 16M205 1424l1 14M208 1468l2 15M213 1519l2 13M222 1584l8 32 5 12 5 9"/>
<path class="a" d="M190 1228l1 13M195 1288l1 15M200 1353l1 15M205 1416l1 16M208 1462l2 15M213 1514l2 13M218 1554l3 19M221 1574l5 25M226 1600l5 16 4 11M240 1636l6 7 7 5"/>
<path class="b" d="M195 1283l1 14M200 1346l1 16M205 1409l1 16M208 1455l2 15M213 1507l2 14M221 1568l4 23 5 19M230 1611l5 15 6 11M251 1647l12 4"/>
<path class="c" d="M195 1277l1 14M200 1339l1 16M205 1401l1 16M208 1448l2 15M213 1501l2 14M222 1572l5 26 5 19 6 13 6 10"/>
<path class="d" d="M195 1271l1 14M200 1331l1 16M205 1394l1 16M209 1443l1 13"/>
<path class="e" d="M195 1265l1 14"/>
<path class="c" d="M266 1155l7 39"/>
<path class="d" d="M251 1085l9 14M304 1387l11 112 9 68 5 26 5 20 6 14 6 12"/>
<path class="e" d="M272 1091l7 16 6 20 6 25 5 30 10 77 12 135M318 1395l2 18M323 1451l2 15"/>
<path class="f" d="M260 1060l11 4 9 7M289 1081l8 15 7 23 6 27 6 39 10 83 20 221 5 48 6 38 5 27 7 21 8 15 9 8"/>
<path class="g" d="M282 1052l11 2 8 3M307 1060l6 4 5 6 9 15 8 20 6 29 7 42 6 52 22 246 5 52 5 37 7 36 8 25 4 9 5 7 6 5 5 4"/>
<path class="b" d="M195 1258l1 14M200 1321l1 16M205 1387l1 16M208 1436l2 16M213 1493l2 14M226 1590l7 26 4 11 4 8"/>
<path class="c" d="M195 1252l1 14M200 1314l1 16M205 1379l1 17M208 1429l2 15M213 1486l2 15M227 1592l8 29 5 10 5 8M245 1640l7 6 7 4"/>
<path class="d" d="M195 1247l1 14M200 1308l1 15M205 1372l1 18M208 1422l2 16M213 1478l2 15M225 1577l7 31 4 12 4 10"/>
<path class="e" d="M195 1241l1 14M200 1301l1 16M204 1364l2 17M208 1414l2 17M213 1471l2 15M221 1543l5 35M226 1579l5 24 6 18 6 13 7 9M252 1645l5 3 6 3"/>
<path class="f" d="M195 1236l1 14M200 1294l1 16M204 1356l2 17M208 1406l2 17M213 1465l2 14M218 1514l2 14M223 1554l3 18M227 1581l9 35 5 13 5 9"/>
<path class="g" d="M195 1231l1 13M199 1287l2 16M205 1350l1 17M209 1399l1 15"/>
<path class="a" d="M194 1225l2 13"/>
<path class="d" d="M275 1243l8 74M292 1423l2 17"/>
<path class="e" d="M257 1105l6 16 5 21 5 25 5 34"/>
<path class="f" d="M252 1078l9 11 7 14M282 1154l9 61 10 92M304 1346l2 17M309 1403l2 15M313 1447l2 13"/>
<path class="g" d="M262 1070l9 10 8 13M294 1143l6 40 7 53 22 235 10 85 6 35 7 25 8 18 4 6 6 5"/>
<path class="a" d="M270 1060l9 4 6 5 7 8 5 8 5 11 4 14 8 34 7 43 6 53 19 218 8 73 5 32 5 28 5 20 5 15"/>
<path class="b" d="M299 1053l9 4 6 4 7 5 5 8 9 19 8 29 7 42 7 55 23 259 5 52 6 40 7 35 8 23 5 8 5 6 5 5 7 3"/>
<path class="d" d="M195 1217l1 13M200 1276l1 16M205 1341l1 16M208 1391l2 17M213 1453l2 15M218 1506l2 14M227 1576l6 30 8 22"/>
<path class="e" d="M195 1212l1 14M200 1270l1 15M205 1332l1 17M208 1383l2 17M213 1446l2 16M218 1501l2 14M227 1572l3 15M231 1594l6 23 7 15M245 1634l6 9 8 5"/>
<path class="f" d="M194 1207l2 14M200 1263l1 16M205 1325l1 17M208 1375l2 17M213 1438l2 16M218 1494l2 14M226 1560l4 24M231 1590l7 26 4 11 4 8"/>
<path class="g" d="M194 1202l2 14M200 1257l1 14M205 1317l1 17M208 1367l2 17M213 1430l2 16M218 1487l2 14M225 1545l7 46M232 1592l6 24 8 17M246 1634l5 7 6 5"/>
<path class="a" d="M199 1249l2 15M204 1309l2 17M208 1360l2 16M213 1422l2 17M218 1478l2 15M223 1526l2 13M228 1564l3 16M231 1581l5 22 5 17 5 13 6 8M253 1642l6 4 6 4"/>
<path class="b" d="M199 1243l2 15M204 1301l2 17M208 1351l2 17M213 1414l2 17M218 1470l2 16M223 1520l5 38M230 1570l6 30 6 22 8 15 4 5 5 4M260 1647l12 4"/>
<path class="c" d="M199 1236l2 15M204 1293l2 17M208 1342l2 18M213 1405l2 17M218 1462l2 16"/>
<path class="d" d="M199 1230l2 14M204 1286l2 17M208 1335l2 16"/>
<path class="e" d="M199 1224l2 14"/>
<path class="c" d="M178 1091l5 14"/>
<path class="d" d="M179 1093l6 18"/>
<path class="e" d="M180 1094l5 16"/>
<path class="b" d="M177 1086l6 12"/>
<path class="g" d="M263 1102l7 22"/>
<path class="a" d="M253 1070l6 5 5 7M285 1141l7 39 6 53 23 246 10 83 6 33 8 25 8 17 4 5 6 5"/>
<path class="b" d="M266 1066l6 5 5 6 8 16 8 21 6 29 7 43 6 51 22 239 10 84 6 34 7 26 4 9 5 8 5 6 5 4"/>
<path class="c" d="M259 1054l12 2 9 4 8 5 7 7M304 1088l7 18 5 23 5 28 5 36 9 79 18 209 6 51 5 36 6 31 7 24 8 16 5 5 6 4"/>
<path class="d" d="M293 1050l11 2 9 4 8 4 6 7 5 8 5 10 9 28 7 39 7 56 7 69 17 203 6 52 5 39 8 35 4 13 4 11 5 7 5 7 6 4 8 3"/>
<path class="f" d="M199 1217l2 15M205 1277l1 16M208 1326l2 18M213 1392l2 18M218 1454l2 16M223 1508l2 13M232 1577l5 23 5 18 5 13 6 9"/>
<path class="g" d="M200 1213l1 13M205 1269l1 16M208 1318l2 18M213 1384l2 17M218 1447l2 16M223 1501l2 14M228 1544l6 38M235 1589l6 25 8 18M250 1634l5 7 7 6"/>
<path class="a" d="M199 1207l2 14M205 1262l1 16M208 1310l2 18M213 1375l2 18M218 1439l2 17M223 1494l2 14M231 1559l4 25M235 1585l5 22 5 16 6 12 7 8"/>
<path class="b" d="M200 1201l1 13M205 1255l1 16M208 1302l2 17M213 1367l2 18M218 1429l2 17M223 1485l2 16M227 1523l3 22M231 1556l8 44 5 16 4 12M249 1629l5 9 6 6 6 5 9 2"/>
<path class="c" d="M204 1247l2 16M208 1294l2 17M213 1358l2 19M218 1420l2 18M223 1477l2 16M228 1526l2 13M231 1549l5 33 5 23 6 20 7 12M255 1638l7 7 8 5"/>
<path class="d" d="M199 1190l2 13M204 1240l2 16M208 1287l2 17M213 1349l2 19M218 1411l2 18M223 1469l2 16M228 1519l2 14M231 1543l4 27M235 1570l9 41 5 14 5 10M254 1636l5 6 5 4M265 1647l12 4"/>
<path class="e" d="M204 1234l2 15M208 1278l2 17M213 1339l2 18M218 1402l2 18M223 1461l2 17M228 1513l6 45 6 33 6 24 7 17"/>
<path class="f" d="M204 1227l2 15M208 1270l2 16M213 1329l2 19M218 1392l2 19M223 1452l2 17M228 1505l7 53M235 1559l4 24M239 1584l7 30 8 19M255 1634l6 9 9 5"/>
<path class="g" d="M193 1134l3 14M204 1220l2 15M208 1260l2 17M213 1320l2 18M218 1382l2 19M223 1443l2 17M225 1461l2 23M227 1485l6 52 6 40M239 1579l5 24 6 18 6 14 8 9M265 1645l5 3 6 3"/>
<path class="a" d="M184 1093l4 13M204 1212l2 15M208 1252l2 17M213 1311l2 19M218 1372l2 19M221 1405l1 13M223 1432l2 18M227 1475l4 38M232 1524l6 46 7 33M245 1604l6 18 6 13M258 1637l6 6 5 4"/>
<path class="b" d="M204 1206l2 14M208 1244l2 16M213 1301l2 19M216 1334l1 13M217 1348l1 12M218 1361l2 19M220 1381l1 13M223 1424l2 16"/>
<path class="c" d="M188 1103l9 43M204 1199l2 14M208 1236l2 16M213 1294l2 15"/>
<path class="d" d="M187 1098l4 13M197 1142l4 23M204 1193l2 14"/>
<path class="e" d="M181 1081l5 13M187 1096l5 18M194 1124l5 25"/>
<path class="f" d="M182 1082l9 25M192 1111l6 29"/>
<path class="g" d="M183 1084l8 20M191 1105l5 20"/>
<path class="a" d="M179 1076l6 11M185 1088l6 15 5 19"/>
<path class="c" d="M179 1075l8 14"/>
<path class="d" d="M184 1082l6 14"/>
<path class="f" d="M179 1074l5 7 5 8M248 1102l5 16M313 1599l7 24"/>
<path class="g" d="M243 1080l8 14 8 21M276 1210l2 13M279 1234l21 232 8 70 5 35 5 25 6 21 6 14"/>
<path class="a" d="M238 1067l8 7 7 8M257 1089l7 18 6 23 6 28 5 38 9 81 19 209 10 80 6 29 6 21 6 15 8 11"/>
<path class="b" d="M254 1071l9 12 8 17 7 23 6 30 6 41 5 49 21 227 10 82 6 36 6 27 8 17 4 7 5 5"/>
<path class="c" d="M246 1058l9 4 7 5 7 7 5 8 5 11 5 13 8 35M319 1391l1 13M324 1448l1 13M329 1497l1 13M338 1568l5 25M343 1594l6 23 7 16"/>
<path class="d" d="M252 1054l11 3 9 5M282 1071l8 14 8 22 7 29 6 37 10 90 21 232 5 48 7 39 7 31 8 19 4 7 5 5 6 4 7 3"/>
<path class="e" d="M270 1052l10 2 8 4 7 4 6 7 6 8 5 11 8 28 7 38 8 56 6 68 18 201 6 56 5 39 8 34 3 12 5 10 5 9 6 5 6 5 8 2"/>
<path class="f" d="M287 1048l15 1 11 3 9 3 7 6 6 7 6 9 5 13 4 15 9 43 7 56 7 70 17 205 5 53 7 43 7 34 4 13 5 10 5 8 5 5 7 4 9 3"/>
<path class="a" d="M205 1185l1 13M208 1225l2 15M213 1286l2 17M218 1351l2 18M223 1415l2 18M228 1474l2 16M232 1515l2 13M237 1556l5 28 5 23 5 17 7 13M260 1638l9 9 5 2 7 2"/>
<path class="b" d="M208 1218l2 15M213 1277l2 18M218 1341l2 18M223 1406l2 18M228 1466l2 16M232 1508l2 13M236 1542l5 35 5 25 6 19 7 14"/>
<path class="c" d="M187 1081l5 16M197 1123l4 22M204 1174l2 14M208 1212l2 15M213 1268l2 17M218 1332l2 18M223 1398l2 17M228 1459l2 16M232 1499l2 15M236 1535l3 20M239 1557l3 20M242 1579l7 31 4 12 4 9"/>
<path class="d" d="M208 1205l2 14M213 1260l2 17M218 1322l2 19M223 1388l2 19M228 1450l2 17M232 1491l2 16M236 1528l6 44M244 1584l7 29 8 19 4 7 5 5 6 4 6 3"/>
<path class="e" d="M186 1076l6 18M208 1198l2 14M213 1251l2 17M218 1314l2 18M223 1377l2 19M228 1439l2 18M232 1483l2 16M236 1522l3 22M239 1545l2 15M241 1561l5 30 5 21 6 16 8 12"/>
<path class="f" d="M200 1127l2 14M208 1192l2 13M213 1244l2 17M218 1304l2 18M221 1338l1 13M223 1367l2 19M228 1430l2 18M232 1475l2 16M235 1504l7 60 9 43 4 14 5 11 6 8 6 6M273 1647l12 4"/>
<path class="g" d="M208 1186l2 14M213 1235l2 16M218 1293l2 19M222 1342l1 13M223 1358l2 19M225 1379l1 13M226 1393l1 13M228 1421l2 18M232 1465l2 17M234 1483l3 32M237 1516l7 52M244 1569l5 27 5 19 6 16 7 10M268 1642l8 6 10 3"/>
<path class="a" d="M183 1068l7 15M191 1086l5 17M198 1114l3 14M208 1179l2 13M213 1226l2 17M218 1284l2 18M223 1347l2 20M225 1368l1 13M226 1382l1 13M227 1396l1 13M228 1409l2 19M230 1429l2 25M232 1455l8 77M244 1563l2 12M246 1576l4 21 5 17 5 14 5 9M266 1638l9 9 12 4"/>
<path class="b" d="M187 1075l6 15 5 20M198 1111l3 13M208 1173l2 13M213 1218l2 16M218 1275l2 18M221 1308l1 13M222 1322l1 13M223 1336l2 19M225 1356l1 13M226 1370l1 13M228 1398l2 20M232 1445l2 18M235 1476l5 48M240 1525l6 43 6 35 8 22 4 8 4 7M276 1647l12 4"/>
<path class="c" d="M183 1067l6 11M192 1087l7 26 7 36M207 1158l3 21M213 1211l2 16M218 1264l2 18M220 1283l1 13M222 1310l1 13M223 1324l2 20M225 1345l1 13M226 1359l1 13M227 1374l3 34M230 1409l9 100 9 67 5 25 5 18 6 13 6 9M271 1642l5 4 7 4"/>
<path class="d" d="M193 1088l4 13M198 1106l6 28M204 1136l3 16M207 1153l4 29M213 1203l2 15M216 1230l2 23M218 1254l2 18M221 1286l1 13M223 1314l2 20M225 1335l1 13M226 1349l1 13M227 1363l1 13M228 1377l11 123 10 74 5 25 5 20 6 14 8 10"/>
<path class="e" d="M191 1080l6 17M197 1098l5 22M203 1126l5 28M208 1156l3 19M211 1176l4 34M215 1211l3 33M218 1245l5 56M223 1302l15 177 6 52 5 38M249 1570l5 25 5 21 6 15 7 10M273 1642l8 6 10 3"/>
<path class="f" d="M176 1058l6 7 5 7M191 1079l5 14 5 18M201 1112l6 30M207 1143l3 17M211 1170l7 62 8 92M226 1325l12 149 9 79 5 31 5 23 6 17 7 13M271 1638l4 5 5 4 12 4"/>
<path class="g" d="M194 1086l5 15M199 1102l7 30M207 1139l6 39 5 50 21 241 10 89 6 35 8 27 3 9 5 8 4 5 6 5"/>
<path class="a" d="M187 1070l8 16 7 23M202 1110l9 46M211 1157l2 15M213 1173l9 86 19 222 9 77 6 35 8 27 4 9 4 8 5 6 6 4"/>
<path class="b" d="M182 1063l5 7 5 7 7 20 8 30 6 37 10 90 21 239 6 53 6 39 7 30 8 18 4 7 6 5 6 4 8 2"/>
<path class="c" d="M192 1076l7 17 6 22 6 28 5 39 9 85 19 220 6 50 5 35 6 30 7 23 8 15 5 5 6 3"/>
<path class="d" d="M188 1069l8 14 7 21 6 27 7 38 9 86 21 237 6 53 6 39 7 30 4 11 5 9 4 6 6 5 6 4 8 2"/>
<path class="e" d="M190 1071l8 14 7 22 6 28 6 39 10 86 20 231 6 53 6 39 7 31 4 11 5 9 4 6 6 5 6 4 8 2"/>
<path class="f" d="M186 1066l6 6 4 8 8 20 7 29 6 37 10 88 21 235 6 50 5 37 6 29 7 20 8 14 9 8"/>
<path class="g" d="M193 1074l9 17 6 21 6 29 6 36 10 87 20 229 5 48 6 40 8 31 4 11 4 10 5 7 6 5 6 4 8 2"/>
<path class="a" d="M185 1064l6 6 5 7 8 18 8 29 7 37 6 42 5 53 21 239 6 48 6 37 5 25 7 20 8 14 9 8"/>
<path class="b" d="M187 1065l5 5 5 7M198 1078l7 16 7 22 6 30 5 37 9 82 20 227 6 49 6 40 7 31 4 11 5 10 5 7 5 5 7 4 8 2"/>
<path class="c" d="M188 1065l6 6 5 7 8 19 8 28 7 37 5 42 6 52 22 243 6 51 6 37 7 29 4 10 5 9 4 6 6 5 6 3 8 3"/>
<path class="d" d="M181 1060l7 4 6 6 6 8 5 10 9 27 8 38 6 43 5 51 24 259 6 49 7 38 6 25 4 10 5 8 4 5 6 5 6 3 7 2"/>
<path class="e" d="M183 1060l7 5 6 6 6 8 5 10 9 26 7 39 7 43 5 51 24 258 6 49 6 38 7 25 4 10 5 8 4 6 6 4 6 3 7 3"/>
<path class="f" d="M182 1060l7 4 7 6 6 8 5 9 5 12 5 15 8 37 6 42 6 55 23 258 6 49 7 38 7 25 4 10 4 8 5 5 5 5 6 3 8 3"/>
<path class="g" d="M183 1060l8 4 7 6 6 8 5 9 5 12 4 15 8 37 6 42 6 55 25 262 6 48 6 37 7 24 4 10 4 7 5 6 5 4 7 4 7 2"/>
<path class="a" d="M184 1060l8 4 7 6 6 7 6 10 5 12 4 15 8 37 6 41 6 54 24 262 6 49 7 37 7 25 4 9 4 8 5 6 5 4 6 3 8 3"/>
<path class="b" d="M193 1064l6 5 7 7 5 8 5 11 8 27 7 37 6 40 6 56 23 250 6 50 7 38 6 25 4 9 5 9 4 5 6 5 7 4 7 2"/>
<path class="c" d="M182 1059l8 2 7 5 6 5 6 7 5 9 4 10 9 29 7 38 7 56 25 266 6 53 6 37 7 33 4 14 5 9 5 8 5 5 7 4 9 3"/>
<path class="d" d="M191 1061l8 4 7 6 6 8 5 9 5 12 4 15 8 36 6 41 6 54 24 261 7 53 7 36 7 25 4 10 5 7 5 6 6 4 7 3 9 1"/>
<path class="e" d="M185 1059l8 2 8 4 6 6 6 7 5 8 4 10 9 28 7 41 8 55 24 265 6 54 7 40 7 34 5 12 5 10 6 7 6 5 7 3 10 2"/>
<path class="f" d="M187 1059l8 2 8 4 6 6 6 6 5 9 5 9 8 28 8 40 7 55 7 71 18 199 6 53 6 40 8 33 5 12 5 9 5 7 6 5 8 3 10 2"/>
<path class="g" d="M190 1059l9 3 9 5 6 6 7 9 5 11 5 14 9 38 7 43 7 57 25 271 6 50 7 34 7 24 5 9 4 6 5 5 6 4 7 3 9 2"/>
<path class="a" d="M187 1058l10 2 8 3 7 5 6 7 6 8 5 10 8 26 8 38 8 57 7 71 19 205 6 52 6 40 8 32 4 12 5 10 6 6 7 5 7 4 10 2"/>
<path class="b" d="M191 1058l10 2 7 3 8 5 6 7 5 8 5 11 9 26 8 39 7 58 8 71 17 199 7 54 6 39 8 33 4 13 5 9 6 7 6 5 8 4 10 2"/>
<path class="c" d="M187 1057l11 1 9 3 8 4 7 7 6 8 5 9 5 12 5 15 8 40 8 57 7 70 19 205 6 54 6 39 9 35 4 11 5 9 6 7 6 5 8 3 10 2"/>
<path class="d" d="M194 1057l10 2 9 3 7 4 7 6 6 9 5 9 9 27 8 41 8 58 7 71 19 205 6 52 6 39 8 34 5 11 5 9 5 6 7 5 8 3 10 2"/>
<path class="e" d="M188 1056l12 1 11 2 8 4 8 6 7 7 6 9 5 12 5 16 9 41 7 57 8 70 19 212 6 52 6 38 8 34 5 11 5 9 5 6 7 5 8 3 10 2"/>
<path class="f" d="M188 1056l13 0 11 2 10 3 8 6 7 7 6 9 6 12 5 16 9 41 8 60 7 71 19 206 6 53 6 40 8 34 5 11 5 9 5 7 7 5 8 3 10 2"/>
<path class="g" d="M200 1055l12 1 10 3 8 4 7 5 7 8 6 10 5 13 4 14 9 40 7 56 8 71 19 213 6 52 6 38 8 34 5 11 5 9 5 6 7 5 8 3 11 2"/>
<path class="a" d="M188 1055l15-1 13 1 11 3 10 5 7 6 7 9 6 12 5 14 5 18 4 22 9 58 8 75 19 219 7 55 7 40 4 18 5 14 5 10 5 8 6 5 8 4 10 2 13 1"/>
<path class="b" d="M194 1054l15-1 14 2 11 3 9 4 7 6 7 9 6 12 5 14 5 19 5 22 8 58 8 75 19 220 7 56 7 39 4 18 5 13 5 10 5 8 7 6 8 3 9 2 14 1"/>
<path class="c" d="M198 1053l15-1 15 2 12 2 9 5 8 6 7 8 6 12 5 14 5 18 4 22 9 58 7 75 20 221 7 56 6 40 5 18 4 14 5 10 6 8 7 6 7 3 11 2 14 2"/>
<path class="d" d="M202 1052l16-1 16 1 12 3 10 4 9 6 6 8 7 12 5 13 5 18 4 21 9 61 8 77 19 222 7 56 7 39 4 18 5 13 5 11 6 8 7 5 8 4 11 2 14 1"/>
<path class="e" d="M204 1051l19-1 18 1 13 2 11 4 8 5 7 8 7 11 5 13 5 17 5 21 9 60 7 75 20 230 7 56 7 42 5 17 4 13 5 10 7 7 6 5 9 4 10 2 16 1"/>
<path class="f" d="M207 1050l21-1 20 0 15 2 12 3 9 5 8 7 6 10 6 12 5 18 5 23 9 59 8 76 20 232 8 60 7 41 4 17 5 13 6 10 6 7 7 5 9 3 12 1 18 1"/>
<path class="g" d="M224 1048l23-1 21 1 15 2 11 3 9 5 7 6 6 9 6 12 5 17 5 22 9 58 8 76 21 246 8 58 7 41 5 17 5 11 7 9 6 6 8 4 11 2 37 2"/>
<path class="a" d="M232 1047l29-1M273 1046l24 1 16 1 11 3 10 4 8 7 7 10 5 12 5 16 8 43 8 61 23 262 9 83 5 32 5 26 6 18 8 13 6 7 8 4 10 3 14 1 263 1"/>
<path class="b" d="M174 1057l16-6 21-3 26-2 42-1"/>
<path class="d" d="M174 1045l558 0"/>
</g></g>
<text x="450.4" y="1026" font-size="58" text-anchor="middle" textLength="148.4" lengthAdjust="spacingAndGlyphs">Case 1</text>
<text x="173.7" y="1716" font-size="53" text-anchor="middle" fill="#262626" textLength="25.4" lengthAdjust="spacingAndGlyphs">0</text>
<text x="285.4" y="1716" font-size="53" text-anchor="middle" fill="#262626" textLength="25.4" lengthAdjust="spacingAndGlyphs">2</text>
<text x="397.1" y="1716" font-size="53" text-anchor="middle" fill="#262626" textLength="25.4" lengthAdjust="spacingAndGlyphs">4</text>
<text x="508.8" y="1716" font-size="53" text-anchor="middle" fill="#262626" textLength="25.4" lengthAdjust="spacingAndGlyphs">6</text>
<text x="620.5" y="1716" font-size="53" text-anchor="middle" fill="#262626" textLength="25.4" lengthAdjust="spacingAndGlyphs">8</text>
<text x="732.2" y="1716" font-size="53" text-anchor="middle" fill="#262626" textLength="50.9" lengthAdjust="spacingAndGlyphs">10</text>
<text x="160.8" y="1673" font-size="53" text-anchor="end" fill="#262626" textLength="25.4" lengthAdjust="spacingAndGlyphs">0</text>
<text x="160.8" y="1551.2" font-size="53" text-anchor="end" fill="#262626" textLength="63.6" lengthAdjust="spacingAndGlyphs">0.2</text>
<text x="160.8" y="1429.3" font-size="53" text-anchor="end" fill="#262626" textLength="63.6" lengthAdjust="spacingAndGlyphs">0.4</text>
<text x="160.8" y="1307.5" font-size="53" text-anchor="end" fill="#262626" textLength="63.6" lengthAdjust="spacingAndGlyphs">0.6</text>
<text x="160.8" y="1185.7" font-size="53" text-anchor="end" fill="#262626" textLength="63.6" lengthAdjust="spacingAndGlyphs">0.8</text>
<text x="160.8" y="1063.8" font-size="53" text-anchor="end" fill="#262626" textLength="25.4" lengthAdjust="spacingAndGlyphs">1</text>
<text x="445.5" y="1790.2" font-size="58" text-anchor="middle">Time <tspan font-style="italic">t</tspan></text>
<text x="57.4" y="1372.2" font-size="58" font-style="italic" text-anchor="middle">x</text>
<path d="M1017.2 1044.8V1654M1128.9 1044.8V1654M1240.5 1044.8V1654M1352.2 1044.8V1654M905.6 1532.2H1463.8M905.6 1410.3H1463.8M905.6 1288.5H1463.8M905.6 1166.6H1463.8" stroke="#dedede" stroke-width="2.6" fill="none"/>
<path d="M905.6 1044.8H1463.8V1654H905.6ZM1017.2 1654v-6M1017.2 1044.8v6M1128.9 1654v-6M1128.9 1044.8v6M1240.5 1654v-6M1240.5 1044.8v6M1352.2 1654v-6M1352.2 1044.8v6M905.6 1532.2h6M1463.8 1532.2h-6M905.6 1410.3h6M1463.8 1410.3h-6M905.6 1288.5h6M1463.8 1288.5h-6M905.6 1166.6h6M1463.8 1166.6h-6" stroke="#262626" stroke-width="2.6" fill="none"/>
<g clip-path="url(#cb1)">
<path fill="url(#mot)" d="M914 1065h6v3h-6zM914 1068h12v3h-12zM914 1071h15v3h-15zM911 1074h21v3h-21zM911 1077h24v6h-24zM911 1083h12v3h-12zM908 1086h15v9h-15zM908 1095h18v6h-18zM908 1101h24v12h-24zM908 1113h30v3h-30zM908 1116h33v6h-33zM908 1122h24v12h-24zM908 1134h33v6h-33zM911 1140h33v3h-33zM914 1143h30v3h-30zM914 1146h33v3h-33zM914 1149h36v3h-36zM917 1152h36v3h-36zM917 1155h39v6h-39zM920 1161h39v9h-39zM923 1170h36v3h-36zM923 1173h39v6h-39zM920 1179h42v3h-42zM920 1182h45v6h-45zM980 1188h6v3h-6zM926 1188h39v6h-39zM980 1191h9v6h-9zM926 1194h42v3h-42zM983 1197h6v6h-6zM923 1197h45v6h-45zM932 1203h36v3h-36zM983 1203h9v3h-9zM986 1206h6v9h-6zM932 1206h39v9h-39zM935 1215h39v9h-39zM986 1215h9v12h-9zM932 1224h42v6h-42zM989 1227h9v6h-9zM932 1230h45v6h-45zM992 1233h6v9h-6zM935 1236h42v6h-42zM992 1242h9v12h-9zM941 1242h39v12h-39zM992 1254h12v9h-12zM995 1263h9v3h-9zM995 1266h12v3h-12zM944 1254h39v18h-39zM998 1269h9v12h-9zM947 1272h39v12h-39zM998 1281h12v3h-12zM1001 1284h9v12h-9zM947 1284h42v12h-42zM1001 1296h12v6h-12zM947 1296h45v6h-45zM1004 1302h9v9h-9zM953 1302h39v9h-39zM956 1311h36v3h-36zM956 1314h39v9h-39zM1007 1311h9v15h-9zM953 1323h42v6h-42zM953 1329h45v3h-45zM1010 1326h9v15h-9zM956 1332h42v9h-42zM962 1341h36v3h-36zM1010 1341h12v3h-12zM1013 1344h9v12h-9zM962 1344h39v15h-39zM965 1359h39v9h-39zM1016 1356h9v15h-9zM962 1368h42v6h-42zM1019 1371h9v9h-9zM962 1374h45v9h-45zM1022 1380h6v6h-6zM965 1383h42v3h-42zM971 1386h36v3h-36zM1022 1386h9v12h-9zM1025 1398h6v3h-6zM971 1389h39v15h-39zM971 1404h42v6h-42zM1025 1401h9v15h-9zM971 1410h45v6h-45zM1028 1416h9v3h-9zM977 1416h39v12h-39zM1031 1419h6v9h-6zM1031 1428h9v3h-9zM980 1428h36v6h-36zM980 1434h39v3h-39zM1034 1431h6v12h-6zM992 1437h27v9h-27zM1034 1443h9v3h-9zM995 1446h27v9h-27zM1037 1446h6v12h-6zM989 1455h33v6h-33zM1037 1458h9v6h-9zM992 1461h33v6h-33zM1040 1464h6v3h-6zM1043 1470h6v6h-6zM1016 1497h9v9h-9zM908 1596h6v6h-6zM908 1602h15v12h-15zM908 1614h18v12h-18zM911 1626h18v15h-18zM914 1641h15v3h-15zM914 1644h18v6h-18zM923 1650h9v3h-9z"/>
<g fill="none" stroke-width="4.3" stroke-linejoin="round">
<path class="c" d="M938 1097l11 29"/>
<path class="e" d="M930 1081l6 11M942 1104l4 12"/>
<path class="g" d="M940 1099l7 18 7 22"/>
<path class="b" d="M931 1082l7 14M939 1096l10 26M950 1125l4 13"/>
<path class="d" d="M938 1094l7 16 8 22M954 1136l5 17"/>
<path class="f" d="M932 1083l6 11M948 1116l10 31"/>
<path class="a" d="M943 1102l7 19 8 24M958 1145l7 27"/>
<path class="c" d="M933 1084l8 14M946 1110l5 12M952 1123l11 38M963 1162l7 27"/>
<path class="e" d="M941 1098l13 31M954 1130l13 43M968 1179l7 30"/>
<path class="g" d="M934 1084l9 18M944 1102l11 28 10 34M967 1172l6 24M974 1202l6 27"/>
<path class="b" d="M948 1110l10 28M959 1141l5 17M965 1162l7 26M973 1194l7 32M980 1227l7 32"/>
<path class="d" d="M932 1081l7 11M953 1122l4 12M958 1136l5 16M964 1156l5 18M969 1175l9 37M978 1213l9 43M988 1263l4 19"/>
<path class="f" d="M950 1114l12 34M963 1150l5 18M969 1173l8 31M977 1205l7 33M984 1239l14 72M998 1312l3 14"/>
<path class="g" d="M933 1116l4 12"/>
<path class="a" d="M951 1116l5 12M957 1129l10 33M968 1166l7 28M975 1195l7 29M983 1230l9 44M993 1281l4 19M997 1301l7 40M1004 1343l3 14"/>
<path class="b" d="M935 1121l5 14"/>
<path class="c" d="M939 1090l6 11M946 1104l9 20M960 1139l7 20M967 1160l5 18M973 1184l5 19M978 1204l13 61M991 1266l13 70M1004 1337l11 59"/>
<path class="e" d="M949 1108l5 12M959 1134l5 15M964 1149l9 31M973 1181l4 15M980 1211l5 22M989 1253l4 19M993 1273l3 14M996 1288l6 31M1002 1320l4 22M1006 1343l12 68M1018 1412l4 19"/>
<path class="f" d="M931 1110l7 19"/>
<path class="g" d="M939 1089l8 16M958 1130l5 13M963 1144l5 16M973 1179l4 15M978 1199l5 21M987 1239l4 18M996 1284l8 45M1004 1330l9 47M1013 1379l5 26M1018 1406l12 61"/>
<path class="b" d="M947 1103l5 11M956 1124l7 18M969 1163l4 13M973 1177l4 14M977 1192l3 13M987 1236l4 18M993 1267l5 24M1004 1325l7 37M1013 1375l3 13M1016 1389l6 34M1023 1430l10 51"/>
<path class="d" d="M938 1087l9 16M952 1113l14 39M968 1157l4 13M982 1212l7 31M993 1263l3 13M997 1283l14 74M1011 1359l7 37M1018 1397l3 16M1021 1414l10 51M1031 1466l10 45"/>
<path class="e" d="M934 1115l6 16"/>
<path class="f" d="M952 1111l10 26 10 32M972 1169l5 18M979 1198l5 19M993 1260l3 13M996 1275l3 15M1010 1345l5 30M1016 1382l4 20M1021 1408l5 27M1027 1442l10 49 10 41"/>
<path class="g" d="M940 1131l5 14"/>
<path class="a" d="M941 1091l9 16M955 1119l10 26M966 1146l4 15M970 1162l7 23M979 1195l4 15M987 1228l5 23M1002 1303l13 68M1025 1426l10 50M1036 1482l16 66"/>
<path class="b" d="M938 1124l7 20M949 1158l5 17"/>
<path class="c" d="M959 1128l8 21M1013 1359l12 63M1025 1423l10 49M1035 1473l11 48 10 37"/>
<path class="d" d="M938 1122l4 12"/>
<path class="e" d="M941 1090l10 19M969 1155l4 13M983 1207l4 16M989 1234l3 12M1022 1404l5 25M1027 1430l3 14M1030 1445l9 42M1039 1488l11 47 11 36"/>
<path class="g" d="M961 1131l5 14M1019 1381l6 33M1027 1427l5 24M1032 1452l14 63M1046 1516l10 36 9 28"/>
<path class="a" d="M938 1122l6 15"/>
<path class="b" d="M967 1146l5 15M973 1165l6 22M1018 1372l3 18M1029 1430l2 12M1031 1443l6 29M1037 1473l9 39M1046 1513l10 38 10 31"/>
<path class="c" d="M941 1130l5 13"/>
<path class="d" d="M957 1119l12 32M1029 1426l2 13M1035 1459l6 28M1041 1488l9 37M1051 1530l10 33 9 27"/>
<path class="f" d="M960 1126l5 12M965 1139l8 23M1029 1423l2 13M1035 1456l6 28M1041 1485l9 37M1050 1523l12 43 13 33"/>
<path class="g" d="M924 1092l6 11"/>
<path class="a" d="M956 1116l8 18M964 1135l6 17M973 1162l4 12M1028 1420l3 13M1039 1472l7 31M1046 1504l8 30M1055 1539l11 35 11 28"/>
<path class="c" d="M944 1092l10 18M964 1134l5 13M1033 1442l3 13M1042 1484l4 16M1046 1501l9 33 8 29 8 24 9 19"/>
<path class="e" d="M976 1167l6 23M1039 1466l5 22M1044 1490l7 28M1052 1523l7 24M1060 1551l12 35 12 26"/>
<path class="g" d="M941 1087l13 23M1046 1496l4 15M1050 1512l9 33M1059 1546l9 26M1068 1573l10 25"/>
<path class="b" d="M962 1125l8 23M1040 1467l4 16M1044 1484l5 21M1049 1506l15 52M1064 1559l12 33 12 24M931 1131l5 14"/>
<path class="c" d="M943 1130l7 20M1017 1465l6 27"/>
<path class="d" d="M946 1094l6 11M1042 1474l4 16M1049 1504l7 26M1056 1531l8 26M1064 1558l14 36 7 15 7 11"/>
<path class="e" d="M1019 1467l3 17"/>
<path class="f" d="M978 1172l4 12M1046 1489l6 24M1054 1520l6 22M1060 1543l8 23M1068 1567l10 27M1079 1595l8 16"/>
<path class="g" d="M926 1093l7 14M1027 1505l6 23"/>
<path class="a" d="M948 1096l7 13M969 1143l5 14M1046 1488l4 14M1054 1519l6 21M1060 1541l8 24M1068 1566l5 14M1074 1582l9 21M1089 1613l9 13"/>
<path class="b" d="M944 1131l7 20M1019 1462l3 17M1025 1492l5 21M1031 1518l8 28"/>
<path class="c" d="M968 1139l6 17M1053 1510l6 24M1059 1534l5 17M1066 1558l11 30M1078 1589l8 18"/>
<path class="d" d="M1023 1482l4 16M1027 1499l5 20M1032 1520l7 24"/>
<path class="e" d="M949 1097l6 12M968 1138l5 13M1046 1483l4 15M1053 1508l6 24M1060 1536l9 29 9 23M1084 1601l9 17 10 12"/>
<path class="f" d="M941 1122l5 13M1026 1492l10 38 9 31"/>
<path class="g" d="M1059 1531l4 13M1063 1545l13 36 13 28M1090 1611l7 11 7 8M935 1139l5 14"/>
<path class="a" d="M946 1135l5 13M1021 1467l4 17M1025 1485l3 13M1030 1506l6 23M1037 1534l13 41"/>
<path class="b" d="M966 1131l5 14M1058 1523l5 19M1069 1562l12 31 13 23"/>
<path class="c" d="M1029 1497l11 44M1040 1542l13 39"/>
<path class="d" d="M948 1095l10 18M966 1129l4 12M1055 1513l12 42M1068 1556l12 32 12 24M1093 1613l7 11 8 9M933 1132l5 15"/>
<path class="e" d="M1027 1490l4 15M1031 1506l4 14M1035 1521l12 40 12 32"/>
<path class="f" d="M968 1135l6 17M1054 1507l10 35M1064 1543l13 37M1078 1581l8 19M1099 1621l13 14M1012 1481l4 16M1016 1498l7 28"/>
<path class="g" d="M929 1097l7 13M1028 1488l7 30M1035 1519l14 47 7 19 8 17"/>
<path class="a" d="M950 1097l8 14M1066 1548l8 23 8 19M1083 1591l7 15 8 12M1010 1466l6 28M1017 1500l15 53"/>
<path class="b" d="M1032 1506l4 14M1039 1532l6 19M1045 1552l11 30 10 23"/>
<path class="c" d="M1055 1508l7 26M1063 1536l7 21M1070 1558l11 29 12 22M1098 1617l9 11 9 9"/>
<path class="b" d="M924 1131l5 12"/>
<path class="c" d="M1007 1453l4 17M1015 1488l6 24M1021 1513l16 53"/>
<path class="d" d="M1032 1504l4 14M1036 1519l9 30M1047 1556l12 32 12 23"/>
<path class="e" d="M1064 1538l5 15M1069 1554l10 25 10 22 10 16 10 13"/>
<path class="d" d="M1001 1467l5 21M1006 1489l7 28M1013 1518l4 12"/>
<path class="e" d="M1012 1474l5 20M1017 1495l4 15M1022 1515l8 26M1030 1542l11 34"/>
<path class="f" d="M930 1098l7 12M948 1136l6 16M1032 1502l4 14M1040 1530l5 17M1047 1554l14 37 8 15 7 12"/>
<path class="g" d="M1055 1505l8 27M1064 1536l7 21M1071 1558l15 36M1087 1595l7 14M1095 1610l12 17 13 11"/>
<path class="f" d="M1000 1457l3 16M1006 1487l9 33M1015 1521l7 24"/>
<path class="g" d="M1016 1488l4 15M1022 1512l14 48 14 36"/>
<path class="a" d="M1039 1526l6 19M1047 1552l8 22 9 20 8 16 9 13"/>
<path class="b" d="M1068 1547l8 22 8 19M1100 1616l10 13 12 10"/>
<path class="g" d="M988 1437l4 18M996 1473l6 25M1005 1509l4 16"/>
<path class="a" d="M1003 1472l9 36M1013 1513l9 31 9 28"/>
<path class="b" d="M934 1132l5 12M1021 1505l9 31 8 28 9 22 10 20"/>
<path class="c" d="M1031 1494l4 14M1035 1510l6 20M1041 1531l8 23M1049 1555l8 23 9 19 9 16 10 13"/>
<path class="d" d="M970 1136l8 23M1068 1546l5 14M1074 1563l12 29 13 22 14 17 8 6 7 5"/>
<path class="a" d="M986 1453l5 22M991 1476l3 13M995 1491l3 13"/>
<path class="b" d="M994 1463l15 59 14 44"/>
<path class="c" d="M1000 1452l4 21M1007 1486l17 61 9 25 9 21"/>
<path class="d" d="M1016 1484l9 34M1025 1519l10 31 9 26 10 22 10 18"/>
<path class="e" d="M1035 1507l5 18M1040 1526l9 26M1049 1553l10 27 11 23 12 18 12 13"/>
<path class="f" d="M1059 1516l4 12M1063 1529l4 13M1068 1545l5 13M1074 1562l5 12M1093 1602l9 14 9 11 10 9 11 7"/>
<path class="d" d="M922 1633l13 7"/>
<path class="e" d="M925 1628l10 7"/>
<path class="a" d="M988 1501l6 22"/>
<path class="b" d="M974 1421l4 18M979 1445l9 38M988 1484l10 38 11 34M1009 1557l9 24"/>
<path class="c" d="M984 1443l7 29M991 1473l11 44 11 35 11 30 12 24"/>
<path class="d" d="M991 1446l8 35M999 1482l13 46 12 39 14 31 14 23"/>
<path class="e" d="M1005 1472l7 30M1012 1503l13 44 13 34 14 28 7 10 8 10"/>
<path class="f" d="M1015 1477l5 20M1020 1497l7 26M1027 1524l13 39 14 31 14 24 8 9 8 8"/>
<path class="g" d="M945 1127l8 19M1035 1506l13 44M1049 1551l14 35 7 14 8 13 8 10 9 9 9 7 9 5"/>
<path class="a" d="M1065 1535l8 22M1073 1558l9 22M1083 1581l14 26 8 11 8 9 9 8 9 6 9 4 11 4"/>
<path class="c" d="M906 1654l558 0"/>
<path class="d" d="M906 1642l16 5 20 3 26 2 36 2"/>
<path class="e" d="M906 1630l16 10 19 6 23 4 32 3M1002 1653l15 0"/>
<path class="f" d="M906 1617l7 8 9 7 9 6 9 4 23 6 30 4"/>
<path class="g" d="M906 1605l7 11 9 9 10 8 10 6 12 5 13 3 33 5"/>
<path class="a" d="M906 1593l8 14 9 12 11 9 11 8 12 6 14 4 16 3 20 3"/>
<path class="b" d="M906 1581l9 17 8 13 10 11 11 9 11 7 14 6 15 4 18 3"/>
<path class="c" d="M906 1569l9 19 9 17 11 13 11 11 12 8 14 6 16 5 19 3"/>
<path class="d" d="M906 1557l9 21 9 19 10 15 11 12 13 10 13 7 16 5 18 4"/>
<path class="e" d="M906 1544l9 26 10 20 10 18 11 13 13 11 14 8 16 6 20 4"/>
<path class="f" d="M906 1532l10 29 10 24 10 19 12 15 13 12 14 8 17 6 21 5"/>
<path class="g" d="M906 1520l10 32 10 25 10 21 11 16 13 13 14 10 16 7 20 5"/>
<path class="a" d="M906 1508l10 35 11 29 12 24 12 18 13 14 15 10 18 7 22 5"/>
<path class="b" d="M906 1496l11 39 11 32 12 25 12 19 14 15 16 11 18 8 23 5"/>
<path class="c" d="M906 1483l11 42 11 34 12 27 12 21 13 16 15 12 18 8 22 6"/>
<path class="d" d="M906 1471l11 46 11 35 12 29 13 23 13 17 16 13 18 9 23 6"/>
<path class="e" d="M906 1459l12 50 12 40 12 31 14 24 14 18 8 7 9 6 10 5 10 4 24 6"/>
<path class="f" d="M906 1447l12 51 12 41 11 32 13 26 14 19 7 8 8 7 9 5 9 5 22 7"/>
<path class="g" d="M906 1435l13 57 12 44 13 34 13 27 7 12 7 9 8 8 9 6 9 6 10 4 24 7"/>
<path class="a" d="M906 1423l13 59 12 46 13 36 12 28 14 21 8 9 9 7 8 7 10 4 11 4 12 4"/>
<path class="b" d="M906 1410l14 64 12 49 13 38 14 31 7 12 8 11 8 8 9 8 9 6 11 5 12 4 13 3"/>
<path class="c" d="M906 1398l14 68 13 50 13 40 13 31 7 13 8 11 8 9 8 8 9 7 10 5 11 4 13 4"/>
<path class="d" d="M906 1386l15 74 14 53 13 43 14 32 7 13 8 11 8 10 9 8 10 6 11 6 12 4 14 3"/>
<path class="e" d="M906 1374l16 77 13 55 14 44 13 33 7 14 8 12 8 10 9 8 9 7 10 6 12 4 13 4"/>
<path class="f" d="M906 1362l17 84 14 60 14 45 15 35 8 14 8 12 9 11 9 8 11 6 11 5 14 5 15 2"/>
<path class="g" d="M906 1349l17 88 14 60 14 46 14 36 7 14 8 13 8 11 9 9 10 7 10 6 12 5 14 4"/>
<path class="a" d="M906 1337l19 97 14 60 14 48 15 38 7 15 9 13 8 11 10 9 10 7 11 6 13 4 14 4"/>
<path class="b" d="M906 1325l20 102 15 64 14 49 14 38 8 16 8 13 9 11 9 9 10 8 12 6 13 4 15 4"/>
<path class="c" d="M906 1313l21 108 15 64 14 53 15 38 8 16 8 14 9 12 10 9 10 7 11 7 13 4 15 4"/>
<path class="d" d="M906 1301l24 119 14 62 14 53 15 40 7 16 9 14 9 12 9 9 11 8 12 6 12 5 16 4"/>
<path class="e" d="M906 1288l25 128 14 63 15 53 14 41 9 17 8 14 9 12 9 10 11 8 12 6 13 5 15 4"/>
<path class="f" d="M906 1276l28 139 13 60 14 55 15 42 9 18 8 14 9 12 10 10 10 8 12 6 13 5 16 4"/>
<path class="g" d="M906 1264l30 152 13 58 15 54 14 42 9 18 8 15 9 12 10 10 10 9 13 6 13 5 16 4"/>
<path class="a" d="M906 1252l33 162 12 56 14 55 15 42 8 19 9 15 9 13 10 11 10 8 12 7 14 5 16 4"/>
<path class="b" d="M906 1240l48 230 14 55 14 41 8 19 9 15 9 14 10 11 11 8 12 7 14 5 16 4"/>
<path class="c" d="M906 1228l50 242 15 57 15 42 8 18 9 16 10 13 10 11 12 8 12 6 15 5 18 4"/>
<path class="d" d="M906 1215l13 60 27 135 13 59 14 54 14 41 8 20 9 15 9 14 10 11 12 9 12 7 14 5 16 4"/>
<path class="e" d="M906 1203l15 65 29 144 13 58 14 56 14 40 9 20 9 16 9 13 11 11 12 9 13 6 14 5 18 4"/>
<path class="f" d="M906 1191l17 73 30 148 13 59 14 53 14 41 9 21 9 16 9 13 11 11 11 9 13 6 15 5 18 4"/>
<path class="g" d="M906 1179l9 36 10 43 32 157 13 58 14 53 13 39 9 20 9 16 10 14 11 11 11 9 13 6 15 5 18 4"/>
<path class="a" d="M906 1167l10 38 11 47 34 164 13 58 13 51 13 39 9 21 9 16 10 14 11 11 12 9 13 6 15 5 18 4"/>
<path class="b" d="M906 1154l11 40 13 50 35 175 14 60 13 48 12 37 9 21 9 16 10 14 11 11 12 9 12 6 16 5 18 4"/>
<path class="c" d="M906 1142l12 40 14 53 39 190 13 59 13 47 13 37 9 19 9 17 11 14 11 11 12 8 14 6 17 5 19 3"/>
<path class="d" d="M906 1130l12 36 13 45 14 61 28 141 13 58 14 56 15 41 9 20 9 16 11 14 11 11 12 8 14 6 17 5 20 3"/>
<path class="e" d="M906 1118l14 37 15 50 15 65 28 141 13 59 15 55 14 43 9 19 9 17 11 14 11 11 13 8 14 6 17 5 20 3"/>
<path class="f" d="M906 1106l9 18 8 21 8 26 8 27 16 67 30 149 13 61 15 56 15 42 10 20 10 16 11 12 12 11 13 8 15 5 18 4 23 3"/>
<path class="g" d="M906 1094l10 18 10 21 9 26 10 33 16 70 32 154 13 60 15 56 15 42 10 19 10 16 10 13 13 10 13 8 16 5 18 4 23 3"/>
<path class="a" d="M906 1081l12 17 12 22 10 27 11 33 9 36 10 41 33 162 14 63 16 58 8 22 8 20 10 18 11 15 11 12 14 9 14 7 18 5 20 3 27 2M1180 1653l15 0"/>
<path class="b" d="M906 1069l7 7 8 9 14 21 13 27 12 34 10 38 11 45 36 174 15 67 8 31 8 26 9 24 9 18 12 19 11 13 13 11 15 8 17 6 21 3 25 2 36 2"/>
<path class="c" d="M906 1057l11 5 10 7 9 8 9 10 7 11 8 15 14 33 13 39 12 48 42 206 10 41 9 36 11 36 12 28 12 22 13 18 15 12 16 9 20 6 25 4 28 2 40 1 212 0"/>
<path class="d" d="M906 1045l558 0"/>
</g></g>
<text x="1182.1" y="1026" font-size="58" text-anchor="middle" textLength="148.4" lengthAdjust="spacingAndGlyphs">Case 2</text>
<text x="905.6" y="1716" font-size="53" text-anchor="middle" fill="#262626" textLength="25.4" lengthAdjust="spacingAndGlyphs">0</text>
<text x="1017.2" y="1716" font-size="53" text-anchor="middle" fill="#262626" textLength="25.4" lengthAdjust="spacingAndGlyphs">2</text>
<text x="1128.9" y="1716" font-size="53" text-anchor="middle" fill="#262626" textLength="25.4" lengthAdjust="spacingAndGlyphs">4</text>
<text x="1240.5" y="1716" font-size="53" text-anchor="middle" fill="#262626" textLength="25.4" lengthAdjust="spacingAndGlyphs">6</text>
<text x="1352.2" y="1716" font-size="53" text-anchor="middle" fill="#262626" textLength="25.4" lengthAdjust="spacingAndGlyphs">8</text>
<text x="1463.8" y="1716" font-size="53" text-anchor="middle" fill="#262626" textLength="50.9" lengthAdjust="spacingAndGlyphs">10</text>
<text x="892.7" y="1673" font-size="53" text-anchor="end" fill="#262626" textLength="25.4" lengthAdjust="spacingAndGlyphs">0</text>
<text x="892.7" y="1551.2" font-size="53" text-anchor="end" fill="#262626" textLength="63.6" lengthAdjust="spacingAndGlyphs">0.2</text>
<text x="892.7" y="1429.3" font-size="53" text-anchor="end" fill="#262626" textLength="63.6" lengthAdjust="spacingAndGlyphs">0.4</text>
<text x="892.7" y="1307.5" font-size="53" text-anchor="end" fill="#262626" textLength="63.6" lengthAdjust="spacingAndGlyphs">0.6</text>
<text x="892.7" y="1185.7" font-size="53" text-anchor="end" fill="#262626" textLength="63.6" lengthAdjust="spacingAndGlyphs">0.8</text>
<text x="892.7" y="1063.8" font-size="53" text-anchor="end" fill="#262626" textLength="25.4" lengthAdjust="spacingAndGlyphs">1</text>
<text x="1177.2" y="1790.2" font-size="58" text-anchor="middle">Time <tspan font-style="italic">t</tspan></text>
<text x="787.4" y="1372.6" font-size="58" font-style="italic" text-anchor="middle">z</text>
<path d="M1751.9 1044.8V1654M1863.2 1044.8V1654M1974.6 1044.8V1654M2085.9 1044.8V1654M1640.5 1532.2H2197.3M1640.5 1410.3H2197.3M1640.5 1288.5H2197.3M1640.5 1166.6H2197.3" stroke="#dedede" stroke-width="2.6" fill="none"/>
<path d="M1640.5 1044.8H2197.3V1654H1640.5ZM1751.9 1654v-6M1751.9 1044.8v6M1863.2 1654v-6M1863.2 1044.8v6M1974.6 1654v-6M1974.6 1044.8v6M2085.9 1654v-6M2085.9 1044.8v6M1640.5 1532.2h6M2197.3 1532.2h-6M1640.5 1410.3h6M2197.3 1410.3h-6M1640.5 1288.5h6M2197.3 1288.5h-6M1640.5 1166.6h6M2197.3 1166.6h-6" stroke="#262626" stroke-width="2.6" fill="none"/>
<g clip-path="url(#cb2)">
<path fill="url(#mot)" d="M1898 1041h18v6h-18zM1808 1041h30v6h-30zM2144 1041h18v6h-18zM1730 1041h30v6h-30zM1652 1041h21v6h-21zM2054 1041h30v6h-30zM1976 1041h30v6h-30zM2072 1089h9v6h-9zM1907 1137h6v9h-6zM1643 1428h6v15h-6zM1898 1443h6v6h-6zM1880 1449h27v3h-27zM1877 1452h36v6h-36zM1883 1458h30v6h-30zM1985 1461h6v3h-6zM1883 1464h18v3h-18zM1985 1464h12v3h-12zM1991 1467h6v3h-6zM1883 1467h9v3h-9zM1973 1470h6v3h-6zM1970 1473h9v3h-9zM1643 1473h9v6h-9zM1964 1476h15v3h-15zM1961 1479h18v6h-18zM1961 1485h12v3h-12zM1961 1488h9v3h-9zM1931 1503h9v6h-9zM1907 1512h9v6h-9zM1901 1518h15v3h-15zM1901 1521h12v3h-12zM1643 1530h6v6h-6zM1736 1557h6v3h-6zM1730 1560h12v3h-12zM1712 1563h36v6h-36zM1709 1569h24v3h-24zM1643 1536h9v39h-9zM1706 1572h27v3h-27zM1703 1575h30v3h-30zM1703 1578h45v3h-45zM1703 1581h48v3h-48zM1697 1584h54v3h-54zM1694 1587h48v3h-48zM1673 1587h12v3h-12zM1673 1590h66v6h-66zM1670 1596h69v3h-69zM1670 1599h48v3h-48zM1643 1575h18v30h-18zM1670 1602h39v3h-39zM1640 1605h21v3h-21zM1670 1605h33v3h-33zM1670 1608h18v6h-18zM1637 1608h24v6h-24zM2084 1611h9v3h-9zM1832 1611h6v6h-6zM2084 1614h15v3h-15zM1637 1614h51v6h-51zM1703 1617h9v3h-9zM1748 1617h9v3h-9zM2081 1617h18v6h-18zM1796 1617h6v6h-6zM1724 1620h33v3h-33zM1637 1620h75v3h-75zM2087 1623h12v3h-12zM1637 1623h129v6h-129zM1637 1629h114v3h-114zM1637 1632h87v3h-87zM1637 1635h75v3h-75zM1637 1638h57v3h-57zM1637 1641h42v3h-42zM1637 1644h30v3h-30zM1637 1647h18v3h-18z"/>
<g fill="none" stroke-width="4.3" stroke-linejoin="round">
<path class="a" d="M1640 1057l0 550"/>
<path class="e" d="M1652 1219l0 34"/>
<path class="f" d="M1652 1194l0 26M1652 1250l0 31M1651 1315l0 13"/>
<path class="g" d="M1652 1179l0 17M1652 1279l0 23"/>
<path class="a" d="M1652 1167l0 12M1652 1201l0 70M1652 1301l-1 20M1651 1336l-1 19M1649 1392l0 14"/>
<path class="b" d="M1652 1172l1 32M1653 1270l-1 39M1652 1319l-1 22M1651 1353l-1 16M1650 1377l-1 16"/>
<path class="c" d="M1652 1142l1 32M1653 1178l1 57-1 65M1653 1306l-1 30M1652 1338l-1 22M1651 1366l-1 18M1650 1390l-1 17M1647 1453l0 14"/>
<path class="d" d="M1652 1130l2 55 1 64-1 68-4 87M1650 1406l-1 17M1649 1424l-1 19M1648 1444l-1 17M1647 1465l-1 13"/>
<path class="e" d="M1652 1118l3 62 1 74-2 80-5 106M1649 1441l-1 17M1648 1459l-1 16M1647 1476l-1 14M1645 1512l-1 13"/>
<path class="f" d="M1652 1106l3 33 2 39 1 87-3 94-10 159"/>
<path class="g" d="M1652 1094l4 33 3 34 1 39 1 42-3 91-8 126M1650 1460l-1 13"/>
<path class="a" d="M1652 1081l6 35 4 40"/>
<path class="b" d="M1652 1069l6 23 6 26"/>
<path class="c" d="M1652 1057l10 17 10 20 8 23 6 23"/>
<path class="f" d="M1663 1215l0 45"/>
<path class="g" d="M1663 1203l0 13M1663 1258l0 19"/>
<path class="a" d="M1663 1215l0 43M1663 1274l-1 21M1662 1302l-1 17"/>
<path class="b" d="M1663 1189l1 28M1664 1256l-1 29M1663 1293l-1 19M1661 1333l-2 27"/>
<path class="c" d="M1663 1167l2 65-2 77M1663 1311l-2 34M1661 1347l-2 26M1659 1375l-2 24M1655 1424l-1 19"/>
<path class="d" d="M1663 1154l3 59-1 66-4 74-8 99"/>
<path class="e" d="M1663 1142l4 60 0 68-4 74-8 97M1655 1442l-2 18"/>
<path class="f" d="M1663 1130l3 31 2 35 1 38 0 39-5 86-13 130M1651 1491l-2 20M1649 1512l-2 19"/>
<path class="g" d="M1663 1118l4 31 3 36 2 36-1 42-4 85-13 123M1654 1472l-3 26"/>
<path class="a" d="M1663 1106l7 41 4 45"/>
<path class="b" d="M1663 1094l6 24 5 26"/>
<path class="c" d="M1663 1081l6 18 6 20"/>
<path class="d" d="M1663 1069l10 17 8 17 7 19 6 21"/>
<path class="e" d="M1663 1057l15 13 15 14 13 17 11 18M1737 1172l4 19"/>
<path class="g" d="M1674 1228l0 23"/>
<path class="a" d="M1674 1249l0 18"/>
<path class="b" d="M1674 1220l0 31M1674 1265l-1 20"/>
<path class="c" d="M1674 1196l1 25M1675 1248l-1 31M1674 1282l-1 16M1673 1300l-2 24M1667 1372l-2 18M1664 1401l-2 22"/>
<path class="d" d="M1674 1179l2 42-1 48-2 50-6 60M1666 1388l-3 26M1663 1415l-2 13M1661 1430l-2 15M1659 1447l-2 19"/>
<path class="e" d="M1674 1167l3 48-1 56-3 61-8 72M1665 1405l-6 46M1659 1453l-3 21"/>
<path class="f" d="M1674 1154l3 31 1 34 0 37-1 37-8 83-16 125"/>
<path class="g" d="M1674 1142l4 34 2 35 0 40-1 40-3 39-5 48-21 158"/>
<path class="a" d="M1674 1130l5 28 3 31 1 34 0 35-2 37-3 39-12 92M1666 1428l-7 43M1657 1486l-2 18"/>
<path class="b" d="M1674 1118l7 36 4 37"/>
<path class="c" d="M1674 1106l7 23 5 26"/>
<path class="d" d="M1674 1094l7 17 6 19"/>
<path class="e" d="M1674 1081l13 24 10 26"/>
<path class="f" d="M1674 1069l14 15"/>
<path class="g" d="M1674 1057l26 14"/>
<path class="a" d="M1674 1045l11 0"/>
<path class="b" d="M1685 1246l0 13"/>
<path class="c" d="M1685 1257l-1 17"/>
<path class="d" d="M1685 1207l1 28-1 31M1685 1272l-1 13M1684 1287l-1 13M1681 1325l-3 25M1675 1377l-3 17"/>
<path class="e" d="M1685 1191l2 44-2 50-5 54-8 60M1672 1400l-6 38M1666 1441l-2 12M1657 1499l-2 13"/>
<path class="f" d="M1685 1179l3 51-2 57-6 63-12 80M1665 1449l-4 23M1659 1486l-2 15"/>
<path class="g" d="M1685 1167l3 30 1 31 0 35-2 33-4 39-5 39-18 108M1660 1483l-6 34"/>
<path class="a" d="M1685 1154l4 31 2 33 0 34-2 36-3 39-5 39-19 111M1662 1478l-10 56"/>
<path class="b" d="M1685 1142l5 31 3 34 1 36-2 39-4 43-6 43-22 125M1660 1494l-6 36"/>
<path class="c" d="M1685 1130l7 33 4 35"/>
<path class="d" d="M1685 1118l7 22 5 26"/>
<path class="e" d="M1685 1106l7 17 6 19"/>
<path class="f" d="M1685 1094l12 23 9 26"/>
<path class="g" d="M1685 1081l13 19 11 19"/>
<path class="a" d="M1685 1069l15 13 14 14 12 17 10 16"/>
<path class="b" d="M1685 1057l20 8 18 9 18 10 16 11M1758 1096l15 13 14 15 11 14 10 17"/>
<path class="c" d="M1685 1045l12 0"/>
<path class="e" d="M1696 1222l0 30M1696 1259l-1 13M1691 1320l-2 14M1660 1498l-2 14"/>
<path class="f" d="M1696 1203l1 45M1697 1250l-4 58-9 65M1682 1386l-5 26M1675 1424l-3 13M1667 1463l-2 15"/>
<path class="g" d="M1696 1191l2 37-1 42-4 45-7 51M1686 1367l-4 23M1680 1402l-4 18M1672 1443l-3 13M1669 1457l-2 13M1666 1471l-3 14"/>
<path class="a" d="M1696 1179l3 26 0 28 0 28-2 29-8 66-15 81M1671 1451l-3 13M1666 1476l-3 17M1660 1503l-5 30"/>
<path class="b" d="M1696 1167l4 32 1 35-1 35-3 41-6 39-6 39-32 158"/>
<path class="c" d="M1696 1154l5 34 3 33-1 37-3 40-5 39-7 43-28 131M1660 1512l-4 18M1654 1541l-3 14"/>
<path class="d" d="M1696 1142l6 26 3 27 2 30 0 32"/>
<path class="e" d="M1696 1130l7 23 4 25"/>
<path class="f" d="M1696 1118l7 18 5 18"/>
<path class="g" d="M1696 1106l12 25"/>
<path class="a" d="M1696 1094l10 15 10 18 7 20 6 20"/>
<path class="b" d="M1696 1081l11 12"/>
<path class="c" d="M1696 1069l25 18 21 20"/>
<path class="d" d="M1696 1057l23 7 20 8M1740 1073l22 10M1786 1098l11 7M1809 1116l10 10M1830 1140l10 14"/>
<path class="e" d="M1696 1045l12 0"/>
<path class="g" d="M1707 1215l0 42M1707 1264l-1 13M1706 1278l-2 21M1704 1301l-2 13M1701 1324l-2 15"/>
<path class="a" d="M1707 1203l1 25 0 27-2 29-3 27M1703 1312l-7 46-10 51M1685 1413l-5 22M1679 1439l-5 19M1674 1460l-3 13"/>
<path class="b" d="M1707 1191l2 24 1 23-1 27-2 26-8 58-14 66M1685 1416l-7 27M1677 1451l-4 14M1673 1468l-8 32M1664 1503l-4 15M1657 1533l-4 18"/>
<path class="c" d="M1707 1179l3 31 1 33-1 32-4 37-6 39-8 39-29 122M1660 1521l-4 21"/>
<path class="d" d="M1707 1167l5 32 1 35-1 38-4 37-6 39-9 43-36 145M1657 1537l-5 22"/>
<path class="e" d="M1707 1154l5 25 3 29 1 29-1 31-3 33-5 35-8 39-10 42M1689 1418l-14 52M1675 1471l-5 17M1670 1489l-4 14"/>
<path class="f" d="M1707 1142l8 31 4 31"/>
<path class="g" d="M1707 1130l6 18 5 19"/>
<path class="a" d="M1707 1118l8 18 6 19"/>
<path class="b" d="M1707 1106l13 24 10 25"/>
<path class="c" d="M1707 1094l14 18 12 20"/>
<path class="d" d="M1707 1081l20 20 17 21"/>
<path class="e" d="M1707 1069l24 14M1732 1084l10 7M1753 1100l20 21 15 21M1788 1143l11 21 7 22"/>
<path class="f" d="M1707 1057l45 13M1753 1071l27 10M1783 1083l22 11 21 14 16 13 14 15M1859 1140l9 12 8 14"/>
<path class="g" d="M1707 1045l12 0"/>
<path class="b" d="M1718 1215l1 30-2 31M1716 1289l-3 20M1708 1341l-4 19M1704 1361l-5 22M1694 1404l-6 23M1688 1427l-10 37"/>
<path class="c" d="M1718 1203l2 25-1 24-1 25-3 26-10 57-17 69M1688 1430l-6 22M1681 1454l-8 31M1672 1487l-4 16"/>
<path class="d" d="M1718 1191l2 21 1 22-1 24-1 25-8 53-13 60M1678 1470l-16 57"/>
<path class="e" d="M1718 1179l4 31 1 32-2 32-4 37-7 39-9 39-33 116M1664 1520l-6 23M1658 1545l-7 29"/>
<path class="f" d="M1718 1167l6 32 1 37-1 39-6 41-7 38-10 43-44 154"/>
<path class="g" d="M1718 1154l5 20 3 19 3 40-2 41-7 48M1720 1324l-3 14M1717 1339l-4 17M1700 1407l-7 24M1686 1454l-4 12"/>
<path class="a" d="M1718 1142l7 23 5 26"/>
<path class="b" d="M1718 1130l7 18 6 19"/>
<path class="c" d="M1718 1118l13 26M1731 1145l5 15"/>
<path class="d" d="M1718 1106l11 17 9 16 7 20 6 21"/>
<path class="e" d="M1718 1094l13 13M1734 1112l9 13"/>
<path class="f" d="M1718 1081l22 18 18 20 15 24 11 24"/>
<path class="g" d="M1718 1069l28 15M1748 1085l15 10"/>
<path class="a" d="M1718 1057l28 7 28 8M1790 1078l20 8 19 9"/>
<path class="b" d="M1718 1045l12 0"/>
<path class="c" d="M1730 1228l0 18"/>
<path class="d" d="M1730 1215l0 28M1730 1244l-1 25-3 25M1726 1296l-8 44M1718 1342l-9 37-11 38M1695 1427l-7 25M1682 1469l-7 25"/>
<path class="e" d="M1730 1203l1 25 0 27-2 25-4 29-6 31-7 31-22 76M1689 1448l-20 66M1656 1559l-4 15"/>
<path class="f" d="M1730 1191l2 30 0 29-2 32-5 34-7 35-9 34-12 42-18 56M1678 1485l-4 15M1673 1501l-16 52"/>
<path class="g" d="M1730 1179l4 31 1 32-3 35-5 37-8 38-10 39-12 41-27 80M1669 1516l-5 15M1658 1551l-6 26"/>
<path class="a" d="M1730 1167l5 32 2 34-1 37-6 41-8 38-11 42-13 41-29 87M1668 1521l-11 36M1656 1560l-4 18"/>
<path class="b" d="M1730 1154l7 30 3 32"/>
<path class="c" d="M1730 1142l6 20 5 20"/>
<path class="d" d="M1730 1130l7 18 6 18"/>
<path class="e" d="M1730 1118l12 24 10 25"/>
<path class="f" d="M1730 1106l13 18 10 19"/>
<path class="g" d="M1730 1094l11 11 10 12"/>
<path class="a" d="M1730 1081l20 16 19 17 16 20 12 21"/>
<path class="b" d="M1730 1069l18 8 18 10 15 9 15 11"/>
<path class="c" d="M1730 1057l29 6 26 7M1726 1349l-4 12"/>
<path class="d" d="M1686 1474l-5 13"/>
<path class="e" d="M1741 1228l-1 23M1729 1333l-4 16M1722 1362l-5 17M1712 1396l-4 12M1691 1461l-5 14"/>
<path class="f" d="M1741 1215l0 23 0 20-5 43-10 46-15 54M1705 1421l-5 14M1698 1439l-4 13M1688 1468l-6 17M1679 1493l-10 29"/>
<path class="g" d="M1741 1203l1 28 0 27-3 28-5 31M1734 1318l-4 17M1730 1336l-7 27M1723 1364l-20 63M1703 1428l-37 106"/>
<path class="a" d="M1741 1191l3 33-1 33-3 36-7 37-9 35-12 38-52 151"/>
<path class="b" d="M1741 1179l4 34 1 35-3 35-7 41-10 39-11 38-45 125-14 41M1656 1568l-4 15"/>
<path class="c" d="M1741 1167l6 32 2 33-1 37-6 37-8 38-12 42-15 45-26 66M1681 1498l-14 39"/>
<path class="d" d="M1741 1154l7 27 4 29"/>
<path class="e" d="M1741 1142l6 18 6 20"/>
<path class="f" d="M1741 1130l11 25"/>
<path class="g" d="M1741 1118l7 12 8 14 10 27"/>
<path class="a" d="M1741 1106l13 17 11 16"/>
<path class="b" d="M1741 1094l19 18 15 19"/>
<path class="c" d="M1741 1081l18 12 16 13"/>
<path class="d" d="M1741 1069l23 10 20 10 18 11 16 11 16 14 12 14 9 14 9 16"/>
<path class="e" d="M1741 1057l56 12"/>
<path class="g" d="M1752 1228l-1 26M1748 1287l-4 26M1741 1324l-10 39M1675 1516l-4 12"/>
<path class="a" d="M1752 1215l1 19-1 20-4 39-10 46-13 47M1724 1387l-6 18M1717 1406l-12 33M1693 1472l-8 18"/>
<path class="b" d="M1752 1203l2 34-3 38-6 40-11 43M1734 1359l-16 48-22 57M1696 1466l-29 74"/>
<path class="c" d="M1752 1191l3 33 0 32-4 36-8 37-10 38-13 38-49 126M1652 1584l-3 13"/>
<path class="d" d="M1752 1179l3 16 2 18 1 35-4 38-8 41-11 38-14 42-59 148M1661 1557l-10 34"/>
<path class="e" d="M1752 1167l6 26 3 29 0 29-3 32-6 33-10 38-13 38-16 42M1712 1436l-5 13M1707 1449l-7 16M1700 1466l-22 51"/>
<path class="f" d="M1752 1154l7 25 5 25"/>
<path class="g" d="M1752 1142l7 18 6 19"/>
<path class="a" d="M1752 1130l12 24 8 24"/>
<path class="b" d="M1752 1118l15 23 11 25"/>
<path class="c" d="M1752 1106l17 20"/>
<path class="d" d="M1752 1094l13 11 12 11 11 13 9 14"/>
<path class="e" d="M1752 1081l20 12 18 13M1804 1119l15 18 12 18"/>
<path class="f" d="M1752 1069l36 14M1789 1084l19 10"/>
<path class="g" d="M1752 1057l34 6 32 7M1916 1109l14 10"/>
<path class="a" d="M1725 1406l-5 14"/>
<path class="b" d="M1763 1240l-1 16M1762 1262l-3 22M1755 1309l-5 21M1747 1341l-5 17M1700 1468l-6 14"/>
<path class="c" d="M1763 1215l1 22-1 24-3 21-4 26-6 26-8 27-22 58M1720 1420l-8 20M1711 1442l-5 12M1706 1455l-10 21M1695 1480l-11 26M1682 1509l-5 11M1676 1524l-9 21"/>
<path class="d" d="M1763 1203l2 31-1 30-5 32-7 34-10 34-14 38-16 40-28 65M1682 1510l-18 45"/>
<path class="e" d="M1763 1191l4 32-1 33-4 35-9 41-12 38-14 38-58 134"/>
<path class="f" d="M1763 1179l3 16 2 17 1 35-4 38-8 41-11 38-16 41-65 148M1664 1556l-9 24"/>
<path class="g" d="M1763 1167l4 15 3 16 3 33-2 37-6 36M1765 1305l-3 14M1762 1320l-4 15M1757 1339l-5 14M1746 1372l-6 15M1733 1404l-10 26M1721 1433l-6 13M1707 1464l-10 22"/>
<path class="a" d="M1763 1154l7 22 5 24"/>
<path class="b" d="M1763 1142l11 27"/>
<path class="c" d="M1763 1130l13 24 9 25"/>
<path class="d" d="M1763 1118l13 17 10 20"/>
<path class="e" d="M1763 1106l12 12"/>
<path class="f" d="M1763 1094l17 13 16 15 12 16 11 18"/>
<path class="g" d="M1763 1081l28 16"/>
<path class="a" d="M1763 1069l39 14"/>
<path class="b" d="M1763 1057l34 6 32 6M1920 1101l14 8M1944 1115l14 12 11 11 10 13 9 15"/>
<path class="c" d="M1763 1045l11 0M1716 1446l-6 12"/>
<path class="d" d="M1771 1279l-3 17M1768 1297l-3 13M1763 1319l-4 15M1756 1344l-4 12M1730 1415l-6 13M1711 1457l-7 15"/>
<path class="e" d="M1774 1215l1 22-1 20-2 21-4 22M1768 1301l-11 43-17 47M1739 1394l-5 13M1733 1408l-26 59M1706 1468l-21 44"/>
<path class="f" d="M1774 1203l2 31-2 33-5 36-10 37-13 38-15 37-57 122M1672 1542l-6 14"/>
<path class="g" d="M1774 1191l4 32-1 32-4 35-9 41-13 38-16 41-18 39-40 82M1676 1534l-13 29"/>
<path class="a" d="M1774 1179l4 16 2 17 1 19 0 19-5 38-9 41-12 37-19 45-68 142"/>
<path class="b" d="M1774 1167l6 20 3 19 2 22 0 20"/>
<path class="c" d="M1774 1154l7 19 5 18"/>
<path class="d" d="M1774 1142l7 15 6 14"/>
<path class="e" d="M1774 1130l14 24 9 25"/>
<path class="f" d="M1774 1118l13 17 12 20"/>
<path class="g" d="M1774 1106l15 15 12 14"/>
<path class="a" d="M1774 1094l22 16 17 17 14 18 12 22M1843 1176l4 13M1850 1202l2 13"/>
<path class="b" d="M1774 1081l26 14"/>
<path class="c" d="M1774 1069l22 7 22 8M1820 1085l20 10M1910 1154l7 14"/>
<path class="d" d="M1774 1057l36 6 31 6M1919 1092l24 12 20 13M1968 1121l11 9 10 12 10 13 7 13"/>
<path class="e" d="M1774 1045l12 0"/>
<path class="f" d="M1785 1228l0 13M1785 1248l-2 21M1779 1297l-5 20M1772 1324l-5 17M1754 1378l-7 16M1702 1488l-11 20"/>
<path class="g" d="M1785 1215l1 19-1 20-2 20-3 21-5 22-7 23-17 47M1750 1388l-21 47M1729 1436l-12 23M1705 1483l-8 14M1692 1508l-14 26M1677 1537l-13 29"/>
<path class="a" d="M1785 1203l2 27 0 26-4 28-7 33-9 30-12 33-15 34-20 41M1719 1456l-11 22M1707 1479l-23 44M1684 1525l-13 26M1669 1554l-6 15M1656 1585l-4 12"/>
<path class="b" d="M1785 1191l4 32 1 19-1 16-5 35-11 41-13 37-18 41-19 39-48 92M1669 1555l-9 21"/>
<path class="c" d="M1785 1179l4 19 3 17 1 18-1 20-5 38-5 22-6 22-14 37-18 41-20 39-44 83-17 36"/>
<path class="d" d="M1785 1167l7 25 4 26"/>
<path class="e" d="M1785 1154l8 19 5 19"/>
<path class="f" d="M1785 1142l12 25"/>
<path class="g" d="M1785 1130l15 24 10 25"/>
<path class="a" d="M1785 1118l15 18M1801 1137l12 21"/>
<path class="b" d="M1785 1106l19 18 16 20"/>
<path class="c" d="M1785 1094l14 9 12 10 12 10 9 10"/>
<path class="d" d="M1785 1081l24 12 20 13"/>
<path class="e" d="M1785 1069l37 12 31 13M1920 1147l8 10"/>
<path class="f" d="M1785 1057l36 5 32 6M1934 1092l17 8 15 8M1969 1110l10 7M1988 1124l13 13 10 13M2012 1151l8 16"/>
<path class="g" d="M1785 1045l12 0"/>
<path class="a" d="M1796 1228l0 20M1796 1251l-2 23-5 23M1789 1300l-9 33M1780 1334l-5 14M1743 1421l-8 16"/>
<path class="b" d="M1796 1215l1 25-2 27-4 28-7 27M1783 1324l-11 34-14 33-18 37-25 46M1715 1475l-10 18M1696 1509l-11 20M1675 1548l-12 25"/>
<path class="c" d="M1796 1203l3 24-1 22-3 27-4 25-7 26-11 30-12 30-13 28M1747 1416l-20 39-44 77M1683 1533l-22 43"/>
<path class="d" d="M1796 1191l3 17 2 18 0 19-1 16-3 21-4 18-11 40-15 37-19 41-75 136"/>
<path class="e" d="M1796 1179l4 16 3 17 1 18 0 19-2 20-4 21-10 40-16 41-19 41-20 38-57 99M1674 1552l-12 24M1656 1590l-5 14"/>
<path class="f" d="M1796 1167l7 22 5 27"/>
<path class="g" d="M1796 1154l8 19 6 20"/>
<path class="a" d="M1796 1142l12 24 9 27"/>
<path class="b" d="M1796 1130l8 11 8 13 6 13 4 13"/>
<path class="c" d="M1796 1118l12 13"/>
<path class="d" d="M1796 1106l14 11 11 12 10 12 8 14"/>
<path class="e" d="M1796 1094l19 12 15 12"/>
<path class="f" d="M1796 1081l19 9 18 9 15 10 15 12"/>
<path class="g" d="M1796 1069l45 14M1846 1085l19 8M1889 1106l18 12"/>
<path class="a" d="M1796 1057l68 11"/>
<path class="b" d="M1796 1045l12 0"/>
<path class="c" d="M1808 1228l-1 25-4 29M1800 1298l-7 26M1792 1326l-16 43M1775 1371l-11 24M1763 1398l-10 19M1743 1437l-20 33"/>
<path class="d" d="M1808 1215l0 25-1 23-5 28-6 26M1796 1317l-6 20M1789 1337l-9 26M1779 1364l-16 36M1762 1401l-30 55M1725 1467l-14 24M1707 1497l-16 28"/>
<path class="e" d="M1808 1203l1 18 1 15-1 20-2 16-7 36-13 40-16 37-19 37-21 38-46 76-17 32"/>
<path class="f" d="M1808 1191l3 17 1 17 0 19-1 17-3 20-4 18-6 22-7 22-16 37-20 40-20 35-44 72-18 32"/>
<path class="g" d="M1808 1179l4 18 3 17 1 18-1 20-2 20-4 21-5 21-8 22-16 41-21 40-22 38-52 85-19 32"/>
<path class="a" d="M1808 1167l7 22 4 27"/>
<path class="b" d="M1808 1154l7 16 5 17"/>
<path class="c" d="M1808 1142l12 24 5 14 4 13"/>
<path class="d" d="M1808 1130l13 19 10 20"/>
<path class="e" d="M1808 1118l10 11 11 14"/>
<path class="f" d="M1808 1106l13 11 13 13 11 13 8 13M1856 1161l8 20"/>
<path class="g" d="M1808 1094l17 10 16 12"/>
<path class="a" d="M1808 1081l21 10 18 9 16 11 16 11"/>
<path class="b" d="M1808 1069l45 14M1855 1083l21 9M1899 1104l21 13M1938 1132l15 18 10 18"/>
<path class="c" d="M1808 1057l40 5 37 7"/>
<path class="e" d="M1819 1228l-1 23M1818 1254l-3 23-4 19M1811 1298l-5 18M1806 1318l-12 32M1790 1359l-12 27-15 29M1762 1417l-25 41M1726 1476l-8 13"/>
<path class="f" d="M1819 1215l1 25-2 26-5 28-7 25-10 29-13 30-17 33-19 32M1745 1446l-40 63M1697 1522l-12 19"/>
<path class="g" d="M1819 1203l2 30-1 29-6 31-9 32-12 33-18 37-20 36-28 46M1720 1487l-39 61M1678 1553l-12 21"/>
<path class="a" d="M1819 1191l3 17 1 17 1 19-2 20-3 20-4 18-7 21-8 22-18 41-22 40-19 31-48 74-19 31M1673 1563l-10 19M1656 1596l-5 12"/>
<path class="b" d="M1819 1179l4 15 3 17 1 18 0 19-2 20-4 20-4 18-7 22-16 40-23 44-28 45-46 69M1696 1527l-10 16M1686 1544l-10 15"/>
<path class="c" d="M1819 1167l8 25 4 24"/>
<path class="d" d="M1819 1154l8 19 5 17"/>
<path class="e" d="M1819 1142l13 24 5 14 4 13"/>
<path class="f" d="M1819 1130l12 17 11 20"/>
<path class="g" d="M1819 1118l13 13M1832 1132l8 10"/>
<path class="a" d="M1819 1106l17 14 15 15 13 18 9 17M1880 1189l3 13"/>
<path class="b" d="M1819 1094l19 11 18 14M1875 1138l15 21"/>
<path class="c" d="M1819 1081l19 8 17 9 17 10 14 9"/>
<path class="d" d="M1819 1069l45 13M1867 1083l21 8M1899 1096l20 11M1920 1107l18 13M1939 1121l12 10 9 10 9 11 8 14"/>
<path class="e" d="M1819 1057l41 5 36 7M2045 1141l8 14"/>
<path class="g" d="M1830 1228l-1 26M1829 1256l-3 25M1825 1283l-4 17M1817 1315l-14 37M1797 1366l-11 22-14 26M1764 1428l-8 13M1715 1502l-9 12"/>
<path class="a" d="M1830 1215l1 22-1 22-4 24-6 24-8 26-11 25-12 26-15 27M1774 1412l-20 33-29 42M1706 1515l-9 13M1683 1550l-9 15M1672 1568l-8 13"/>
<path class="b" d="M1830 1203l2 17 0 16-2 32-7 35-5 18-8 22-17 36-22 40-27 41-42 62M1701 1523l-31 49"/>
<path class="c" d="M1830 1191l3 19 2 18 0 19-2 19-4 21-4 17-7 22-8 22-20 40-22 40-23 34-50 72-20 30M1674 1565l-13 23"/>
<path class="d" d="M1830 1179l4 15 3 17 1 18 0 15-1 20-3 17-5 20-5 18-16 40-21 40-26 43-35 50M1725 1493l-23 32M1701 1526l-11 17M1681 1557l-8 12"/>
<path class="e" d="M1830 1167l7 19 4 21"/>
<path class="f" d="M1830 1154l8 19 6 18"/>
<path class="g" d="M1830 1142l13 24 5 11 4 14"/>
<path class="a" d="M1830 1130l13 17 11 20"/>
<path class="b" d="M1830 1118l18 18 13 19"/>
<path class="c" d="M1830 1106l18 14 15 15 13 17 9 17"/>
<path class="d" d="M1830 1094l23 13M1875 1124l10 10 9 11 14 22"/>
<path class="e" d="M1830 1081l20 8 17 9 15 8 15 10M1905 1123l11 10 10 10 8 12 7 13"/>
<path class="f" d="M1830 1069l46 13M1890 1087l17 7"/>
<path class="g" d="M1830 1057l40 5 37 6"/>
<path class="b" d="M1841 1241l-2 23M1839 1267l-5 23M1834 1291l-5 19M1829 1312l-11 29M1817 1343l-11 26M1805 1371l-8 15M1786 1404l-17 28M1743 1471l-8 10M1713 1512l-8 11"/>
<path class="c" d="M1841 1215l1 31-4 33-8 31-13 36-16 33-21 36-25 38-37 52M1703 1526l-16 22"/>
<path class="d" d="M1841 1203l2 17 1 15-1 19-2 17-4 20-5 18-6 18-9 22-20 40-23 39-26 37-57 78M1689 1546l-8 12M1672 1572l-9 15"/>
<path class="e" d="M1841 1191l4 19 1 18 0 18-2 20-3 20-6 21-7 21-9 22-20 40-24 40-26 37-58 78-20 29"/>
<path class="f" d="M1841 1179l5 18 3 17 1 17-1 19-2 20-4 20-6 21-6 18-17 40-25 43-31 45-46 61M1711 1519l-11 15M1693 1543l-9 13"/>
<path class="g" d="M1841 1167l7 19 4 18"/>
<path class="a" d="M1841 1154l11 25"/>
<path class="b" d="M1841 1142l8 12 6 11 5 12 4 14"/>
<path class="c" d="M1841 1130l12 15M1854 1147l12 20"/>
<path class="d" d="M1841 1118l17 16 13 18"/>
<path class="e" d="M1841 1106l19 14 15 15 12 15 10 17"/>
<path class="f" d="M1841 1094l23 13M1866 1108l10 7M1888 1125l11 11M1901 1138l12 16"/>
<path class="g" d="M1841 1081l21 8 17 9 15 8 15 10M1916 1121l12 11 10 11 8 11 8 13"/>
<path class="a" d="M1841 1069l46 12"/>
<path class="b" d="M1841 1057l41 5 37 6"/>
<path class="c" d="M1841 1045l11 0M1845 1294l-5 14"/>
<path class="d" d="M1852 1228l0 18-1 16-4 20-4 18-12 35-18 39M1812 1375l-16 28M1796 1404l-8 12M1788 1417l-14 21M1745 1477l-11 14"/>
<path class="e" d="M1852 1215l1 31-3 29-8 31-11 32-16 33-20 36-24 35-31 41M1726 1502l-8 11"/>
<path class="f" d="M1852 1203l2 17 1 18-1 19-3 17-4 20-6 21-7 18-9 22-22 40-25 39-24 33-71 92"/>
<path class="g" d="M1852 1191l4 19 1 17 0 22-2 20-4 20-6 21-7 21-10 22-21 40-25 38-29 40-61 77-22 31"/>
<path class="a" d="M1852 1179l7 26 2 26-1 28-5 30-10 32-13 32-17 32-22 35M1792 1421l-27 37-38 49M1726 1507l-8 10"/>
<path class="b" d="M1852 1167l7 16 5 20"/>
<path class="c" d="M1852 1154l7 14 5 12"/>
<path class="d" d="M1852 1142l8 12 6 11 6 14 4 13"/>
<path class="e" d="M1852 1130l12 14M1868 1151l9 16"/>
<path class="f" d="M1852 1118l19 18 14 20"/>
<path class="g" d="M1852 1106l23 17 18 19 8 11 7 11 5 11 5 13"/>
<path class="a" d="M1852 1094l25 13"/>
<path class="b" d="M1852 1081l21 8 18 8 17 10 15 10M1928 1120l11 10 10 11M1950 1142l8 11 8 14"/>
<path class="c" d="M1852 1069l28 7 24 7M1927 1092l16 7M1954 1105l14 9"/>
<path class="d" d="M1852 1057l42 5 37 6"/>
<path class="e" d="M1852 1045l12 0M1856 1293l-4 14"/>
<path class="f" d="M1863 1228l0 18-1 16-4 20-4 17-12 35-19 40M1822 1376l-23 37-28 40M1762 1464l-9 11"/>
<path class="g" d="M1863 1215l1 18 0 16-5 32-9 35-15 36-19 36-23 35-30 41-43 52M1717 1520l-22 27"/>
<path class="a" d="M1863 1203l2 17 1 18-1 19-2 16-5 21-5 17-6 18-10 21-21 40-26 39-30 40-49 59M1701 1540l-27 36M1670 1582l-8 12"/>
<path class="b" d="M1863 1191l4 19 2 17-1 22-2 19-4 23-7 21-8 22-9 21-22 40-29 42-28 36-66 78-24 33"/>
<path class="c" d="M1863 1179l5 15 3 13 1 18 1 15-3 31-9 34-11 32-18 36-22 36-29 40M1780 1449l-25 31M1718 1524l-11 12"/>
<path class="d" d="M1863 1167l7 16 5 20"/>
<path class="e" d="M1863 1154l8 16 6 14"/>
<path class="f" d="M1863 1142l8 12 6 11 6 14 5 13"/>
<path class="g" d="M1863 1130l12 13"/>
<path class="a" d="M1863 1118l19 18 15 20"/>
<path class="b" d="M1863 1106l20 14 15 14 14 17 10 17"/>
<path class="c" d="M1863 1094l25 13"/>
<path class="d" d="M1863 1081l24 9 22 10"/>
<path class="e" d="M1863 1069l29 7 26 8M1939 1092l26 12 23 15M2021 1157l7 14"/>
<path class="f" d="M1863 1057l42 5 37 6"/>
<path class="g" d="M1863 1045l12 0"/>
<path class="a" d="M1874 1228l0 27-5 26-7 28-10 27M1851 1337l-11 24M1839 1362l-20 35M1818 1398l-15 22M1803 1421l-17 22M1763 1472l-21 25"/>
<path class="b" d="M1874 1215l1 30-3 29-8 31-12 31-15 33-22 35-25 35-30 38M1747 1492l-34 39M1711 1533l-9 11"/>
<path class="c" d="M1874 1203l3 17 0 18-1 19-3 19-4 20-7 21-7 18-10 21-23 40-29 41-32 40-65 75M1695 1552l-27 35"/>
<path class="d" d="M1874 1191l4 19 2 17 0 21-2 19-4 20-6 21-8 21-9 21-22 40-30 42-34 42-62 70M1702 1545l-29 37M1672 1583l-9 13"/>
<path class="e" d="M1874 1179l5 15 3 13 2 17 0 15-1 19-3 16-8 34-14 35-19 36-26 39-31 40M1780 1459l-17 21M1733 1513l-11 12M1712 1536l-14 16"/>
<path class="f" d="M1874 1167l7 16 5 20"/>
<path class="g" d="M1874 1154l9 16 6 16M1889 1188l4 13"/>
<path class="a" d="M1874 1142l9 12 6 11 6 14 4 12"/>
<path class="b" d="M1874 1130l12 13"/>
<path class="c" d="M1874 1118l19 18 10 11 7 11"/>
<path class="d" d="M1874 1106l20 14 16 14 12 15 11 17"/>
<path class="e" d="M1874 1094l25 12"/>
<path class="f" d="M1874 1081l27 10 22 10"/>
<path class="g" d="M1874 1069l29 7 27 8M1948 1090l20 9 16 9 15 11 14 13"/>
<path class="a" d="M1874 1057l43 5 36 5"/>
<path class="b" d="M1874 1045l12 0M1852 1358l-12 20"/>
<path class="c" d="M1885 1228l1 15-2 15-5 31M1878 1291l-9 28-11 27M1858 1347l-7 13M1846 1369l-10 16M1836 1386l-23 34M1812 1421l-11 14"/>
<path class="d" d="M1885 1215l2 15-1 15-3 29-8 30-11 31-16 33-20 32-23 31-28 34M1776 1466l-60 67"/>
<path class="e" d="M1885 1203l3 17 0 18-1 18-2 20-5 20-7 20-9 21-8 18-23 39-28 39-33 39-54 59M1718 1532l-20 22M1695 1557l-17 20M1676 1579l-10 14"/>
<path class="f" d="M1885 1191l4 19 2 20 0 21-3 19-5 23-6 21-9 21-10 21-12 21-14 22-30 41-34 39-75 81M1692 1562l-15 17"/>
<path class="g" d="M1885 1179l6 20 4 19 0 24-2 22-4 22-7 24-10 25-11 23M1860 1360l-17 28-21 30M1821 1419l-18 23M1801 1444l-9 11M1790 1457l-31 35"/>
<path class="a" d="M1885 1167l8 18 5 19"/>
<path class="b" d="M1885 1154l8 13 5 12 4 15 3 13"/>
<path class="c" d="M1885 1142l9 12 6 11 6 13 5 13"/>
<path class="d" d="M1885 1130l12 12"/>
<path class="e" d="M1885 1118l20 18 15 19"/>
<path class="f" d="M1885 1106l18 12 17 14 13 16 11 17"/>
<path class="g" d="M1885 1094l23 11"/>
<path class="a" d="M1885 1081l34 13M1921 1095l13 6"/>
<path class="b" d="M1885 1069l29 7 27 7M1959 1090l15 7 15 7 23 16M2020 1127l12 14 9 15"/>
<path class="c" d="M1885 1057l43 5 36 5"/>
<path class="d" d="M1885 1045l12 0"/>
<path class="e" d="M1897 1228l-1 21-2 19-4 19-6 22M1883 1310l-10 26-14 28M1857 1367l-24 38M1832 1406l-19 26M1808 1437l-9 11M1796 1452l-12 14M1774 1476l-11 12M1671 1588l-9 13"/>
<path class="f" d="M1897 1215l1 18-1 15-4 32-10 34-15 35-20 35-25 35-30 37-36 39M1756 1496l-37 39M1712 1542l-21 23"/>
<path class="g" d="M1897 1203l2 17 1 17-1 19-3 16-4 20-5 17-15 34-19 36-27 38-30 37-39 42M1756 1497l-53 55M1687 1569l-10 13"/>
<path class="a" d="M1897 1191l4 18 1 20 0 21-3 23-5 23-7 20-11 25-10 21-13 21-14 21-33 41-32 35-65 67-23 24M1686 1572l-13 14"/>
<path class="b" d="M1897 1179l7 25 3 28-2 31-6 29-11 31-15 32-18 31-24 33M1830 1420l-9 11M1821 1432l-16 18M1784 1473l-11 12"/>
<path class="c" d="M1897 1167l7 18 5 19"/>
<path class="d" d="M1897 1154l7 13 5 12 4 12 3 14"/>
<path class="e" d="M1897 1142l8 12 7 13 6 13 5 13"/>
<path class="f" d="M1897 1130l11 12"/>
<path class="g" d="M1897 1118l12 11 10 10 9 11 8 12"/>
<path class="a" d="M1897 1106l14 9 13 10 12 12 10 13"/>
<path class="b" d="M1897 1094l24 12 19 13"/>
<path class="c" d="M1897 1081l34 13M1934 1096l13 6"/>
<path class="d" d="M1897 1069l29 7 26 7M1967 1089l16 6 15 8 11 7 11 8"/>
<path class="e" d="M1897 1057l42 5 35 5"/>
<path class="b" d="M1908 1288l-4 13"/>
<path class="f" d="M1874 1356l-7 12"/>
<path class="g" d="M1908 1228l-1 30-7 32-11 34-16 34M1873 1359l-14 23M1850 1394l-9 13M1841 1408l-15 19M1823 1430l-13 16M1798 1459l-33 35"/>
<path class="a" d="M1908 1215l1 18-1 18-2 19-3 16-6 20-7 17-9 21-9 18-23 35-29 38-35 39-49 49M1728 1531l-11 11M1703 1555l-12 13M1670 1592l-8 11"/>
<path class="b" d="M1908 1203l2 19 1 18-2 18-3 20-5 20-7 20-9 21-10 21-11 17-14 21-16 21-16 20-39 42-58 58M1713 1546l-9 10"/>
<path class="c" d="M1908 1191l4 18 2 20-1 21-2 19-5 23-7 20-8 21-10 21-12 21-14 21-16 20-16 21-39 41-65 64M1708 1552l-13 14M1693 1567l-12 13M1670 1593l-8 11"/>
<path class="d" d="M1908 1179l5 15 2 13 3 28-2 30-7 30M1908 1298l-7 20-8 19M1893 1338l-7 13M1877 1367l-10 16M1866 1384l-28 39M1833 1428l-13 16M1818 1445l-8 10M1790 1476l-19 18"/>
<path class="e" d="M1908 1167l8 18 4 19"/>
<path class="f" d="M1908 1154l7 13 5 12 7 25"/>
<path class="g" d="M1908 1142l12 18 10 22"/>
<path class="a" d="M1908 1130l13 15"/>
<path class="b" d="M1908 1118l12 11 12 12 10 13 8 14"/>
<path class="c" d="M1908 1106l14 9 11 9 11 9 8 10"/>
<path class="d" d="M1908 1094l23 11M1933 1106l18 13"/>
<path class="e" d="M1908 1081l34 13"/>
<path class="f" d="M1908 1069l29 7 26 7M1979 1089l24 11M2006 1101l13 8 12 10"/>
<path class="g" d="M1908 1057l42 5 36 5"/>
<path class="b" d="M1919 1228l0 20-3 22-5 23-9 25M1902 1319l-14 31M1888 1350l-13 22-13 20M1861 1393l-7 11M1843 1417l-9 12M1833 1430l-20 22M1793 1473l-20 20M1770 1496l-12 11M1705 1557l-10 10"/>
<path class="c" d="M1919 1215l1 29-4 32-9 33-13 31-17 31-24 35-28 34-33 34M1792 1475l-38 37M1753 1513l-13 12M1739 1525l-10 10"/>
<path class="d" d="M1919 1203l2 17 1 14-2 30-7 33-13 34-16 31-23 35-27 34-35 38M1797 1471l-84 80M1712 1552l-12 11M1697 1566l-16 17M1671 1594l-10 12"/>
<path class="e" d="M1919 1191l4 21 2 20-1 24-4 22-6 23-8 24-12 24-12 21-13 21-16 20-34 40-35 35-77 71-27 28M1676 1589l-9 11"/>
<path class="f" d="M1919 1179l5 14 3 13 2 17 0 14-1 18-2 16-9 33M1916 1308l-13 31M1902 1341l-13 25-17 25M1871 1392l-10 15M1859 1409l-11 14"/>
<path class="g" d="M1919 1167l8 18 4 18"/>
<path class="a" d="M1919 1154l7 13 5 11 4 12 4 14"/>
<path class="b" d="M1919 1142l8 12 8 12 5 11 5 14"/>
<path class="c" d="M1919 1130l12 13"/>
<path class="d" d="M1919 1118l13 11 11 12 10 13 8 14"/>
<path class="e" d="M1919 1106l18 12 15 13M1982 1174l5 13"/>
<path class="f" d="M1919 1094l24 12 19 13"/>
<path class="g" d="M1919 1081l34 13"/>
<path class="a" d="M1919 1069l29 7 27 7M1989 1088l13 6M2015 1101l14 8 12 10"/>
<path class="b" d="M1919 1057l42 5 36 5"/>
<path class="c" d="M1919 1045l11 0M1818 1457l-10 10"/>
<path class="d" d="M1930 1228l0 20-3 22M1924 1284l-3 12M1921 1297l-6 16M1915 1314l-11 26-16 28-18 28-22 27M1847 1425l-16 18M1829 1445l-11 12M1804 1471l-15 14M1785 1489l-12 11M1771 1502l-11 9"/>
<path class="e" d="M1930 1215l1 29-4 31-8 30-12 30-17 32-18 27-24 31-29 31M1817 1459l-17 16M1799 1476l-15 15M1783 1491l-51 46M1722 1546l-10 9M1708 1559l-14 13"/>
<path class="f" d="M1930 1203l2 16 1 18-1 18-3 18-4 20-7 20-8 20-9 18-10 17-13 21-30 37-33 36-46 43M1769 1505l-23 21M1745 1526l-11 10M1713 1555l-26 24M1687 1580l-12 12"/>
<path class="g" d="M1930 1191l4 21 2 19-1 21-3 22-5 23-9 23-10 24-12 21-13 21-16 20-16 21-22 23-41 40-78 69M1709 1559l-12 11M1695 1572l-13 13"/>
<path class="a" d="M1930 1179l5 14 3 16 2 16 0 19M1940 1245l-1 16-3 16-8 29-13 31-18 33M1894 1375l-18 25M1874 1402l-12 16"/>
<path class="b" d="M1930 1167l8 18 5 18"/>
<path class="c" d="M1930 1154l7 13 5 11 5 12 3 14"/>
<path class="d" d="M1930 1142l9 12 6 10 9 22"/>
<path class="e" d="M1930 1130l14 15"/>
<path class="f" d="M1930 1118l13 11 11 11 10 13 8 15"/>
<path class="g" d="M1930 1106l20 13 16 14M1988 1163l7 15"/>
<path class="a" d="M1930 1094l24 12 20 13"/>
<path class="b" d="M1930 1081l34 13"/>
<path class="c" d="M1930 1069l29 7 26 7M2016 1096l12 6M2030 1104l11 7 11 9M2075 1150l5 11"/>
<path class="d" d="M1930 1057l42 5 36 5"/>
<path class="e" d="M1930 1045l12 0M1935 1286l-6 19M1896 1373l-7 11"/>
<path class="f" d="M1941 1228l0 23-4 25M1930 1304l-14 33M1916 1338l-9 17M1903 1362l-11 17M1891 1380l-20 28-23 27M1846 1437l-11 12M1833 1450l-9 10"/>
<path class="g" d="M1941 1215l1 29-4 31-7 29-13 30-16 31-19 28-24 30-30 32M1827 1457l-11 11M1806 1478l-12 11M1793 1489l-10 9M1757 1521l-12 9M1698 1572l-11 10"/>
<path class="a" d="M1941 1203l3 16 0 17-1 18-2 16-4 19-5 16-14 34-19 35-25 34-33 36-36 35M1805 1480l-10 9M1784 1498l-12 10M1772 1509l-45 37M1726 1547l-32 28M1693 1577l-10 9"/>
<path class="b" d="M1941 1191l5 21 1 19-1 24-3 21-6 23-8 23-12 24-11 21-14 21-16 20-17 20-21 23-43 40-75 62M1719 1554l-36 33"/>
<path class="c" d="M1941 1179l6 17 3 15 1 17 0 19M1951 1248l-2 18-4 18M1945 1285l-6 20M1938 1307l-10 26M1928 1334l-8 15M1910 1366l-9 15M1878 1410l-17 20-17 19"/>
<path class="d" d="M1941 1167l8 18 5 18"/>
<path class="e" d="M1941 1154l7 13 5 11 5 12 3 14"/>
<path class="f" d="M1941 1142l9 12 6 10 9 22"/>
<path class="g" d="M1941 1130l14 15"/>
<path class="a" d="M1941 1118l13 10 11 12 10 13 8 14"/>
<path class="b" d="M1941 1106l22 14 17 16"/>
<path class="c" d="M1941 1094l20 9 16 10"/>
<path class="d" d="M1941 1081l34 13"/>
<path class="e" d="M1941 1069l29 6 26 8M2025 1095l19 11M2044 1106l14 11 11 11 9 12 7 13"/>
<path class="f" d="M1941 1057l45 5 34 6"/>
<path class="g" d="M1941 1045l12 0"/>
<path class="a" d="M1952 1228l-1 29-5 28M1939 1308l-14 34-19 32M1905 1375l-23 32M1860 1432l-24 25"/>
<path class="b" d="M1952 1215l1 29-3 27-7 29-12 30-16 31-18 27-21 27-26 29M1850 1444l-12 12M1827 1467l-17 14M1793 1496l-10 9"/>
<path class="c" d="M1952 1203l3 19 0 20-2 21-4 22-7 23-8 20-10 20-11 21-12 17-15 20-18 20-18 20-43 40-62 51M1737 1543l-16 13M1719 1557l-18 15M1700 1573l-13 12M1671 1601l-11 12"/>
<path class="d" d="M1952 1191l5 20 1 23-1 23-4 25-8 26-9 23-12 24-15 24-15 21-17 20-18 19-23 23-41 36-79 63-29 25"/>
<path class="e" d="M1952 1179l6 19 4 21 0 23-1 21-5 21-6 23-10 24-11 22M1924 1361l-20 31-26 31M1864 1439l-12 11"/>
<path class="f" d="M1952 1167l8 18 5 18"/>
<path class="g" d="M1952 1154l7 13 6 13 5 14 3 14"/>
<path class="a" d="M1952 1142l9 12 7 12 6 13 4 14"/>
<path class="b" d="M1952 1130l14 15"/>
<path class="c" d="M1952 1118l13 10 11 12 10 13 8 14"/>
<path class="d" d="M1952 1106l18 11 14 12 12 14 10 14"/>
<path class="e" d="M1952 1094l18 8 14 9M1985 1111l11 8"/>
<path class="f" d="M1952 1081l34 13"/>
<path class="g" d="M1952 1069l29 6 26 8M2018 1087l13 6M2035 1095l13 8M2073 1123l13 18"/>
<path class="a" d="M1952 1057l44 5 35 6"/>
<path class="b" d="M1952 1045l12 0"/>
<path class="e" d="M1962 1295l-4 12"/>
<path class="b" d="M1929 1355l-8 14"/>
<path class="c" d="M1963 1228l0 20-2 21-5 22-7 21M1945 1323l-10 21-13 22M1921 1368l-10 15M1910 1384l-19 26M1890 1411l-16 18-19 19"/>
<path class="d" d="M1963 1215l1 28-3 28-7 28-9 27-16 30-17 27-21 27-26 29M1864 1440l-12 12M1852 1452l-17 15M1814 1486l-17 14M1771 1520l-15 12M1703 1573l-10 9"/>
<path class="e" d="M1963 1203l3 16 1 17-1 17-3 19-4 19-6 19-8 20-9 17-12 20-11 17-27 34-34 36-42 36M1806 1494l-11 9M1792 1505l-24 19M1762 1529l-14 10M1731 1552l-14 11M1712 1567l-22 18"/>
<path class="f" d="M1963 1191l5 20 1 22-1 24-3 21-6 23-9 23-11 23-14 24-14 20-16 20-18 20-22 23-24 21-25 21-75 57M1730 1553l-15 12M1701 1576l-27 24"/>
<path class="g" d="M1963 1179l7 24 4 27-2 29-6 30M1952 1329l-16 31-20 30M1877 1436l-10 9M1865 1448l-14 13"/>
<path class="a" d="M1963 1167l8 18 5 19"/>
<path class="b" d="M1963 1154l8 13 4 11 5 14 3 13"/>
<path class="c" d="M1963 1142l9 11 7 13 6 13 4 14"/>
<path class="d" d="M1963 1130l13 14"/>
<path class="e" d="M1963 1118l19 17 9 10 7 10"/>
<path class="f" d="M1963 1106l14 9 13 9 9 10 10 11M2015 1155l6 12"/>
<path class="g" d="M1963 1094l24 11 18 13"/>
<path class="a" d="M1963 1081l30 11 24 12"/>
<path class="b" d="M1963 1069l31 7 25 8"/>
<path class="c" d="M1963 1057l43 5 36 6"/>
<path class="d" d="M1963 1045l12 0M1968 1288l-6 20"/>
<path class="e" d="M1975 1228l-1 25-4 25M1970 1279l-4 15M1965 1297l-9 26-11 24-14 23-18 25M1905 1406l-11 13M1893 1419l-18 20"/>
<path class="f" d="M1975 1215l1 28-4 30-7 29-12 30-16 30-18 27-24 30-28 28M1864 1451l-17 14M1847 1466l-14 12M1803 1502l-20 15M1749 1542l-15 11"/>
<path class="g" d="M1975 1203l2 19 1 16-1 18-3 18-5 19-6 20-8 19-9 17-12 20-11 17-27 34-35 35-40 34M1820 1489l-55 42M1765 1531l-20 15M1744 1546l-17 13M1700 1579l-13 11"/>
<path class="a" d="M1975 1191l4 20 2 22-2 23-4 25-7 25-9 23-12 24-14 23-15 20-19 24-19 19-23 22-25 21-26 20-87 64"/>
<path class="b" d="M1975 1179l6 21 3 21 0 25-2 24-6 25-9 26-11 24-15 25M1941 1371l-18 24-22 26M1901 1422l-9 9M1889 1434l-11 11"/>
<path class="c" d="M1975 1167l7 17 5 20"/>
<path class="d" d="M1975 1154l7 13 4 10 5 14 3 14"/>
<path class="e" d="M1975 1142l8 11 7 12 5 13 5 15"/>
<path class="f" d="M1975 1130l11 13"/>
<path class="g" d="M1975 1118l13 12 11 11 10 15 8 15"/>
<path class="a" d="M1975 1106l18 13 17 15 12 15 10 18"/>
<path class="b" d="M1975 1094l22 11"/>
<path class="c" d="M1975 1081l29 11 26 14"/>
<path class="d" d="M1975 1069l27 6 21 7M2033 1085l20 9"/>
<path class="e" d="M1975 1057l44 5 34 6"/>
<path class="b" d="M1984 1296l-4 12"/>
<path class="f" d="M1968 1322l-7 15"/>
<path class="g" d="M1986 1228l-1 28-6 31M1979 1288l-10 31-14 30-19 30-22 29M1900 1424l-18 18"/>
<path class="a" d="M1986 1215l1 17 0 14-2 18-3 15-9 32-15 33-20 33-22 31-28 29-32 30M1812 1502l-19 14M1792 1516l-13 9M1699 1583l-11 8"/>
<path class="b" d="M1986 1203l2 18 1 17-1 17-3 19-4 18-6 20-9 19-8 17-12 20-11 17-27 33-15 16-20 19-39 33M1833 1487l-51 37M1781 1525l-23 16"/>
<path class="c" d="M1986 1191l4 23 2 21-2 23-4 25-7 25-10 23-13 27-15 23-18 24-18 19-19 20-24 21-25 21-26 20-84 58M1707 1578l-12 8M1671 1607l-12 12"/>
<path class="d" d="M1986 1179l4 14 3 12 3 27-2 28-6 30M1988 1291l-8 26-12 26-13 24-18 25M1928 1403l-20 23M1907 1426l-13 14"/>
<path class="e" d="M1986 1167l7 17 5 20"/>
<path class="f" d="M1986 1154l7 13 4 10 5 14 3 14"/>
<path class="g" d="M1986 1142l8 11 7 12 5 13 5 15"/>
<path class="a" d="M1986 1130l11 13M2007 1157l9 20"/>
<path class="b" d="M1986 1118l10 9 9 9 8 10 7 10"/>
<path class="c" d="M1986 1106l18 13 16 14 12 16 10 18"/>
<path class="d" d="M1986 1094l22 11"/>
<path class="e" d="M1986 1081l22 8 18 9M2028 1099l14 9M2044 1109l11 9"/>
<path class="f" d="M1986 1069l26 6 22 7M2044 1086l13 6"/>
<path class="g" d="M1986 1057l43 5 34 6M2118 1091l13 12 11 15"/>
<path class="b" d="M1997 1234l-2 31-7 31M1987 1299l-11 29-14 28M1955 1368l-23 32M1931 1402l-11 13M1918 1416l-20 21"/>
<path class="c" d="M1997 1215l1 28-3 26-6 28-11 29-13 27-16 27-21 26-22 25M1905 1431l-19 18M1850 1480l-15 12"/>
<path class="d" d="M1997 1203l2 18 1 20-2 20-3 18-5 19-6 19-9 20-10 20-13 20-12 16-13 17-18 19-16 16-21 19-22 18-27 19M1822 1502l-22 16M1799 1518l-29 20M1753 1549l-13 8"/>
<path class="e" d="M1997 1191l4 22 2 22-2 23-4 24-7 25-9 23-13 27-15 23-17 23-17 19-20 20-24 21-26 21-26 20-78 51M1715 1575l-12 9"/>
<path class="f" d="M1997 1179l5 16 3 18 2 18-1 20-3 21-4 21-7 20-8 21M1983 1335l-10 20-15 23-17 23-19 22"/>
<path class="g" d="M1997 1167l7 17 5 20"/>
<path class="a" d="M1997 1154l10 21 8 24"/>
<path class="b" d="M1997 1142l8 11 6 12 6 13 4 14"/>
<path class="c" d="M1997 1130l10 12 10 14"/>
<path class="d" d="M1997 1118l10 9 9 9 14 20"/>
<path class="e" d="M1997 1106l21 15 16 17 13 19 9 23"/>
<path class="f" d="M1997 1094l23 12"/>
<path class="g" d="M1997 1081l20 7 17 9 16 9 14 11"/>
<path class="a" d="M1997 1069l24 6 22 6"/>
<path class="b" d="M1997 1057l44 5 33 7"/>
<path class="d" d="M2008 1228l0 12M2008 1241l-2 24-4 21-6 22-9 23-12 23-14 23-15 20-18 22M1922 1424l-11 12"/>
<path class="e" d="M2008 1215l1 28-3 26-6 28-10 29-15 29-16 26-21 27-21 23M1916 1432l-20 19M1862 1479l-19 14M1836 1498l-11 8"/>
<path class="f" d="M2008 1203l2 18 1 19-2 21-3 21-6 22-7 19-9 19-11 20-13 20-15 20-14 16-18 19-17 16-22 18-50 37M1823 1508l-31 20"/>
<path class="g" d="M2008 1191l4 22 2 22-2 25-4 24-7 26-9 22-12 23-14 23-17 23-17 20-19 19-24 21-26 21-28 19-74 49M1760 1550l-22 14M1720 1575l-19 13M1678 1605l-11 9"/>
<path class="a" d="M2008 1179l4 14 3 14 2 16 1 16-3 32-4 18-5 16-12 32-19 33-11 16-12 17-27 29M1925 1432l-18 17"/>
<path class="b" d="M2008 1167l7 17 5 19"/>
<path class="c" d="M2008 1154l6 12 6 13M2023 1189l4 17"/>
<path class="d" d="M2008 1142l8 11 6 12 5 12 5 14"/>
<path class="e" d="M2008 1130l14 17M2023 1148l10 19"/>
<path class="f" d="M2008 1118l10 8 9 10 13 19"/>
<path class="g" d="M2008 1106l21 15 15 17 13 19 8 21"/>
<path class="a" d="M2008 1094l16 8 13 8M2053 1124l11 13"/>
<path class="b" d="M2008 1081l17 7 16 7 14 8 11 8 10 10 9 10 7 11 6 12"/>
<path class="c" d="M2008 1069l25 6 21 7M2077 1093l12 7"/>
<path class="d" d="M2008 1057l43 5 32 7M2120 1084l12 8"/>
<path class="e" d="M2008 1045l11 0M2010 1296l-3 13"/>
<path class="f" d="M2019 1228l0 15M2019 1244l-3 26-6 29M2009 1301l-8 22-10 23-11 20-14 20M1966 1387l-17 21-20 22"/>
<path class="g" d="M2019 1215l1 27-3 29-7 31-11 29-15 29-17 27-21 26-26 26M1920 1440l-10 9M1868 1483l-14 10M1840 1502l-10 7"/>
<path class="a" d="M2019 1203l2 18 1 19-1 20-3 18-6 22-6 19-8 19-10 20-13 19-11 17-16 19-15 16-16 16-22 18-42 32M1852 1495l-40 27M1811 1522l-32 20M1777 1543l-21 13"/>
<path class="b" d="M2019 1191l4 22 2 24-2 26-5 27-8 25-11 26-14 26-15 23-19 22-18 19-23 22-26 21-27 20-28 19-88 53M1740 1566l-13 9M1700 1591l-18 12"/>
<path class="c" d="M2019 1179l5 16 3 15 1 15 0 16-1 17-2 18-5 19-4 15-13 32-19 33-22 29-28 31M1933 1435l-14 13"/>
<path class="d" d="M2019 1167l7 17 5 19"/>
<path class="e" d="M2019 1154l6 12 6 13"/>
<path class="f" d="M2019 1142l7 11 7 12 5 12 4 14"/>
<path class="g" d="M2019 1130l14 17 11 20"/>
<path class="a" d="M2019 1118l15 14 14 19"/>
<path class="b" d="M2019 1106l20 15 15 16 12 19 8 22"/>
<path class="c" d="M2019 1094l14 7 12 7"/>
<path class="d" d="M2019 1081l19 7 14 8 15 9 11 9 10 11 10 13 6 13 6 16"/>
<path class="e" d="M2019 1069l24 6 21 7"/>
<path class="f" d="M2019 1057l37 5 30 5"/>
<path class="g" d="M2019 1045l12 0"/>
<path class="a" d="M2030 1228l-1 30-5 29M2024 1288l-8 28-12 28M2003 1345l-6 12M1993 1363l-11 18-14 19-17 20-19 19"/>
<path class="b" d="M2030 1215l1 30-3 29-8 31-10 28-15 29-17 26-21 26-26 27M1890 1475l-15 11M1868 1491l-13 8M1855 1500l-12 8"/>
<path class="c" d="M2030 1203l3 21 0 19-2 20-3 20-6 22-7 19-10 23-10 19-13 19-15 20-17 19-16 16-17 15-22 18-49 34M1845 1507l-31 20M1804 1532l-11 7M1792 1539l-18 11M1701 1593l-13 8"/>
<path class="d" d="M2030 1191l4 22 2 21-2 25-3 24-7 25-10 25-11 23-13 22-17 23-16 19-19 19-21 18-22 18-28 20-33 21-35 21M1798 1537l-50 29M1743 1568l-11 7M1723 1580l-17 10M1705 1591l-11 7"/>
<path class="e" d="M2030 1179l5 16 3 17 1 18 0 19-2 20-4 18-5 19-6 19-9 19-8 16-12 20-12 16-13 16-14 16-33 29M1906 1470l-19 13M1881 1488l-13 8M1835 1517l-11 7"/>
<path class="f" d="M2030 1167l7 17 4 19"/>
<path class="g" d="M2030 1154l6 12 6 13"/>
<path class="a" d="M2030 1142l8 13 6 11 5 13 4 13"/>
<path class="b" d="M2030 1130l13 17 11 19"/>
<path class="c" d="M2030 1118l12 11 10 13"/>
<path class="d" d="M2030 1106l15 11 13 12 10 15 8 15"/>
<path class="e" d="M2030 1094l15 8 11 7"/>
<path class="f" d="M2030 1081l27 12 21 13 9 8 8 9 7 10 6 9"/>
<path class="g" d="M2030 1069l24 6 21 8M2077 1083l17 10 14 10"/>
<path class="a" d="M2030 1057l38 5 30 6"/>
<path class="b" d="M2030 1045l12 0M2033 1296l-4 15M1967 1416l-10 11"/>
<path class="c" d="M2041 1228l0 19-1 17-3 18-4 17M2032 1301l-12 34-8 16-9 17M2002 1369l-19 28M1982 1397l-16 20M1964 1419l-16 17"/>
<path class="d" d="M2041 1215l1 27-2 29-7 30-10 28-14 29-16 26-19 25-22 23M1952 1433l-13 12M1925 1457l-11 9M1909 1470l-19 14M1808 1535l-16 9"/>
<path class="e" d="M2041 1203l3 20 0 22-2 23-4 21-6 21-8 22-11 23-11 19-14 20-15 19-18 19-16 15-18 15-23 17-24 17-30 19M1843 1515l-16 10M1826 1525l-11 7M1814 1532l-15 9M1794 1543l-26 15"/>
<path class="f" d="M2041 1191l5 24 1 27-3 25-5 27-9 28-11 26-14 25-16 23-18 22-18 19-24 21-27 20-28 20-33 20-89 50M1751 1568l-13 7M1737 1575l-14 8M1719 1585l-11 7"/>
<path class="g" d="M2041 1179l6 23 3 22 0 25-3 26-6 27-9 25-11 25-13 23-16 22-15 19-21 22-21 18-22 17-28 20-29 19-39 22"/>
<path class="a" d="M2041 1167l7 19 4 18"/>
<path class="b" d="M2041 1154l7 14 5 13"/>
<path class="c" d="M2041 1142l8 13 6 11 4 13 4 14"/>
<path class="d" d="M2041 1130l13 16 10 21"/>
<path class="e" d="M2041 1118l12 11 10 13"/>
<path class="f" d="M2041 1106l15 11 10 11 10 12 8 15"/>
<path class="g" d="M2041 1094l19 11 15 11"/>
<path class="a" d="M2041 1081l26 12 11 6 9 7"/>
<path class="b" d="M2041 1069l28 8 23 10 19 12 14 14M2128 1118l8 15M2137 1135l5 13"/>
<path class="c" d="M2041 1057l38 5 30 7"/>
<path class="d" d="M2041 1045l12 0M1965 1432l-9 9"/>
<path class="e" d="M2053 1228l-1 24-4 28M2046 1290l-6 24M2037 1320l-7 18M2029 1341l-11 21-14 24M2001 1389l-12 17M1987 1408l-16 18M1956 1441l-14 12"/>
<path class="f" d="M2053 1215l0 29-3 32-7 30-12 32-14 28-19 29-21 25-26 26M1905 1482l-15 11M1876 1501l-12 8M1846 1519l-11 7M1818 1535l-12 7M1799 1545l-14 8"/>
<path class="g" d="M2053 1203l2 20 0 22-2 22-4 24-7 25-9 22-11 22-11 19-14 19-15 19-18 19-17 15-18 15-23 17-25 16-30 19M1850 1518l-79 43"/>
<path class="a" d="M2053 1191l4 24 0 26-2 26-4 26-8 25-10 25-13 26-14 22-18 22-17 19-20 18-25 20-28 20-29 19-30 17-41 22M1797 1548l-26 14M1758 1568l-22 12"/>
<path class="b" d="M2053 1179l5 23 3 22-1 27-3 26-6 27-8 25-11 25-13 22-15 22-15 19-21 22-20 18-23 17-28 19-29 19-36 20M1829 1533l-48 25M1780 1558l-18 10"/>
<path class="c" d="M2053 1167l7 21 4 23"/>
<path class="d" d="M2053 1154l8 18 5 19"/>
<path class="e" d="M2053 1142l7 13 5 11 5 12 3 14"/>
<path class="f" d="M2053 1130l12 18 10 19"/>
<path class="g" d="M2053 1118l15 17"/>
<path class="a" d="M2053 1106l13 11 12 12 9 14 8 15"/>
<path class="b" d="M2053 1094l20 13 10 8 7 8"/>
<path class="c" d="M2053 1081l24 11 10 7 9 7"/>
<path class="d" d="M2053 1069l17 5 16 5 13 7 11 6 9 8 9 9 7 11 6 11"/>
<path class="e" d="M2053 1057l39 6 28 8M2127 1074l14 8"/>
<path class="f" d="M2053 1306l-3 13"/>
<path class="g" d="M2064 1228l-1 23M2063 1254l-2 18-4 19M2057 1292l-4 18M2049 1320l-11 29-14 25M2021 1379l-10 15M2009 1397l-17 20M1988 1422l-16 16M1971 1439l-13 12"/>
<path class="a" d="M2064 1215l0 29-3 31-6 30-10 28-13 29-16 25-19 25-20 22M1942 1465l-15 12M1833 1533l-13 7M1815 1543l-16 8M1797 1552l-33 16"/>
<path class="b" d="M2064 1203l2 20 0 21-2 23-3 20-6 22-7 21-10 22-10 19-12 19-12 16-16 19-15 15-17 15-22 17-19 14-26 17M1888 1503l-25 15M1854 1523l-13 7M1840 1530l-76 39"/>
<path class="c" d="M2064 1191l4 26 0 29-3 29-6 30-9 27-12 26-14 25-19 25-19 22-22 21-25 20-28 19-30 19-35 19-99 50"/>
<path class="d" d="M2064 1179l6 27 2 28-2 30-5 30-9 30-11 28-14 26-17 25-19 21-21 22-24 20-27 20-30 18-35 20-40 21-50 24M1766 1570l-15 7"/>
<path class="e" d="M2064 1167l7 23 4 27"/>
<path class="f" d="M2064 1154l7 18 6 20"/>
<path class="g" d="M2064 1142l6 11 6 13 4 12 4 15"/>
<path class="a" d="M2064 1130l7 9 7 12 6 13 4 14"/>
<path class="b" d="M2064 1118l13 14M2077 1133l7 11"/>
<path class="c" d="M2064 1106l10 8 8 8 7 10 7 11"/>
<path class="d" d="M2064 1094l15 9 13 12 11 13 9 15"/>
<path class="e" d="M2064 1081l18 9 16 10 12 11 10 14M2122 1128l8 15"/>
<path class="f" d="M2064 1069l18 5 15 6 12 6 11 8"/>
<path class="g" d="M2064 1057l32 5 24 6M2136 1075l8 5 8 7 7 8 5 10"/>
<path class="b" d="M2075 1228l-1 29-4 31M2062 1316l-8 22-8 19M2045 1359l-13 23-17 24M2008 1414l-21 23M1987 1438l-16 14"/>
<path class="c" d="M2075 1215l1 24-2 22-3 23-5 24-8 24-10 22-10 19-13 21M2024 1395l-20 25-21 22M1983 1442l-20 17M1947 1472l-17 12M1929 1485l-14 9M1846 1533l-14 7M1827 1542l-30 15M1795 1558l-17 8"/>
<path class="d" d="M2075 1203l2 25 0 24-3 26-5 24-8 24-8 22-11 22-14 22-14 18-16 19-18 18-21 17-23 17-24 16-26 16-32 17M1852 1531l-20 10M1828 1543l-66 31"/>
<path class="e" d="M2075 1191l4 26 0 29-2 28-6 30-9 27-12 28-14 25-18 25-19 22-22 20-25 21-27 19-30 18-36 19-89 43M1769 1571l-21 10M1699 1604l-26 15"/>
<path class="f" d="M2075 1179l6 27 1 30-1 30-6 33-9 30-12 28-15 28-18 25-18 21-22 21-25 20-28 19-30 18-36 20-41 20-57 26M1763 1575l-17 8"/>
<path class="g" d="M2075 1167l4 12 4 15 3 30"/>
<path class="a" d="M2075 1154l7 18 5 20"/>
<path class="b" d="M2075 1142l6 11 5 13 5 14 3 14"/>
<path class="c" d="M2075 1130l7 11 7 12 5 13 4 13"/>
<path class="d" d="M2075 1118l9 11 9 13"/>
<path class="e" d="M2075 1106l12 10 11 14"/>
<path class="f" d="M2075 1094l14 9 13 12 10 13 8 16"/>
<path class="g" d="M2075 1081l11 6 11 6M2098 1094l10 7 8 8M2118 1111l9 12"/>
<path class="a" d="M2075 1069l20 6 16 7"/>
<path class="b" d="M2075 1057l31 5 25 7"/>
<path class="d" d="M2086 1239l-1 17M2083 1274l-4 22M2076 1309l-7 22M2068 1336l-11 25M2052 1370l-10 18M2038 1393l-11 16-13 15-25 26"/>
<path class="e" d="M2086 1215l0 34-4 37-9 36-13 34-17 31-20 28-25 27-28 24M1966 1469l-12 9M1860 1532l-18 10M1835 1545l-42 19M1784 1568l-12 5"/>
<path class="f" d="M2086 1203l2 22 0 24-3 25-4 24-6 24-8 21-10 22-10 19-13 19-14 18-17 18-19 17-18 15-23 16-25 16-27 15M1890 1518l-27 14M1863 1532l-22 11M1839 1544l-63 28"/>
<path class="g" d="M2086 1191l4 28 0 29-3 31-7 33-10 30-13 28-15 25-19 25-19 20-23 21-25 19-29 19-31 18-37 18-41 19-63 28M1739 1589l-14 6M1696 1608l-11 6"/>
<path class="a" d="M2086 1179l6 29 1 30-2 33-6 32-9 31-13 31-16 28-18 24-22 24-22 20-26 20-28 18-31 18-37 18-42 19-64 28"/>
<path class="b" d="M2086 1167l5 16 4 20 1 20 1 21M2078 1340l-5 13"/>
<path class="c" d="M2086 1154l7 18 4 19"/>
<path class="d" d="M2086 1142l6 12 5 12"/>
<path class="e" d="M2086 1130l7 11 6 12 5 13 4 13"/>
<path class="f" d="M2086 1118l13 17 9 19"/>
<path class="g" d="M2086 1106l11 10 10 14"/>
<path class="a" d="M2086 1094l16 11 13 15 10 17 7 20"/>
<path class="b" d="M2086 1081l12 6 11 7"/>
<path class="c" d="M2086 1069l14 5 12 4 11 7 9 6"/>
<path class="d" d="M2086 1057l31 5 21 8 9 4 7 5 6 6 5 7"/>
<path class="e" d="M2086 1045l11 0"/>
<path class="f" d="M2097 1245l-2 22M2094 1276l-7 36-11 33M2076 1347l-14 29M2062 1377l-11 18-11 15M2027 1426l-18 19"/>
<path class="g" d="M2097 1215l1 34-4 36-8 33-12 34-15 31-18 27-23 27-26 24M1889 1526l-12 6M1872 1534l-20 10M1769 1579l-12 5"/>
<path class="a" d="M2097 1203l2 22 0 24-2 25-4 23-6 24-7 21-9 22-12 21-12 19-14 18-16 18-15 14-17 14-23 17-20 13-26 15M1916 1513l-41 21M1874 1534l-76 33M1797 1568l-17 7M1778 1575l-17 8M1758 1584l-12 5"/>
<path class="b" d="M2097 1191l4 31 0 31-4 34-8 33-10 30-13 28-17 27-19 24-21 21-23 20-26 19-34 20-32 17-38 18-118 49M1714 1603l-15 7"/>
<path class="c" d="M2097 1179l5 29 2 32-3 36-7 35-9 31-13 30-16 28-21 27-22 23-23 20-27 19-34 20-36 19-38 18-120 49M1724 1599l-18 8"/>
<path class="d" d="M2097 1167l6 25 4 30 0 31-4 34-6 30-10 30-12 28-15 26M2057 1405l-11 15-13 15-14 14-14 13M1990 1473l-11 9"/>
<path class="e" d="M2097 1154l7 19 4 21"/>
<path class="f" d="M2097 1142l7 16 6 19"/>
<path class="g" d="M2097 1130l7 11 5 12 8 25"/>
<path class="a" d="M2097 1118l7 9 8 12 5 14 5 13"/>
<path class="b" d="M2097 1106l8 8 8 10"/>
<path class="c" d="M2097 1094l10 7 9 9 8 9 6 12"/>
<path class="d" d="M2097 1081l11 6 9 6 8 7 7 8"/>
<path class="e" d="M2097 1069l15 5 11 6 10 6 9 8"/>
<path class="f" d="M2097 1057l28 5 20 7M2147 1070l8 6 7 7"/>
<path class="g" d="M2097 1045l11 0M2093 1335l-5 14"/>
<path class="a" d="M2106 1273l-2 13M2095 1326l-6 21M2088 1350l-9 19-11 21M2067 1393l-12 17M2040 1430l-13 13M2027 1444l-16 15M1853 1550l-15 6"/>
<path class="b" d="M2108 1215l1 36-5 40-8 35-12 34-15 30-19 28-23 26-28 25M1997 1471l-18 13M1932 1512l-12 7M1901 1528l-13 7M1879 1538l-30 13M1842 1554l-21 9"/>
<path class="c" d="M2108 1203l2 24 0 24-2 25-5 26-6 24-8 24-9 22-11 21-12 18-14 18-16 17-16 14-17 14-22 16-25 15-27 15M1919 1520l-13 7M1905 1527l-23 11M1881 1538l-38 16-53 22M1787 1577l-33 13M1707 1608l-17 8"/>
<path class="d" d="M2108 1191l4 30-1 34-4 34-6 32-10 31-12 27-17 27-18 24-22 23-23 20-26 18-30 18-31 17-39 17-43 18-58 22M1771 1584l-29 11M1709 1608l-15 6"/>
<path class="e" d="M2108 1179l5 31 1 35-3 39-7 35-9 30-14 31-15 27-21 26-22 23-24 20-26 18-34 20-38 18-38 17-124 48M1737 1598l-13 5M1721 1604l-21 8"/>
<path class="f" d="M2108 1167l7 29 2 33-1 35-5 37-9 35-11 31-13 27-18 27-20 23-21 20-24 19-32 20-31 17-37 18-45 18-57 22"/>
<path class="g" d="M2108 1154l7 23 5 26"/>
<path class="a" d="M2108 1142l7 18 6 19"/>
<path class="b" d="M2108 1130l8 16 7 17M2123 1164l4 16"/>
<path class="c" d="M2108 1118l7 9 6 12 6 13 4 14"/>
<path class="d" d="M2108 1106l12 13"/>
<path class="e" d="M2108 1094l9 7 8 9 7 9 6 11M2141 1138l4 13"/>
<path class="f" d="M2108 1081l17 11 13 13 10 17 7 19"/>
<path class="g" d="M2108 1069l21 9 14 10 11 13 8 17"/>
<path class="a" d="M2108 1057l21 4 15 5 12 6 9 8"/>
<path class="b" d="M2108 1045l12 0"/>
<path class="c" d="M2106 1331l-9 27M2097 1360l-14 29-14 23M2069 1413l-8 11M2053 1434l-12 13M1855 1556l-18 7"/>
<path class="d" d="M2119 1215l1 39-2 22-3 20-9 38-6 18-7 19-16 30-9 15-12 14-24 26-30 25M1932 1523l-15 7M1913 1532l-16 7"/>
<path class="e" d="M2119 1203l2 22 0 23-2 24-3 23-5 24-5 21-8 21-8 18-9 18-9 15-14 18-12 14-14 14-16 14-18 13-19 12M1978 1498l-29 17M1948 1515l-36 18M1909 1534l-47 20-60 23M1727 1604l-14 5"/>
<path class="f" d="M2119 1191l3 30 0 34-3 33-7 35-9 30-11 28-15 26-17 24-18 20-22 19-24 19-29 17-31 17-33 15-40 17-53 20M1807 1576l-76 27M1728 1604l-36 14"/>
<path class="g" d="M2119 1179l5 33 1 35-4 39-7 38-10 33-13 30-15 27-20 26-22 22-24 19-26 18-34 19-38 18-40 17-44 16-75 27M1737 1601l-17 6M1703 1614l-15 6"/>
<path class="a" d="M2119 1167l4 16 3 17 2 39-3 40-7 41-10 36-12 30-17 30-20 26-22 22-27 21-27 18-35 19-38 17-40 16-126 45M1738 1602l-27 10"/>
<path class="b" d="M2119 1154l4 13 4 16 4 33"/>
<path class="c" d="M2119 1142l7 17 4 19"/>
<path class="d" d="M2119 1130l8 17 6 19"/>
<path class="e" d="M2119 1118l11 18 8 23"/>
<path class="f" d="M2119 1106l8 9 7 11 6 14 4 14"/>
<path class="g" d="M2119 1094l8 6 7 8"/>
<path class="a" d="M2119 1081l11 8 10 8 7 10 6 12"/>
<path class="b" d="M2119 1069l15 7 12 7 9 10 7 12"/>
<path class="c" d="M2119 1057l24 6 9 3 7 5 7 5 5 6 4 8 4 9"/>
<path class="d" d="M2119 1045l12 0"/>
<path class="b" d="M2130 1605l-23 7"/>
<path class="d" d="M2114 1348l-4 14"/>
<path class="e" d="M2130 1228l1 13M2109 1363l-5 13M2103 1377l-15 31M2085 1413l-10 15"/>
<path class="f" d="M2130 1215l1 16M2131 1240l-1 22M2130 1264l-3 31-7 32-8 30-11 27-12 24-16 23-17 20-21 19M2021 1482l-14 10M1978 1509l-11 7M1965 1517l-16 8M1946 1526l-21 10M1917 1539l-41 17M1868 1559l-22 8"/>
<path class="g" d="M2130 1203l2 24 0 26-2 24-4 26-4 24-7 23-7 21-10 21-9 18-10 15-13 17-13 14-18 16-17 13-18 13-20 12M1979 1510l-16 9M1961 1520l-36 17-43 17M1881 1555l-29 10M1851 1566l-48 16M1784 1588l-23 8"/>
<path class="a" d="M2130 1191l3 35 0 36-5 40-7 35-11 33-13 30-17 26-18 23-22 21-24 19-27 17-35 19-38 17-40 16-113 38M1760 1597l-15 5M1741 1603l-17 6"/>
<path class="b" d="M2130 1179l5 35 0 38-4 41-7 38-10 36-13 30-16 26-20 26-22 21-23 19-27 17-34 18-39 18-40 15-51 18-72 23M1756 1599l-24 8M1731 1607l-14 5"/>
<path class="c" d="M2130 1167l4 16 2 19 2 21 0 23-4 44-3 23-4 20-11 36-14 33-8 14-10 15-21 25-23 21-28 20-32 19-37 18-34 15-41 15-137 44-40 14"/>
<path class="d" d="M2130 1154l6 21 3 25 2 29-1 31M2140 1262l-3 31-4 29-7 27-7 23-10 24-11 20-13 20-14 17M2062 1463l-13 12M2047 1476l-13 10M1967 1526l-16 8M1899 1555l-17 6M1868 1566l-12 4"/>
<path class="e" d="M2130 1142l7 23 5 26"/>
<path class="f" d="M2130 1130l7 17 6 20"/>
<path class="g" d="M2130 1118l7 12 5 13"/>
<path class="a" d="M2130 1106l8 10 6 12 5 13 4 15"/>
<path class="b" d="M2130 1094l8 7 6 9"/>
<path class="c" d="M2130 1081l11 8 9 10 6 11 6 14"/>
<path class="d" d="M2130 1069l15 7 11 10 9 13 6 15"/>
<path class="e" d="M2130 1057l20 5 14 8"/>
<path class="f" d="M2130 1045l12 0"/>
<path class="e" d="M2142 1593l-21 9"/>
<path class="g" d="M2142 1228l0 18M2124 1359l-6 17M2117 1381l-14 29M2089 1432l-7 11M2074 1452l-18 18M1970 1526l-12 6M1896 1557l-13 4M1870 1566l-12 4"/>
<path class="a" d="M2142 1215l0 13M2142 1245l-1 20M2141 1266l-2 21M2139 1288l-5 32-7 33-9 27-12 26-14 23-17 22-18 19-23 19M2024 1496l-16 10M1999 1511l-16 9M1977 1523l-18 9M1953 1535l-45 18M1894 1558l-17 6M1853 1572l-13 4"/>
<path class="b" d="M2142 1203l1 31-1 34-3 31-6 32-7 27-9 27-11 23-12 20-14 20-15 16-18 16-20 15-23 14-25 14-33 15-32 13M1913 1552l-48 16-58 19"/>
<path class="c" d="M2142 1191l2 37-1 39-4 39-7 35-8 30-12 30-15 26-16 22-21 21-21 18-25 17-29 17-32 15-40 16-47 16-60 19M1805 1588l-12 4M1778 1596l-16 5M1755 1603l-29 9"/>
<path class="d" d="M2142 1179l3 37 0 40-3 42-7 41-10 35-12 30-15 25-19 25-21 22-26 20-26 16-35 18-38 17-41 15-53 16-71 22M1767 1600l-26 8M1727 1612l-14 4"/>
<path class="e" d="M2142 1167l3 17 2 20 1 46-4 47-7 44-11 38-14 32-8 14-9 14-20 25-23 21-27 19-32 18-37 17-40 16-42 14-163 49"/>
<path class="f" d="M2142 1154l3 17 3 20 2 44-2 51-6 46-10 38-6 18-7 17-16 29-9 14-12 13-21 21-26 20-31 18-36 17-39 16-47 16-151 44M1730 1613l-13 4"/>
<path class="g" d="M2142 1142l7 28 4 34"/>
<path class="a" d="M2142 1130l6 20 5 23"/>
<path class="b" d="M2142 1118l7 16 6 21"/>
<path class="c" d="M2142 1106l8 14 6 18"/>
<path class="d" d="M2142 1094l7 9 6 11 5 12 4 16"/>
<path class="e" d="M2142 1081l11 12 9 13"/>
<path class="f" d="M2142 1069l12 7 9 10 7 12 6 17"/>
<path class="g" d="M2142 1057l18 6 7 4 5 5 5 6 3 7 6 19"/>
<path class="d" d="M2153 1630l-27 4"/>
<path class="f" d="M2153 1605l-22 8-31 7"/>
<path class="g" d="M2100 1466l-12 14-12 11M2018 1528l-31 15"/>
<path class="b" d="M2153 1228l0 20M2137 1366l-11 32M2125 1401l-8 15M2117 1418l-7 11M2095 1452l-10 12M2076 1473l-10 10"/>
<path class="c" d="M2153 1247l-1 20M2150 1293l-1 15M2148 1310l-5 33-8 29-9 26-12 26-14 22-18 22-19 18-23 17M2028 1510l-11 7M2016 1517l-28 15M1978 1536l-28 12M1937 1553l-23 8M1911 1562l-18 6M1890 1569l-23 7M1762 1605l-17 5"/>
<path class="d" d="M2153 1203l1 36-2 40-4 37-6 35-8 29-12 29-11 23-15 22-17 18-19 18-24 16-27 16-31 15-34 14-42 14-50 16M1771 1603l-13 3"/>
<path class="e" d="M2153 1191l2 39-1 42-5 42-6 38-9 32-12 29-14 25-18 24-20 21-22 17-25 16-34 17-38 16-42 15-48 15-65 18M1795 1597l-17 5M1766 1605l-40 11"/>
<path class="f" d="M2153 1179l3 42-1 48-4 48-8 41-10 35-13 28-7 14-9 14-20 24-23 20-27 19-32 17-37 16-40 15-43 14-149 40"/>
<path class="g" d="M2153 1167l4 39 1 49-4 49-7 47-10 38-13 31-16 28-19 23-22 20-26 19-31 18-36 16-41 15-48 15-151 41M1733 1615l-17 5"/>
<path class="a" d="M2153 1154l3 19 2 20 2 49-3 54-7 49-9 38-5 17-7 17-15 28-9 13-11 13-13 13-11 10-26 18-31 18-36 16-41 15-48 15-54 14-95 24M1738 1615l-50 14"/>
<path class="b" d="M2153 1142l3 15 3 19 3 43 0 51-5 50-6 41-10 35-12 31-16 27-16 21-21 19-25 19-26 15-35 16-40 15-42 13-56 16M1851 1588l-15 4M1836 1592l-31 7"/>
<path class="c" d="M2153 1130l7 27 4 34"/>
<path class="d" d="M2153 1118l6 19 5 22"/>
<path class="e" d="M2153 1106l7 15 5 20"/>
<path class="f" d="M2153 1094l7 11 6 15"/>
<path class="g" d="M2153 1081l7 8 6 11 5 12 4 16"/>
<path class="a" d="M2153 1069l6 5 6 5 5 7 4 8"/>
<path class="b" d="M2153 1057l14 6 6 4 5 5"/>
<path class="g" d="M2164 1617l-11 5-15 4-38 6M2099 1632l-16 1"/>
<path class="a" d="M2164 1605l-12 6"/>
<path class="d" d="M2164 1569l-8 8-9 6-21 11"/>
<path class="g" d="M2122 1475l-10 13-14 14M2096 1504l-10 8M2079 1517l-20 13M2058 1530l-20 10M2027 1546l-14 6"/>
<path class="a" d="M2061 1526l-20 10M2039 1537l-12 6"/>
<path class="b" d="M2103 1489l-9 9"/>
<path class="d" d="M2164 1228l0 26M2146 1386l-6 20-7 18M2120 1447l-8 13M2096 1480l-10 9M2039 1522l-22 12M1998 1543l-20 8"/>
<path class="e" d="M2164 1252l-1 17M2156 1340l-3 17M2153 1359l-5 20-6 21-7 19-8 17-9 16-9 13-11 13-15 14M2047 1518l-35 19M2008 1539l-32 13M1968 1555l-32 10M1932 1567l-13 4M1915 1572l-13 4M1803 1601l-16 4"/>
<path class="f" d="M2164 1209l0 53M2164 1267l-5 56-3 26-6 26M2150 1375l-7 26-9 23-10 19-12 19-14 17-15 15-18 14-20 13M2037 1525l-38 19-52 19M1944 1564l-13 4M1928 1569l-23 6M1881 1582l-26 7M1854 1589l-15 4M1838 1593l-15 4"/>
<path class="g" d="M2164 1191l1 41-1 44-3 42-6 41-8 32-10 28-12 25-15 24-18 19-20 17-26 18-28 14-32 14-35 12-43 13-54 15M1853 1590l-36 9M1811 1600l-28 7M1756 1613l-16 4"/>
<path class="a" d="M2164 1179l2 41 0 48-4 48-6 43-8 35-11 31-12 24-17 23-18 20-23 19-29 17-29 14-38 15-41 13-50 14-60 15M1819 1599l-38 9M1759 1613l-21 5"/>
<path class="b" d="M2164 1167l3 45 0 53-3 52-7 46-9 38-12 31-14 26-9 13-11 13-12 12-11 9-26 17-32 17-36 15-41 14-49 14-55 13-91 21M1745 1617l-17 4"/>
<path class="c" d="M2164 1154l3 20 1 23 1 55-3 57-6 49-8 37-11 34-14 27-8 13-10 12-12 12-10 9-25 18-29 16-35 16-40 14-49 14-56 13-95 22M1757 1615l-21 5"/>
<path class="d" d="M2164 1142l3 20 3 23 1 55-2 62-3 31-4 26-8 40-6 20-6 16-8 16-8 13-9 13-10 12-12 12-11 9-25 17-31 16-41 16-42 13-50 13-176 40M1718 1625l-20 5"/>
<path class="e" d="M2164 1130l4 17 2 18 3 48 0 60-4 59-6 43-9 37-5 16-7 16-14 26-17 22-20 18-24 17-30 16-35 14-41 14-49 13-58 13M1853 1597l-32 7M1814 1606l-23 5M1776 1614l-19 4"/>
<path class="f" d="M2164 1118l4 13 3 17 4 39"/>
<path class="g" d="M2164 1106l7 21 5 28"/>
<path class="a" d="M2164 1094l7 16 5 21"/>
<path class="b" d="M2164 1081l7 11 5 14"/>
<path class="c" d="M2164 1069l6 6 5 7"/>
<path class="d" d="M2164 1057l8 4 7 5 4 7 4 9"/>
<path class="e" d="M2164 1045l11 0"/>
<path class="g" d="M2175 1642l-32 4-60 2"/>
<path class="a" d="M2175 1630l-12 4-17 3-53 5M2088 1642l-14 1"/>
<path class="c" d="M2175 1605l-10 7-13 6-17 5-23 4M2096 1629l-15 2"/>
<path class="d" d="M2175 1593l-11 10-14 7-21 7-27 5"/>
<path class="f" d="M2175 1569l-10 13-15 11-19 9-26 8"/>
<path class="g" d="M2175 1557l-10 14-12 11M2152 1583l-13 8-14 6M2115 1600l-20 6"/>
<path class="b" d="M2164 1552l-13 15M2149 1569l-11 7-14 8M2122 1585l-14 6"/>
<path class="f" d="M2164 1450l-10 27-13 23-17 19-19 16-24 15-30 13-36 12-45 12M1966 1588l-22 5M1939 1594l-20 4"/>
<path class="g" d="M2124 1514l-13 12"/>
<path class="a" d="M2153 1465l-12 22-13 19M2126 1508l-11 10-12 10-14 10-13 7M2075 1546l-26 12-28 10M1991 1577l-15 4"/>
<path class="f" d="M2175 1243l0 15"/>
<path class="g" d="M2175 1257l0 14M2167 1359l-2 13M2161 1394l-5 21-6 19-7 16-8 15-9 15-10 12-11 11-14 12M2078 1524l-21 13M2051 1539l-21 10M2024 1552l-12 4M2006 1559l-22 7M1979 1568l-23 7M1952 1576l-18 5M1896 1590l-13 3M1840 1602l-14 3M1790 1612l-14 3"/>
<path class="a" d="M2175 1221l0 30M2175 1269l-1 16M2174 1291l-1 14M2172 1322l-2 16M2169 1349l-2 15M2167 1365l-6 32-6 25-8 21-10 21-11 17-14 17-18 15-20 14M2063 1534l-19 10-21 9-28 10-26 9M1934 1581l-15 4M1883 1593l-15 3"/>
<path class="b" d="M2175 1195l1 27M2176 1248l-1 31M2175 1282l-1 16M2174 1302l-1 13M2172 1327l-4 33-4 29-6 25-7 22-8 18-10 18-12 17-13 14-15 13-18 13-21 11-24 11-28 11-30 9-71 19M1900 1590l-21 5M1874 1596l-19 4M1834 1604l-44 9"/>
<path class="c" d="M2175 1179l2 46-1 50M2176 1277l-2 43-4 37-5 32-7 28-8 24-10 23-13 20-14 16-17 16-21 14-25 14-25 11-33 11-36 11-45 11-52 12M1858 1600l-43 8M1814 1609l-31 6M1771 1617l-14 3"/>
<path class="d" d="M2175 1167l3 47-1 55-3 55-5 46-7 37-8 30-11 26-14 22-18 21-21 17-26 16-27 13-36 13-42 13-50 12-59 12M1844 1604l-41 8M1796 1613l-31 6"/>
<path class="e" d="M2175 1154l3 47 1 60-3 61-6 51-6 37-10 32-11 26-7 12-9 12-19 20-21 17-27 15-33 14-38 13-43 12-57 13-69 13M1809 1611l-39 8M1769 1619l-15 3"/>
<path class="f" d="M2175 1142l3 22 1 27 1 66-3 66-6 57-7 39-5 19-6 16-7 15-7 12-8 12-9 11-11 11-10 8-15 10-13 8-30 14-41 15-47 13-52 12-166 31M1736 1626l-14 3"/>
<path class="g" d="M2175 1130l3 21 2 25 2 67-3 73-5 63-8 41-4 19-6 16-6 15-8 14-8 12-9 11-11 11-10 8-14 10-13 7-34 16-41 14-48 13-51 11-187 34M1715 1631l-15 3"/>
<path class="a" d="M2175 1118l4 20 2 24 2 68-1 84-3 37-3 32-8 44-4 18-5 16-7 15-7 14-10 13-9 11-11 10-10 8-14 10-13 7-35 15-42 13-43 11-52 11-178 31-47 9"/>
<path class="b" d="M2175 1106l5 22 3 33 2 46 0 54M2185 1274l-1 30M2184 1307l-1 19M2183 1327l-3 41-3 34-6 30-6 26-9 22-10 18-12 17-15 15-18 13-22 12-26 11-32 11-35 9-39 9-47 9-60 10M1827 1616l-12 2"/>
<path class="c" d="M2175 1094l4 12 3 14 4 43"/>
<path class="d" d="M2175 1081l4 8 3 9 4 26"/>
<path class="e" d="M2175 1069l7 11 4 14"/>
<path class="f" d="M2175 1057l5 3 4 5 3 5 3 8"/>
<path class="g" d="M2175 1045l11 0"/>
<path class="a" d="M2186 1654l-546 0"/>
<path class="b" d="M2186 1642l-10 3-17 2-63 2-377 4M1718 1653l-54 0"/>
<path class="c" d="M2186 1630l-11 5-17 4-26 3-40 3-124 3-288 5M1666 1653l-14 0"/>
<path class="d" d="M2186 1617l-4 5-6 4-16 6-25 4-39 4-56 3-71 2-280 7M1682 1652l-17 0"/>
<path class="e" d="M2186 1605l-4 7-6 4-7 5-10 4-25 6-38 4-55 4-70 4-274 8M1691 1651l-17 1"/>
<path class="f" d="M2186 1593l-4 8-5 6-7 5-10 5-12 5-14 3-37 6-54 5-70 4-272 10M1699 1650l-17 1"/>
<path class="g" d="M2186 1581l-4 9-6 8-7 6-9 6-12 5-14 4-37 7-53 6-69 5-270 12M1703 1649l-14 1"/>
<path class="a" d="M2186 1569l-4 10-5 9-7 8-9 6-12 6-12 5-36 8-51 7-66 6-90 5-151 7M1742 1646l-33 2M1706 1648l-15 1"/>
<path class="b" d="M2186 1557l-4 13-6 10-6 8-9 7-12 7-12 5-19 6-19 4-52 8-73 7-83 5-193 11"/>
<path class="c" d="M2177 1570l-10 13"/>
<path class="d" d="M2186 1532l-3 12-4 12-4 9-6 8-7 8-7 6-11 6-11 5-29 9-39 8-50 7-62 6"/>
<path class="e" d="M2186 1520l-4 17-5 13-5 11-8 10-9 9-11 7-13 7-16 6-39 10-58 9-77 8-108 9"/>
<path class="f" d="M2186 1508l-4 18-4 14-5 12-7 11-10 10-10 7-12 7-15 7-19 6-18 5-55 10-76 9-103 9M1846 1633l-38 3M1795 1637l-13 1"/>
<path class="g" d="M2175 1539l-7 13-10 13-11 9-15 9-18 8-19 7-27 7-30 5M2025 1612l-13 2"/>
<path class="a" d="M2184 1496l-4 18-4 13-5 13-6 10-8 10-10 8-11 9-12 6-17 7-17 6-42 9-52 9-74 9M1917 1623l-14 2"/>
<path class="b" d="M2185 1481l-7 32-5 14-5 11-7 10-8 10-10 9-11 7-12 6-15 7-36 11-47 9-66 10M1954 1617l-61 7M1892 1624l-17 2"/>
<path class="c" d="M2175 1515l-8 18-11 15-12 13-15 10-21 11-24 8-29 8-34 7"/>
<path class="d" d="M2179 1492l-4 16-5 12-6 11-7 11-9 10-9 8-11 8-12 7-15 6-18 6-42 12-52 9-66 10"/>
<path class="e" d="M2123 1567l-13 6M2104 1576l-17 7"/>
<path class="f" d="M2175 1491l-9 24-6 12-7 9-8 9-9 9-21 14-28 12-36 11-45 10-54 9"/>
<path class="a" d="M2169 1496l-7 16-8 14-9 11-11 10-14 10-16 10-16 7-22 8M2065 1582l-26 7-32 8"/>
<path class="c" d="M2130 1544l-12 9M2115 1554l-13 8"/>
<path class="a" d="M2162 1471l-7 16M2139 1513l-16 17"/>
<path class="b" d="M2167 1457l-8 22-9 19M2135 1518l-14 14M2078 1558l-12 6"/>
<path class="c" d="M2186 1276l0 14M2177 1411l-8 40M2169 1451l-6 20M2157 1486l-9 16M2147 1503l-15 19-19 17M2111 1541l-11 7M2068 1563l-34 13M1988 1588l-15 3M1957 1595l-13 2"/>
<path class="d" d="M2187 1215l0 39M2186 1287l0 15M2185 1317l0 13M2176 1420l-5 27-7 25-10 21-10 17-15 17-16 13-19 12-25 12M2068 1564l-27 10-32 10M2008 1584l-20 5M1987 1589l-21 5M1960 1595l-30 6M1870 1611l-18 3"/>
<path class="e" d="M2186 1187l1 30M2187 1252l0 33M2186 1300l0 18M2181 1386l-3 28-4 25-5 20-7 20-7 16-10 15-10 12-12 12-15 11-17 10-21 10-20 7-23 7-29 8-69 15M1874 1611l-32 5M1828 1618l-13 2"/>
<path class="f" d="M2186 1170l1 19M2187 1211l0 47M2187 1284l-1 26M2186 1317l-1 19M2185 1339l-2 31M2183 1371l-3 34-5 30-5 23-7 22-8 18-10 15-12 14-15 13-19 13-19 9-23 10-31 9-30 8-39 8-96 17M1848 1616l-14 2"/>
<path class="g" d="M2186 1154l1 18M2187 1177l1 37M2188 1257l-1 43M2187 1308l-1 23M2186 1334l-2 43-4 33-4 30-6 25-8 22-8 17-12 17-13 14-16 12-21 12-25 11-25 8-33 10-38 8-46 9-50 7M1868 1614l-29 4M1838 1618l-19 3M1811 1622l-14 2M1796 1624l-14 2"/>
<path class="a" d="M2186 1142l2 37M2188 1184l1 52-1 58M2188 1298l-2 54-3 45-5 36-6 30-7 24-10 20-13 19-15 15-20 13-26 13-27 10-37 11-43 9-46 9-60 9-87 12M1780 1627l-21 3"/>
<path class="b" d="M2186 1130l3 64 0 94M2189 1291l-2 57-3 48-4 38-6 31-7 23-10 22-13 18-15 15-19 14-25 12-27 10-37 10-42 9-53 10-145 20M1780 1628l-29 4M1735 1634l-14 2"/>
<path class="c" d="M2186 1118l2 24 2 31 0 88-2 88-4 67-6 42-8 31-5 13-6 13-7 10-7 10-10 9-10 8-13 8-15 8-32 12-40 12-48 10-60 9-205 27"/>
<path class="d" d="M2186 1106l3 21 1 27 1 84-1 103-4 75-5 42-8 33-4 13-6 13-7 11-7 10-9 8-10 9-12 8-14 7-16 7-19 7-40 10-47 10-60 9-201 25M1720 1638l-29 4"/>
<path class="e" d="M2186 1094l3 18 2 26 2 85-2 120-4 83-5 43-7 32-6 15-5 12-8 11-7 8-9 9-10 7-12 8-15 6-32 12-45 11-49 9-54 7-197 22-50 7"/>
<path class="f" d="M2186 1081l3 15 2 21 3 74-1 141-4 97-4 45-7 34-4 14-5 11-7 11-7 10-10 9-10 7-12 7-14 6-31 11-44 10-48 8-61 8-205 21-51 6"/>
<path class="g" d="M2186 1069l4 11 2 17 3 62 0 167-3 116-4 46-6 33-4 13-5 13-6 9-7 9-9 9-10 6-11 6-13 6-33 10-44 9-49 7-54 6-225 19-57 7"/>
<path class="a" d="M2186 1057l4 7 3 10 2 17 1 28 0 197-2 144-3 48-4 32-3 13-4 11-5 9-6 8-8 7-7 5-12 6-11 5-33 9-42 7-52 6-61 5-263 17-29 3-10 3"/>
<path class="b" d="M2186 1045l11 0"/>
<path class="c" d="M2197 1057l0 597"/>
</g></g>
<circle cx="1640.5" cy="1044.8" r="16.5" fill="#0000FF" stroke="#000" stroke-width="2.2"/><circle cx="2197.3" cy="1044.8" r="16.5" fill="#0000FF" stroke="#000" stroke-width="2.2"/><circle cx="2197.3" cy="1654" r="16.5" fill="#0000FF" stroke="#000" stroke-width="2.2"/><circle cx="1640.5" cy="1654" r="16.5" fill="#00FF00" stroke="#000" stroke-width="2.2"/>
<text x="1916.3" y="1026" font-size="58" text-anchor="middle" textLength="148.4" lengthAdjust="spacingAndGlyphs">Case 3</text>
<text x="1640.5" y="1716" font-size="53" text-anchor="middle" fill="#262626" textLength="25.4" lengthAdjust="spacingAndGlyphs">0</text>
<text x="1751.9" y="1716" font-size="53" text-anchor="middle" fill="#262626" textLength="63.6" lengthAdjust="spacingAndGlyphs">0.2</text>
<text x="1863.2" y="1716" font-size="53" text-anchor="middle" fill="#262626" textLength="63.6" lengthAdjust="spacingAndGlyphs">0.4</text>
<text x="1974.6" y="1716" font-size="53" text-anchor="middle" fill="#262626" textLength="63.6" lengthAdjust="spacingAndGlyphs">0.6</text>
<text x="2085.9" y="1716" font-size="53" text-anchor="middle" fill="#262626" textLength="63.6" lengthAdjust="spacingAndGlyphs">0.8</text>
<text x="2197.3" y="1716" font-size="53" text-anchor="middle" fill="#262626" textLength="25.4" lengthAdjust="spacingAndGlyphs">1</text>
<text x="1627.6" y="1673" font-size="53" text-anchor="end" fill="#262626" textLength="25.4" lengthAdjust="spacingAndGlyphs">0</text>
<text x="1627.6" y="1551.2" font-size="53" text-anchor="end" fill="#262626" textLength="63.6" lengthAdjust="spacingAndGlyphs">0.2</text>
<text x="1627.6" y="1429.3" font-size="53" text-anchor="end" fill="#262626" textLength="63.6" lengthAdjust="spacingAndGlyphs">0.4</text>
<text x="1627.6" y="1307.5" font-size="53" text-anchor="end" fill="#262626" textLength="63.6" lengthAdjust="spacingAndGlyphs">0.6</text>
<text x="1627.6" y="1185.7" font-size="53" text-anchor="end" fill="#262626" textLength="63.6" lengthAdjust="spacingAndGlyphs">0.8</text>
<text x="1627.6" y="1063.8" font-size="53" text-anchor="end" fill="#262626" textLength="25.4" lengthAdjust="spacingAndGlyphs">1</text>
<text x="1918.9" y="1788.2" font-size="58" text-anchor="middle" font-style="italic">x</text>
<text x="1528.9" y="1372.6" font-size="58" font-style="italic" text-anchor="middle">z</text>
<text x="1124.2" y="1872" font-size="53.5" text-anchor="middle">(<tspan font-weight="bold">b</tspan>)</text>
<path d="M265 2008.7V2609M377.3 2008.7V2609M489.5 2008.7V2609M601.8 2008.7V2609M152.8 2488.9H714M152.8 2368.9H714M152.8 2248.8H714M152.8 2128.8H714" stroke="#dedede" stroke-width="2.6" fill="none"/>
<path d="M152.8 2008.7H714V2609H152.8ZM265 2609v-6M265 2008.7v6M377.3 2609v-6M377.3 2008.7v6M489.5 2609v-6M489.5 2008.7v6M601.8 2609v-6M601.8 2008.7v6M152.8 2488.9h6M714 2488.9h-6M152.8 2368.9h6M714 2368.9h-6M152.8 2248.8h6M714 2248.8h-6M152.8 2128.8h6M714 2128.8h-6" stroke="#262626" stroke-width="2.6" fill="none"/>
<g clip-path="url(#cc0)">
<path fill="url(#mot)" d="M152 2026h6v6h-6zM152 2032h9v3h-9zM152 2035h12v9h-12zM152 2044h15v6h-15zM152 2050h18v9h-18zM152 2059h21v12h-21zM152 2071h24v15h-24zM152 2086h27v21h-27zM152 2107h30v12h-30zM152 2119h24v54h-24zM152 2173h30v15h-30zM149 2188h33v51h-33zM149 2239h36v102h-36zM149 2341h39v9h-39zM149 2350h42v87h-42zM149 2437h45v6h-45zM152 2443h42v15h-42zM152 2458h36v9h-36zM152 2467h39v9h-39zM152 2476h42v42h-42zM152 2518h45v12h-45zM152 2530h48v9h-48zM248 2536h6v12h-6zM152 2539h54v36h-54zM152 2575h51v3h-51zM152 2578h48v3h-48zM152 2581h45v3h-45zM152 2584h39v9h-39zM152 2593h42v6h-42zM152 2599h57v3h-57zM155 2602h63v3h-63zM368 2602h90v3h-90zM368 2605h105v3h-105zM158 2605h60v3h-60zM371 2608h102v3h-102z"/>
<g fill="none" stroke-width="4.3" stroke-linejoin="round">
<path class="b" d="M153 2609l217 0"/>
<path class="c" d="M275 2602l31 3"/>
<path class="e" d="M271 2600l46 5"/>
<path class="g" d="M270 2598l26 4 32 3"/>
<path class="b" d="M268 2595l31 6 39 4"/>
<path class="d" d="M267 2593l35 7 44 5"/>
<path class="f" d="M264 2590l35 8 44 6"/>
<path class="a" d="M264 2587l18 6 20 4 23 4 25 3"/>
<path class="c" d="M263 2584l18 6 19 5 22 5 25 3"/>
<path class="e" d="M261 2580l18 7 20 6 22 5 24 4"/>
<path class="g" d="M261 2577l20 9 23 7 26 6 30 4"/>
<path class="b" d="M260 2573l21 11 25 8 28 6 32 5"/>
<path class="d" d="M260 2570l21 11 24 9 27 7 31 5"/>
<path class="f" d="M258 2565l23 13 25 11 29 7 33 6"/>
<path class="a" d="M257 2561l24 15 27 11 30 9 36 6"/>
<path class="c" d="M256 2556l12 9 13 8 13 7 15 6 32 9 38 7"/>
<path class="e" d="M255 2550l13 11 13 9 14 7 15 7 16 6 18 5 40 7"/>
<path class="g" d="M247 2538l14 13 15 12 15 10 16 8 18 7 19 6 21 4 24 4"/>
<path class="b" d="M254 2540l14 13 14 11 15 9 16 8 17 7 19 6 20 4 24 4"/>
<path class="d" d="M253 2533l13 14 14 12 14 10 15 8 17 8 18 6 19 5 21 4"/>
<path class="f" d="M253 2528l14 15 14 13 16 12 16 9 18 8 19 6 22 6 23 4"/>
<path class="a" d="M244 2510l8 10M252 2521l15 18 16 15 16 12 18 11 19 8 22 7 23 6 27 4"/>
<path class="c" d="M243 2502l7 10M251 2513l15 19 16 16 17 14 17 11 19 10 21 7 23 6 26 5"/>
<path class="e" d="M241 2491l16 24 18 21 18 18 19 14 20 11 23 9 26 8 29 5"/>
<path class="g" d="M241 2483l7 12M249 2497l17 24 18 20 18 16 19 14 21 11 23 8 27 7 30 5"/>
<path class="b" d="M241 2476l7 12M249 2488l16 25 17 21 18 18 20 15 21 12 23 9 26 7 29 6"/>
<path class="d" d="M240 2464l7 13M248 2479l17 27 17 23 18 19 19 15 21 13 23 10 25 8 29 6M418 2600l14 2"/>
<path class="f" d="M239 2454l7 14M247 2469l17 29 18 25 19 21 20 17 21 14 23 10 27 9 30 6M423 2600l14 2"/>
<path class="a" d="M238 2441l7 15M246 2457l20 35 19 28 20 23 22 19 24 15 26 11 29 8 36 6"/>
<path class="c" d="M237 2429l7 16M245 2446l21 38 20 30 21 25 22 20 24 16 27 12 31 9 36 6"/>
<path class="e" d="M236 2416l22 46 22 37 23 30 11 13 12 11 13 10 12 8 14 8 15 6 16 6 17 4 39 7"/>
<path class="g" d="M235 2401l8 18M244 2421l23 46 22 36 22 30 12 12 12 11 13 10 14 8 14 7 15 6 16 5 17 4 42 7"/>
<path class="b" d="M234 2385l8 19M243 2406l23 50 23 40 12 17 12 15 12 14 12 11 13 10 14 9 15 8 15 6 17 6 18 4 43 7"/>
<path class="d" d="M233 2369l7 19M241 2389l26 57 23 43 12 18 12 16 13 14 13 13 13 11 14 10 15 8 16 7 17 5 19 5 44 7"/>
<path class="f" d="M231 2350l8 21M241 2374l26 60 25 47 12 20 13 17 13 16 12 13 14 12 15 10 15 9 16 7 17 6 19 5 22 4 24 3"/>
<path class="a" d="M230 2331l8 21M240 2356l29 69 26 50 13 22 13 18 13 17 14 14 14 12 15 11 16 9 17 8 19 6 21 5 23 4 27 3"/>
<path class="c" d="M228 2311l9 22M238 2334l32 77 13 29 13 26 13 23 14 20 13 18 14 15 15 14 16 11 16 10 18 8 19 6 21 6 24 4 28 3"/>
<path class="e" d="M227 2290l9 23M237 2315l35 85 27 58 14 25 14 22 14 19 14 16 15 14 16 12 17 10 17 8 20 7 22 5 25 5 28 3"/>
<path class="g" d="M225 2264l9 23M235 2289l40 101 29 62 14 27 14 23 15 20 15 17 15 14 17 13 18 11 19 8 21 7 23 6 27 4 32 3"/>
<path class="b" d="M214 2219l6 13M223 2240l10 24M234 2266l46 115 28 63 15 28 14 24 14 21 16 18 16 16 17 13 18 11 19 10 22 7 24 5 27 5 33 3"/>
<path class="d" d="M212 2193l6 14M221 2213l10 25M232 2239l54 136 28 62 14 29 15 25 15 21 15 19 16 17 17 15 19 11 20 10 22 7 25 6 28 5 33 3M554 2605l13 1"/>
<path class="f" d="M210 2167l6 12M217 2181l11 25M229 2207l20 49 49 120 25 58 15 30 15 26 15 23 15 19 18 17 18 15 19 12 22 10 23 7 27 6 31 4 38 3"/>
<path class="c" d="M189 2581l4 10 3 7"/>
<path class="a" d="M214 2152l11 22M226 2175l26 57 56 141 26 59 15 29 14 26 15 22 15 20 17 18 19 15 20 13 22 10 24 8 28 6 31 4 39 3"/>
<path class="b" d="M223 2365l2 18M225 2388l1 13M226 2403l8 92 7 55 3 19 4 15 5 11 5 6"/>
<path class="c" d="M210 2120l22 38 23 48 21 49 49 124 26 58 13 26 14 24 13 21 14 18 18 20 19 16 21 13 22 10 25 8 28 6 33 4 41 3"/>
<path class="e" d="M193 2584l6 14M196 2586l3 7 3 6"/>
<path class="c" d="M237 2571l6 19"/>
<path class="d" d="M213 2205l8 79 13 170M237 2485l1 13M250 2580l5 14"/>
<path class="e" d="M205 2089l11 14M217 2104l12 18 13 21 13 24 13 29 24 54 53 132 27 60 13 26 13 22 13 20 13 17 19 20 19 16 21 13 23 10 25 8 29 6 34 4 43 2"/>
<path class="g" d="M197 2579l4 13"/>
<path class="b" d="M200 2585l5 12"/>
<path class="d" d="M201 2588l6 12"/>
<path class="e" d="M200 2581l4 13"/>
<path class="f" d="M186 2449l1 16"/>
<path class="e" d="M226 2433l2 17M245 2586l4 9 5 6"/>
<path class="f" d="M199 2087l7 25 6 32M218 2192l7 78 15 201 7 67 4 28 6 22 3 7 3 5 4 4 5 2"/>
<path class="g" d="M194 2055l12 10M207 2065l18 18 16 20 17 25 17 29 15 31 17 37 60 149 26 60 15 30 15 25 15 23 15 19 19 19 20 16 22 13 24 9 27 8 31 5 37 4 46 2"/>
<path class="f" d="M201 2579l5 14"/>
<path class="b" d="M204 2584l3 9 3 7"/>
<path class="c" d="M202 2578l6 17"/>
<path class="e" d="M195 2516l1 13M205 2584l4 12"/>
<path class="f" d="M191 2460l1 16M203 2578l4 13 5 9"/>
<path class="a" d="M195 2504l1 13M204 2575l3 13M207 2589l4 8 5 6"/>
<path class="b" d="M195 2498l1 13M206 2584l6 14"/>
<path class="c" d="M195 2492l1 15M205 2576l5 18M212 2597l6 7 8 3"/>
<path class="d" d="M195 2486l1 15"/>
<path class="e" d="M177 2157l1 16M186 2319l1 22M191 2417l1 20M195 2480l1 16M206 2579l4 12 4 9"/>
<path class="f" d="M177 2152l1 15M186 2310l1 22M191 2409l1 20M195 2473l1 18"/>
<path class="g" d="M177 2146l1 15M186 2301l1 22M191 2400l1 21M195 2466l1 17M199 2528l2 13M206 2575l5 15 5 10"/>
<path class="a" d="M177 2140l1 15M182 2217l1 21M186 2292l1 22M191 2391l1 22M195 2459l1 18M205 2564l5 23"/>
<path class="b" d="M177 2135l1 14M182 2209l1 20M184 2260l1 13M186 2283l1 23M191 2382l1 22M195 2450l1 19M199 2517l2 13M207 2575l4 12 3 9"/>
<path class="c" d="M177 2129l1 15M182 2201l1 20M186 2273l1 23M188 2328l1 13M191 2372l1 23M195 2443l1 19M199 2511l2 14M206 2567l4 16M210 2583l6 15"/>
<path class="d" d="M177 2124l1 14M182 2194l1 20M186 2263l1 23M190 2339l0 13M191 2361l1 23M194 2432l2 21M199 2505l2 14M208 2575l4 12 3 8"/>
<path class="e" d="M177 2119l1 13M182 2186l1 19M186 2253l1 23M187 2285l1 13M188 2307l1 12M189 2328l1 13M191 2350l1 23M193 2402l1 13M194 2422l2 22M200 2498l1 15M207 2567l5 19 5 12"/>
<path class="f" d="M177 2114l1 14M182 2177l1 19M186 2242l1 23M187 2273l1 13M188 2295l1 13M189 2316l1 14M191 2338l1 25M192 2370l1 14M193 2391l1 13M194 2411l2 23M200 2491l1 16M208 2569l6 22"/>
<path class="g" d="M182 2168l1 19M185 2231l2 23M187 2262l1 13M188 2283l1 14M189 2304l1 14M191 2326l1 25M192 2359l1 13M193 2380l1 13M194 2400l2 23M199 2482l2 18M207 2557l4 20 4 14"/>
<path class="a" d="M181 2160l2 19M185 2221l2 22M187 2251l1 14M188 2272l1 14M189 2293l1 14M191 2315l1 25M192 2347l1 15M193 2368l1 15M194 2389l2 24M196 2419l1 14M197 2438l1 13M199 2471l2 19M204 2530l2 13M212 2581l6 15"/>
<path class="b" d="M182 2153l1 18M185 2211l2 22M187 2239l1 14M188 2259l1 15M189 2279l1 15M191 2301l1 25M192 2333l1 15M193 2354l1 15M194 2375l2 25M196 2406l1 14M197 2425l1 14M198 2444l1 13M199 2461l2 20M204 2524l2 15M206 2540l4 25M210 2567l5 21 6 12"/>
<path class="c" d="M157 2025l4 6 4 8M181 2145l2 18M185 2200l2 21M187 2226l1 14M188 2246l1 14M189 2266l1 15M190 2287l2 26M192 2319l1 16M193 2340l1 16M194 2361l2 26M196 2392l1 16M197 2412l1 15M198 2431l1 15M199 2449l2 22M204 2516l2 16M208 2551l3 18 4 16 5 11 5 7"/>
<path class="d" d="M164 2035l5 14M181 2136l2 17M185 2188l2 22M187 2215l1 13M188 2233l1 15M189 2252l1 16M190 2273l2 27M192 2305l1 17M193 2327l1 16M194 2348l2 27M196 2379l1 16M197 2399l1 16M198 2419l1 15M199 2438l2 23M201 2463l1 13M202 2478l1 13M204 2506l2 17M207 2535l3 21M210 2557l2 13M212 2571l4 14 4 10M221 2598l6 6 8 3"/>
<path class="e" d="M163 2033l6 15M181 2128l2 17M185 2177l2 22M187 2203l1 14M188 2221l1 15M189 2240l1 15M190 2259l2 27M192 2290l1 17M193 2311l1 18M194 2333l2 27M196 2364l1 17M197 2384l1 17M198 2405l1 15M199 2423l2 25M201 2450l1 15M202 2466l1 14M203 2482l1 13M204 2497l3 29M207 2527l5 40 6 22 3 7 4 6 5 3 6 2"/>
<path class="f" d="M167 2042l6 20M181 2121l2 15M185 2167l2 21M187 2191l1 14M188 2208l1 15M189 2226l1 16M190 2245l2 27M192 2275l1 17M193 2295l1 17M194 2315l2 29M196 2347l1 18M197 2368l1 17M198 2388l1 18M199 2408l2 26M201 2436l1 16M202 2453l1 15M203 2470l1 14M204 2485l3 32M207 2518l5 44 6 24 3 9 4 6 5 4 7 2"/>
<path class="g" d="M164 2033l7 19M171 2052l7 33M181 2114l2 14M185 2156l2 20M187 2177l1 15M188 2194l1 15M189 2211l1 16M190 2229l2 27M192 2257l1 19M193 2277l1 19M194 2298l2 30M196 2330l1 20M197 2351l1 20M198 2372l1 19M199 2392l2 28M201 2421l1 18M202 2440l1 16M203 2457l6 77 4 25 3 18 4 13 5 9 5 5 8 3"/>
<path class="a" d="M165 2034l5 12M170 2047l5 19M176 2073l5 32M181 2106l2 14M185 2145l3 34M188 2181l1 15M189 2197l1 17M190 2215l2 26M192 2242l1 18M193 2261l1 19M194 2281l3 51M197 2333l9 145 3 46 4 33 5 23 5 14 3 6 4 3 9 4"/>
<path class="b" d="M161 2028l7 12 6 18M174 2058l7 40M181 2099l4 38 4 49 15 261 8 88 5 35 5 21 4 6 4 5 4 3 6 2"/>
<path class="c" d="M163 2030l6 10 4 12 7 33M180 2086l5 42 5 52 16 267 7 88 5 35 6 21 3 6 4 5 4 3 6 2"/>
<path class="d" d="M165 2032l7 14 5 20 6 29 4 39 7 88 14 241 4 49 4 36 4 27 6 18 3 6 3 4 5 3 6 2"/>
<path class="e" d="M167 2034l7 15 5 20 5 27 4 38 7 95 14 231 4 50 4 37 4 27 6 18 3 7 4 3 4 4 6 2"/>
<path class="f" d="M159 2025l5 4 4 6M169 2036l6 15 6 21 4 27 5 39 7 88 14 237 4 50 3 35 5 27 6 18 3 6 4 4 4 3 6 2"/>
<path class="g" d="M171 2038l6 15 6 22 4 27 5 39 6 88 14 235 4 49 5 40 5 26 6 17 3 5 5 4 5 2 8 1"/>
<path class="a" d="M154 2021l7 4 5 5 8 12 7 19 5 27 6 43 5 57 16 267 8 84 5 32 5 20 4 7 4 5 5 3 6 2"/>
<path class="b" d="M167 2030l4 6 4 6 8 20 5 26 5 37 8 92 16 256 4 47 4 33 4 24 6 17 3 6 3 3 5 3 6 2"/>
<path class="c" d="M160 2024l7 5 5 6 5 9 4 9 7 25 6 39 5 43 4 57 17 262 4 50 5 33 5 23 6 14 3 3 5 4 12 2"/>
<path class="d" d="M171 2032l9 13 7 19 6 29 5 36 9 99 15 251 4 45 5 35 5 24 6 15 3 4 5 3 5 2 8 1"/>
<path class="e" d="M166 2027l6 5 6 6 5 9 4 9 7 24 6 38 5 47 4 56 17 264 5 48 4 32 5 21 7 13 3 4 5 3 13 3"/>
<path class="f" d="M162 2024l8 4 7 6 6 7 5 9 4 11 4 13 7 36 5 41 5 59 18 275 4 48 5 34 5 20 4 8 3 5 4 4 5 2 14 3"/>
<path class="g" d="M156 2022l10 3 8 4 7 6 6 7 5 8 5 10 7 26 7 40 6 59 5 75 14 209 4 52 5 36 6 28 3 9 4 6 5 4 5 3 18 2M472 2609l13 0"/>
<path class="a" d="M157 2022l13 4 10 5 9 6 7 8 6 10 5 12 5 14 4 18 6 44 7 62 16 248 7 71 3 31 5 23 5 15 6 9 4 3 6 2 19 2 414 0"/>
<path class="b" d="M153 2021l22 5 20 7 19 8 17 11 17 12 15 14 14 17 15 20 23 38 24 50 22 51 51 128 29 63 15 29 15 25 16 22 15 18 18 17 19 14 21 11 23 9 25 6 30 5 34 4 42 2"/>
<path class="d" d="M153 2009l561 0"/>
</g></g>
<text x="430.8" y="1989" font-size="56.5" text-anchor="middle" textLength="144.6" lengthAdjust="spacingAndGlyphs">Case 1</text>
<text x="152.8" y="2675" font-size="52" text-anchor="middle" fill="#262626" textLength="25.0" lengthAdjust="spacingAndGlyphs">0</text>
<text x="265" y="2675" font-size="52" text-anchor="middle" fill="#262626" textLength="25.0" lengthAdjust="spacingAndGlyphs">2</text>
<text x="377.3" y="2675" font-size="52" text-anchor="middle" fill="#262626" textLength="25.0" lengthAdjust="spacingAndGlyphs">4</text>
<text x="489.5" y="2675" font-size="52" text-anchor="middle" fill="#262626" textLength="25.0" lengthAdjust="spacingAndGlyphs">6</text>
<text x="601.8" y="2675" font-size="52" text-anchor="middle" fill="#262626" textLength="25.0" lengthAdjust="spacingAndGlyphs">8</text>
<text x="714" y="2675" font-size="52" text-anchor="middle" fill="#262626" textLength="49.9" lengthAdjust="spacingAndGlyphs">10</text>
<text x="134.8" y="2629" font-size="52" text-anchor="end" fill="#262626" textLength="25.0" lengthAdjust="spacingAndGlyphs">0</text>
<text x="134.8" y="2508.9" font-size="52" text-anchor="end" fill="#262626" textLength="62.4" lengthAdjust="spacingAndGlyphs">0.2</text>
<text x="134.8" y="2388.9" font-size="52" text-anchor="end" fill="#262626" textLength="62.4" lengthAdjust="spacingAndGlyphs">0.4</text>
<text x="134.8" y="2268.8" font-size="52" text-anchor="end" fill="#262626" textLength="62.4" lengthAdjust="spacingAndGlyphs">0.6</text>
<text x="134.8" y="2148.7" font-size="52" text-anchor="end" fill="#262626" textLength="62.4" lengthAdjust="spacingAndGlyphs">0.8</text>
<text x="134.8" y="2028.7" font-size="52" text-anchor="end" fill="#262626" textLength="25.0" lengthAdjust="spacingAndGlyphs">1</text>
<text x="425.9" y="2742.5" font-size="56.5" text-anchor="middle">Time <tspan font-style="italic">t</tspan></text>
<text x="35.9" y="2331.5" font-size="56.5" font-style="italic" text-anchor="middle">x</text>
<path d="M1004.5 2008.7V2609M1115.7 2008.7V2609M1227 2008.7V2609M1338.2 2008.7V2609M893.2 2488.9H1449.5M893.2 2368.9H1449.5M893.2 2248.8H1449.5M893.2 2128.8H1449.5" stroke="#dedede" stroke-width="2.6" fill="none"/>
<path d="M893.2 2008.7H1449.5V2609H893.2ZM1004.5 2609v-6M1004.5 2008.7v6M1115.7 2609v-6M1115.7 2008.7v6M1227 2609v-6M1227 2008.7v6M1338.2 2609v-6M1338.2 2008.7v6M893.2 2488.9h6M1449.5 2488.9h-6M893.2 2368.9h6M1449.5 2368.9h-6M893.2 2248.8h6M1449.5 2248.8h-6M893.2 2128.8h6M1449.5 2128.8h-6" stroke="#262626" stroke-width="2.6" fill="none"/>
<g clip-path="url(#cc1)">
<path fill="url(#mot)" d="M902 2035h6v3h-6zM902 2038h9v3h-9zM896 2041h15v3h-15zM896 2044h18v6h-18zM896 2050h21v12h-21zM896 2062h24v6h-24zM899 2068h24v3h-24zM902 2071h24v9h-24zM905 2080h24v12h-24zM908 2092h24v12h-24zM911 2104h24v12h-24zM911 2116h27v6h-27zM914 2122h24v12h-24zM917 2134h24v12h-24zM914 2146h27v9h-27zM920 2155h21v6h-21zM920 2161h24v18h-24zM920 2179h27v18h-27zM920 2197h30v6h-30zM923 2203h27v18h-27zM926 2221h24v6h-24zM926 2227h27v12h-27zM932 2239h21v9h-21zM929 2248h24v21h-24zM932 2269h21v6h-21zM932 2275h6v3h-6zM944 2284h9v9h-9zM944 2293h12v3h-12zM935 2296h21v3h-21zM935 2299h24v9h-24zM947 2308h12v9h-12zM938 2332h9v9h-9zM941 2341h6v18h-6zM959 2344h6v21h-6zM956 2386h12v9h-12zM893 2572h6v6h-6zM893 2578h9v3h-9zM896 2581h6v9h-6zM896 2590h9v3h-9zM899 2593h9v12h-9z"/>
<g fill="none" stroke-width="4.3" stroke-linejoin="round">
<path class="e" d="M916 2052l5 15"/>
<path class="b" d="M917 2055l5 14"/>
<path class="d" d="M955 2284l1 13"/>
<path class="f" d="M954 2279l2 13M959 2329l2 14M978 2490l2 14"/>
<path class="a" d="M954 2274l2 13M959 2323l2 15M964 2374l2 13M980 2501l2 13M985 2527l7 31"/>
<path class="c" d="M954 2269l2 13M959 2318l2 13M964 2366l2 14M982 2512l4 19M987 2537l8 28"/>
<path class="e" d="M954 2263l2 14M959 2311l2 13M964 2359l2 15M969 2407l3 23M986 2529l6 23 6 19"/>
<path class="g" d="M949 2213l2 13M954 2256l2 14M959 2303l2 15M964 2351l2 15M967 2379l10 83M989 2540l6 21 6 15"/>
<path class="a" d="M944 2271l2 13M949 2318l2 14"/>
<path class="b" d="M943 2163l3 17M954 2250l2 14M959 2295l2 15M961 2311l2 21M964 2343l10 90 7 58M992 2548l6 18 6 15"/>
<path class="c" d="M944 2266l2 12M949 2309l7 61M973 2509l7 33"/>
<path class="d" d="M918 2054l6 16M940 2137l4 28M952 2224l2 18M954 2243l22 195 6 46 5 35M997 2561l6 15 7 12M939 2282l2 13M942 2306l2 18"/>
<path class="e" d="M944 2259l23 197M978 2528l5 22 5 15"/>
<path class="f" d="M947 2182l4 26M951 2209l29 253 8 55 9 37M1005 2578l5 9 5 6"/>
<path class="e" d="M949 2403l8 62"/>
<path class="f" d="M938 2266l21 173 7 47 6 35M975 2537l3 14"/>
<path class="g" d="M939 2214l3 20M943 2243l26 215 8 51 8 38M986 2553l8 22 4 9 5 7"/>
<path class="a" d="M911 2039l6 11M944 2160l10 70 23 195 10 73 6 33 6 25 7 19 7 13"/>
<path class="c" d="M893 2609l557 0"/>
<path class="d" d="M893 2597l11 5 12 3 16 2 22 2"/>
<path class="e" d="M893 2585l10 10 12 6 14 4 19 3"/>
<path class="f" d="M893 2573l11 15 6 6 7 4 15 6 22 4"/>
<path class="g" d="M893 2561l11 20 5 7 7 6 7 5 8 3 20 5"/>
<path class="a" d="M893 2549l6 14 5 11 6 10 7 7 8 6 8 4 10 4 12 2"/>
<path class="b" d="M893 2537l6 17 6 14 6 11 7 10 8 6 9 5 10 4 13 3"/>
<path class="c" d="M893 2525l6 21 6 16 7 14 7 10 9 8 9 6 11 4 14 3"/>
<path class="d" d="M893 2513l6 22 6 19 7 15 7 13 8 9 8 7 11 4 12 4"/>
<path class="e" d="M893 2501l6 26 6 21 7 17 7 13 8 11 10 8 10 5 14 4"/>
<path class="f" d="M893 2489l6 29 7 24 7 19 7 15 9 12 9 8 11 6 14 4"/>
<path class="g" d="M893 2477l7 33 7 27 6 20 8 16 8 13 10 9 11 6 15 4"/>
<path class="a" d="M893 2465l7 36 7 30 7 23 8 18 8 13 10 10 12 6 15 4"/>
<path class="b" d="M893 2453l7 38 7 33 7 24 9 21 9 15 10 10 12 7 15 4"/>
<path class="c" d="M893 2441l7 43 8 34 7 26 8 22 9 16 11 11 12 8 15 4"/>
<path class="d" d="M893 2429l8 48 7 36 8 29 8 23 10 17 10 11 13 8 16 5"/>
<path class="e" d="M893 2417l8 50 7 38 8 31 8 23 9 18 10 13 12 9 15 5"/>
<path class="f" d="M893 2405l7 49 8 40 7 32 8 26 8 19 9 15 12 10 13 7"/>
<path class="g" d="M893 2393l9 58 8 46 8 36 9 25 9 19 11 14 6 5 8 4 17 5"/>
<path class="a" d="M893 2381l9 63 8 45 8 38 9 27 9 21 11 14 6 6 6 4 16 6"/>
<path class="b" d="M893 2369l10 68 8 50 8 38 9 29 10 22 6 8 5 6 7 5 7 5 8 3 10 2"/>
<path class="c" d="M893 2357l10 70 8 52 8 40 9 31 10 22 5 9 6 7 6 6 7 4 7 4 9 3"/>
<path class="d" d="M893 2345l15 105 6 38 7 31 7 26 7 19 9 16 9 11M954 2592l11 7 14 5"/>
<path class="e" d="M893 2333l10 77 9 58 8 43 9 33 10 25 6 10 5 8 7 6 7 5 8 4 9 2"/>
<path class="f" d="M893 2321l17 128 8 41 7 35 9 28 9 20 10 14 12 11M967 2599l12 5"/>
<path class="g" d="M893 2309l11 87 9 61 9 45 8 36 10 26 5 11 6 9 6 7 7 5 7 4 9 3"/>
<path class="a" d="M893 2297l12 97 9 61 9 48 9 36 10 27 6 10 6 9 7 7 7 6 8 4 9 3"/>
<path class="b" d="M893 2285l13 102 9 62 9 50 9 38 10 28 6 11 6 9 7 7 7 5 8 4 10 3"/>
<path class="c" d="M893 2273l14 111 9 62 9 53 10 39 10 29 7 11 6 8 7 7 8 6 9 4 11 2"/>
<path class="d" d="M893 2261l15 120 9 63 9 51 9 40 11 30 6 10 6 10 6 7 8 5 9 5 9 3"/>
<path class="e" d="M893 2249l16 128 9 64 10 54 9 40 11 30 6 12 7 9 7 7 8 6 8 3 12 3"/>
<path class="f" d="M893 2237l26 201 9 52 10 42 10 31 6 11 6 9 7 8 7 6 9 5 10 3"/>
<path class="g" d="M893 2225l27 210 10 56 9 41 6 18 5 14 7 12 6 9 7 7 8 6 9 4 11 3"/>
<path class="a" d="M893 2213l29 222 10 56 9 41 6 18 5 14 6 12 7 10 7 7 9 6 9 4 11 3"/>
<path class="b" d="M893 2201l30 227 9 54 9 44 11 33 6 13 6 10 7 8 7 6 9 5 11 3"/>
<path class="c" d="M893 2189l31 238 10 58 9 40 5 20 6 15 6 13 6 10 7 8 8 6 9 5 10 3"/>
<path class="d" d="M893 2177l34 253 8 54 10 43 5 19 6 15 6 13 7 10 7 8 8 6 10 4 12 3"/>
<path class="e" d="M893 2165l10 65 25 198 9 55 10 43 5 19 6 16 6 12 7 11 7 8 8 6 10 4 11 3"/>
<path class="f" d="M893 2153l11 71 27 210 9 53 9 42 6 19 6 16 7 13 7 10 8 7 9 6 10 4 13 2"/>
<path class="g" d="M893 2141l12 76 28 214 8 51 8 39 6 20 6 16 6 14 6 10 7 9 8 6 9 5 11 4"/>
<path class="a" d="M893 2129l14 83 28 219 8 51 9 39 5 20 6 16 6 14 6 10 7 9 8 6 9 5 11 4"/>
<path class="b" d="M893 2117l7 39 8 47 30 234 9 50 8 38 6 19 5 16 6 13 7 11 8 8 9 6 10 5 11 3"/>
<path class="c" d="M893 2105l8 39 8 52 33 246 8 48 8 38 6 18 6 17 7 13 7 10 8 8 9 6 11 4 13 2"/>
<path class="d" d="M893 2093l9 41 9 54 34 257 8 45 8 37 6 19 6 16 6 14 8 10 7 8 10 6 11 4 13 2"/>
<path class="e" d="M893 2081l9 36 9 49 9 62 27 206 9 53 9 42 6 21 6 15 7 13 7 9 8 8 9 5 11 4 14 3"/>
<path class="f" d="M893 2069l11 38 10 53 10 69 26 202 9 54 9 43 6 20 7 16 6 13 7 10 8 7 10 6 11 4 13 3"/>
<path class="g" d="M893 2057l6 16 6 22 12 58 11 71 27 210 9 53 9 42 6 21 7 15 6 13 7 9 9 8 9 6 11 3 14 3"/>
<path class="a" d="M893 2045l8 17 7 20 6 27 7 33 12 76 29 222 9 55 10 42 6 18 7 15 7 12 8 9 9 7 10 5 13 3 16 2"/>
<path class="b" d="M893 2033l10 15 9 21 7 27 8 34 12 79 23 175 9 63 10 58 11 42 7 17 7 14 8 10 9 8 11 6 12 3 16 2 22 2"/>
<path class="c" d="M893 2021l7 5 5 6 11 16 9 23 9 30 8 38 7 48 29 219 13 83 8 35 8 28 10 22 10 14 10 9 13 6 15 3 21 2 55 1 309 0"/>
<path class="d" d="M893 2009l557 0"/>
</g></g>
<text x="1168.8" y="1989" font-size="56.5" text-anchor="middle" textLength="144.6" lengthAdjust="spacingAndGlyphs">Case 2</text>
<text x="893.2" y="2675" font-size="52" text-anchor="middle" fill="#262626" textLength="25.0" lengthAdjust="spacingAndGlyphs">0</text>
<text x="1004.5" y="2675" font-size="52" text-anchor="middle" fill="#262626" textLength="25.0" lengthAdjust="spacingAndGlyphs">2</text>
<text x="1115.7" y="2675" font-size="52" text-anchor="middle" fill="#262626" textLength="25.0" lengthAdjust="spacingAndGlyphs">4</text>
<text x="1227" y="2675" font-size="52" text-anchor="middle" fill="#262626" textLength="25.0" lengthAdjust="spacingAndGlyphs">6</text>
<text x="1338.2" y="2675" font-size="52" text-anchor="middle" fill="#262626" textLength="25.0" lengthAdjust="spacingAndGlyphs">8</text>
<text x="1449.5" y="2675" font-size="52" text-anchor="middle" fill="#262626" textLength="49.9" lengthAdjust="spacingAndGlyphs">10</text>
<text x="873.2" y="2629" font-size="52" text-anchor="end" fill="#262626" textLength="25.0" lengthAdjust="spacingAndGlyphs">0</text>
<text x="873.2" y="2508.9" font-size="52" text-anchor="end" fill="#262626" textLength="62.4" lengthAdjust="spacingAndGlyphs">0.2</text>
<text x="873.2" y="2388.9" font-size="52" text-anchor="end" fill="#262626" textLength="62.4" lengthAdjust="spacingAndGlyphs">0.4</text>
<text x="873.2" y="2268.8" font-size="52" text-anchor="end" fill="#262626" textLength="62.4" lengthAdjust="spacingAndGlyphs">0.6</text>
<text x="873.2" y="2148.7" font-size="52" text-anchor="end" fill="#262626" textLength="62.4" lengthAdjust="spacingAndGlyphs">0.8</text>
<text x="873.2" y="2028.7" font-size="52" text-anchor="end" fill="#262626" textLength="25.0" lengthAdjust="spacingAndGlyphs">1</text>
<text x="1163.8" y="2742.5" font-size="56.5" text-anchor="middle">Time <tspan font-style="italic">t</tspan></text>
<text x="774" y="2331.7" font-size="56.5" font-style="italic" text-anchor="middle">z</text>
<path d="M1739.8 2008.7V2609M1852.1 2008.7V2609M1964.3 2008.7V2609M2076.6 2008.7V2609M1627.6 2488.9H2188.8M1627.6 2368.9H2188.8M1627.6 2248.8H2188.8M1627.6 2128.8H2188.8" stroke="#dedede" stroke-width="2.6" fill="none"/>
<path d="M1627.6 2008.7H2188.8V2609H1627.6ZM1739.8 2609v-6M1739.8 2008.7v6M1852.1 2609v-6M1852.1 2008.7v6M1964.3 2609v-6M1964.3 2008.7v6M2076.6 2609v-6M2076.6 2008.7v6M1627.6 2488.9h6M2188.8 2488.9h-6M1627.6 2368.9h6M2188.8 2368.9h-6M1627.6 2248.8h6M2188.8 2248.8h-6M1627.6 2128.8h6M2188.8 2128.8h-6" stroke="#262626" stroke-width="2.6" fill="none"/>
<g clip-path="url(#cc2)">
<path fill="url(#mot)" d="M1654 2125h6v9h-6zM2002 2143h9v3h-9zM1999 2146h12v6h-12zM1648 2140h9v15h-9zM2038 2176h6v9h-6zM1930 2197h6v6h-6zM1921 2209h6v3h-6zM1936 2212h6v3h-6zM1915 2212h12v3h-12zM1915 2215h27v3h-27zM1924 2218h18v6h-18zM1906 2221h6v3h-6zM1903 2224h9v3h-9zM1924 2224h12v3h-12zM1900 2227h12v3h-12zM1900 2230h18v3h-18zM1906 2233h12v3h-12zM1906 2236h9v3h-9zM1906 2239h6v3h-6zM1903 2242h9v3h-9zM1900 2245h12v3h-12zM1897 2248h15v3h-15zM1921 2248h9v3h-9zM1714 2248h9v6h-9zM1894 2251h36v3h-36zM1711 2254h15v3h-15zM1891 2254h30v3h-30zM1885 2257h36v6h-36zM1711 2257h18v6h-18zM1888 2263h9v3h-9zM1711 2263h15v6h-15zM1864 2263h6v6h-6zM1888 2266h6v3h-6zM1714 2269h12v3h-12zM1867 2269h9v6h-9zM1867 2275h15v3h-15zM1864 2278h18v3h-18zM1849 2278h6v3h-6zM1846 2281h9v3h-9zM1864 2281h12v3h-12zM1840 2284h36v3h-36zM1837 2287h39v3h-39zM1837 2290h42v3h-42zM1840 2293h39v6h-39zM1840 2299h27v3h-27zM1825 2299h6v3h-6zM1825 2302h39v3h-39zM1828 2305h33v3h-33zM1843 2308h18v3h-18zM1825 2314h6v3h-6zM1819 2317h15v6h-15zM1819 2323h12v3h-12zM1798 2326h6v3h-6zM1792 2329h24v3h-24zM1789 2332h27v9h-27zM1789 2341h12v3h-12zM1780 2344h18v3h-18zM1777 2347h15v6h-15zM1777 2353h9v3h-9zM1768 2356h15v3h-15zM1768 2359h12v3h-12zM1768 2362h9v6h-9zM1771 2368h6v6h-6zM1759 2377h9v3h-9zM2113 2377h6v6h-6zM1756 2380h12v3h-12zM1756 2383h9v3h-9zM1756 2386h6v3h-6zM1762 2443h6v6h-6zM2068 2464h6v3h-6zM2068 2467h9v6h-9zM1702 2479h6v3h-6zM1702 2482h12v6h-12zM1627 2530h6v3h-6zM1624 2533h9v18h-9zM2017 2566h9v3h-9zM2044 2566h12v3h-12zM1969 2569h9v3h-9zM2017 2569h39v6h-39zM1999 2572h12v6h-12zM1969 2572h18v6h-18zM2023 2575h33v3h-33zM1978 2578h33v3h-33zM2023 2578h15v6h-15zM1978 2581h24v3h-24zM1984 2584h12v3h-12zM1624 2551h6v39h-6zM2029 2584h9v12h-9z"/>
<g fill="none" stroke-width="4.3" stroke-linejoin="round">
<path class="a" d="M1628 2021l0 418M1639 2045l-3 29"/>
<path class="b" d="M1639 2033l-3 30-3 53"/>
<path class="c" d="M1639 2021l-4 30-3 67-2 117-2 150M1628 2437l0 50"/>
<path class="d" d="M1650 2033l-3 15-3 19-6 59"/>
<path class="e" d="M1650 2021l-4 12-4 19-5 65-5 111-3 144M1629 2383l0 43M1628 2485l0 21"/>
<path class="d" d="M1661 2057l-4 20"/>
<path class="e" d="M1661 2045l-6 26-6 34"/>
<path class="f" d="M1661 2033l-5 15-4 21-5 28-4 36"/>
<path class="g" d="M1661 2021l-6 13-5 20-5 29-4 41-7 120-5 160M1629 2424l0 25M1628 2504l0 17"/>
<path class="e" d="M1672 2069l-4 15"/>
<path class="g" d="M1672 2045l-5 16-6 21-10 58"/>
<path class="a" d="M1672 2033l-6 15-6 19-5 24-5 31"/>
<path class="b" d="M1672 2021l-4 5-4 7-7 21-5 29-6 40-5 56-5 63-6 155M1630 2402l-1 26M1629 2447l0 19M1628 2519l0 13"/>
<path class="a" d="M1684 2057l-7 18-7 21"/>
<path class="b" d="M1684 2045l-7 14-5 16-11 44"/>
<path class="d" d="M1684 2021l-6 5-4 7-9 20-7 29-7 40-7 55-5 64-4 70-4 79M1631 2395l-1 16M1630 2426l0 16M1629 2464l0 18"/>
<path class="e" d="M1695 2033l-9 13-8 18-7 23-8 30M1663 2118l-5 23"/>
<path class="f" d="M1695 2021l-6 5-6 7-5 9-5 11-9 29-8 39-7 50-7 62-5 70-5 79M1632 2388l-1 16M1631 2409l-1 21M1630 2440l0 15"/>
<path class="d" d="M1706 2069l-9 19-9 22"/>
<path class="e" d="M1706 2057l-7 13-8 18"/>
<path class="f" d="M1706 2045l-12 20"/>
<path class="g" d="M1706 2033l-7 8-5 9-12 25-10 33-10 41M1661 2156l-3 14"/>
<path class="a" d="M1706 2021l-7 5-7 8-6 9-6 11-10 30-9 40-10 56-7 63-7 71-5 83M1632 2402l-1 17M1630 2453l0 14"/>
<path class="e" d="M1717 2081l-7 13"/>
<path class="f" d="M1717 2069l-15 30-15 40M1686 2140l-7 23"/>
<path class="g" d="M1685 2127l-4 13M1680 2143l-3 13"/>
<path class="b" d="M1717 2033l-7 8-7 9-6 12-7 15-12 33-12 46"/>
<path class="c" d="M1717 2021l-9 6-7 7-7 10-7 12-6 15-6 17-11 43-10 57-9 65-7 77-6 82M1632 2417l-1 15M1631 2437l0 15"/>
<path class="d" d="M1729 2033l-10 9-8 11-9 15-7 16-8 19-8 24-14 54"/>
<path class="e" d="M1729 2021l-10 6-9 8-8 10-7 12-8 16-6 18-12 43-12 58-11 71-8 77-6 86M1740 2045l-9 10-8 11-16 28-15 36-14 46"/>
<path class="f" d="M1731 2040l-10 13-10 14-8 16-9 21M1688 2120l-4 12"/>
<path class="g" d="M1740 2021l-11 6-9 7-8 10-8 11-8 16-8 16-13 42-13 56-11 65-9 70-8 83M1630 2479l0 13M1751 2045l-16 19-16 24-15 31-14 37"/>
<path class="b" d="M1751 2021l-11 6-11 8-9 10-9 12-9 15-8 17-8 21-8 26-14 58-13 71-10 77-8 85M1762 2045l-13 13-13 18M1735 2077l-10 16M1708 2126l-7 17"/>
<path class="c" d="M1747 2046l-9 10-8 11M1729 2067l-9 16-9 17M1710 2100l-12 29-13 36"/>
<path class="d" d="M1762 2021l-12 6-10 7-9 8-9 11-9 13-8 15-9 19-7 20-15 48-14 61-12 70-9 72M1639 2372l-4 38M1635 2415l-2 21"/>
<path class="e" d="M1774 2033l-13 9-11 11-11 14-11 15-11 19-9 20-11 27-9 25"/>
<path class="f" d="M1774 2021l-13 6-12 8-11 9-11 14-11 16-9 17-9 21-10 25-9 30-8 29-14 65-13 77-9 81M1635 2424l-2 20"/>
<path class="g" d="M1785 2033l-13 9-13 12-13 14-11 16-11 20-12 23-12 28-10 26M1689 2183l-4 13"/>
<path class="a" d="M1785 2021l-14 6-12 7-12 10-10 12-11 15-10 17-10 20-9 21-10 28-9 28-16 63-13 71-10 70M1639 2390l-4 37M1776 2062l-12 15"/>
<path class="b" d="M1796 2033l-15 10-14 13-13 14-13 19-13 21-12 24-11 25-13 31"/>
<path class="c" d="M1796 2021l-14 6-13 7-13 10-11 12-11 14-11 17-10 20-11 24-11 29-9 28-18 64-14 70-11 76M1637 2415l-3 30"/>
<path class="a" d="M1807 2069l-9 9"/>
<path class="c" d="M1807 2045l-17 14-18 19M1770 2081l-11 14M1757 2098l-7 11"/>
<path class="d" d="M1807 2033l-17 11-15 13-15 17-14 20-15 25-14 26-14 31-11 28"/>
<path class="e" d="M1807 2021l-15 6-13 7-13 10-12 11-12 15-11 16-11 20-10 21-12 27-10 28-9 30-10 32-15 70-12 71M1642 2386l-9 76"/>
<path class="d" d="M1811 2064l-10 9M1797 2077l-10 11"/>
<path class="e" d="M1815 2047l-17 14-14 15M1783 2077l-10 12M1773 2090l-8 10M1762 2104l-13 19-13 22M1736 2145l-7 12"/>
<path class="f" d="M1818 2033l-14 9-15 12-14 14-15 18-14 19-14 24-12 23-14 30"/>
<path class="g" d="M1818 2021l-15 6-14 7-13 10-14 13-13 15-11 16-12 21-13 24-12 29-11 28-10 31-10 33-16 70-13 76M1641 2401l-5 45"/>
<path class="f" d="M1830 2057l-15 12-15 16M1798 2087l-21 26-21 31M1755 2144l-16 27"/>
<path class="g" d="M1830 2045l-17 13-16 15-14 16-17 21M1765 2112l-8 12M1749 2136l-15 25M1734 2162l-6 11"/>
<path class="a" d="M1830 2033l-19 11-17 14-17 18-16 20-16 25-16 26-15 31-14 33"/>
<path class="b" d="M1830 2021l-18 6-14 8-14 10-14 13-14 15-12 17-13 21-13 25-13 29-11 28-11 31-10 34-10 34-8 36-8 41-6 39M1641 2409l-7 54"/>
<path class="a" d="M1841 2057l-26 23-23 27-26 34-25 39"/>
<path class="b" d="M1836 2048l-18 15M1817 2064l-18 17-18 21M1780 2103l-23 33-24 40M1732 2177l-9 18"/>
<path class="c" d="M1841 2033l-19 11-18 14-17 17-17 20-17 25-16 26-16 31-15 32"/>
<path class="d" d="M1841 2021l-16 5-15 8-15 9-14 13-14 15-13 16-13 20-14 24-12 24-12 27-12 30-11 32-10 35-10 35-14 71M1646 2386l-3 15M1643 2402l-6 39-4 38"/>
<path class="c" d="M1852 2057l-15 12-13 13-30 34-30 40-30 48M1729 2213l-8 16"/>
<path class="d" d="M1852 2045l-17 12-17 15M1818 2073l-24 25M1792 2100l-28 38M1763 2139l-13 20M1746 2165l-20 37"/>
<path class="e" d="M1852 2033l-19 11-18 14-18 17-18 20-18 24-16 26-17 30-16 32M1705 2221l-5 12"/>
<path class="f" d="M1852 2021l-18 6-17 9-15 10-15 13-15 16-15 19-14 22-15 25-15 30-12 29-12 31-12 34-10 35-9 35-8 35-7 39M1641 2421l-5 34"/>
<path class="e" d="M1863 2057l-15 12-14 13-30 33-29 37-29 43M1742 2203l-14 23M1727 2229l-11 19"/>
<path class="f" d="M1855 2050l-15 12M1837 2065l-10 9M1823 2078l-10 10M1805 2097l-13 15M1778 2130l-13 18M1756 2162l-9 15M1742 2185l-8 13"/>
<path class="g" d="M1863 2033l-21 12M1840 2046l-17 13M1822 2061l-19 17M1793 2089l-21 26-21 32M1750 2148l-23 40-21 43"/>
<path class="a" d="M1863 2021l-20 7-19 9-17 12-16 15-16 17-16 21-17 27-16 27-15 32-13 30-15 39-11 35-10 35-10 41-7 38-7 41M1638 2448l-5 39"/>
<path class="g" d="M1875 2057l-18 14-19 18-19 19-20 24-17 23-19 26-19 29-17 30"/>
<path class="a" d="M1830 2081l-9 9M1771 2152l-9 12M1744 2193l-8 13"/>
<path class="b" d="M1823 2069l-17 17M1796 2096l-12 16M1772 2128l-12 17M1753 2155l-15 25M1736 2184l-9 16M1727 2201l-8 14"/>
<path class="c" d="M1875 2021l-21 7-18 8-17 12-17 14-15 16-17 20-16 22-16 26-16 31-14 29-13 32-13 34-12 35-10 35-9 40-8 39M1643 2422l-3 18M1639 2446l-4 27"/>
<path class="b" d="M1886 2057l-20 16-20 18-19 20-21 24-21 28-20 27-19 29-20 33"/>
<path class="c" d="M1814 2108l-9 11M1782 2148l-9 12M1708 2270l-7 14"/>
<path class="d" d="M1877 2037l-11 6M1768 2145l-8 11M1760 2157l-17 27M1734 2200l-8 13M1721 2223l-6 11M1713 2239l-6 13"/>
<path class="e" d="M1886 2021l-21 7-20 9-17 12-18 14-18 19-18 21-16 23-17 27-17 32-17 35-16 38-13 35-11 35-11 41-9 38-7 36M1639 2454l-5 40"/>
<path class="d" d="M1897 2057l-20 16-20 18-20 20-21 23-22 28-20 27-20 29-20 32M1721 2272l-9 16"/>
<path class="f" d="M1791 2126l-13 16M1774 2147l-11 17M1762 2165l-10 15M1729 2219l-10 19"/>
<path class="g" d="M1897 2021l-21 6-20 10-20 13-18 15-19 19-18 21-19 27-18 28-18 32-15 31-17 38-14 35-12 35-11 41-9 38-8 40M1639 2456l-4 26"/>
<path class="f" d="M1908 2057l-20 16-23 20-23 24-22 24-23 28-24 33-22 31-20 32M1728 2269l-8 14"/>
<path class="b" d="M1908 2021l-20 6-21 10-20 13-18 14-20 19-19 21-17 23-19 27-18 32-16 29-18 38-15 35-13 35-13 41-10 38-8 37M1642 2445l-3 17M1638 2467l-5 36"/>
<path class="a" d="M1919 2057l-20 16-20 18-20 19-22 23-23 27-21 26-22 30-21 30M1745 2252l-7 12"/>
<path class="c" d="M1875 2060l-10 8M1740 2222l-7 11"/>
<path class="d" d="M1919 2021l-24 8-20 10-21 13-21 17-21 21-22 26-22 29-19 29-20 34-19 37-18 40-14 35-12 35-11 39-10 42-7 37M1638 2474l-3 16"/>
<path class="e" d="M1887 2244l-18 17"/>
<path class="c" d="M1931 2057l-21 15-23 21-23 23-23 24-46 55-23 30-22 30"/>
<path class="e" d="M1860 2082l-12 12M1816 2128l-9 10M1807 2139l-12 15M1736 2240l-7 11M1721 2266l-17 32"/>
<path class="f" d="M1931 2021l-24 8-21 10-21 13-22 17-20 20-23 26-22 28-21 30-20 33-20 37-20 39-14 35-13 35-13 40-10 42-8 37M1638 2476l-4 32"/>
<path class="a" d="M1895 2235l-9 9"/>
<path class="e" d="M1942 2057l-18 13-20 18-42 40-46 52-42 52M1774 2233l-15 20"/>
<path class="f" d="M1838 2137l-10 11"/>
<path class="g" d="M1852 2099l-14 15M1824 2130l-10 12M1778 2188l-11 15M1718 2280l-7 14"/>
<path class="a" d="M1942 2021l-22 7-21 10-21 12-21 16-21 20-24 25-22 27-21 28-21 33-21 36-18 33-16 35-15 35-14 40-12 38-8 35M1640 2470l-5 31M1634 2506l-1 13"/>
<path class="g" d="M1953 2057l-25 19M1928 2077l-29 26-31 31M1867 2135l-17 18M1849 2154l-21 23M1828 2178l-19 22M1783 2232l-8 11"/>
<path class="b" d="M1874 2089l-27 27-30 34M1809 2159l-17 21M1781 2195l-18 25M1759 2226l-10 14M1748 2241l-9 14M1739 2256l-18 29M1721 2286l-8 13M1713 2300l-20 38"/>
<path class="c" d="M1953 2021l-24 8-22 10-24 15-22 18-22 20-24 27-24 29-25 34-22 35-22 37-21 40-16 35-14 35-13 39-10 35-8 36M1639 2480l-3 15"/>
<path class="g" d="M1899 2230l-10 10"/>
<path class="b" d="M1863 2151l-10 10"/>
<path class="c" d="M1886 2109l-10 10M1868 2126l-11 13M1852 2144l-22 24M1755 2262l-9 13"/>
<path class="d" d="M1958 2036l-11 6M1944 2043l-15 10-17 13-33 29-36 36-37 44M1805 2175l-32 42M1769 2222l-22 32M1746 2255l-16 25M1729 2282l-15 26M1712 2311l-9 16"/>
<path class="e" d="M1964 2021l-25 8-23 11-23 15-23 18-25 24-25 27-25 30-26 36-23 35-23 38-22 40-16 35-14 34-13 38-10 35-9 39M1638 2488l-5 31M1909 2098l-39 39M1866 2140l-16 18M1849 2158l-23 27M1814 2199l-10 11M1794 2222l-10 13M1778 2243l-21 27"/>
<path class="f" d="M1976 2033l-16 8-15 9-31 23-35 32-35 36-39 46-35 45-34 49-27 44M1707 2328l-10 19"/>
<path class="g" d="M1976 2021l-23 7-23 11-23 15-23 17-25 22-25 27-25 29-27 34-24 34-24 37-20 34-18 35-16 35-15 39-12 36-9 33M1643 2471l-5 21"/>
<path class="e" d="M1920 2131l-9 9M1898 2153l-14 14"/>
<path class="f" d="M1981 2061l-10 8M1964 2075l-27 24M1936 2100l-14 14M1921 2114l-23 23M1898 2138l-10 10M1887 2148l-17 18M1868 2169l-15 15M1852 2185l-11 13"/>
<path class="g" d="M1987 2045l-27 18M1960 2064l-38 33-47 45M1875 2143l-55 60M1797 2230l-17 21"/>
<path class="a" d="M1987 2033l-15 8-15 9-31 23-35 31-38 40-41 46-40 50-35 50-29 46M1707 2337l-7 12"/>
<path class="b" d="M1987 2021l-24 8-25 12-23 15-26 20-26 24-27 28-29 35-29 36-25 36-25 39-19 34-18 35-16 34-14 38-11 34-10 38M1639 2491l-5 33M1963 2165l-9 10"/>
<path class="d" d="M1884 2219l-12 12"/>
<path class="g" d="M1997 2070l-16 14M1979 2086l-12 11M1967 2097l-13 13M1951 2112l-15 14M1934 2129l-22 22M1908 2155l-14 14M1893 2170l-24 26M1865 2199l-23 24M1840 2225l-17 19"/>
<path class="a" d="M1998 2057l-41 34-53 52-65 68-58 66M1781 2277l-10 12"/>
<path class="b" d="M1973 2062l-26 22M1946 2086l-30 27-33 33M1880 2149l-38 41"/>
<path class="c" d="M1998 2033l-30 17-32 25-35 31-39 40-42 47-41 50-37 50-29 43M1713 2337l-9 14"/>
<path class="d" d="M1998 2021l-25 9-24 12-26 17-26 21-27 25-31 33-32 36-29 38-26 36-26 40-20 34-18 35-15 33-14 37-12 37-9 36M1638 2501l-5 33"/>
<path class="b" d="M1995 2169l-16 16M1954 2211l-10 10"/>
<path class="a" d="M1981 2108l-17 17M1944 2146l-10 10M1933 2156l-47 48M1882 2208l-10 10M1871 2219l-14 14M1853 2237l-14 15"/>
<path class="b" d="M2009 2069l-33 30-47 47-72 73-55 59"/>
<path class="c" d="M2009 2057l-16 13M1991 2072l-36 33M1954 2105l-10 11M1943 2117l-14 13M1914 2145l-16 17M1896 2163l-23 25M1859 2202l-49 53-41 46M1767 2304l-11 13"/>
<path class="d" d="M1926 2115l-42 42M1880 2162l-9 10M1837 2208l-11 11"/>
<path class="e" d="M2009 2033l-16 9-16 11-36 27-43 40-46 49-45 51-43 53-37 51-30 48"/>
<path class="f" d="M2009 2021l-26 9-26 14-26 18-26 21-31 30-33 34-33 38-34 44-28 38-25 40-20 35-21 39-16 37-12 34-10 34-7 37"/>
<path class="e" d="M2003 2160l-12 13M1935 2230l-14 13"/>
<path class="f" d="M2020 2129l-11 13M1995 2157l-16 17M1975 2177l-33 35M1891 2260l-13 12M1839 2307l-9 9M1749 2391l-14 14"/>
<path class="d" d="M2020 2069l-23 21M1989 2099l-11 11M1965 2123l-37 36M1928 2160l-24 24M1902 2186l-10 10M1890 2198l-12 13M1873 2216l-20 19M1843 2246l-9 9M1827 2262l-16 17M1809 2281l-13 13"/>
<path class="e" d="M1986 2087l-13 12M1942 2130l-19 19M1854 2220l-10 10"/>
<path class="g" d="M2020 2033l-15 9-16 10-35 28-42 39-47 48-50 55-45 54-38 51-31 45"/>
<path class="a" d="M2020 2021l-25 9-25 13-26 18-26 22-31 28-33 34-33 38-36 43-28 38-28 39-21 35-19 34-16 33-15 35-11 36-9 32M1638 2509l-4 23M2031 2129l-41 46-43 44M1940 2226l-26 24M1829 2326l-11 10"/>
<path class="b" d="M2003 2148l-9 11M1990 2163l-15 16M1963 2190l-17 17M1939 2215l-10 10M1896 2256l-11 10M1871 2279l-11 10"/>
<path class="d" d="M1821 2304l-10 9"/>
<path class="a" d="M2031 2045l-16 13-21 17-48 45M1945 2121l-26 26M1918 2148l-61 63-48 52-40 44-34 42M1730 2356l-8 10"/>
<path class="b" d="M2032 2033l-15 9-18 12-18 14-21 18-51 49-59 61-54 60-41 50-38 51-29 46"/>
<path class="c" d="M2032 2021l-26 10-27 15-28 20-30 25-36 35-39 41-40 46-34 42-29 39-23 34-21 34-21 39-16 35-12 32-10 35-6 33"/>
<path class="d" d="M2043 2117l-38 43-40 42M1956 2211l-14 13M1942 2225l-20 19M1921 2245l-10 9M1890 2273l-13 12M1876 2286l-17 15M1845 2313l-11 9M1813 2341l-9 9M1801 2352l-10 9"/>
<path class="e" d="M2043 2105l-41 46M2001 2151l-33 35M1961 2193l-11 12M1931 2224l-15 13M1747 2394l-12 12"/>
<path class="g" d="M1988 2139l-11 12M1929 2199l-13 13M1908 2220l-28 27M1863 2263l-11 11"/>
<path class="a" d="M2042 2070l-12 12M2023 2089l-20 21M2000 2113l-22 22M1964 2150l-31 31M1932 2182l-10 11M1905 2209l-18 18M1885 2229l-18 17"/>
<path class="b" d="M2043 2057l-42 39M2000 2097l-35 35M1965 2133l-135 135"/>
<path class="c" d="M2043 2045l-28 22-34 32-129 130-45 47-35 39-29 34-24 30M1715 2384l-10 14"/>
<path class="d" d="M2043 2033l-14 9-17 11-36 30-49 47-62 64-56 60-47 55-36 45-30 43"/>
<path class="e" d="M2043 2021l-25 10-24 13-27 20-29 24-35 33-39 40-40 44-39 46-31 39-24 34-23 34-20 33-16 32-14 33-12 33-8 30M1637 2520l-4 19"/>
<path class="g" d="M2054 2105l-50 57-51 54M1952 2216l-24 23M1922 2246l-32 29M1883 2281l-11 10M1865 2297l-18 15M1834 2324l-10 9M1808 2347l-10 9M1790 2363l-10 9M1746 2403l-11 11"/>
<path class="a" d="M2054 2093l-10 11M1962 2194l-12 12M1934 2222l-12 11M1911 2244l-13 12"/>
<path class="c" d="M2054 2069l-13 13M2041 2083l-13 14M2015 2110l-10 11M1995 2131l-9 9M1975 2152l-68 69M1906 2222l-10 10M1895 2232l-19 19M1872 2255l-18 16M1850 2275l-13 13M1833 2292l-18 17M1813 2311l-10 9"/>
<path class="d" d="M2054 2057l-29 28-102 105-118 116-40 41"/>
<path class="e" d="M2054 2045l-24 20-33 31-191 194-32 33-30 34-27 33-20 27"/>
<path class="f" d="M2054 2033l-20 13-22 18-27 23-33 32-59 59-59 62-45 49-32 37M1756 2326l-37 47-29 41"/>
<path class="g" d="M2054 2021l-25 10-25 15-27 20-32 28-40 38-49 52-44 48-41 48-26 34-25 34-22 34-18 32-15 29-13 31-10 31-7 31"/>
<path class="b" d="M1999 2183l-10 11M1966 2217l-31 30"/>
<path class="c" d="M2052 2109l-16 19M2032 2132l-17 21M2001 2167l-11 13M1981 2189l-21 22M1958 2213l-25 23M1913 2255l-11 10M1741 2409l-11 11"/>
<path class="f" d="M2065 2057l-122 127-151 147-54 56"/>
<path class="g" d="M2065 2045l-18 15-22 22-99 101-132 132-47 50-40 47"/>
<path class="a" d="M2052 2041l-11 9M2019 2069l-18 17M1987 2099l-31 31M1955 2130l-9 10M1931 2155l-14 14M1910 2177l-10 10M1899 2188l-17 16M1880 2206l-32 33M1824 2264l-12 13M1800 2289l-19 20M1780 2311l-14 15M1765 2328l-9 10M1749 2346l-11 13M1729 2371l-28 35"/>
<path class="b" d="M2065 2021l-23 10-24 15-26 20-31 27-42 41-55 56-50 54-42 49-28 34-25 34-19 27-19 32-15 29-12 26-10 27-8 29M1636 2532l-5 25M2006 2215l-14 14M1967 2255l-11 9"/>
<path class="e" d="M2077 2093l-30 38-27 31-25 28-31 31-30 29-34 31-105 89M1795 2371l-14 11M1768 2394l-17 15M1735 2423l-9 9"/>
<path class="b" d="M2077 2045l-13 12M2059 2061l-9 9M2049 2071l-29 30M2018 2104l-15 16M1999 2123l-28 30M1970 2154l-14 14M1955 2169l-27 27M1924 2201l-12 11M1912 2212l-52 51M1851 2272l-22 20M1823 2299l-17 16M1806 2315l-11 11M1790 2331l-34 35M1721 2404l-11 13"/>
<path class="c" d="M2062 2043l-16 13M2046 2057l-36 34-86 87M1923 2179l-13 13M1900 2202l-12 12M1887 2215l-40 40M1846 2256l-28 28M1802 2301l-33 34M1739 2369l-15 18M1722 2389l-11 14M1708 2407l-21 28"/>
<path class="d" d="M2077 2021l-23 10-22 15-25 19-29 27-52 51-71 72-53 57-39 44-28 34-21 28-18 27-19 30-15 28-10 24-9 25-8 27M1635 2540l-3 13"/>
<path class="g" d="M2009 2273l-11 10"/>
<path class="e" d="M1984 2242l-15 14"/>
<path class="f" d="M2020 2192l-11 12M1990 2224l-12 12M1976 2238l-16 15M1918 2291l-10 8"/>
<path class="a" d="M2088 2081l-32 42-31 37-33 36-31 32-54 50-138 117-49 45"/>
<path class="b" d="M2001 2172l-14 15M1982 2192l-39 40"/>
<path class="d" d="M2085 2047l-20 21-64 70-40 42-45 45-58 54M1857 2281l-51 47M1804 2330l-11 10M1757 2375l-10 10"/>
<path class="e" d="M2088 2033l-19 15-21 20-114 117-123 120-44 44-30 33-23 26-19 25-19 27"/>
<path class="f" d="M2088 2021l-21 10-21 14-23 20-28 26-58 57-107 109-46 49-40 45-26 33-20 26-16 25-16 28-12 24-11 28-7 25-5 27"/>
<path class="b" d="M2012 2285l-12 11"/>
<path class="d" d="M2094 2162l-22 32-23 31-25 27-30 30-29 25-39 31-43 31-47 31M1815 2415l-18 11"/>
<path class="e" d="M2023 2242l-12 13M2007 2259l-15 14M1957 2304l-12 10"/>
<path class="a" d="M2040 2187l-13 15M2016 2215l-16 16M1993 2238l-12 13M1976 2256l-11 10"/>
<path class="b" d="M2071 2134l-17 23M2050 2162l-8 10M2032 2184l-9 11M2022 2195l-16 17M1985 2234l-16 16M1964 2255l-16 14M1943 2273l-28 25"/>
<path class="c" d="M2096 2084l-7 11M2071 2120l-8 12M2062 2132l-34 42-35 40M1992 2214l-26 27-27 24-36 31-36 30M1866 2327l-12 10M1846 2343l-18 15"/>
<path class="d" d="M2099 2069l-37 50-29 35-31 36-35 35-31 30-34 30-150 127-32 29-23 24"/>
<path class="e" d="M2042 2127l-12 15M2023 2150l-43 46M1964 2213l-14 14M1949 2227l-19 18M1899 2274l-11 10"/>
<path class="f" d="M2099 2045l-20 21-61 71-41 45-50 50-65 59M1861 2293l-83 74M1777 2368l-15 14M1761 2383l-20 19M1729 2414l-12 13M1716 2429l-12 13"/>
<path class="g" d="M2099 2033l-15 12-17 18-79 84-51 53-44 43-97 91-44 44-43 46-19 24-16 23M1674 2471l-9 14"/>
<path class="a" d="M2099 2021l-16 8-17 12-18 15-22 21-218 218-62 67-23 27-21 26-17 25-14 22-12 21-10 22-8 22-7 23"/>
<path class="b" d="M2110 2537l-17 6M2090 2544l-13 4M2037 2557l-15 2"/>
<path class="a" d="M2110 2129l-17 29-17 27M2075 2186l-21 28-23 27-28 29-28 25-31 26-34 25-43 31-57 39M1809 2416l-12 8M1795 2426l-13 9M1781 2435l-14 10"/>
<path class="b" d="M2110 2117l-24 41-28 39-29 35-33 33-39 35-39 31-49 37-74 51M1790 2422l-17 12"/>
<path class="c" d="M2081 2152l-15 22M2051 2193l-10 13M2041 2206l-10 12M2029 2220l-10 10M2017 2233l-11 12M2003 2248l-28 26-28 25M1939 2305l-30 24M1900 2336l-19 14M1870 2358l-16 12"/>
<path class="e" d="M1971 2253l-12 12"/>
<path class="f" d="M2110 2069l-35 52-31 40-34 40-36 37-32 29-35 31-138 110-54 47M1713 2458l-11 10"/>
<path class="g" d="M2110 2057l-41 56-27 35-33 38-34 35-35 34-35 31-121 101-41 35-35 33-29 32"/>
<path class="a" d="M2109 2046l-9 11M2091 2068l-8 10M2038 2135l-10 11M1903 2272l-10 9M1785 2374l-10 9M1751 2405l-16 14"/>
<path class="b" d="M2110 2033l-22 22-76 87-57 59-60 58-119 108-48 47-18 20-20 23-16 21-13 20"/>
<path class="c" d="M2110 2021l-11 6-13 9-29 26-124 128-158 155-50 54-22 25-18 24-14 22-12 20-10 21-8 21-6 19-4 21"/>
<path class="g" d="M2121 2501l-13 8-12 6M2082 2521l-24 8M2048 2532l-25 7"/>
<path class="e" d="M2042 2431l-22 13"/>
<path class="f" d="M2002 2445l-18 9"/>
<path class="a" d="M2041 2273l-11 11"/>
<path class="b" d="M2061 2239l-29 32"/>
<path class="c" d="M2027 2266l-18 17"/>
<path class="d" d="M2106 2147l-9 15"/>
<path class="e" d="M2024 2246l-12 13M1954 2311l-13 10M1913 2343l-13 9M1866 2376l-44 30M1797 2423l-11 7"/>
<path class="f" d="M2121 2093l-7 14M2113 2108l-24 41-25 37-28 35-32 34M2002 2257l-39 36-45 36-49 36-86 61M1777 2430l-33 24M1735 2461l-10 8"/>
<path class="g" d="M2121 2081l-29 50-28 41-33 42-36 37-37 35-44 36-48 37-98 70M1767 2431l-18 13M1740 2451l-13 10"/>
<path class="b" d="M2121 2057l-36 56-30 41-32 39-38 40-36 34-42 36-133 105-35 29-34 31-27 28"/>
<path class="c" d="M1999 2201l-16 17M1970 2231l-16 15M1704 2462l-12 12"/>
<path class="d" d="M2121 2033l-19 22-72 89-50 55-32 32-38 35-129 112-50 46-24 23-19 22-16 20-14 22"/>
<path class="e" d="M2121 2021l-15 10-18 17-21 21-70 78-46 48-54 52-122 113-32 32-24 26-32 38-12 17-13 20-9 17-9 18-6 18-6 19"/>
<path class="c" d="M2133 2573l-38 7M2084 2582l-17 2"/>
<path class="e" d="M2132 2549l-21 8-33 8M2071 2566l-20 3"/>
<path class="a" d="M2132 2513l-11 7M2115 2523l-12 6"/>
<path class="b" d="M2132 2417l-12 15M2116 2436l-20 18M2095 2454l-19 12M2076 2467l-24 13-22 9-24 9-30 10"/>
<path class="f" d="M2066 2308l-24 24M2011 2358l-11 8"/>
<path class="g" d="M2105 2245l-18 27M2079 2282l-16 19M2063 2301l-17 18-22 20-24 19-28 20-54 33-77 41"/>
<path class="a" d="M2117 2212l-7 12M2068 2285l-17 20-15 14-17 15-21 17M1992 2355l-48 33M1944 2389l-27 16M1912 2408l-22 12"/>
<path class="b" d="M2122 2189l-12 23M2067 2277l-16 17M2050 2295l-24 24-32 27M1973 2361l-13 10M1959 2371l-24 16M1916 2398l-16 10M1892 2413l-13 6"/>
<path class="c" d="M2072 2259l-29 34-20 19-19 17M1997 2334l-24 19M1953 2367l-28 18M1915 2392l-29 17M1859 2424l-13 8"/>
<path class="d" d="M2133 2141l-11 24-11 22-11 20-14 22-13 18-15 19-18 19-20 20-22 20-19 15-49 35-55 34-78 45M1796 2454l-40 23"/>
<path class="g" d="M2114 2144l-7 14M2103 2166l-23 36-22 30-29 33-31 29-29 26-41 30-44 31-58 37"/>
<path class="a" d="M2133 2093l-21 43-22 38-25 36-26 32-32 33-34 30-38 31-47 34M1833 2406l-26 17M1742 2466l-20 15"/>
<path class="b" d="M1732 2468l-13 10"/>
<path class="c" d="M2133 2069l-31 57-16 26-15 22-18 24-18 21-21 23-19 20-39 35-45 36-42 31-112 79-49 39"/>
<path class="d" d="M2133 2057l-35 61-31 45-17 24-18 21-39 41-38 35-43 36-48 37-103 75-51 42M1692 2490l-9 9"/>
<path class="e" d="M2133 2045l-42 65-27 40-34 42-37 40-41 39-43 37-39 31-101 78-40 33-20 17-20 20-17 18-11 14"/>
<path class="f" d="M2133 2033l-15 18-43 61-25 33-32 38-32 35-40 38-40 36-145 118M1754 2417l-17 15M1736 2432l-14 13M1717 2449l-10 11M1702 2464l-28 32M1664 2509l-8 11"/>
<path class="g" d="M2133 2021l-14 10-14 15-83 99-30 34-30 30-62 58-139 124-32 30-27 28-27 34-13 19-10 16-8 17-6 14-5 17-3 16"/>
<path class="d" d="M2144 2585l-19 3-31 4"/>
<path class="g" d="M2144 2549l-18 8-25 7-25 5-37 5"/>
<path class="f" d="M2144 2477l-16 15-21 14-22 11-32 11M2052 2528l-28 8M2020 2537l-27 6"/>
<path class="c" d="M2081 2484l-29 14"/>
<path class="f" d="M2043 2480l-12 5"/>
<path class="d" d="M2104 2394l-17 17M2086 2412l-13 10M2024 2453l-25 12M1975 2475l-18 7"/>
<path class="e" d="M2104 2384l-17 18-24 19M2037 2438l-33 18M1998 2459l-28 12M1967 2472l-36 14"/>
<path class="f" d="M1998 2452l-22 10M1962 2468l-12 5"/>
<path class="a" d="M2051 2346l-10 10M1962 2410l-12 7M1946 2419l-11 6"/>
<path class="c" d="M2135 2203l-8 17M2120 2235l-20 35M2099 2271l-20 28-27 29M2051 2328l-14 13M2037 2342l-24 19M2012 2362l-26 19-24 15M1955 2400l-16 10M1936 2411l-55 30M1877 2442l-62 30"/>
<path class="d" d="M2137 2183l-17 41-12 22-12 18-13 19-12 15-13 14-17 16M2041 2329l-10 9M2030 2339l-37 29M1988 2371l-34 23M1953 2394l-21 13M1929 2408l-13 8M1910 2419l-47 25-62 31M1797 2476l-27 14"/>
<path class="g" d="M2101 2224l-8 12M2079 2257l-10 12M2050 2291l-18 18M1874 2419l-11 7"/>
<path class="b" d="M2144 2105l-15 38M2128 2146l-11 23-12 23-24 39-14 18-15 19-34 34-41 35-42 30-54 34-73 44M1807 2445l-29 17M1771 2466l-28 17"/>
<path class="c" d="M2143 2096l-5 13M2137 2111l-11 27-12 24-12 22-15 25-15 22-15 18-16 19-19 20-22 19-24 21-48 35-53 35-89 53M1782 2454l-31 19M1751 2473l-15 9"/>
<path class="d" d="M2144 2081l-13 32-14 30-15 27-14 24-17 25-18 23-21 23-20 20-40 35-26 20-28 21-53 35-109 68-47 33"/>
<path class="e" d="M2131 2099l-6 13M2124 2115l-6 12M2117 2129l-7 14M2096 2168l-19 28-17 24M2055 2225l-20 24-20 21M1977 2305l-10 8"/>
<path class="f" d="M2144 2057l-29 60-13 24-15 25-16 23-16 21-18 22-21 23M2013 2258l-41 37-44 36-50 36-82 57M1795 2424l-37 26M1753 2453l-16 11M1720 2477l-19 15M1699 2494l-14 12"/>
<path class="g" d="M2144 2045l-37 70-15 24-15 24-17 23-17 21-19 22-23 24-43 39-45 37-49 36-97 70-46 35-19 15-20 18-15 16-10 13"/>
<path class="a" d="M2144 2033l-12 18-37 62-26 37-32 42-37 40-40 39-42 36-47 37-102 77-45 37-19 16-20 20-16 17-14 18"/>
<path class="b" d="M2144 2021l-11 10-12 14-49 69-30 38-30 35-33 35-36 34-40 36-123 101-35 30-31 28-24 26-25 29-17 27-12 26-6 26"/>
<path class="e" d="M2155 2597l-22 2"/>
<path class="g" d="M2155 2573l-15 5-20 4-28 4-36 3M2053 2589l-14 1"/>
<path class="b" d="M2155 2549l-11 6-14 6-18 5-17 4"/>
<path class="f" d="M2155 2501l-7 8-9 7-10 7-13 7-27 10-36 10M2052 2550l-52 10M1964 2565l-14 2"/>
<path class="g" d="M2076 2537l-19 5"/>
<path class="a" d="M2093 2523l-18 7"/>
<path class="e" d="M2142 2451l-10 11M2123 2470l-14 11M2083 2497l-19 8-24 9M2020 2521l-13 3M2003 2525l-14 4"/>
<path class="f" d="M2117 2467l-12 9M2104 2476l-19 12-25 12-29 11-31 10M1991 2523l-22 6"/>
<path class="b" d="M2046 2485l-16 7"/>
<path class="c" d="M2039 2482l-24 10-25 9M1975 2506l-26 7"/>
<path class="g" d="M2079 2430l-11 7M2046 2451l-16 9M2027 2461l-13 6M1984 2480l-27 10"/>
<path class="a" d="M2098 2405l-17 15-16 12-19 12-27 15M2015 2460l-22 10M1991 2471l-47 18M1938 2491l-14 5"/>
<path class="b" d="M2073 2418l-24 17M2040 2441l-21 11M1997 2463l-12 5"/>
<path class="e" d="M1982 2451l-13 6"/>
<path class="f" d="M2008 2432l-12 6M1977 2448l-16 7"/>
<path class="g" d="M2096 2355l-11 12M2083 2369l-21 19-23 17M2038 2406l-12 8M2018 2419l-21 12M1994 2433l-30 15-31 14M1906 2473l-15 6"/>
<path class="a" d="M2122 2309l-17 25-19 23-25 23-29 23-35 22-40 21-44 19-55 22"/>
<path class="b" d="M2129 2285l-10 18M2111 2316l-10 14M2101 2330l-20 24-20 18-29 23-27 18-30 17-33 17-45 20-51 20"/>
<path class="c" d="M2083 2343l-12 12M2066 2359l-13 12M2051 2373l-34 25M2005 2406l-28 17-37 19M1933 2445l-31 14"/>
<path class="e" d="M2138 2231l-8 20-9 18-11 19-13 19-15 19-13 14-15 14-17 15-19 14-20 14-46 26-51 26-70 31"/>
<path class="f" d="M2144 2204l-6 15M2138 2220l-9 21-9 18-10 18-12 19-15 19-13 15-14 14-16 14-18 15-20 14-45 27-50 26-75 35M1821 2480l-11 5"/>
<path class="g" d="M2101 2281l-13 18-16 19-19 19-16 15-37 28-22 15-27 16M1950 2412l-12 6M1931 2422l-34 17-42 21M1853 2461l-35 16"/>
<path class="a" d="M2148 2166l-4 14M2143 2182l-14 37-18 35-21 33-26 31M2063 2318l-22 22-29 24-27 19-37 23M1947 2406l-32 18-34 18-109 52M1770 2495l-17 8M1744 2507l-11 6"/>
<path class="b" d="M2135 2192l-10 23M2121 2223l-9 18M2111 2244l-9 14M2100 2262l-18 25M2072 2299l-21 22-19 18M1916 2417l-27 15M1888 2432l-19 10M1861 2446l-26 13M1819 2467l-33 16"/>
<path class="c" d="M2104 2243l-13 21M2087 2270l-11 13M2031 2331l-33 26M1983 2368l-22 15M1943 2395l-18 10M1919 2409l-35 19M1844 2449l-26 13"/>
<path class="d" d="M2140 2154l-12 30-11 24-11 21-15 23-13 18-16 19-18 20-21 19-24 20-20 15-52 34-57 32-127 67"/>
<path class="e" d="M2154 2097l-11 35-12 33-14 30-14 25-17 27-17 23-22 24-20 20-22 20-19 15-28 19-30 20-48 28-116 64-48 28M1711 2511l-15 10"/>
<path class="f" d="M2155 2081l-11 34-11 30-12 28-12 24-14 25-16 22-18 23-17 20-20 19-23 20-25 20-28 20-61 39-99 56M1786 2462l-27 16M1758 2478l-40 24"/>
<path class="g" d="M2155 2069l-12 37-12 31-14 30-14 27-16 25-20 27-20 24-23 24-22 20-24 20-49 35-54 35-132 78-33 22-27 19"/>
<path class="a" d="M2155 2057l-15 42-14 32-14 30-14 26-16 25-20 26-20 24-23 24-40 35-47 35-53 35-112 70-37 23-34 25-29 25"/>
<path class="b" d="M2155 2045l-19 47-14 30-14 28-15 26-15 24-20 26-19 23-23 24-21 19-23 21-47 35-51 36-129 83-28 20-25 19M1688 2510l-19 17"/>
<path class="c" d="M2155 2033l-40 82-13 23-14 24-16 23-19 25-19 22-22 24-42 40-52 41-50 36-113 77-44 33-21 18-20 20-14 16-12 17"/>
<path class="d" d="M2155 2021l-7 8-8 13-39 65-25 39-27 37-29 34-42 42-46 41-53 42-128 96-33 26-26 24-25 27-11 15-9 13-7 12-5 13-4 13-2 13"/>
<path class="g" d="M2166 2597l-16 2-21 2-67 2M2043 2604l-15 0"/>
<path class="a" d="M2166 2585l-12 4-20 3-61 5M2071 2597l-22 1"/>
<path class="b" d="M2166 2573l-10 5-11 3-19 4-19 3M2101 2588l-26 3"/>
<path class="c" d="M2166 2561l-10 6-14 6-15 4-20 4M2099 2582l-23 3M2073 2585l-18 2"/>
<path class="d" d="M2166 2549l-7 6-10 6-13 5-12 4-38 7-48 6M2017 2584l-15 2"/>
<path class="e" d="M2166 2537l-7 7-10 7-12 6-16 6-21 5-26 4-58 8"/>
<path class="g" d="M2166 2513l-7 9-9 9-12 8-15 7-20 7-17 5-28 5-28 5M2017 2570l-19 2"/>
<path class="a" d="M2166 2501l-8 13-10 9-12 9-16 8-20 7-25 7-58 11M2004 2566l-15 2"/>
<path class="b" d="M2158 2502l-11 13M2094 2542l-20 6"/>
<path class="c" d="M2163 2485l-8 11M2152 2499l-9 9M2119 2525l-16 7-17 6-40 11M2041 2550l-19 4M2015 2555l-22 4"/>
<path class="d" d="M2156 2485l-9 11-12 11-16 10-14 7-23 9-20 6-31 8-30 5M1996 2553l-23 4"/>
<path class="e" d="M2149 2484l-7 7-10 9-11 8-14 8-28 12-37 10M2041 2539l-20 4M2020 2544l-40 8M1958 2555l-15 3"/>
<path class="f" d="M2068 2525l-15 5M2027 2537l-31 7"/>
<path class="g" d="M2153 2457l-10 15-11 11M2117 2495l-15 9M2099 2505l-28 13-36 11M2034 2530l-30 7"/>
<path class="a" d="M2151 2451l-9 12M2140 2466l-14 14M2121 2484l-18 12-22 11-27 11-38 11M2006 2532l-23 5"/>
<path class="b" d="M2138 2459l-12 13-12 9-14 10-16 8-19 9-22 8-44 13M1986 2532l-15 3"/>
<path class="d" d="M2157 2409l-7 13M2131 2450l-11 11M2119 2462l-14 10M2101 2475l-12 8-17 9-35 15M2031 2509l-15 5M2009 2516l-28 8"/>
<path class="e" d="M2129 2444l-9 9M2119 2454l-20 16M2098 2470l-29 17M2057 2493l-33 12M2023 2506l-33 10"/>
<path class="f" d="M2120 2445l-14 12M2085 2471l-32 17-22 10-27 9M2000 2508l-14 5M1985 2513l-23 6"/>
<path class="g" d="M2120 2436l-12 12M2106 2450l-15 11M2059 2479l-17 8"/>
<path class="b" d="M2120 2420l-9 9M2087 2449l-19 13M2067 2462l-11 6M2054 2469l-23 11-31 13M1998 2493l-28 10M1939 2512l-14 4"/>
<path class="c" d="M2127 2403l-13 16-13 12-14 12-18 12M2068 2455l-24 13-34 16M2008 2485l-41 14M1966 2500l-18 5"/>
<path class="d" d="M2116 2408l-21 21-27 19-32 19-40 17M1988 2487l-30 11"/>
<path class="e" d="M2116 2399l-19 21M2091 2425l-24 18M2066 2443l-18 11-21 11-48 20M1962 2491l-56 18"/>
<path class="f" d="M2117 2390l-17 19M2098 2411l-24 20M2073 2432l-33 20M2023 2461l-29 13M1979 2480l-23 9"/>
<path class="g" d="M2117 2382l-9 10M2071 2426l-21 14M1944 2488l-16 6"/>
<path class="a" d="M2108 2384l-14 16M2008 2457l-15 7M1964 2476l-20 8M1935 2487l-20 7"/>
<path class="b" d="M2130 2344l-16 24-11 14-12 12M2061 2419l-21 14-21 12-23 12-32 14M1944 2479l-20 7M1921 2487l-18 7M1883 2500l-44 14"/>
<path class="c" d="M2125 2344l-8 12M2115 2359l-14 17M2100 2377l-14 15-21 17-24 17-21 12-23 12-33 16-36 14-48 17"/>
<path class="d" d="M2125 2335l-8 12M2112 2354l-20 24M2091 2378l-15 15-16 13-18 13-20 12-23 13-24 11-49 21M1923 2477l-17 7M1904 2484l-17 6M1885 2491l-26 9"/>
<path class="e" d="M2136 2304l-10 20M2124 2327l-17 26-21 22-25 23-24 17-28 17-39 20-44 19-56 21M1865 2494l-23 8"/>
<path class="f" d="M2145 2271l-13 32M2124 2317l-17 26-22 26M2084 2370l-16 15-16 13M2039 2407l-26 17M2012 2424l-30 17-43 20-36 15-53 20M1845 2497l-26 9"/>
<path class="g" d="M2132 2292l-12 23-15 22M2099 2344l-9 12M2086 2359l-10 10M2076 2370l-10 9M2025 2410l-19 12M1995 2428l-48 24M1941 2455l-38 16M1891 2476l-17 7M1871 2484l-13 5M1852 2491l-21 8M1817 2503l-18 7M1798 2511l-16 6"/>
<path class="a" d="M2129 2288l-7 13M2086 2351l-11 12"/>
<path class="b" d="M2137 2259l-7 17M2123 2290l-13 21-15 20M2091 2337l-13 14M2075 2355l-20 17-17 14-19 14-21 13-23 13-33 17-61 27M1872 2474l-44 18M1822 2494l-22 9"/>
<path class="c" d="M2147 2221l-10 27-10 23-12 23-13 19-15 19-17 19-21 19-17 14-20 13-21 14-24 13-33 17-62 28-119 49M1751 2519l-14 6"/>
<path class="d" d="M2158 2171l-9 31-9 29-12 27-11 23-15 23-15 19-17 19-20 19-24 19-20 14-29 18-32 18-34 17-35 16-116 49M1757 2513l-18 8"/>
<path class="e" d="M2106 2287l-7 11M1762 2507l-32 15"/>
<path class="f" d="M2160 2135l-9 37-10 30-11 30-13 27-14 23-18 24-21 24-20 19-23 19-27 19-30 18-32 18-60 30-113 52-46 22M1706 2531l-12 7"/>
<path class="g" d="M2154 2148l-9 31-10 27-11 26-14 26-15 24-18 23-18 20-20 19-24 19-20 15-29 19-31 18-59 31-131 62"/>
<path class="a" d="M2166 2081l-9 42-11 38-12 34-12 29-15 27-18 27-19 24-23 25-22 19-25 19-28 20-30 18-67 36-144 72-36 20-26 17"/>
<path class="b" d="M2158 2105l-5 18M2153 2125l-8 27-11 29M2133 2183l-13 30-16 30-16 23-20 26M2060 2301l-18 18-21 20-25 19-21 15-53 33-77 42M1843 2449l-66 33M1776 2483l-21 11M1753 2495l-29 15-27 16M1664 2550l-10 9"/>
<path class="c" d="M2166 2057l-11 46-11 36-13 34-15 32-16 30-19 27-19 24-24 24-21 20-25 20-27 20-30 19-56 33-149 80-35 22-26 19"/>
<path class="d" d="M2166 2045l-14 51-11 34-13 33-15 30-16 29-18 27-19 23-23 25-21 19-23 20-48 35-62 39-123 69-47 28-23 16-17 13-16 14-11 12"/>
<path class="e" d="M2166 2033l-31 88-11 28-15 29-16 28-18 26-18 23-21 24-26 25-23 20-26 20-28 20-62 40-125 74-47 32-23 18-16 15-14 17-10 15"/>
<path class="f" d="M2166 2021l-9 19-35 78-23 45-14 23-18 25-18 22-20 24-25 24-22 20-25 20-26 21-59 40-127 84-28 20-27 21-25 24-18 21-7 11-5 12-4 11-3 11"/>
<path class="a" d="M2178 2609l-550 0"/>
<path class="b" d="M2178 2597l-10 3-18 2-67 2-442 5"/>
<path class="c" d="M2178 2585l-10 5-17 4-26 3-39 2-118 4-314 5"/>
<path class="d" d="M2178 2573l-6 5-5 3-19 6-26 4-41 4-119 5-302 7M1656 2607l-13 0"/>
<path class="e" d="M2178 2561l-6 6-5 5-8 4-10 3-26 6-39 5-47 3-70 3-303 10M1662 2606l-13 1"/>
<path class="f" d="M2178 2549l-5 8-6 5-7 5-10 5-13 4-17 3-40 6-48 4-70 4-309 13"/>
<path class="g" d="M2178 2537l-5 9-6 7-7 5-9 6-13 5-16 4-40 7-55 6-71 4-273 13M1682 2603l-13 1"/>
<path class="a" d="M2178 2525l-5 10-7 10-8 6-9 6-13 6-17 5-41 8-47 5-70 6-253 14-59 4"/>
<path class="b" d="M2178 2513l-5 12-7 10-7 8-10 6-12 7-16 5-40 9-55 8-70 6-295 19"/>
<path class="c" d="M2178 2501l-5 13-6 11-8 9-9 7-12 7-16 7-20 6-18 4-54 8-68 7-252 18-63 6"/>
<path class="d" d="M2178 2489l-5 14-6 12-7 10-9 8-12 8-15 7-19 7-18 4-52 10-67 7-77 7-210 16M1680 2599l-30 4M1649 2603l-15 3"/>
<path class="e" d="M2178 2477l-5 15-6 13-9 13-9 9-12 8-16 8-19 7-18 5-53 10-68 9-76 7-170 14-58 6M1657 2601l-15 3"/>
<path class="f" d="M2178 2465l-5 16-6 14-8 14-9 10-12 9-15 8-19 8-24 7-53 11-69 9-75 8-162 14-54 6M1647 2602l-14 3"/>
<path class="g" d="M2178 2453l-6 20-6 15-8 14-10 11-12 9-15 9-20 8-17 6-21 5-32 7-66 10-76 8-182 18-38 5-24 4"/>
<path class="a" d="M2178 2441l-5 21-6 16-9 15-9 11-11 10-15 10-19 9-23 8-21 5-32 7-67 11-75 9-149 16-57 6M1672 2596l-27 5-15 5"/>
<path class="b" d="M2178 2429l-5 22-6 17-8 16-9 11-11 11-14 10-19 10-22 9-20 6-31 7-66 12-85 11-172 19-36 5-25 5"/>
<path class="c" d="M2178 2417l-5 23-6 18-8 16-10 16-12 11-15 10-18 10-23 9-20 7-32 8-65 12-75 10-175 21-59 10M1654 2598l-14 3-9 4"/>
<path class="d" d="M2178 2405l-5 24-7 22-8 17-11 16-12 11-15 11-18 11-24 9-20 7-32 8-66 13-74 11-179 23-38 6-25 6"/>
<path class="e" d="M2178 2393l-5 24-6 23-8 18-11 17-11 12-14 12-18 11-23 10-20 7-30 9-36 8-39 7-74 12-166 22-51 9M1660 2595l-20 5"/>
<path class="f" d="M2178 2381l-5 25-6 24-8 18-10 18-14 16-14 12-19 11-22 10-20 8-31 9-65 14-83 14-170 25-33 5-24 6M1653 2596l-18 6"/>
<path class="g" d="M2178 2369l-5 25-6 25-7 19-10 18-13 17-14 13-18 11-21 12-19 7-30 10-35 9-38 8-73 13-173 27-54 10M1661 2593l-18 5-11 5"/>
<path class="a" d="M2178 2357l-5 30-7 25-7 20-10 18-14 17-14 13-17 13-22 11-19 8-30 10-35 10-38 8-73 14-166 26-51 10M1669 2590l-13 4M1651 2595l-18 7"/>
<path class="b" d="M2178 2345l-5 31-6 25-9 24-10 19-14 18-14 13-18 13-22 12-19 8-30 10-26 8-37 9-82 16-177 30-35 7-24 7M1649 2595l-12 5"/>
<path class="c" d="M2178 2333l-5 31-6 26-8 25-10 19-13 19-14 14-21 16-22 12-20 9-22 8-25 8-36 9-81 18-156 27-46 9-40 10-13 5-8 4"/>
<path class="d" d="M2178 2321l-6 36-6 26-8 25-10 20-13 19-14 14-22 17-22 13-19 8-30 12-26 8-37 9-81 18-176 32-34 8-22 7M1651 2593l-15 6"/>
<path class="e" d="M2178 2309l-6 36-5 27-8 25-10 21-12 19-13 15-21 17-21 14-25 12-22 9-34 11-37 10-81 18-169 33-33 7-23 7"/>
<path class="f" d="M2178 2297l-5 36-7 31-8 26-10 21-12 20-13 15-21 18-21 14-25 12-22 9-24 9-36 11-80 19-195 40-39 10-13 5-11 5"/>
<path class="g" d="M2178 2285l-5 36-6 32-8 26-11 26-13 20-13 15-21 19-21 13-25 14-21 9-33 12-37 11-80 19-174 37-39 10-23 8M1644 2594l-11 6"/>
<path class="a" d="M2178 2273l-5 36-6 32-7 26-11 26-12 21-16 20-20 19-21 14-25 14-21 9-24 9-36 12-38 11-41 9-146 32-49 12-42 12-14 6-9 5"/>
<path class="b" d="M2178 2261l-5 40-7 32-7 27-10 26-12 21-16 21-21 19-20 14-25 14-21 10-32 13-36 11-79 21-175 40-32 9-24 8M1645 2592l-9 5-6 5"/>
<path class="c" d="M2178 2249l-5 40-7 36-8 27-10 27-12 21-15 21-21 20-20 15-24 14-29 13-33 13-36 12-69 19-157 37-55 15M1675 2579l-14 5"/>
<path class="d" d="M2178 2237l-5 39-6 37-9 31-10 27-12 22-15 21-20 20-20 15-24 15-28 14-33 13-36 12-68 20-158 38-53 15M1680 2576l-24 9-16 8"/>
<path class="e" d="M2178 2225l-5 43-7 36-8 32-11 27-14 27-16 21-20 20-21 16-24 14-22 11-31 14-36 12-38 12-40 11-167 43-34 10-25 9"/>
<path class="f" d="M2178 2213l-6 47-6 36-9 32-10 27-14 27-15 21-20 21-20 16-24 15-21 11-31 14-35 13-38 12-39 12-180 47-38 13-25 11"/>
<path class="g" d="M2178 2201l-6 46-7 40-8 32-10 27-13 27-15 22-20 21-20 16-23 16-27 15-32 14-35 13-37 13-40 12-177 48-40 14-25 12M1643 2590l-11 9"/>
<path class="a" d="M2178 2189l-6 49-7 39-9 37-10 27-14 27-16 22-20 22-20 16-23 16-28 15-31 15-35 13-38 13-39 12-164 47-38 12-24 10M1649 2585l-11 7"/>
<path class="b" d="M2178 2177l-6 47-7 43-9 37-10 27-13 28-15 22-20 22-24 21-24 16-20 12-31 14-34 15-37 13-39 12-140 41-48 15-25 9-17 8-13 7-10 7"/>
<path class="c" d="M2178 2165l-6 49-6 39-9 35-10 33-13 27-15 23-18 22-23 21-23 17-20 12-29 15-33 15-37 14-38 13-156 47-46 15-23 9-16 8-13 8-10 7"/>
<path class="d" d="M2178 2153l-6 51-7 42-9 36-10 32-13 27-15 23-18 23-23 21-23 17-26 16-30 16-34 15-37 14-38 13-171 54-37 14-24 11M1643 2586l-10 9"/>
<path class="e" d="M2178 2141l-6 52-7 41-8 35-10 32-13 28-16 28-18 22-23 22-22 18-26 16-22 12-33 15-35 15-47 17-147 47-46 17-24 10-17 8-14 9-9 8"/>
<path class="f" d="M2178 2129l-6 53-7 44-10 39-11 32-12 28-17 28-19 22-23 23-23 17-26 17-30 16-33 15-36 15-38 14-131 43-44 16-38 16-26 14"/>
<path class="g" d="M2178 2117l-6 53-8 46-9 39-11 32-12 27-16 28-18 23-23 23-21 18-26 17-29 16-41 20-36 15-37 14-168 59-37 15-28 15M1651 2578l-10 8"/>
<path class="a" d="M2178 2105l-6 52-7 44-9 38-11 36-14 32-17 28-17 23-23 23-21 18-25 17-29 17-32 17-35 15-46 18-136 49-42 16-40 18-14 9-12 8"/>
<path class="b" d="M2178 2093l-7 54-7 46-10 41-11 35-15 33-17 28-18 23-23 23-21 18-26 18-21 13-32 17-34 16-45 19-144 53-46 19-24 11-17 10-15 10-10 9"/>
<path class="c" d="M2178 2081l-7 57-8 44-9 40-11 35-14 32-16 28-21 28-23 23-21 19-25 18-29 17-32 17-34 16-36 16-143 55-42 17-39 20-14 9-12 9M1640 2583l-8 10"/>
<path class="d" d="M2178 2069l-7 55-8 44-10 43-11 34-13 31-16 28-20 29-22 23-20 19-24 18-21 14-30 17-33 17-43 21-158 63-49 22-22 12-19 13-13 11-8 12"/>
<path class="e" d="M2178 2057l-8 58-9 46-10 41-11 34-14 31-18 33-21 28-23 24-21 19-25 18-28 19-31 17-33 17-36 17-140 59-42 19-22 11-20 12-15 11-12 11M1638 2583l-5 8-4 9"/>
<path class="f" d="M2178 2045l-10 59-8 43-9 39-13 37-15 35-16 27-20 29-22 24-20 19-24 19-20 14-29 18-32 18-43 21-147 66-51 25-24 13-20 15-15 13-8 12"/>
<path class="g" d="M2178 2033l-12 64-9 41-10 37-12 35-16 35-16 27-20 28-22 25-25 24-24 19-28 19-38 23-33 18-34 17-147 70-27 14-21 13-22 14-15 14-12 14-6 14"/>
<path class="a" d="M2178 2021l-26 103-11 35-11 30-16 33-15 26-20 28-20 24-24 25-23 19-26 20-36 24-31 19-41 23-144 74-32 19-24 16-23 19-16 17-5 9-3 8-3 8 0 9"/>
<path class="b" d="M2178 2009l-548 0"/>
<path class="c" d="M2189 2021l0 588"/>
</g></g>
<circle cx="1627.6" cy="2008.7" r="16.5" fill="#0000FF" stroke="#000" stroke-width="2.2"/><circle cx="2188.8" cy="2008.7" r="16.5" fill="#0000FF" stroke="#000" stroke-width="2.2"/><circle cx="2188.8" cy="2609" r="16.5" fill="#0000FF" stroke="#000" stroke-width="2.2"/><circle cx="1627.6" cy="2609" r="16.5" fill="#00FF00" stroke="#000" stroke-width="2.2"/>
<text x="1905.6" y="1989" font-size="56.5" text-anchor="middle" textLength="144.6" lengthAdjust="spacingAndGlyphs">Case 3</text>
<text x="1627.6" y="2675" font-size="52" text-anchor="middle" fill="#262626" textLength="25.0" lengthAdjust="spacingAndGlyphs">0</text>
<text x="1739.8" y="2675" font-size="52" text-anchor="middle" fill="#262626" textLength="62.4" lengthAdjust="spacingAndGlyphs">0.2</text>
<text x="1852.1" y="2675" font-size="52" text-anchor="middle" fill="#262626" textLength="62.4" lengthAdjust="spacingAndGlyphs">0.4</text>
<text x="1964.3" y="2675" font-size="52" text-anchor="middle" fill="#262626" textLength="62.4" lengthAdjust="spacingAndGlyphs">0.6</text>
<text x="2076.6" y="2675" font-size="52" text-anchor="middle" fill="#262626" textLength="62.4" lengthAdjust="spacingAndGlyphs">0.8</text>
<text x="2188.8" y="2675" font-size="52" text-anchor="middle" fill="#262626" textLength="25.0" lengthAdjust="spacingAndGlyphs">1</text>
<text x="1608.2" y="2629" font-size="52" text-anchor="end" fill="#262626" textLength="25.0" lengthAdjust="spacingAndGlyphs">0</text>
<text x="1608.2" y="2508.9" font-size="52" text-anchor="end" fill="#262626" textLength="62.4" lengthAdjust="spacingAndGlyphs">0.2</text>
<text x="1608.2" y="2388.9" font-size="52" text-anchor="end" fill="#262626" textLength="62.4" lengthAdjust="spacingAndGlyphs">0.4</text>
<text x="1608.2" y="2268.8" font-size="52" text-anchor="end" fill="#262626" textLength="62.4" lengthAdjust="spacingAndGlyphs">0.6</text>
<text x="1608.2" y="2148.7" font-size="52" text-anchor="end" fill="#262626" textLength="62.4" lengthAdjust="spacingAndGlyphs">0.8</text>
<text x="1608.2" y="2028.7" font-size="52" text-anchor="end" fill="#262626" textLength="25.0" lengthAdjust="spacingAndGlyphs">1</text>
<text x="1907.2" y="2743" font-size="56.5" text-anchor="middle" font-style="italic">x</text>
<text x="1514" y="2331.7" font-size="56.5" font-style="italic" text-anchor="middle">z</text>
<text x="1124.2" y="2831.6" font-size="53.5" text-anchor="middle">(<tspan font-weight="bold">c</tspan>)</text></svg></body></html>
